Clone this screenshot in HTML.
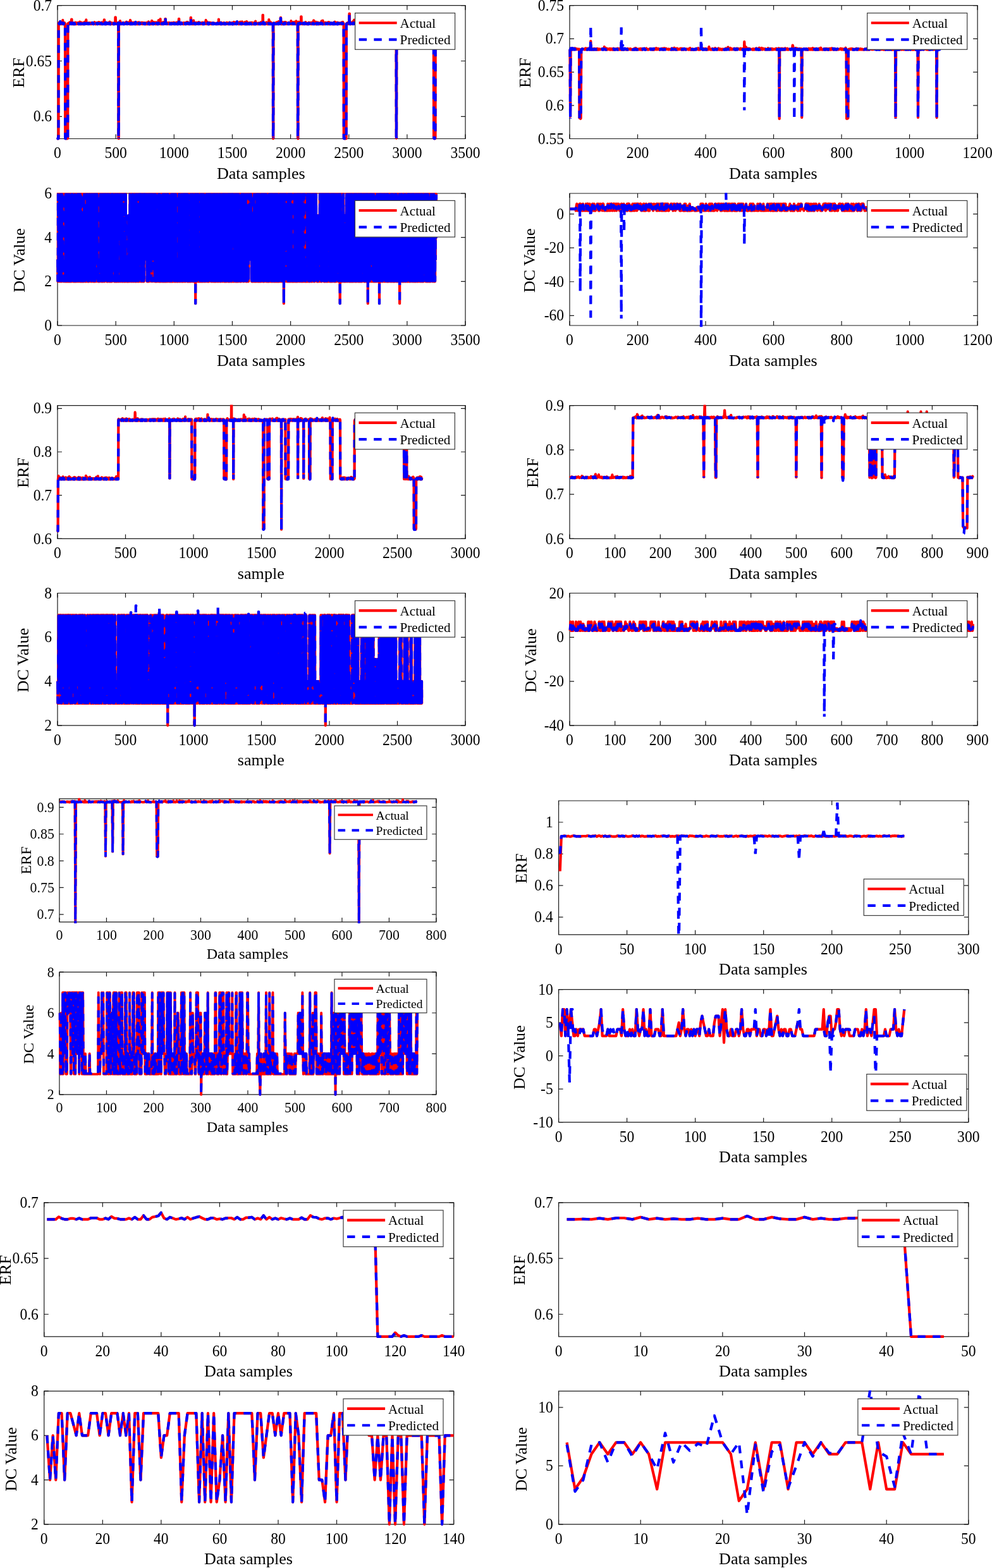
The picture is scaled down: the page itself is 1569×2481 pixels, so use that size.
<!DOCTYPE html>
<html lang="en"><head><meta charset="utf-8"><title>Actual vs Predicted</title>
<style>html,body{margin:0;padding:0;background:#fff}svg{display:block;font-family:"Liberation Serif","Times New Roman",serif}</style></head>
<body>
<svg xmlns="http://www.w3.org/2000/svg" width="1569" height="2481" viewBox="0 0 1569 2481">
<rect width="1569" height="2481" fill="#fff"/>
<g transform="translate(91.00,8.67)">
<clipPath id="c1"><rect x="-2.3" y="-1.1" width="649.6" height="214.2"/></clipPath>
<path d="M0 0H645.05V210.83H0Z" fill="none" stroke="#1a1a1a" stroke-width="1.20"/>
<path d="M0.00 210.83v-7.00M0.00 0v7.00M92.15 210.83v-7.00M92.15 0v7.00M184.30 210.83v-7.00M184.30 0v7.00M276.45 210.83v-7.00M276.45 0v7.00M368.60 210.83v-7.00M368.60 0v7.00M460.75 210.83v-7.00M460.75 0v7.00M552.90 210.83v-7.00M552.90 0v7.00M645.05 210.83v-7.00M645.05 0v7.00M0 175.69h7.00M645.05 175.69h-7.00M0 87.85h7.00M645.05 87.85h-7.00M0 0.00h7.00M645.05 0.00h-7.00" fill="none" stroke="#1a1a1a" stroke-width="1.20"/>
<g clip-path="url(#c1)" fill="none" stroke-width="4.20" stroke-linejoin="round">
<path d="M.2 209.2l.2 .3l.2 1.1l.1 .2l.2-.4l.2-1.1l.2 1.3l.2-1.1l.2-180.2l.1-.6l.2-1.6l.2 2.1l.2-.6l.2-.8l.2 .8l.1 .2l.2-.2l.2-.3l.2-.6l.2 1.2l.2 .4l.2-2.8l.1 2.8l.2-.9l.2-.5l.2 .5h.2l.2-.1l.1 1.1l.2-.5l.2-.4l.2-1l.2 1.2l.2 .1l.2-.3h.1l.2-.2l.2 1.1h.2l.2-.7l.2-.1h.1l.2-.1l.2 .3l.2-5.5l.2 4.9l.2-.9l.1 1.4l.2 .1l.2 .3l.2 .2l.2-1.9l.2 1l.2-.3l.1 1.2l.2-.5l.2 .1l.2-.5l.2 .1l.2-1.2l.1 1.3l.2 .1l.2-.4l.2 .8l.2 .2l.2 180.6l.1 .4l.2-1.6l.2 1.3l.2-.6l.2 .4l.2 .9l.2-.5l.1-.9l.2 1.4l.2-.7l.2-.2l.2 .6l.2-.4l.1-.6l.2 1.4l.2-1.5l.2-.9l.2 2.3l.2-.5l.1-.5l.2 .6l.2-.5l.2-181.4l.2 .5l.2 .6l.2-1.4l.1 .5l.2 .1l.2 .4l.2-.2l.2 .6l.2-.8l.1 .7l.2-1.2l.2 1l.2-2.2l.2 1.7l.2-.5l.2-.3l.1 1.2l.2 .4l.2-.8l.2-2.5l.2 3l.2-.1l.1-2.2l.2 2.2l.2-1.5l.2 .9l.2-.2l.2-.5l.1 1.4l.2-.5l.2-6.7h.2h.2l.2 7.5l.2-.6l.1 .1l.2-.8l.2-.4l.2 1l.2-1.4l.2 .8l.1 1.2l.2-1h.2l.2 .8l.2 .3l.2-1.4l.1 .9l.2-.4l.2-.2l.2-.3l.2 1.4l.2-1.4l.2-.1l.1 .8h.2l.2 .7l.2-.4l.2-.3l.2 .3l.1 .2l.2-.3l.2-.1l.2-1.9l.2 2.4l.2-.1l.2-.2l.1-.7l.2-.4l.2-.4l.2 1.1l.2 .6l.2-.3l.1-1.1l.2 .8l.2-1.3l.2 .9l.2-.3l.2 .8l.1 .2l.2 .2l.2-.6l.2-.8l.2 .7l.2-.7l.2 .2l.1 .1l.2 .7l.2-.3l.2 1l.2-2.1l.2 .2l.1 1.6l.2-.5l.2-.7l.2 1.2l.2 .1l.2-.4l.1-.4l.2-.6l.2-1.9l.2 3.1l.2 .2l.2-.7l.2 .2l.1 .1l.2-.1l.2 .5l.2-2.2l.2-.1l.2 .9l.1 1l.2-.2l.2 .1l.2-1.8l.2 2.5h.2l.2-.5h.1l.2-1.1l.2 .3l.2-.3l.2 1l.2 .6l.1-1.4l.2 .9l.2-.3l.2 .2l.2 .6l.2-1.4l.1 .2l.2 .7l.2-.2l.2 .6l.2-2.3l.2 .3l.2 1.8l.1-.4l.2 .5l.2-.8l.2 .9l.2-1.8l.2-1.4l.1 1.1l.2 2.2l.2-.4l.2-1.1l.2-1.5l.2 1.4l.1 1.4l.2-.2l.2-.1l.2-1.3l.2 1.1l.2-2.2l.2 1.7l.1-5.6l.2 3.9l.2 1l.2 1.6l.2-.2l.2-1.1l.1 1.3l.2-.6l.2-.1h.2h.2l.2 .7l.1-1l.2 1l.2-.8l.2 .7l.2-.7h.2l.2 .9l.1 .1l.2-.2l.2-1.3l.2 1.4l.2-1.1l.2-.6l.1 .8l.2-.9l.2 .6h.2h.2l.2 .2l.2 .1l.1 .5l.2-1l.2 1l.2-.1l.2-.1l.2 .7l.1-.6l.2-1.4l.2 1l.2 .8l.2-.2l.2 .1l.1-.3l.2 .6l.2-.3l.2-.6l.2-.2l.2 .7l.2 .1l.1-.4h.2l.2-.9l.2 .8l.2 .6h.2l.1-1.2l.2 .8h.2l.2 .4l.2-1.1l.2 .1l.1 1.2l.2-1.4l.2 1.1l.2-.9l.2-.5l.2 .9l.2-.4l.1 .4l.2-2.1l.2 1.6l.2 .8h.2l.2-.1l.1-1.5l.2 2.1l.2-.5h.2l.2-.2l.2-.6l.2 1.1l.1 .3l.2-1l.2 .3l.2-.7l.2 .5l.2 .6l.1-1.1l.2-.7l.2 .4l.2 1.1l.2-1.3l.2-.2l.1 2.1l.2-.1l.2-.1l.2-2.2l.2 1.6l.2-.3l.2 .6l.1 .1l.2-.8l.2 .7l.2-1.1l.2-.8l.2 2.1l.1-1.1l.2-1.7l.2 2.4l.2-.7l.2-.1l.2-.5l.1 1.5l.2 .1l.2-2.2l.2 1h.2l.2 1.6l.2-.6h.1l.2-.4l.2-.5h.2l.2 .1l.2 1l.1 .2l.2-2.1l.2 1.2h.2l.2 .3l.2-.7l.1 .7l.2 .3l.2-2.4l.2 2.8l.2-.2l.2-1.8l.2 .6l.1 .3l.2 1l.2-1l.2 .6l.2-.6l.2 .1l.1-1.1l.2 .8l.2 .6l.2 .1h.2l.2-.6l.2-.5l.1 1l.2-5.9h.2h.2l.2 4l.2 1.6l.1-.7l.2 .2l.2 .3l.2 .6l.2-.6l.2 1.1l.1 .2l.2-1.8l.2-.5l.2 1l.2 1.3l.2-1.4l.2 1.4l.1-.1l.2-1.8l.2 1.5l.2 .3h.2l.2-.3l.1-.2l.2-.4l.2 .3l.2-.5l.2 .7l.2-.5l.1-1l.2 1.4l.2 .3l.2-.5l.2 .4l.2-.5l.2 .1l.1-.6l.2 .7l.2-1.2l.2 1.2l.2 .2l.2 .3l.1-.1l.2-.1l.2-1l.2 .4l.2-2.5l.2 1.6l.2 .6l.1 1l.2 .1l.2 .2l.2-.2l.2-.3h.2l.1-2.1l.2 1.4l.2-.2l.2 .7l.2 .5l.2-.9l.1-.4l.2-.6l.2 1.1l.2-.1l.2 .1l.2-.7l.2 .5l.1-.1l.2 .8h.2l.2 .3h.2l.2-1.3l.1 .8l.2-.2h.2l.2 .9l.2-.8l.2 .6l.1 .2l.2-.3l.2-.2l.2 .1l.2-1.1l.2 1.4l.2-1.6l.1 1.1l.2 .2l.2-.1l.2-.2l.2-1.1l.2-1.7l.1 2.4l.2 .6l.2-10.2h.2h.2l.2 8.9l.1 .9l.2-1.7l.2 .2l.2-.4l.2 2l.2 .7l.2-1.5l.1 1.3h.2l.2-.1l.2-1.5l.2 1.1l.2-.5l.1 .4l.2-.4l.2-.1l.2 1.2l.2 .2l.2-1.4l.2-.1l.1 .9h.2l.2-1.9l.2 183.4l.2-1l.2 1.2l.1-183l.2 1.1l.2-.2l.2-.8l.2 .6l.2 .1l.1 .4l.2-.7l.2-.1l.2-.2l.2 .2l.2-3.5l.2 4.7l.1 .2l.2-.7l.2 .5l.2 .3l.2-.1l.2-.5l.1-1.5l.2 .2l.2 1.3l.2 .3l.2-1.3l.2 1.6l.1-.6l.2 .2l.2-.8l.2-.6l.2 .6l.2-.8l.2-.1h.1l.2 .9l.2 .6l.2 .3l.2-.6l.2-.5l.1 1.3l.2-.6l.2 .6l.2-1l.2 .5l.2 .2l.2-.6l.1-1.4l.2 1.1l.2-.7l.2 1.8l.2-.4l.2-.8l.1-.2l.2 1.3l.2-1.2l.2 1.1l.2-.7h.2l.1 .8h.2l.2-.5l.2 .2l.2-1l.2 1.2h.2l.1-1.1l.2-2.1l.2 2.4l.2 .8l.2-2l.2 .9l.1 1h.2l.2-.5l.2 1l.2-.7l.2 .4h.1l.2-.2l.2-1.3l.2-.1l.2-.8l.2 1.3l.2 .9l.1 .1l.2-1l.2 1.1l.2-1.3l.2 .8l.2-2.1l.1 1.5l.2 1.4l.2-.1l.2 .1l.2-2.1l.2 1.4l.2 .2l.1-.4l.2 .5l.2-5.8l.2 5.4l.2-1.3l.2-2.8l.1 4.4l.2 .5l.2-1.4l.2-1.9l.2 1l.2 2.2l.1-1.2l.2 1.1l.2-1.3l.2 .3l.2 .8l.2-1.6l.2 .8l.1 .4h.2l.2 .6l.2-1.3l.2 1.1l.2-1.8l.1 1l.2-.8l.2 .7l.2-.1l.2-.7l.2-.3l.1 2l.2 .3l.2-1.8l.2 1.7l.2-1.2l.2 1.2l.2-.5l.1-1.6l.2 1.8l.2 .1l.2-1l.2-.4l.2-.8l.1 1.6l.2 .9l.2-1l.2-.3l.2 1.3l.2-.4l.1-1.2l.2 .8l.2-.1l.2-1l.2-.1l.2 1.4l.2 .5l.1-.7l.2-.5l.2 .9l.2-1.7l.2 2h.2l.1 .1l.2 .1l.2-2h.2l.2 .3l.2 1.6l.2-.3l.1-2.5l.2 2.6l.2 .1l.2 .1l.2-1l.2 .1l.1-.5l.2-.8l.2 1.9l.2 .3l.2-.1l.2-2.5l.1 1.7l.2 .3l.2 .1l.2-1l.2 1.5l.2-.6l.2-1.1l.1 1.6l.2-1.6l.2 1.1l.2 .2l.2-.3l.2-.1l.1-1.3l.2 1.6l.2-.8l.2-1l.2 2.1l.2-.3h.1l.2-1.7l.2 1.8l.2-1.2l.2 1.5l.2-1.5l.2-.5l.1 1.6l.2 .1l.2 .4l.2-.3l.2 .2l.2-.1h.1l.2-1.9l.2 1.1l.2-.3l.2 .9l.2-.1l.2-.9l.1 1.1l.2-.1l.2-1.6l.2 .3l.2 1.2l.2-.5l.1 .5l.2 .1l.2 .3l.2-.4l.2-1.1l.2 1.4l.1-.3l.2-1l.2 1.4l.2-.3l.2 .5l.2-1l.2 .3l.1-.2l.2-.4l.2-1l.2 1.7l.2 .4l.2-.5l.1-.3l.2 .9l.2-.6h.2l.2-.9l.2 .6l.1-.4l.2 1.4l.2-.3l.2-.8l.2 .5l.2 .4l.2-.5l.1-3.1l.2 3l.2 .5h.2l.2-1.3l.2 1.4l.1-1.3l.2 1.4h.2h.2l.2-.9l.2 .3l.1 .5l.2-2.2l.2 1.3h.2l.2 .7l.2 .4l.2-1l.1 .2h.2l.2-.1l.2 .8l.2-1.2l.2 .6l.1 .5l.2-.7l.2 .8l.2-5.2l.2 4.8l.2-.6h.2l.1 .8l.2 .1l.2-.3l.2-.9l.2 .6l.2-1.3l.1 .3l.2-1.5l.2 2.3l.2 .7l.2-.4l.2 .5l.1-1.1l.2 1.3l.2-3l.2 2l.2 .3l.2-.7l.2-.5l.1 .4l.2 1.1l.2-.5l.2 .4l.2 .3h.2l.1-.3h.2l.2 .5h.2l.2-2.7l.2 1.2l.1 .4l.2-.6l.2 1l.2-.8l.2 1.5l.2-2.7l.2 1.5l.1 .8l.2-.5l.2-.8l.2 1.6h.2l.2-.5l.1-1.5l.2-.5l.2 2.2l.2 .3l.2-.8l.2 .9l.2-.8l.1 .4l.2-2.7l.2 .6l.2-3.6l.2 5.8l.2-.1l.1-1.4l.2 1.1l.2-.2h.2l.2 .5l.2 .2h.1l.2-.5l.2-1.2l.2 1.1l.2 .4l.2 .1l.2-7.8l.1 7.6l.2 .1l.2 .3l.2-.2l.2-.3l.2 .3l.1 .1l.2-1.3l.2-.2l.2 1l.2-1.6l.2 2l.1-.3l.2 .1l.2-1.2l.2-.1l.2 1.8l.2-1.4l.2 .8l.1 .2l.2-.4l.2 .3l.2-.2l.2-2.4l.2 2.9l.1-.8l.2-.4l.2 1.3l.2-.8l.2 .1l.2-.3l.2 .5l.1-.2l.2-.7l.2 1l.2 .2l.2-3.1l.2 1.5l.1 1.7l.2-.8l.2 .7l.2-2.3l.2-5.8h.2h.1l.2 7.5l.2-.8l.2 1.2l.2-2l.2 1.8l.2-.5l.1-1l.2 1.4l.2 .2l.2 .5l.2-1.5l.2 1.5l.1-.2l.2-.7l.2-1.2l.2 1.6l.2-.5l.2 .2l.1-.3h.2l.2 1.1l.2-.9l.2 .9l.2-.4l.2-.6l.1 .5l.2-.8l.2 .3l.2-1.3l.2 1.4h.2l.1 .4l.2 .4l.2-.2l.2-.7l.2 .4l.2-.3l.1 .6l.2-1.3l.2 .1l.2 1.1l.2-.1l.2 .3l.2-1l.1 .4l.2-.2l.2 1l.2-.3l.2-1.7l.2 .8l.1-.1l.2 .6l.2 .7l.2-.1l.2-.1l.2-.7l.2 .7l.1-1.4l.2 1l.2-.6l.2-.1l.2 .7h.2l.1 .6l.2-.4l.2-1.2h.2l.2-.9l.2 1.6l.1 .1l.2-1.2l.2 1.5l.2-1.6l.2 1l.2 .2l.2 .3l.1 .6l.2-.5l.2-.6l.2-1l.2 1.5l.2-1.1l.1 1.1l.2-1l.2 1l.2-.9l.2 1.4l.2-.3l.1-.2l.2 .7l.2-2.4l.2 .2l.2-.1l.2 .6l.2 1.1h.1l.2-.1l.2-.2l.2 .1l.2-1.8l.2 .9l.1 1l.2 .7l.2-1.5l.2 .5l.2-.3l.2-1.2l.2 1.6l.1 .3l.2-1.1l.2-.4l.2 1.8l.2-.3l.2-7.8h.1h.2l.2 6.9l.2 1.2l.2-2l.2 2l.1-.3l.2-1.2l.2 1.7l.2 .1l.2-.4l.2-1l.2 .6l.1 .5l.2-.2l.2-.3l.2-.9l.2 .9l.2 .7h.1l.2-.2l.2-.6l.2-.9l.2 1l.2 .4l.1-1.2l.2 .3l.2 .3l.2-.4l.2 1l.2-.9l.2 1l.1-.7h.2l.2 .9l.2-.4l.2-1l.2-.4l.1 1.9l.2-1l.2 .2l.2-1.2l.2 .9l.2 .9l.1-.6l.2-.2l.2 .9l.2-.3l.2 .3l.2-2l.2 .8l.1 .2l.2 .8l.2-.1l.2-1.2l.2-.4l.2 1.5l.1-1.1l.2 1.2l.2 .4l.2-.9l.2-.6l.2 .7l.2-1.8l.1 1.2l.2-1.3l.2 2.4l.2-2.4l.2 1.6l.2 .6l.1-2.9l.2 2.7l.2-2.1l.2 2.5l.2-.3l.2-.1l.1-.7l.2-1.5l.2 2.9l.2-1.7l.2 1.1l.2 .2l.2 .4l.1-1.2h.2l.2 .7l.2-.1l.2 .2l.2-.2l.1-.9l.2 .4l.2 .7l.2-.1l.2-.7l.2-.5l.1 1.4l.2-.2l.2 .3l.2-.9l.2 .2l.2 .3l.2-9.6h.1h.2l.2 9.1l.2-1.5l.2 2.2l.2-1.9l.1 1.4l.2 .8l.2-1.5l.2-.9l.2 1.1l.2 .4l.2 .9l.1-3.3l.2 2.7l.2 .5l.2-1.7l.2 .9l.2-.1l.1-.1l.2 1.1l.2-2.4l.2 1.7l.2-4.9l.2 5.6l.1-2.8l.2 1.1l.2 .6l.2-.1l.2 1.2l.2-.1l.2-.8l.1-1.9l.2 2.5l.2-1.6l.2 .9l.2 .6l.2-.8l.1 .9l.2-1.5l.2 1.7l.2 .1l.2-1.1l.2 .1l.1 .7l.2 .4l.2-.7l.2-1.7l.2 2.2l.2-.8l.2-.2l.1 1l.2-.4l.2-1l.2-.8l.2 1.7h.2l.1-.2l.2-.4l.2-.3l.2 .3l.2-.3l.2 1.4l.2-.1l.1-1l.2 .2l.2 .5l.2-1.3l.2-1.1l.2 2.4l.1 .1l.2 .4l.2-.1l.2-1.7l.2 .5l.2 1l.1 .2h.2l.2-.5l.2 .4l.2-.7l.2-.4l.2 1.1l.1-1.6l.2 1.6l.2-.6l.2-.2l.2 1l.2-1l.1-.1l.2 .9l.2-1.8l.2 1.8l.2-1l.2-.8l.1 1.2l.2-1.2l.2 1.7l.2 .1l.2-1.1l.2-1.1l.2 2.5l.1-.7l.2-1.3l.2 1.9h.2h.2l.2-.4l.1 .3l.2-.3l.2-.1l.2-.2l.2-.6l.2 .5l.1 .7l.2-1.5l.2 1.1l.2-.5l.2 .5l.2-.1l.2-2.2l.1 .5l.2 2.1l.2-1l.2 .5l.2-.8l.2 1.3l.1-.1l.2-.4l.2-5.4l.2 5.4l.2-.4l.2 .9l.2 .1l.1-2.4l.2-1.6l.2 2.9l.2-.3l.2 .6l.2-1.5l.1 1.9l.2-2.7l.2 1.3l.2 1.5l.2-.1l.2-2l.1 1.6l.2 .6l.2-1.3l.2 1.4l.2 .3l.2-.6l.2 .5l.1-.8h.2l.2-.7l.2 .8l.2-.3l.2-1.4l.1 .8l.2 .8l.2 .9l.2-1.2l.2 .6l.2 .2l.1-.7l.2 .9l.2-.6l.2-.6l.2 1.2l.2-2.1l.2 1.7l.1-.3l.2-.6l.2-.4l.2 .2l.2 .3l.2 1.3l.1-.2l.2-.6l.2 .2l.2-.2l.2 .2l.2 .4l.2-1l.1 .2l.2 .4l.2-.7l.2-.3l.2 .7l.2 .2l.1-.6l.2-.5l.2 .3l.2 .4l.2-.1l.2 .5l.1-.7l.2 1.1l.2-.5l.2 .4l.2 .1l.2-.7l.2-.4l.1 1.3l.2-.8l.2 .4h.2l.2 .3l.2-.7l.1-.2l.2-.1l.2 .2l.2 1l.2-.2l.2 .2l.1-.9l.2 .1l.2 .5l.2-.3h.2l.2 .7l.2-.1l.1-.6l.2-.9l.2 .4l.2 .8l.2 .3l.2-.5h.1l.2-.3l.2 .5l.2 .1l.2-1.9l.2 1.5l.1 .6l.2-.5l.2-.6l.2-.3l.2-6.1l.2 6.6l.2-.2l.1 .5l.2-.4l.2-.7l.2-.4l.2 1.5l.2 .5l.1-.6l.2-1.2l.2 1.3l.2 .5l.2-.1l.2 .2l.2-1l.1 .1l.2-.3l.2 1.2l.2-.9l.2-.1l.2 .4l.1-1.8l.2 2l.2 .4l.2-1l.2 .5h.2l.1 .5l.2-.3l.2-.2l.2-.3l.2 .4h.2l.2-.5l.1 .1l.2 .6l.2-.7l.2-.3l.2 1.1l.2 .1l.1-1.2l.2-.4l.2 .7l.2-1.2l.2 1.7l.2 .3l.1-.1l.2 .1l.2-.6l.2-.1l.2 .7l.2-.8l.2 .5l.1 .4l.2-.4l.2 .5l.2-1.1l.2 .5l.2-.1l.1 .5l.2-.8l.2 .9l.2-1.4l.2 1.1l.2 .1l.2-.8l.1-1.2l.2 1.8l.2-.4l.2 .3l.2-.5l.2-1.2l.1 2l.2-.8l.2 .5l.2-.8l.2 .8l.2 .5l.1-1.6l.2 .6l.2 .8l.2-1.3l.2 .3l.2 .4l.2 .1l.1-.4l.2 .5l.2 .5l.2-.1l.2-.5l.2-.8l.1-.9l.2 .8l.2 1.2l.2-.5h.2h.2l.1 .3l.2-.9l.2-.4l.2 .6l.2 1.3l.2-1.1h.2l.1-.3l.2-.5l.2-.1l.2 1.5l.2-.5l.2-.7h.1l.2 1.6l.2-.3l.2 .5l.2-.4l.2-1.6l.1 1.7l.2 .3l.2-1l.2 .7l.2-.5l.2 .5l.2-.1l.1-.3l.2-1.4l.2 1.9l.2-.2l.2-.7l.2-2.2l.1 2.9l.2-.7h.2l.2-.2l.2 1.1l.2-1.1l.2 1.2l.1-.1l.2 .1l.2 .1l.2-2.3l.2 .8l.2 .7l.1 .3l.2-1.2l.2-.6l.2 .2l.2 1.9l.2-.3l.1 .1l.2-.2l.2-.7l.2 .2l.2-2.1l.2 2.1l.2 .7l.1-1.9l.2 .6l.2 1.3h.2l.2-.3h.2l.1-2.4l.2 2.5l.2 .3l.2-1.3l.2 .8l.2-.5l.1 .2l.2-.5l.2 1l.2 .6l.2-.7l.2 .1l.2 .5l.1-.2l.2-.7l.2-1.8l.2 2.7l.2-.7l.2-.7l.1-.9l.2 1l.2 1.2l.2-.3l.2-3.1l.2 1.4l.2 .2l.1 2l.2-.2l.2-1.7l.2-.4l.2-.1l.2 1l.1 .6h.2l.2-.2l.2-.2l.2 .9l.2-1.5l.1 1.7l.2-3.6l.2 2.7l.2 1l.2-.6h.2l.2-.5l.1 .2l.2-.4l.2 .5l.2-1l.2 1.1l.2-.3l.1-.2l.2 .5l.2 .3l.2-.3l.2 .3l.2-.2l.1 .5l.2-.5l.2 .3l.2-1.7l.2 .3l.2 1.1l.2-2.6l.1 1.4l.2 1.4l.2-.8l.2 .6h.2l.2-1.1l.1 1.2l.2 .2l.2 .3l.2-.5l.2-.6l.2 .8l.2-1.2l.1 1.2l.2-3.8l.2 3.9l.2-1.7l.2 1.6l.2 .1l.1-.3l.2 .1l.2 .4h.2l.2-1.4l.2-.1l.1 1l.2-1.5l.2 1.9l.2-.3l.2 .1l.2-1.4l.2 .4l.1-.7l.2 1.4l.2 .3h.2l.2-.5l.2 .7l.1-1.5l.2 .9l.2-1.5l.2 1.8l.2 .1l.2-.1l.1-.5l.2 .5l.2-.1l.2-1.6l.2 1.3l.2-.1l.2 .1l.1-.2l.2-1.6l.2 2.4l.2-.8l.2-.4l.2 1.1l.1 .3l.2-.3l.2-.3l.2 .1l.2-.2l.2-.9l.1 .5l.2-1.3l.2 .6l.2 1.1l.2 .7l.2-.3l.2 .3l.1-.9l.2-.1l.2-.7l.2 .9l.2 .6l.2-.4l.1-.1l.2 .1l.2-.8l.2-.6l.2 .2l.2 1.3l.2 .4l.1-.1l.2 .1l.2-1.2h.2l.2 .9l.2-.3l.1-1.2l.2-2.6l.2 2.3l.2 2.1l.2-1.2l.2 .2l.1-.6l.2 .9l.2 .6l.2-.7l.2 .6l.2-.4h.2l.1 .2l.2-.1l.2-.2l.2 .7l.2 .1l.2-1l.1 .5l.2-.9l.2 .3l.2-.4l.2 .6l.2-.5l.1 1.3l.2 .1l.2-.3l.2-1l.2 .3l.2 .4l.2-.2l.1-1.1l.2 .2l.2 .6l.2 .3l.2-.3h.2l.1-.7l.2 .4l.2 1l.2-.4l.2-.4l.2 .4l.2 .5l.1-.5l.2 .2l.2 .3l.2-2.8l.2 2.2l.2 .3l.1-.7l.2 .6l.2 .3l.2 .2l.2 .1l.2-1.1l.1 .8l.2-.2l.2 .6l.2-1.5l.2-.3l.2 1.5l.2-14.1h.1h.2l.2 14.3l.2-.6l.2 .1l.2-.5l.1 1l.2-.5l.2-.6l.2 .5l.2-.1l.2-1.5l.1 1.5l.2-.7l.2 .2l.2 1l.2 .2l.2-.2l.2-.8l.1-.6l.2 .5l.2 1.2l.2-1.8l.2 .9l.2 .5l.1-.1l.2-.1l.2-.8l.2-.7l.2 1.5l.2-1.9l.1-.4l.2 2.3l.2 .1l.2-.4l.2 .4l.2-.2l.2-.3l.1 .5l.2 .4l.2-1.9l.2 1.9l.2-.3l.2-.6l.1 .7l.2-.7l.2 .7l.2-1.4l.2 .5l.2 .9l.2 .3l.1-.4l.2-6.7l.2 7h.2l.2-.1l.2-.8l.1 .6l.2 .2h.2l.2-.3l.2-3.2l.2 3.6l.1-.8l.2 .8l.2-3.2l.2 3.1l.2-1.8l.2 1.4l.2-.6l.1 .3l.2-.1l.2 .3l.2-.9l.2 .3l.2 .3l.1 1l.2-1.6l.2 1.3l.2-.6l.2 .4l.2 .1l.1-.4l.2 .8l.2-1l.2-.2h.2l.2 .4l.2 182l.1-1.1l.2 .4l.2-180.8l.2-.1l.2-1h.2l.1 .6h.2h.2l.2 .7l.2-1h.2l.2 .5l.1-.3l.2-.3l.2 .1l.2 .6l.2-.2l.2 .2l.1-.1l.2-.9l.2 1.5h.2l.2-2l.2 1.9l.1-2.2l.2 .3l.2 1.3l.2-.1l.2-.6l.2 .3l.2 1.1l.1-3l.2 2.8l.2-.3l.2 .4l.2-2.1l.2 1.9l.1 .3l.2-.4h.2l.2-.4l.2-1.3l.2 .2l.1 .8l.2 .8l.2-3.7l.2 2.9l.2 .6l.2 .2l.2-.3l.1-.1l.2 .1l.2-.6l.2-1.2l.2-.5l.2 1l.1 .7l.2-1.3l.2 2.3l.2-.1l.2-.5l.2-.4l.2-9h.1h.2l.2 10h.2l.2-.2l.2-.1l.1-1.1l.2 1.5l.2-1.3l.2 .8l.2-2.8l.2 2.9l.1 .2l.2-.6l.2 .9l.2-.5l.2-.4l.2-.6l.2 .5l.1-.3l.2-.5l.2 1.1l.2 .5l.2-1.9l.2-.6l.1 1.9h.2h.2l.2 .2l.2 .5l.2-1.3l.1-.1l.2 1l.2-1.5l.2-1l.2 2.8l.2-.5l.2-2.2l.1 2l.2 .6l.2-.9l.2 .6l.2 .5l.2-2.9l.1 1.5l.2 .2l.2 .7l.2-.4l.2-.2l.2 .5l.1 .2l.2 .2l.2-1.1h.2l.2 1.3l.2-.1l.2-.7l.1-.2l.2-.7l.2 1.2l.2-.1l.2-.9l.2 1.1l.1-.3l.2-.2l.2 .6l.2-1l.2 .9l.2-1.8l.2 1.7l.1-1.5l.2 1l.2 .4h.2l.2 .4l.2-1.7l.1 .8l.2 .7l.2-.9l.2 .3l.2 .9l.2-1.3l.1-.2l.2 .7l.2-.5l.2-.7l.2 1.8l.2 .2l.2-1.6l.1-3.2l.2 4.8l.2-.9l.2-1.1l.2 .2l.2 .7l.1 1.2l.2-1.6l.2 .8l.2 .5l.2 .4l.2-3.1l.1 2.2l.2 .5h.2h.2l.2-.5l.2 .9l.2-.9l.1 .3l.2-1.4l.2 1.6l.2-.2l.2 .1l.2 .3h.1l.2-.8l.2-2.3l.2 2.9l.2-.2l.2 .6l.2-1.2l.1 1.2l.2-.3l.2 .2l.2-1.2l.2 .9l.2 .1l.1-.8l.2 .9l.2-1l.2 .5l.2 .7l.2-.2l.1-4.5l.2 4.5l.2-1.1l.2 1.1l.2-.2l.2 .3l.2-.2l.1-.1h.2l.2 .2l.2-.9h.2h.2l.1 1l.2 180.7l.2-.1l.2 .8l.2-182.1l.2 .5l.1-1.4l.2-1.8l.2 3l.2-.1l.2 .4l.2-2l.2-.5l.1 1.2l.2 1.1l.2 .1l.2-.5l.2-.4l.2-.3l.1 .5l.2 .5l.2-.3l.2 .2l.2 .3l.2 .1l.1-.5l.2-1.4l.2 1.4l.2-.6l.2-10.6h.2h.2l.1 10l.2 1.1l.2-.1l.2 .7l.2-1.8l.2 1l.1-1.1l.2 1.6l.2 .1l.2-.3l.2 .5l.2-.8l.2-.3l.1 .6l.2-.9l.2 .8l.2 .7l.2-1l.2 .5l.1-.3l.2 .6h.2l.2-.2l.2-.7l.2 .7l.1 .4l.2-1.1l.2 .2l.2 1l.2-.2l.2-.2l.2 .2l.1-.5l.2 .3l.2-.4l.2-.3l.2-2l.2 2.4l.1-.3l.2 .2l.2 .1l.2-.4l.2-.6l.2 .6l.1 1l.2-1.3l.2 .2l.2 .7l.2 .1h.2l.2-.8l.1 .4l.2 .6l.2-.2l.2-.8l.2 1.2l.2-1.2l.1 1l.2-.2l.2-1.5l.2 1.6l.2 .3l.2-1.6l.2-1l.1 2l.2 .3l.2-.6l.2-.4l.2 .6l.2 .4l.1-.6l.2-.1l.2-.5l.2-.2l.2 1.1l.2-.5l.1-1.1l.2 1.8l.2 .1l.2-2.1l.2 .4l.2 1.8l.2-.5l.1 .6l.2-1.6l.2 .7l.2-1.2l.2 1.3l.2-.9l.1 1.8l.2-1.5l.2 1.1l.2-1.4l.2 1l.2-1.9l.1 2.3l.2 .2l.2-.1l.2-.2l.2-.3l.2 .4l.2-.7l.1-.7l.2-.8l.2 1.2l.2-4.4l.2 3.8l.2 1.3l.1-2l.2 2.5l.2-2.3l.2 1.8l.2-.3l.2 .9l.2-.6l.1 .2l.2 .4l.2-.4l.2-.5l.2 .6l.2-.7l.1-.3l.2-2.2l.2 3.6l.2-.4l.2 .2h.2l.1-.7l.2-.2l.2-.2l.2 1l.2-1.4l.2 1.7l.2-.8l.1-.9l.2 .6l.2 .3l.2-1.6l.2 .6l.2 1.6l.1-2.6l.2 2.8l.2-.8l.2-.6l.2 1.3l.2-1.2l.1-.3l.2 1.6l.2-.8l.2-.2l.2 .4l.2 .2l.2-1.3l.1 1.1l.2 .6l.2-.3l.2-1.6l.2 .4l.2 1.2l.1-1.5l.2 .3l.2 .4l.2 .1l.2 .9l.2-2.2l.1 1.8l.2-.1l.2 .3l.2-.1l.2-1.1l.2 1.1l.2-.4l.1-.5l.2-3.4l.2 3.9l.2 .1l.2 .3l.2-.2l.1-3.9l.2 2.7l.2 1.6l.2-.9l.2 .2l.2-4.6l.2 4.5l.1-.6l.2 .9l.2 .6l.2-3.2l.2 2.7l.2-1.9l.1 1.5l.2-1.1l.2 2l.2 .1l.2-.3l.2-1.7l.1 1.4l.2-1l.2 .3h.2l.2-.7l.2 1.9l.2-1.4l.1 1.2l.2 .2l.2-.1h.2l.2-2.4l.2 1l.1 1.1l.2-1.6l.2 1.3l.2 .1l.2-.5l.2 .8l.1-.4l.2 .5l.2-.4l.2-.1l.2-.5l.2 1l.2-.3l.1-.7l.2 .5l.2-.5l.2-1.2l.2 2.2l.2-2.5l.1 2.7l.2-1l.2 .3l.2-.2l.2-.2l.2 1.1l.2-2.9l.1 2.2l.2 .6l.2-1.1l.2 .8l.2-.1l.2 .2l.1-1.3l.2 .1l.2-.6l.2 2.1l.2-2.1l.2 1.1l.1 1l.2-.8l.2-.7l.2-.4l.2 1.5l.2-1.2l.2 .9h.1l.2-.2l.2 .6h.2l.2-.3l.2 .5l.1-.2l.2-.8l.2 .7l.2-1.1l.2 1.4l.2-1.1l.1 1.2l.2-.6l.2 .4l.2 .2l.2 .1l.2-1.1l.2-1l.1 1.9l.2-1.6l.2 .9h.2l.2-.4l.2 .9l.1-.2l.2-.1l.2-.2l.2 .3l.2-.9l.2 .8l.1 .7l.2-3.5l.2 2.3l.2 .7l.2-1.9l.2 .8l.2 .3l.1 1.2l.2-.1l.2-1.2l.2 .7l.2-1.3l.2 1.8l.1-.2l.2-.7l.2 .4l.2-1.6l.2 2l.2-.7l.2 .1l.1 .2l.2-.3l.2 .7l.2-2.3l.2 2l.2 .6l.1-.7l.2 .4l.2-.2l.2-.5h.2l.2 .4l.1 .2l.2-.6l.2 .6l.2-1.4l.2 1.1l.2-.4l.2-.2l.1 .8l.2-1.2l.2 .5l.2 .1l.2 .8l.2-1.3l.1 .8l.2 .6l.2-.3l.2-.5l.2 .6l.2 .1l.1-1.5l.2 .2l.2 1.1l.2-1.6l.2 1.7h.2l.2-2.1l.1 .9l.2 1.6l.2-.1l.2-1l.2 .9l.2-1l.1-1.6l.2 1.6l.2 .5h.2l.2-.5l.2-2.1l.2 1.9l.1 .6l.2-.1l.2 .8l.2-1.1l.2 1.1l.2-1.1l.1 1l.2 180.8l.2-1.2l.2 1l.2 .6h.2l.1-2.6l.2 2.1l.2 .3l.2 .4l.2-.7l.2 .7l.2 .1l.1-1.4l.2 1l.2-.8l.2 .7l.2 .1l.2-.9l.1 1.3h.2l.2-.4l.2 .1l.2-181.4l.2-.1l.1 .4l.2-1l.2 .1l.2-.3l.2 .9l.2 .2l.2-1.4l.1-.4l.2 1.2l.2 .1l.2 .3l.2 .1l.2-1.2l.1-.1l.2 .9l.2-2.2l.2 2.8l.2-1.6l.2 1.5l.2-.9l.1 .6l.2-.2l.2 .3l.2-16.1h.2h.2l.1 15.6l.2 .3l.2 .1l.2 .1l.2-.9l.2-1.1l.1 1.5l.2 .8l.2-1.2l.2 1.2l.2-.4l.2 .5l.2-.1l.1-.2l.2-1.7l.2 1.7l.2-1.9l.2 1.8l.2-2.3l.1 2.1l.2-.2l.2-.6l.2-.5l.2 1.2l.2-1l.1 1.5h.2l.2-2.3l.2 .1l.2 .4l.2 1.8l.2-4.3l.1 3.9l.2-.5l.2-.2l.2-.2l.2 .9h.2l.1-6l.2 6.1h.2l.2-.4l.2-.7l.2 1.1l.1-3.8l.2 3.3l.2-.2l.2 .5l.2-.7l.2 1.2l.2-.8l.1-.8l.2-.3l.2 .8l.2-2.5l.2 2.7l.2 .8l.1-.2l.2-1.5l.2 .9l.2 .3l.2 .6l.2-.7h.2l.1-.7l.2 .4l.2 .2l.2 .7l.2-.6l.2-.3l.1 1.2l.2-.1l.2-1.8l.2 .8l.2-.3l.2 1.4l.1-1.2l.2 .9l.2-1.4l.2 1.6l.2-.2l.2-.7l.2-.6h.1h.2l.2-.4l.2 .9h.2l.2-1.1l.1-.5l.2 .4l.2 1.5l.2 .5l.2-.3l.2-1.3l.1 .7l.2-.5l.2 1l.2-.2l.2-.3l.2 .9l.2-1.9l.1 1.6l.2-.6h.2l.2 .5l.2-2l.2 2.2l.1-1l.2 1.3l.2-.4l.2 .5l.2-.5l.2-3.2l.2 1.9l.1 1.3l.2 .2l.2-1.3l.2 1l.2-.1l.2 .3l.1 .4l.2-1.8l.2 .6h.2l.2 1.3l.2-.6l.1-2l.2-.3l.2 2.7l.2-.7l.2-.2l.2 .5l.2-.8l.1 .1l.2-1.9l.2 .5l.2 2.6l.2-1.9l.2 .1l.1 1.2l.2-.1l.2-1.6l.2 .2l.2 1.1l.2 .2l.1 .8l.2-.2l.2-.7l.2-1.2l.2 2.1l.2 .1l.2-1.9l.1 1.6l.2 .1l.2-.2h.2l.2-8.5l.2 7.5l.1 .7l.2-.7l.2-.2l.2 .3l.2 1.2l.2-.1l.1-.3l.2 .2l.2-.4l.2-.4l.2 .8l.2-1l.2 1.1l.1-.7l.2-.9l.2 .6l.2 .9l.2-.4l.2 .3l.1-2.3l.2 2.2l.2 .3l.2-1l.2-.6l.2 1.3l.2-.5l.1 .8l.2 .1h.2l.2-.2l.2-.4l.2-.6l.1 .5l.2 .8l.2-2.3l.2 1.2l.2 .1l.2 1l.1-.1l.2-2.2l.2 2.1l.2-1.4l.2 1.2l.2-4.6l.2 4.6l.1-.9l.2 .1l.2 .9l.2 .3l.2-.9l.2 .5l.1-.2l.2-.6l.2-.7l.2-1.8l.2 3.5l.2-1.8l.1 1.9l.2-1.2l.2-.1l.2-.1l.2-.8l.2-.2l.2 2l.1-.4l.2-.5l.2 .4l.2 .5l.2-1.8l.2 1.6l.1 .3l.2-1.3l.2 .3l.2 1l.2-1.4l.2 .7l.2 .9l.1-1.9l.2 1.7l.2-1.1l.2 1.1l.2-.2l.2-.3l.1 .8l.2-1.1l.2 .3l.2-.5l.2-.9l.2 1.6l.1-.3l.2-.1l.2-.4l.2 1.3l.2-.4l.2 .5l.2-.7l.1-.3l.2 .6l.2-1l.2-.5l.2 1.1l.2-.3l.1 .7l.2-1.8l.2 .4l.2 1l.2-.1l.2 .2l.1 .5l.2-.5l.2-.3l.2 .7l.2-.2l.2 .6l.2-.6l.1-.1l.2 .3l.2 .1l.2-.3l.2-1.2l.2 1.1l.1-.5l.2 1.1h.2h.2l.2-.6l.2-.9l.1 .5l.2-.1l.2 .6l.2-.5l.2-1.2l.2 1.4l.2-.3l.1 .4l.2 .8l.2-.2l.2-.6l.2-.8l.2 .6l.1-.4l.2 .4l.2 .1l.2-1.7l.2 2.5l.2-1.6l.2-.5l.1 1.5l.2-.6l.2 .3l.2 .7l.2-.3l.2-1.5l.1 1.5l.2 .5l.2-1.4l.2 .3l.2 .1l.2 .5l.1-.8h.2l.2 .7l.2 .4l.2-.1l.2-1.3l.2 1.2l.1 .2l.2 .2l.2-1.4l.2-.1l.2 .7l.2 .6l.1-.1l.2-.6l.2 .4l.2 .6l.2-.9l.2 .7l.1-.8l.2-.3l.2 1l.2-.6l.2 .4l.2-1.4l.2 .8l.1 1.1l.2-1.2l.2 .2l.2-.6l.2 .6l.2-.4l.1-.2l.2 1l.2-.3l.2 .3l.2-.1l.2-1.6l.2 1.4l.1 .6l.2-1.1l.2 .5l.2-.7l.2 .6l.2 .8l.1-1l.2-.2h.2l.2-.4l.2 1.7l.2-1.1l.1 .4l.2 .5l.2-.7l.2-1.2l.2 .9l.2-.4l.2 1.4l.1-.4l.2-1l.2 .8l.2-1.1l.2 .8l.2 1.1h.1l.2-1.6h.2l.2 .3l.2 .7l.2 .7l.1-1.1l.2-.8l.2 1.3l.2 .1l.2 .5l.2-.2l.2-.1l.1-1.4l.2 1.3l.2-1.5l.2 1.3l.2-.5l.2 180.9l.1 .6l.2-.4l.2-182.1l.2 .5h.2l.2 1.6l.2-.6h.1l.2-1.8l.2 1.4l.2 .1l.2 .5l.2-.2h.1l.2-.9l.2 .3l.2-1.7l.2 2.2h.2l.1-.4h.2l.2 .2l.2-1.3l.2 1.1l.2 .3l.2 .4l.1-1.1l.2 1.2l.2-.2h.2l.2-1.8l.2 2l.1-.3l.2-1l.2-.3l.2 1.7l.2-.4h.2l.1-.2l.2-1.6l.2 1.9l.2-2l.2 2.3l.2-1l.2 .4h.1l.2-1.3l.2 .1l.2 1.9l.2-.2l.2-.4l.1 .7l.2-.2l.2 .1l.2-2.1l.2 1.8l.2-.2l.1-.6l.2 .5h.2l.2-2.3l.2 .5l.2 1.1l.2 1l.1-.6l.2 .9l.2-.6h.2l.2 .2l.2-1.2l.1 1.5l.2-.8l.2 .8l.2-.3l.2 .3l.2-.4l.2-.3l.1 .6l.2-5.6l.2 5.4l.2 .2l.2-.8l.2 .9l.1 .2l.2-2l.2 1.3l.2 .4l.2-1.1l.2 .4l.1-.1l.2 .3l.2 .6l.2-.2l.2-.4l.2 .6l.2-.8l.1-.2l.2 1.1l.2-.7l.2 .1l.2-.6l.2-.3l.1 1.2l.2-.1l.2-.9l.2-.5l.2 .7l.2 .5h.1l.2-.3l.2 .9l.2-1.5l.2 .2l.2 .7l.2-.2l.1 .1l.2-1.6l.2 1.9l.2-.7l.2 1.2l.2-.7l.1-.8l.2 1.4l.2-.9l.2-.4h.2l.2 .6l.2-1.6l.1 2l.2 .4l.2-1.4l.2-.5l.2 .5l.2 .8l.1-.1l.2-.5l.2 1l.2-.5l.2-.2l.2-.1l.1 .3l.2-.5l.2 1.2h.2l.2-.9l.2-1.5l.2 1.6l.1 .3h.2l.2-2.4l.2 1l.2 .3l.2 .3l.1 .8l.2-1.3l.2 1l.2 .4l.2-.3l.2 .3l.1 .1l.2-.6l.2 .2l.2 .3h.2l.2-.2l.2 .6l.1-1.5l.2 1l.2-.4h.2l.2 .2l.2 .5l.1-.5l.2-.8l.2 1.4l.2-1l.2 1.1l.2-.7l.1-1.2l.2 1.2l.2 .4l.2-1.8l.2 1.6l.2-.6l.2-.1l.1 .8l.2 .1l.2-.7l.2 .6l.2 .1l.2-1.4l.1-1.8l.2 3.4h.2l.2-1.1l.2 1.1l.2-2.5l.2 2.2h.1l.2-.7l.2-.3l.2 .4l.2-1.5l.2 1.8l.1 .1l.2-.1l.2 .6l.2-1.6l.2 .2l.2 .6l.1 .2l.2 .1l.2-2.1l.2 1.9l.2-2l.2 1.9l.2 .2l.1 .6l.2-.6l.2 .4l.2-1l.2 .7l.2-.9l.1 .7l.2-.5l.2 1.3l.2-.1l.2-1.8l.2 1.6l.1-.3l.2-1.5l.2 1.4l.2 .5l.2-1.9l.2 .4l.2 1.3h.1l.2-.4l.2 .7l.2-.2h.2l.2-.6l.1-.6l.2-.4l.2 1.6l.2-.1l.2 .2l.2-1.8l.2 1.4l.1 .2l.2-.7l.2-.6l.2-.1l.2 1.7l.2-1.9l.1 .6l.2 .3l.2 .3l.2 .5l.2-2.4l.2 2.1l.1-.1l.2-.5h.2l.2 1.1l.2-.6l.2-.7l.2 .6l.1-.6l.2 1.2l.2 .2l.2-.1l.2-1.5l.2 .7l.1-.4l.2 .1h.2l.2 1l.2-.4l.2 .6l.1-.6l.2-.8l.2 .9l.2-.2l.2 .5l.2 .2l.2-.1l.1-.3l.2-.7l.2 .9l.2-.3l.2 .2l.2-.8l.1 .6l.2 .4l.2-.8l.2 .9l.2-1l.2 .1l.2 .2l.1-.1l.2-.3l.2 .7l.2-.5l.2 .6l.2-.6l.1-1.7l.2 1.5l.2 1.1l.2-1.3l.2 .7l.2-1.2l.1 1.5l.2-.2l.2 .5l.2-.8l.2 .4l.2-.6l.2-2l.1 2.2l.2-.2l.2 181.6l.2-.9l.2-3.5l.2 1.4l.1 3.4l.2-1.3l.2 1.4l.2-.3l.2-1.5l.2 1.9l.1-.1l.2-1.1l.2-.8l.2 1.3l.2-180.8l.2-2.4l.2 2.1l.1-1.3l.2 1.1l.2-.4l.2 1.2l.2-.1" stroke="#ff0000"/>
<path d="M.2 209.6l.2 1.2l.2-.1l.1 .1l.2-2l.2 1.9l.2-.8l.2 .5l.2-181.8h.1l.2 .8l.2-1.2l.2 .2h.2l.2 1l.1-.8l.2 .3l.2 .5l.2-.2h.2l.2-.7l.2 .8l.1-4.2l.2 2.8l.2 1.5l.2-.7l.2 .7l.2-.7l.1 .3l.2-1l.2 .4l.2 1l.2-.4l.2 .4l.2-.1l.1-.4h.2l.2 .5l.2-.4l.2 .3l.2 .2l.1-.3l.2-1.8l.2 1.5l.2 .3l.2-1.7l.2 .3l.1 1.2l.2 .3l.2-.8l.2 .9h.2l.2-1.3l.2 .5l.1-.5l.2 1.1l.2-.4l.2-.2l.2 .1h.2l.1-.2l.2 .8l.2-.5l.2-.8l.2 1.2l.2 181.5l.1-.2l.2-.8l.2 .7l.2-.3l.2 .7l.2-.3l.2 .3l.1-.1l.2-.9l.2 .7l.2-.7l.2 .3l.2 .3l.1-.1l.2 .2l.2-.2l.2 .5l.2-.3l.2-2.1l.1 1.8l.2 .3l.2-1.4l.2-180.8l.2 1l.2-.1h.2l.1-.2l.2-.2l.2 .3l.2-.3l.2 .6l.2-.6l.1-.3l.2 .4l.2-.6l.2 1.1l.2-.4l.2-.5l.2-.4l.1 .8l.2 .3l.2-.5l.2 .2l.2-1.3l.2 .3l.1 1l.2-.3l.2-.4l.2 .8l.2-.9l.2 1.3l.1-.6l.2 .4l.2-1.8l.2 1l.2 .7l.2-.7l.2 1l.1-.8l.2 .9l.2-.9l.2-.9l.2 .8l.2 .9l.1-2.4l.2 .1l.2 2l.2-1.4l.2 .6l.2 .5l.1-.9l.2 1.1l.2-.3l.2 .7l.2-.8l.2 .8l.2-.6l.1-1l.2 .8l.2 .4l.2-.1l.2 .4l.2-.3l.1 .3l.2-.6l.2-.3l.2 .5l.2-.4l.2 .2l.2-.5l.1 .7l.2 .2l.2 .1l.2-.2l.2 .2h.2l.1 .1l.2-.8l.2 .6l.2-.3l.2-.3l.2 1l.1-.3l.2 .2l.2-.1h.2l.2-.8l.2 .8l.2-.2h.1l.2 .1l.2-.8l.2 .5l.2-.2h.2l.1 .8l.2-.6l.2 .5h.2l.2-.3l.2-.2l.1 .3h.2l.2-.5l.2-.2l.2 .5l.2 .1l.2-.7l.1 .5l.2 .5l.2-.2l.2-.7l.2 .1l.2 .7l.1-1.1l.2 .6l.2 .6l.2-.6l.2 .4l.2-.1l.2 .4l.1-.4l.2-.8l.2 .5l.2 .1l.2-.7l.2 .7l.1 .5l.2-1l.2 1l.2 .1l.2-2.3l.2 2l.1 .1l.2-.8l.2 .9l.2-1l.2 .4h.2l.2-.1h.1l.2 .7l.2-.8l.2-.1l.2 .4l.2 .5l.1-1.5l.2 .6l.2-.6l.2 1.6l.2-.7l.2 .1l.1-.4l.2-.2l.2 .6l.2-.5l.2 .8l.2-1.4l.2 1.1l.1-.2l.2-.2l.2 .5l.2-.8l.2 .3l.2 .8l.1-1.1l.2 .6l.2-.9l.2 1.3l.2-1.4l.2 1.3l.1-.1h.2l.2-.1l.2 .4l.2 .1h.2l.2-1.2l.1 .9l.2 .3l.2-.4l.2-.5l.2-.2l.2 .1l.1 .4l.2-.4l.2 .8l.2-.1l.2 .2l.2-.7l.2-.2l.1-.1l.2-.2l.2 .8l.2-.1l.2 .3l.2 .3l.1-.5l.2 .2l.2 .1l.2 .1l.2-.1l.2-2.1l.1 .9l.2 .4l.2-.8l.2 .9l.2 .7l.2-.5l.2 .8l.1-1.1l.2-1.2l.2 1.2l.2 .7l.2-.5l.2-.4l.1 1l.2-.4l.2 .5l.2-.5l.2-1.1l.2 .8l.1 1l.2-.7l.2-1.3l.2 1.5h.2l.2-.4l.2 .1l.1 .1l.2 .6l.2-.5l.2-.4l.2 .8l.2-1.3l.1 .8l.2-.1l.2 .3h.2l.2 .4l.2-.4l.2 .3l.1-.6h.2l.2 .3l.2-.8l.2 .4h.2l.1 .3h.2l.2 .3l.2-.2l.2-.8h.2l.1 1.2l.2-.7l.2-.4l.2 1.2l.2-.3l.2-.5l.2-.7l.1 1.3l.2-.2l.2-.5l.2-.4l.2 .6l.2 .3l.1 .1l.2-1.3l.2 .9l.2 .3l.2-.1l.2-.4l.1-.5l.2 .3l.2 .9l.2-.2l.2-.8l.2 1.2l.2-1.8l.1 .9h.2l.2-.3l.2 .9l.2-1.5l.2 .5l.1 .3l.2-.7l.2-.1l.2 1.5l.2-1l.2 .6l.1 .6l.2-.1l.2-.5l.2 .1l.2 .6l.2-.1l.2-.1l.1 .2l.2-.5l.2 .1l.2 .4l.2-.3l.2-.1l.1-.1l.2 .5l.2-.7l.2-.2l.2 .5l.2 .1l.2-.1l.1-.2l.2-5.2h.2h.2l.2 4l.2-.2l.1 1.7l.2 .3l.2-.5l.2 .3l.2-.6l.2 .3l.1 .5h.2l.2-.6l.2-.1l.2 .6l.2 .1l.2-2.6l.1 2.2l.2-1l.2 1.4h.2h.2l.2-1l.1-.7l.2 1.5l.2-.9l.2-.6l.2 1.4l.2 .1l.1-.3l.2-.8l.2 .8l.2 .2l.2-.4l.2-.3l.2 .7l.1-.3l.2-1.1l.2 1.1l.2-.1l.2 .3l.2-.1l.1 .3l.2-.2l.2-.1l.2-.6l.2 .6l.2-1.2l.2 .5l.1 .9l.2-.9l.2-.5l.2 1.5l.2 .2l.2-.3l.1 .2l.2-.1l.2 .1l.2-.1l.2-.3l.2-.4l.1 .3l.2-.1l.2 .6l.2-.1l.2-.1l.2 .3l.2-.1l.1-1.3l.2 .8l.2-.3l.2 .7l.2-.6l.2 .3l.1-.2l.2 .1l.2 .5l.2-.1l.2-1.6l.2 1.8l.1-.5l.2-1.1l.2 1l.2 .2l.2 .1l.2 .3l.2-.4l.1 .4l.2-.5l.2-.5l.2 .8l.2-.6l.2 .7l.1-1l.2 .3l.2 .4l.2-.4l.2-1.4l.2 1.4l.1-.5l.2 .5l.2 .2l.2 .2l.2-.5l.2-.1l.2 .8l.1-.7l.2 .7l.2-.4l.2 .1l.2-.8l.2 1l.1-1.2l.2 .5l.2 .8l.2-.4l.2-.9l.2-.3l.2 1.1l.1 .2l.2-.7h.2M96.2 28.3l.2 182l.2-.4l.2 .6M96.9 29.2h5h-5l-.1 181.3M96.9 29.2l.2-.4l.2-1.5l.2 .3l.2 1.1l.2-.5l.1 .7l.2 .6l.2-.2l.2-1.2l.2 1.3l.2-1.7l.2 1.3l.1 .1l.2-2.3l.2 2.3l.2-.5l.2 .6l.2-.5l.1 .3l.2-.1l.2-.6l.2 1.1h.2l.2-1.1l.1 1.2h.2l.2-.4l.2 .1l.2 .1h.2l.2-.7l.1-.2l.2 .6l.2-.6l.2 1l.2-.5l.2-1.4l.1 1.5l.2 .2l.2-1l.2 .8l.2 .3l.2-.4l.2 .4l.1 .2l.2-.6l.2 .3l.2 .3l.2-1l.2 .3l.1 .3l.2-.1l.2 .2l.2-.1l.2-.6l.2 .2l.1-1.2l.2 1.1l.2-.4l.2 .5l.2-.7l.2-.5l.2 1.5l.1 .4l.2-.8l.2-1.8l.2 1.9l.2 .4l.2-1l.1 1.4l.2-.7l.2 .1l.2-.6l.2 .7l.2-.1l.1 .3l.2-1.1l.2 1.2l.2-.2l.2-.9l.2 .2l.2 .6l.1 .3l.2-.4l.2 .5l.2-.2l.2-.7l.2-.5l.1-1l.2 2.4l.2-.4l.2-.1l.2-.3l.2 .6l.2-1l.1 .5l.2 .7l.2-1l.2 1l.2-1.1l.2 1l.1 .1l.2-1.6l.2 1l.2 .3l.2 .2l.2 .1l.1-.4l.2-.1l.2 .4l.2 .1l.2 .1l.2-1.1l.2-.4l.1 .9l.2 .5h.2h.2l.2 .1l.2-.1l.1-.4l.2-.1l.2-.9l.2 1.4l.2-.7l.2-1.3l.1 1.8h.2l.2-.2l.2-1.5l.2 1.2l.2-.8l.2 .4l.1-.2l.2 1.4l.2-1.4l.2 .3l.2 .9l.2-.5l.1 .5l.2 .1h.2h.2l.2-3.1l.2 2.9l.1-.2l.2-.5l.2 1l.2-.8l.2 .1l.2 .7l.2-.8l.1 .6l.2-.7l.2 .4l.2 .5l.2-.4l.2 .1h.1l.2-.3l.2-.4l.2 .2l.2 .2l.2 .1l.2 .5l.1-1l.2 .7l.2-.9l.2 .5l.2 .1l.2 .2h.1l.2-.4l.2-1.1l.2 1.8l.2-.7l.2 .5l.1-.2l.2-.7l.2 .7l.2-.2h.2l.2-.6l.2 .9l.1-1.3l.2 1h.2l.2-.3h.2l.2 .9l.1-1.2l.2 .6h.2l.2-.6l.2-.2l.2 1l.1 .5l.2-1.3l.2 1.2l.2-.2l.2-.1l.2 .2l.2-.6l.1 .1l.2 .1l.2 .4h.2l.2-.5l.2-.2l.1-.3l.2-.1l.2 .8l.2-.5l.2 .5l.2-.2l.2 .2l.1-.5l.2 .5l.2 .5l.2-.8l.2 .6l.2-1.1l.1 .7l.2 .1l.2 .4l.2-1.2l.2 .7l.2 .1l.1-.1l.2-.1l.2-.1l.2 .3l.2 .3l.2-1.1l.2 .6l.1-.2l.2 .5l.2-.5l.2-.1l.2 .4h.2l.1-1.2l.2 1.1h.2l.2-.2l.2 .6l.2 .2l.1-.8l.2 .1l.2 .8l.2-1.3l.2 .9l.2 .2l.2-.9l.1-.6l.2 1.7l.2-.8l.2-1.3l.2 1.6l.2-.2l.1-.3l.2 .7l.2 .1l.2 .2l.2-1.1h.2l.1-1.5l.2 1.1l.2 1.1l.2-.1h.2l.2-.2l.2-.3l.1 1l.2-.1l.2-.9l.2-.2l.2 .2l.2 .3h.1l.2-.2l.2-.6l.2 1.3l.2-1.3l.2 .6l.2 .6l.1-1l.2 .9l.2 .2l.2-.7l.2 .1l.2-.6l.1 1.4l.2-.2h.2l.2-.9l.2 .9l.2-.6l.1 .4l.2-.1l.2-.2l.2 .3l.2-.6l.2 .5l.2-.7l.1 .8l.2 .4l.2-.7l.2 .4l.2-.3l.2 .3l.1-1.3l.2 .3l.2 1.2l.2-.3l.2-.2l.2 .5l.1-.4l.2 .5l.2-1.5l.2 .3l.2 .2l.2 .1l.2 .7l.1-.3l.2-1.4l.2 .9l.2 .6l.2-.8l.2 .2l.1 .6l.2-.4h.2l.2 .7l.2-.9l.2 .3l.2 .5l.1 .2l.2-.5l.2 .2l.2-1.6l.2 .1l.2 1l.1 .6l.2-1.7l.2 1.4l.2-.4l.2 .6l.2-.1l.1 .3l.2 .1l.2-.4l.2-.3l.2-.2l.2-.7l.2 .4l.1-.3l.2-.1l.2 1.2l.2 .1l.2-1.2l.2 .6l.1 .6l.2-.2h.2h.2l.2-.3l.2 .5l.1-.9l.2 .1l.2 .7l.2-.1l.2-.5l.2 .8h.2l.1 .1h.2l.2-.4l.2 .3l.2 .1h.2l.1-1.1l.2 .6l.2 .4l.2-1.8l.2 1.5l.2-.6l.2 .6l.1 .4l.2-.1l.2 .1l.2-1.1l.2-.1l.2 .3l.1 .9l.2-.2l.2-.1l.2-.6l.2-6.5h.2h.1l.2 7.2l.2-.2l.2 .1h.2l.2-.1l.2 .2l.1 .1l.2-.1l.2-.5l.2 .5l.2-.7l.2 .3l.1-.5l.2 .1l.2 .9l.2-.4l.2 .4h.2l.1-1.1l.2 1.2l.2-.1l.2-.6l.2 .6l.2-.1l.2-.4l.1-.1l.2 .8l.2-.5l.2-.1l.2-1.1l.2 .8l.1 .5l.2 .1l.2 .2l.2-.2l.2 .2l.2 .1l.1-.3l.2-1.1l.2 .5l.2 .1l.2 .1l.2-.2h.2h.1l.2 .9l.2-.3h.2l.2-.6l.2 .9l.1-1.3l.2 .6l.2 .6l.2-1l.2 .7l.2-1l.2 .5l.1 .9l.2-.4h.2l.2-.3l.2-.3l.2 .8l.1-.2l.2-.6l.2-1.2l.2 1.4l.2-.5l.2 1.3l.1-2.3l.2 2.1l.2-1.1l.2 .8l.2 .3l.2-1.4l.2 1l.1-1l.2-.1l.2 .2l.2 1.4l.2-1l.2 1l.1-1.3l.2-.2l.2 .8l.2 .6l.2-.2l.2 .4l.1-1.5l.2 .7l.2 .7l.2-.5l.2 .5l.2-1l.2 .8l.1-.5l.2 .5l.2-1.1l.2 .7l.2 .7l.2-1l.1 .3l.2 .4l.2 .1l.2-1l.2 .7l.2-.4l.2 .5l.1 .2l.2 .1h.2h.2l.2-1.1l.2-6.3h.1h.2l.2 7l.2 .1l.2 .1l.2-1l.1 .5l.2-.3l.2-.3l.2 .4l.2 .7l.2 .1l.2-.6l.1 .1l.2 .6l.2-.3l.2-.9l.2 .7l.2 .2l.1-1.8l.2 1.5l.2 .1l.2-.4l.2 .2l.2-.6l.1 1l.2 .2l.2-.1l.2-.6l.2 .7h.2l.2-1.4h.1l.2 1.1h.2l.2 .4l.2-.5l.2-.2l.1-.1l.2 .3l.2-.4l.2 .6l.2 .4l.2-.1l.1-.5l.2-.1l.2 .3h.2l.2 .2l.2-.1l.2 .3l.1-.9l.2 .6l.2-1.3l.2 1.5l.2-.9l.2 1l.1-.6l.2 .6l.2-.2l.2 .1l.2-.4l.2 .5l.2-.5l.1 .4l.2-.8l.2-.6l.2 1l.2-3.3l.2 3.5l.1-.9l.2 1.2l.2-.1l.2-.9l.2 .8l.2 .1l.1-.2l.2-.1l.2-.5l.2 .4l.2-1.6l.2 1.4l.2-.7l.1 .9l.2-.6l.2 .2l.2 .4l.2-.2l.2 .2l.1-.6l.2 .6l.2 .4l.2-1l.2 1l.2-.2l.1-.1l.2-.7l.2 .7l.2 .3l.2-.6l.2 .2l.2-8.8h.1h.2l.2 8.6l.2-.5l.2 .3l.2 .3l.1-1.2l.2 1l.2 .1l.2-.3l.2 .4l.2-.6l.2 .3l.1-.8l.2 1.1l.2-.3l.2 .6l.2-.1l.2-.1l.1-.1l.2-.3l.2 .3l.2 .3l.2-.6l.2 .5l.1-.5l.2 .6l.2-1.1l.2 1.4l.2-1.9l.2 1.4l.2-1l.1 1l.2-.4l.2 .8l.2-1.4l.2 1.4l.2-.2l.1-.8l.2 .1l.2 .9h.2l.2-.8l.2 .4l.1 .4l.2-1.4l.2 1l.2-1.1l.2 1.4h.2l.2 .1l.1 .1l.2-.6l.2 .6l.2-1.2l.2 .9l.2-.4l.1 .6l.2-.3h.2l.2-1.1l.2 1.5h.2l.2-1.2l.1 .5l.2-.7l.2 1.2l.2-.3h.2l.2 .2l.1-.2l.2-.1l.2-.9l.2 1l.2-.6l.2 .1h.1l.2-1l.2 1.7l.2-.7l.2 .1l.2 .2l.2-.1l.1 .1l.2 .4l.2 .3l.2-.5h.2l.2-.3l.1 .4l.2-.2l.2 .3l.2-.1l.2 .4l.2-.8l.1 .2l.2-1.1l.2 1.4l.2-1.2l.2 1.3l.2-1l.2 .4l.1 .6l.2 .2l.2-.1l.2-.1l.2-.3l.2-.7l.1 .7l.2-.2l.2 .4l.2-.9l.2 1h.2l.1-1.9l.2 .1l.2 2l.2-.3l.2-.9l.2 .4l.2 .4l.1 .1l.2 .3l.2-.2l.2-.2l.2-.1l.2-.2h.1l.2 .6l.2-.4l.2 .2l.2 .3l.2-.2l.2-.8l.1-.5l.2 1l.2-.6l.2 1l.2-.1l.2-.6l.1 .1l.2 .7l.2-.3l.2-1.1l.2-.2l.2 1.3l.1 .2l.2-.3l.2 .1l.2-.9l.2 .9l.2-1.8l.2 .2l.1 .9l.2 .6l.2 .4l.2-.5l.2 .3l.2-.6l.1-.7l.2 1l.2 .1l.2-.7l.2 .7l.2-.1h.1l.2 .4l.2 .1l.2-.1l.2-1.2l.2 .4l.2-.5l.1 .1l.2 .1l.2 1.1l.2-.1l.2-1.7l.2 1.3l.1 .4l.2-.9l.2 .2l.2 .1l.2-.4l.2 1.1l.2-.1l.1 .1l.2-.9l.2-.8l.2 .3l.2 .7l.2 .4h.1l.2-.1l.2 .3l.2-1.2l.2 .4l.2-.2l.1 .9l.2 .2l.2-1.2l.2 1l.2 .1l.2-.1l.2-.7l.1 1l.2-.3l.2-.9l.2 .8l.2-.9h.2l.1 .6l.2 .7l.2-.1l.2-.3l.2-2.2l.2 2.5l.1-.5l.2 .5h.2l.2-.3l.2-.3l.2-.5l.2-.1l.1 .4h.2l.2 .7l.2-1.2l.2 .9l.2-1.4l.1 1.7l.2-.7h.2l.2-.5l.2 1.3l.2-1.6l.1-.3l.2 1.4l.2 .5l.2-.1l.2-1.2l.2 1.1l.2-.6l.1-.1l.2 .4l.2-.5l.2 .4l.2 .3l.2 .2l.1-.3l.2 .4l.2-1.1l.2 .7l.2-1.1l.2-.8l.2 1.3h.1l.2 .6l.2 .5l.2-.7l.2 .1l.2-.5l.1 .2l.2-.7l.2 1.6l.2-.5l.2-.1l.2-.5l.1 .6l.2 .3l.2-.3l.2-.3l.2 .7l.2-.8l.2-.4l.1 1.2l.2-.9l.2 .8l.2-.3l.2-.5l.2 .6h.1h.2l.2-.6l.2 .9l.2-.8l.2-.2l.1 .9l.2-.7l.2 .8l.2-1.8l.2 1.4l.2-1.1l.2 .8l.1 .3l.2 .4l.2-.4l.2 .2l.2-.7l.2 .6l.1-.2l.2 .6l.2-.1l.2-.4h.2l.2-.6l.2-.9l.1-1.7l.2 2l.2 1.3l.2 .1l.2-.2l.2-.1l.1-.2l.2-.4l.2 .4l.2 .2l.2-.6l.2-.8l.1 1.6l.2 .2l.2-.3l.2 .2l.2-.6l.2 .8l.2-.4l.1 .4l.2-.7l.2 .6l.2 .1l.2-.9l.2 .6l.1-.5l.2 .3l.2-.7l.2 .8l.2-1.7l.2 1.3l.1 .9l.2-.5l.2-.1l.2 .2l.2-.9l.2-1l.2 .4l.1 1.6l.2-.8l.2 .5l.2 .5l.2-.3l.2-1.2l.1 1.6l.2-1.9l.2 .5l.2 1.3l.2-.4l.2-.3l.1 .4l.2-1.1l.2 1.2l.2-1.1l.2 1.2l.2 .2l.2-.9l.1 .3h.2l.2-.4l.2 1l.2-.7l.2-.1l.1-1.5l.2 2l.2-.2h.2l.2 .4l.2-1.1l.2 .8l.1 .4l.2-.8l.2 .1l.2 .7l.2-1l.2-.1l.1 .7l.2-.3l.2 .4l.2-.2l.2 .2l.2-.5l.1-.9l.2 1.6l.2-.5l.2 .1l.2-.1l.2 .5l.2-.3l.1-.5l.2-.3l.2-2.9l.2 3.1l.2 .4l.2-.6l.1 1.1h.2l.2-.1l.2 .1h.2l.2-.5l.1-.9l.2 .9l.2-.9l.2 1.3l.2-.2l.2-.6l.2-.7l.1 1.3l.2 .1l.2 .2h.2l.2-.3l.2 .3l.1 .1h.2l.2-.3l.2-1l.2 .3l.2 .9l.2-.3l.1-.3l.2 .3l.2 .1l.2-.9l.2 1l.2-.3l.1 .4l.2-.3l.2-.2l.2 .4l.2-.3l.2-1l.1 1.5l.2-.4l.2-1l.2 1h.2l.2-1l.2-.5l.1 1.5l.2-.1l.2-.5l.2 1l.2-.5l.2-.3l.1 .3l.2-.6l.2 1h.2l.2-.7h.2h.1l.2-.4l.2-.7l.2 1.6l.2-.1h.2l.2-.4l.1 .8l.2-.5l.2 .4l.2-.5l.2-.2l.2 .1l.1 .3l.2 .1l.2-.3l.2-.2l.2 .4l.2-1.3l.2 1.4l.1 .2l.2-.7l.2-.2l.2 .1h.2l.2 .3h.1l.2 .5l.2-.7l.2 .5l.2-.1h.2l.1 .2l.2 .2l.2-1.4l.2 .4l.2 .8l.2 .1l.2-3l.1 3.1l.2-.5l.2 .1l.2-1l.2 .9l.2-.4l.1 .9l.2-.4h.2l.2-.3l.2 .3l.2 .3l.1-1.2l.2 .7l.2 .2l.2-.9l.2 .2l.2 .8l.2-.1l.1 .1l.2-.6l.2 .6l.2 .3l.2-.7l.2-.5l.1 1.1h.2l.2-1.3l.2 .4l.2 .4h.2l.1 .6l.2-1l.2 .9l.2 .1h.2l.2-.7l.2 .7l.1-.6l.2 .3l.2 .2h.2l.2-.9l.2-.1l.1 .4l.2 .4l.2-.1l.2 .2l.2-1.1l.2 .9l.2-1l.1 1.1l.2-.5l.2 .5l.2-.4l.2 .4l.2 .3l.1-.2l.2-.6l.2 .3l.2 .2l.2-.1l.2-.4l.1-.1l.2 .7l.2-1l.2 .4l.2 .5l.2-.3l.2 .3h.1l.2-.6l.2-.2h.2l.2 .2l.2-.4l.1 .6l.2-.9l.2 1.2l.2-.2l.2-.2l.2 .8l.1-1.6l.2 1.1l.2 .4l.2-.2l.2 .3l.2-.6l.2 .4l.1-.1l.2-.6l.2-.3l.2 1.2l.2-.2l.2-.7l.1 .7l.2 .1l.2-.5l.2-.7l.2 1.1l.2 .2l.2-1.3l.1 .8l.2-.4l.2 .3l.2 .3l.2-.2l.2-.7l.1 .9l.2 .2l.2-.7l.2 .7l.2-1l.2 .4l.1-.2h.2l.2 .4l.2-.7h.2l.2 .9l.2-.9l.1 1.2l.2-.2l.2 .1l.2-.2l.2-3l.2 2l.1 1h.2l.2 .2l.2-.2l.2-.9l.2 1.1h.1l.2-.7l.2 .6l.2-.4l.2-.1l.2-.6l.2 .7l.1 .5l.2-.2l.2-.2l.2 .2l.2-.4l.2 .5l.1 .1l.2-.9l.2-1.2l.2 2.2l.2-.2l.2-.3l.1 .1l.2 .2l.2-.7l.2 .4h.2l.2 .5h.2l.1-.5l.2-.5l.2 .7l.2-.4h.2l.2 .3l.1 .2l.2-.6l.2-.3l.2-.2l.2 .3l.2 .5l.2-.4l.1 .7l.2-.2l.2-.8l.2 1l.2-.2l.2-.9l.1 .4l.2 .2h.2l.2 .4l.2-.4l.2 .2l.1 .3l.2-.1l.2-.2l.2 .3l.2-.9l.2 .6h.2l.1-.3h.2l.2 .7l.2-.2l.2-.5l.2-.6l.1 .8l.2-.2l.2 .8l.2-1.6l.2 1.1l.2-1.2l.1 1.6h.2l.2-1.5l.2 .5l.2 .8l.2-.1M340.8 29.1l.2 181.6l.1-.5l.2-.4M341.5 29.1h5h-5l-.2 180.7M341.5 29.1l.2-.8l.2 1.1l.2-1.6l.1 .7l.2-.5l.2-.1l.2 1.2l.2 .4l.2-.4l.2-.7l.1 .7l.2-.6l.2 .9h.2l.2-.2l.2-.3l.1 .5l.2-.6l.2-.6l.2 .6l.2-1.4l.2 1.9l.1-.5h.2l.2 .5l.2-1.1l.2 .4l.2-.1l.2 .4l.1-.4l.2-.7l.2 1.6l.2-.7l.2 .4l.2-1l.1 .7l.2-.2l.2-.7l.2 .9l.2-.2l.2-.1l.1 .4l.2 .2l.2 .2l.2 .2l.2-1.3l.2 .7l.2-1.5l.1 1.9l.2-.8l.2 .8l.2 .1l.2-.3l.2 .1l.1 .1l.2-.8l.2 .8l.2-.7l.2 .9l.2-.5l.2-8.8h.1h.2l.2 9.2l.2-.1l.2-.1l.2 .1l.1 .1l.2-.3l.2-1.2l.2 1.3l.2-.8l.2 .5l.1-.2l.2 .3l.2-.6l.2 .1l.2 .3l.2-.3l.2 1l.1-1.5l.2 .8l.2-.7l.2 1.4l.2-.7l.2 .5l.1-.2l.2 .3l.2-.4l.2-.6l.2 .2l.2 .9l.1-1.4l.2 .3l.2 .3l.2 .1l.2 .5l.2-1l.2-.9l.1 1.8l.2-.4l.2 .7l.2-.6l.2-.5l.2 .3l.1 .5l.2-.1l.2-.5l.2 .5l.2-1.2l.2 1.3l.1-.6l.2 .4l.2 .4h.2h.2l.2-.7l.2 .1l.1-.1l.2 .5l.2 .1l.2-.9l.2 .3l.2 .6l.1 .2l.2-.3l.2-.2l.2 .3l.2-.2l.2-.1h.2l.1-1.7l.2 2.1l.2-.3l.2 .3l.2-.4l.2 .5l.1-1.3l.2 .8l.2-.1l.2 .3l.2-1.6l.2 .3l.1 1.3h.2l.2-1l.2 .1l.2 .7l.2 .3l.2-.5l.1-.4l.2 .5l.2-.6l.2 1.1l.2-.1l.2-.7l.1 .8l.2-.2l.2-.4l.2 .5l.2-1l.2 .4l.1 .2l.2 .2l.2-.4l.2-.8l.2 1.3l.2-.3l.2-.8l.1 .5l.2-.3l.2 .7l.2-.8h.2l.2 1.1l.1-.4l.2 .4l.2-.2h.2l.2-.1l.2-.1l.2 .3l.1-.3h.2l.2 .2l.2-.2l.2 .3l.2 .3l.1-.9l.2 .7l.2-.2l.2 .3l.2-.3l.2 .2l.1 .1l.2 .1l.2-.3l.2-.7l.2-.1l.2 .2h.2l.1 .5l.2-.9l.2 1.2l.2-1.2l.2 .2l.2 .6l.1-.2M379.8 28.8l.2 181.4l.2 .3l.2-.3M380.6 28.4h4.5h-4.5l-.2 181.8M380.6 28.4l.2 .6l.1-.3l.2-.1l.2 .9l.2-.3l.2-.5l.2 .2l.2 .2l.1 .1l.2 .1l.2-1.3h.2l.2 .9l.2 .1l.1 .4l.2-.6l.2-1.2l.2 1.1l.2 .4l.2-.7h.1l.2 .7l.2 .4l.2-.2l.2-.3l.2 .2l.2 .3l.1-.1l.2-.6l.2 .3l.2 .1h.2l.2-1.2l.1 1.3l.2 .2l.2-.3l.2 .3l.2-1.9l.2 1.7l.2-.1l.1-1.2l.2 .3l.2 .1l.2 .1l.2 .9l.2-.6l.1 .5l.2-.9l.2 .3l.2-.9l.2 .5l.2 .2l.1 .4l.2-.3l.2-1.3l.2 1.6l.2 .5l.2-.5l.2-1.1l.1 .9l.2 .6l.2-1.1l.2 .9h.2l.2-1l.1 .4h.2l.2 .4l.2-.1l.2-.4l.2 .3l.1-1.3l.2 1.6l.2 .4l.2-.4l.2-.5l.2 .9l.2-1l.1 .6l.2 .1l.2 .3l.2-.1l.2-.8l.2 .7l.1-.3h.2l.2 .5l.2-.3l.2 .3l.2-.4l.2 .3l.1-.3h.2l.2 .3l.2-.1l.2-1.4l.2 1l.1 .4l.2-.7l.2 .6l.2-1l.2-.2l.2 .4l.1 .8l.2-.4l.2 .1l.2 .3l.2-.5l.2-.5l.2 1.1l.1 .2l.2-.5l.2 .1h.2l.2 .1l.2 .1l.1-.6l.2-1.6l.2 1.7l.2-.3l.2 .1l.2 .7l.1-.2l.2-.6l.2 1l.2-1.2l.2 .3l.2 .7l.2-1.2l.1 1.4l.2-1.2l.2 1l.2-.6l.2 .3l.2-.1l.1 .7l.2-.5l.2-.4l.2 .5l.2-.2l.2 .2l.2-.1l.1-1.3l.2 1.6l.2 .2l.2-.2l.2-1.8l.2 .6l.1-.5l.2 1.3l.2-.1l.2 .7l.2-.2l.2-.4l.1-.1l.2-.7l.2 .8l.2 .3l.2 .3l.2-.6l.2-.2l.1 .5l.2-.5l.2 .2l.2 .1h.2l.2-1.1l.1 .5l.2 .5l.2 .1l.2 .3l.2-.6l.2 .8l.1-1l.2 .7l.2-.8l.2 .3l.2-.7l.2 1.1l.2-1.1l.1 .7l.2-.1l.2-1l.2 1.3l.2-.4l.2 .8l.1-.2h.2l.2-.7l.2-.7l.2 1.7l.2-.5l.1-1.1l.2 1.3l.2 .1l.2-1l.2-.5l.2 .7l.2 .5l.1 .4h.2l.2-1.3l.2 .3l.2 1.1l.2-.4l.1 .2l.2-.2l.2 .3l.2 .2l.2-.7l.2 .5l.2 .1l.1-.2l.2 .3l.2-.3h.2l.2-1.3l.2 1.1l.1-.7l.2 1l.2-.5l.2 .6l.2-.7l.2 .3l.1 .4l.2-.4l.2-.1l.2-.1l.2-.1l.2 .5l.2-.6l.1 .8l.2-.2h.2l.2-.9l.2 .9l.2 .2l.1-.4l.2-.4l.2 .7l.2-.7l.2 .6l.2-.2l.1-.5l.2 .3l.2 .4l.2-.8l.2 .9h.2l.2-.6l.1 .8l.2-.4l.2-1.1l.2 .5l.2 .7l.2-.1l.1 .1h.2l.2-.8l.2 .5l.2-.1l.2-1.5l.2 1.7l.1 .5l.2-.3l.2-.8l.2 .2l.2 .2l.2 .4l.1-1.4l.2 1l.2 .3l.2 .2l.2-.6l.2-.5l.1 .9l.2-.4l.2-.1l.2-.5l.2 1.4l.2-.4l.2 .1l.1-1.7l.2 1.4l.2-.3l.2 .6l.2-.3l.2 .3l.1-1.9l.2 .2l.2 1.7l.2-1.5l.2 1.6l.2-2l.1 1.4l.2-1.5l.2 1.2l.2 .5l.2 .5l.2-1.5l.2 1.5l.1 .1l.2-.5l.2-.2l.2-.1l.2-1.7l.2 2.5h.1l.2-.2l.2-.8l.2 .3h.2l.2 .5l.1-.3l.2 .4h.2l.2-.6l.2 .2h.2l.2 .3l.1 .1l.2-.2l.2-1.5l.2 1.6l.2-1.9l.2 1l.1 .8l.2-1.5l.2 1.7h.2l.2-.5l.2 .3l.2 .3l.1-.5l.2 .2h.2l.2 .3l.2-1.6l.2 1l.1 .3l.2-.8l.2 .4l.2 .2l.2 .3l.2 .1l.1-.5l.2-.3l.2 .3l.2-.9l.2 1l.2-.7l.2-.5l.1 1.5l.2 .2l.2-1.1l.2 .9l.2 .1l.2-.4l.1 .4l.2-.4l.2-.7l.2 .4l.2 .4l.2-.4l.1-.1l.2 .2l.2-.2l.2-.4l.2 1l.2-1.4l.2 .1l.1 .8l.2-.2l.2 .8h.2l.2-.7l.2-.8l.1 .2l.2 1.3l.2-1.1l.2 1.1h.2l.2-.6l.2-.3l.1 .8l.2-.5l.2 .4l.2-.9l.2-.5l.2 1.7l.1-.6l.2 181.5l.2 .4h.2l.2-.7l.2-.8l.1 .8l.2-.1l.2 .8l.2-.2l.2-.4l.2 .2l.2 .3l.1-1l.2 .9l.2 .3h.2l.2-1.2l.2 .1l.1 1.1l.2-.5l.2 .1l.2-.7l.2-180.3l.2-.7l.1 .2l.2-.1l.2 .1l.2-.4h.2l.2 1l.2-.2l.1 .2h.2l.2-1.3l.2 1l.2-.6l.2 .6l.1 .1l.2-.3l.2 .1l.2-.7l.2 .7l.2 .3l.2-.3h.1l.2-.6l.2 .8l.2-15.4h.2h.2l.1 15.5l.2-1.1l.2 1l.2-.4h.2l.2 .6l.1-.5l.2-.1l.2-1.2l.2 1.6l.2-.9l.2 1.1h.2l.1-.1h.2l.2 .1l.2-.5l.2 .2l.2 .1l.1-.4l.2-.1l.2-.7l.2 .7l.2-.9l.2 .2l.1 1.2l.2-2.3l.2 2.4l.2-.2l.2-.5l.2-1.2l.2 1l.1 .9l.2-2.2l.2 1.9l.2-.1l.2 .2l.2-1.3l.1 1l.2-.7l.2 .8l.2 .5l.2-.1l.2-.4l.1-.7h.2l.2 1.2h.2h.2l.2-.7l.2 .4l.1-1l.2-.6l.2 1.5l.2-.9l.2 1.2l.2-.4l.1 .2l.2-1.4l.2 .4l.2 1.1l.2-1.7l.2 1l.2-3.1l.1 4l.2-.4l.2-1.3l.2 1h.2l.2 .4l.1-.5h.2l.2 .5l.2-.3l.2-.3l.2 .7l.1-.1l.2-.8l.2 .9l.2-.4l.2 .5l.2 .1l.2-1.4l.1 1.3l.2-1.1l.2 .2l.2-.5l.2 .3l.2 .8l.1-1.3l.2 .4l.2 .8l.2-.6l.2 .8l.2 .1l.1-.1h.2l.2-.2l.2 .4l.2-.5l.2 .4l.2-.1l.1-.4l.2 .3l.2-1l.2-.2l.2 1.2l.2 .1l.1-.4l.2 .1l.2-.3h.2l.2 .5l.2-.4l.2-.6l.1 .3l.2 .7l.2-1.2l.2 .6l.2 .1l.2 .8l.1-2l.2 1.4l.2 .2l.2 .5l.2-.1l.2-.8l.1-.2l.2 .8l.2-.1l.2 .3l.2-.4h.2l.2 .4l.1-.6l.2-.8l.2-.1l.2 1.4l.2 .2l.2-1.6l.1 .8l.2 .6l.2 .1l.2-.4l.2-.3l.2 .1l.1 .7l.2-.4l.2-2l.2 2.3l.2-.4l.2 .1l.2-1l.1 1.2l.2-.7l.2-1.1l.2 .8l.2 1l.2 .1l.1-.5l.2-.4l.2 .8l.2-.1l.2 .2l.2-.3l.1-1.6l.2 1.3l.2-1.8l.2 1.6l.2 .9h.2l.2-1.4l.1 .8h.2l.2-.3l.2 .4l.2-1.3l.2 1.5l.1 .1l.2-.3l.2-.4l.2 .2l.2 .2l.2-.1l.2 .3l.1-.1l.2 .1l.2 .2l.2 .1l.2-1.7l.2 1.7l.1-.2l.2-2.1l.2 1.7h.2l.2-.4l.2 .8l.1 .2l.2-.5l.2-.3l.2-.4l.2 1.2l.2-.4l.2-.6l.1 .5l.2 .1l.2-.1l.2 .2l.2-.1l.2-.1l.1-.3l.2-.5l.2 .8l.2-1l.2 1l.2-.3l.1 .2l.2 .4l.2-1l.2-.3l.2 1.3l.2-.4l.2-.1l.1-.8l.2 .4l.2 .3l.2 .1l.2 .1h.2h.1l.2-.2l.2 .8l.2-.6l.2 .6l.2-1.2l.2 .3l.1 .8l.2 .1l.2-1.4l.2 .9l.2-.4h.2l.1-.1l.2 .3l.2-1.4l.2 1.5l.2 .5l.2-.7l.1 .8l.2-.2l.2-.1l.2-1.2l.2 .5l.2 .6l.2 .2l.1 .1h.2l.2-.8l.2 .4l.2-.5l.2 .6l.1-.5l.2 .6l.2-.4l.2 .4l.2 .2l.2-1.2l.1 1.3l.2-1.6l.2 .7l.2 .1l.2 .7l.2-.8l.2-.1l.1 .9l.2-1.5l.2 .8l.2 .7l.2-.4l.2-.6l.1 .7l.2-.3l.2-.3l.2-.2l.2 1.2l.2-1.1l.1-.2l.2 .8h.2l.2-1.2l.2 .8l.2-2.2l.2 2.5l.1 .4l.2-.4l.2 .1l.2-.2l.2 .4l.2-.4l.1 .4l.2-1l.2-1.1l.2 1.8l.2-.2l.2 .5l.2 .1l.1-.3h.2h.2l.2-.4l.2 .9l.2-.1l.1-.4l.2-.1l.2-.4h.2l.2 .9l.2-.3l.1 .2l.2-1l.2 .9l.2 .1l.2-.4l.2-1.1l.2 1.6l.1-.5l.2 .2l.2 .3l.2-.2h.2l.2 .2l.1-1l.2 .3l.2 .5l.2 .2l.2-.5l.2 .2l.1-.2l.2 .1l.2-.8l.2 1.2h.2l.2-.6l.2 .5l.1-.8h.2l.2 .9l.2-.4l.2-4.1l.2 3.7l.1-.8l.2 1.4h.2l.2-.2l.2 .1l.2-1.8l.2 1.5l.1 .5l.2-.6l.2 .3l.2 .2l.2-1.3l.2 1.3l.1-.6l.2-.1l.2 .2l.2 .7l.2-.3l.2 .2l.1 .2l.2-.9h.2l.2-1.3l.2 1.6l.2-.7l.2 .6l.1-.1l.2 .5l.2-.3l.2 .5l.2-.3l.2-.8l.1 .8l.2 .1l.2-.3l.2-.2l.2 .8l.2-.5l.1-.3h.2l.2 .6h.2l.2 .1l.2-1l.2 .1l.1-.4l.2 1.4l.2-.4h.2l.2 .4M535.6 29.5l.2 178.7l.1 .8l.2 1.2M536.3 29.3h5.5h-5.5l-.2 180.9M536.3 29.3l.2-1l.2 .9l.2-1.1l.2 1.1l.1 .2l.2-1.6l.2 .9l.2-.4l.2 1.2l.2-.5l.1-.1l.2-1.1l.2 .6h.2l.2-.2l.2 1.3l.1-1.4l.2 .2l.2 .9l.2-.3l.2 .5l.2-.6l.2 .3l.1-2.9l.2 3.1l.2-1.1l.2 1l.2-.1l.2-.1l.1 .3l.2-1.1l.2 .3l.2-.6l.2 1.4l.2 .1l.1-1.7l.2 1.2l.2-.5l.2 .6l.2-.6l.2 .5l.2 .1l.1-.8l.2 .3l.2 1l.2-.2l.2-1.2l.2 .3l.1 .9l.2-1.1h.2l.2 1.2l.2-.4l.2-.4l.1 .5l.2-.6l.2 .7l.2 .1l.2-1.1l.2 1.1l.2-.3l.1-.6l.2 1l.2-1.2l.2-.4l.2 1l.2 .6l.1-1.4l.2 .4l.2 1l.2-.5l.2 .6l.2-.2l.2-1l.1 .9h.2l.2-1.5l.2 1.8l.2-.6l.2-.2l.1 .8l.2-1l.2 .1l.2 .1l.2-.8l.2 1.1l.1-.6l.2 .3l.2-.2l.2-1.5l.2 .6l.2 1.2l.2 .5l.1 .2l.2-1.1l.2 .6l.2-.2h.2l.2 .3l.1-1.3l.2 1.4l.2-.9l.2 1.2l.2-1.7l.2 1.6l.1-1.8l.2 1.9l.2-.7l.2-1.3l.2 .8l.2 .1l.2 .2l.1 .4h.2l.2 .4l.2-.9h.2l.2-.7l.1 1.1l.2-1l.2 .9l.2-.2l.2 .2l.2 .3l.2-2.2l.1 2.5l.2-1.3l.2 1.1l.2-.1l.2-.4l.2-.4l.1 .9l.2-.6l.2 .8h.2l.2-1.3l.2 .6l.1 .1l.2-.8l.2 .8l.2-1.1l.2 1.1l.2-.2l.2 .9l.1-.5l.2-1.6l.2 1.7l.2 .4l.2-.7l.2 .5l.1 .1l.2-.3l.2 .3l.2-.9l.2 .6l.2 .1l.1-.2l.2-.7l.2-.7l.2 .7l.2 .5l.2 .4l.2 .3l.1-4.7l.2 4.5l.2 .1l.2-1.4l.2 1.5l.2-.2l.1-.3h.2l.2-.2h.2l.2 .6l.2-.6l.1 .3l.2 .2l.2-1.4l.2 .6l.2 .7l.2-1l.2 .5l.1 .5l.2 .1l.2-1.1l.2 1l.2-.3h.2l.1-.2l.2-.7l.2 1.4l.2-.1l.2-1.1l.2 .5l.2 .3l.1 .4h.2l.2-.4l.2 .2l.2-.3l.2 .4l.1-.6l.2-.3l.2-.2l.2 .7l.2 .5l.2-1.1l.1 1l.2-1.4l.2 1.1l.2 .1h.2l.2 .2l.2-.1l.1-.1l.2-.9l.2 .4l.2 .7l.2-.6l.2 .2l.1-.9l.2 .3l.2 1l.2-.3l.2-.4h.2l.1-.5l.2 1.3l.2-.3l.2-.8l.2 .6l.2 .5l.2-.1l.1-1.1l.2 .5l.2-.8l.2 1.3l.2-.2l.2 .2l.1-.7l.2-.3l.2 .5l.2 .3l.2 .3l.2-1.3l.2 1.3l.1-.7l.2 .6l.2-1.2l.2 1.2l.2 .1h.2h.1h.2l.2-.4l.2-.4l.2 .4l.2 .5l.1-.5l.2 .3h.2l.2 .2l.2-.9l.2-.8l.2 1l.1 .6l.2-.3l.2 .4l.2-.2h.2l.2-.3l.1-.4l.2 .6l.2 .1l.2-1.8l.2 .4l.2 1.4l.1-1.3l.2 .4l.2 .5l.2-.1l.2-.3l.2 .6l.2-.5l.1 .7l.2 .3l.2-.2l.2 .1l.2-.5l.2 .4l.1-.9l.2 1l.2 .1l.2-.3l.2-.9l.2 1l.2-.1l.1-1l.2 .8l.2-.4l.2-.4h.2l.2 .7l.1-.8l.2 1l.2 .2l.2-.4l.2-.3l.2 .3l.1 .2l.2 .3l.2 .1l.2-.3h.2l.2-.1l.2-.1l.1 .1l.2 .1l.2 180.6l.2-.4l.2 .9l.2 .3l.1-1.6l.2 1.2l.2-1.2l.2 1.6l.2-.3l.2 .2l.1-1.1l.2 .4l.2 .4l.2-3.3l.2-177.5l.2 .1l.2-.1l.1-.9l.2 .7l.2-.6l.2 .2l.2-.3" stroke="#0000ff" stroke-dasharray="12.4 11.3"/>
</g>
<g font-size="23.60" fill="#000">
<g text-anchor="middle">
<text transform="translate(0.00,241.63) scale(1,1.070)">0</text>
<text transform="translate(92.15,241.63) scale(1,1.070)">500</text>
<text transform="translate(184.30,241.63) scale(1,1.070)">1000</text>
<text transform="translate(276.45,241.63) scale(1,1.070)">1500</text>
<text transform="translate(368.60,241.63) scale(1,1.070)">2000</text>
<text transform="translate(460.75,241.63) scale(1,1.070)">2500</text>
<text transform="translate(552.90,241.63) scale(1,1.070)">3000</text>
<text transform="translate(645.05,241.63) scale(1,1.070)">3500</text>
</g><g text-anchor="end">
<text transform="translate(-8.85,183.79) scale(1,1.070)">0.6</text>
<text transform="translate(-8.85,95.95) scale(1,1.070)">0.65</text>
<text transform="translate(-8.85,8.10) scale(1,1.070)">0.7</text>
</g></g>
<g font-size="26.10" fill="#000" text-anchor="middle">
<text x="321.82" y="274.33">Data samples</text>
<text transform="translate(-52.90,106.42) rotate(-90)">ERF</text>
</g>
<rect x="470.60" y="11.97" width="158.00" height="57.66" fill="#fff" stroke="#3c3c3c" stroke-width="1.20"/>
<path d="M476.70 27.57H536.70" stroke="#ff0000" stroke-width="4.20" fill="none"/>
<path d="M476.70 53.93H536.70" stroke="#0000ff" stroke-width="4.20" stroke-dasharray="12.4 11.3" fill="none"/>
<g font-size="21.20" fill="#000">
<text x="541.60" y="35.37">Actual</text>
<text x="541.60" y="61.73">Predicted</text>
</g>
</g>
<g transform="translate(91.00,306.00)">
<clipPath id="c2"><rect x="-2.3" y="-1.1" width="649.6" height="212.4"/></clipPath>
<path d="M0 0H645.05V209.00H0Z" fill="none" stroke="#1a1a1a" stroke-width="1.20"/>
<path d="M0.00 209.00v-7.00M0.00 0v7.00M92.15 209.00v-7.00M92.15 0v7.00M184.30 209.00v-7.00M184.30 0v7.00M276.45 209.00v-7.00M276.45 0v7.00M368.60 209.00v-7.00M368.60 0v7.00M460.75 209.00v-7.00M460.75 0v7.00M552.90 209.00v-7.00M552.90 0v7.00M645.05 209.00v-7.00M645.05 0v7.00M0 209.00h7.00M645.05 209.00h-7.00M0 139.33h7.00M645.05 139.33h-7.00M0 69.67h7.00M645.05 69.67h-7.00M0 0.00h7.00M645.05 0.00h-7.00" fill="none" stroke="#1a1a1a" stroke-width="1.20"/>
<g clip-path="url(#c2)" fill="none" stroke-width="4.20" stroke-linejoin="round">
<path d="M.2 104.5l.2 34.8l.2-34.8l.1 34.8l.2-139.3l.2 34.8h.2l.2 69.7l.2-34.8h.1h.2l.2 69.6l.2-34.8h.2l.2-69.7l.1-34.8h.2l.2 69.7l.2 34.8l.2 34.8h.2h.2l.1-34.8h.2h.2l.2-104.5l.2 69.7h.2l.1 69.6h.2l.2-34.8l.2 34.8l.2-69.6l.2-69.7l.2 34.8l.1 104.5l.2-139.3h.2l.2 34.8l.2-34.8h.2h.1l.2 104.5l.2-104.5h.2h.2l.2 104.5l.1 34.8l.2-34.8h.2h.2h.2h.2h.2h.1l.2 34.8l.2-34.8l.2 34.8l.2-34.8h.2h.1h.2h.2l.2 34.8h.2l.2-139.3l.1 104.5l.2 34.8l.2-139.3h.2l.2 139.3l.2-69.6l.2 69.6l.1-69.6l.2-34.9l.2-34.8h.2l.2 139.3h.2l.1-139.3h.2l.2 139.3l.2-139.3h.2l.2 139.3l.1-34.8l.2 34.8h.2h.2h.2h.2l.2-139.3l.1 104.5l.2 34.8l.2-139.3l.2 34.8l.2 34.9l.2 69.6l.1-69.6l.2-69.7l.2 139.3l.2-139.3l.2 139.3l.2-139.3l.2 69.7l.1-34.9l.2 104.5l.2-34.8h.2l.2-34.8h.2l.1 69.6h.2l.2-34.8l.2-34.8l.2 69.6l.2-139.3l.1 139.3l.2-104.5l.2-34.8l.2 139.3l.2-139.3h.2l.2 69.7l.1-69.7l.2 104.5h.2l.2-104.5l.2 104.5l.2 34.8l.1-139.3l.2 34.8h.2l.2-34.8l.2 34.8l.2 104.5h.1h.2l.2-34.8l.2 34.8l.2-139.3l.2 34.8l.2 104.5h.1l.2-104.5l.2 104.5h.2h.2l.2-139.3l.1 69.7l.2 34.8l.2-69.7l.2 104.5l.2-139.3l.2 139.3l.2-34.8l.1 34.8l.2-69.6l.2 69.6h.2h.2l.2-139.3l.1 139.3h.2l.2-104.5l.2 69.7l.2-34.8l.2 34.8l.1-69.7l.2-34.8l.2 139.3l.2-139.3l.2 104.5l.2 34.8l.2-69.6l.1-69.7h.2l.2 69.7l.2-69.7l.2 34.8l.2 69.7l.1 34.8l.2-139.3l.2 139.3l.2-34.8l.2-69.7l.2-34.8l.1 104.5l.2-104.5l.2 104.5l.2 34.8h.2l.2-139.3h.2h.1l.2 139.3l.2-69.6l.2 34.8l.2-104.5l.2 69.7l.1 69.6h.2l.2-34.8l.2-69.7l.2 104.5l.2-34.8l.2 34.8l.1-34.8l.2-69.7l.2 104.5l.2-34.8l.2-104.5l.2 139.3h.1l.2-69.6l.2 34.8h.2l.2 34.8h.2l.1-69.6l.2 34.8l.2 34.8l.2-104.5l.2 104.5l.2-139.3l.2 139.3l.1-34.8h.2l.2-104.5l.2 34.8h.2l.2 69.7h.1l.2-69.7l.2 69.7l.2 34.8l.2-69.6h.2l.1-34.9h.2l.2 104.5l.2-104.5l.2 34.9l.2 69.6h.2l.1-69.6l.2-69.7h.2h.2h.2l.2 34.8l.1-34.8l.2 139.3l.2-139.3l.2 104.5l.2-69.7l.2-34.8l.1 104.5l.2 34.8h.2h.2l.2-139.3h.2l.2 104.5h.1l.2 34.8l.2-69.6l.2 69.6h.2l.2-139.3l.1 139.3l.2-139.3l.2 104.5l.2-104.5l.2 34.8l.2 69.7l.2-69.7l.1-34.8l.2 104.5l.2-69.7l.2 69.7l.2 34.8h.2h.1l.2-104.5l.2 69.7l.2-34.8l.2 34.8l.2-34.8l.1-34.9l.2-34.8l.2 139.3l.2-139.3l.2 34.8l.2 34.9l.2 69.6l.1-139.3l.2 104.5l.2-104.5h.2l.2 104.5l.2-34.8l.1-69.7l.2 104.5l.2 34.8h.2l.2-34.8l.2 34.8l.1-69.6l.2 34.8l.2 34.8l.2-139.3l.2 104.5l.2-34.8l.2-69.7l.1 139.3l.2-139.3l.2 69.7l.2 34.8l.2-34.8l.2 69.6l.1-104.5l.2 69.7l.2-34.8l.2 69.6l.2-104.5l.2-34.8h.2l.1 104.5l.2-104.5l.2 69.7l.2-34.9l.2 104.5l.2-69.6l.1-69.7h.2l.2 104.5l.2-104.5l.2 104.5l.2-104.5l.1 69.7l.2 34.8l.2-104.5h.2h.2l.2 139.3h.2h.1l.2-34.8h.2l.2 34.8h.2l.2-34.8l.1 34.8h.2l.2-34.8l.2 34.8l.2-34.8h.2h.1l.2 34.8l.2-34.8h.2h.2l.2-104.5l.2 104.5l.1-104.5l.2 139.3l.2-69.6l.2 34.8l.2-34.8l.2-69.7h.1l.2 69.7l.2 34.8l.2 34.8l.2-34.8l.2 34.8h.1l.2-139.3l.2 139.3l.2-139.3l.2 104.5h.2h.2l.1 34.8l.2-34.8l.2 34.8l.2-34.8l.2 34.8l.2-139.3h.1l.2 104.5l.2-34.8l.2-69.7l.2 104.5l.2 34.8h.2h.1l.2-104.5l.2 69.7h.2l.2-104.5l.2 139.3l.1-139.3l.2 69.7l.2 34.8l.2-104.5l.2 104.5l.2-104.5h.1l.2 69.7l.2-34.9l.2-34.8l.2 34.8l.2-34.8h.2h.1h.2h.2l.2 139.3l.2-69.6l.2-34.9l.1 69.7h.2l.2 34.8l.2-139.3l.2 104.5h.2l.1-104.5l.2 139.3l.2-139.3l.2 139.3h.2l.2-34.8h.2l.1-104.5h.2h.2l.2 104.5l.2-34.8l.2 69.6l.1-139.3l.2 104.5l.2 34.8l.2-69.6l.2 69.6l.2-34.8l.2-104.5l.1 139.3h.2h.2h.2l.2-34.8l.2 34.8l.1-34.8l.2 34.8h.2l.2-69.6l.2 34.8h.2l.1-104.5l.2 139.3h.2l.2-139.3l.2 104.5l.2-104.5l.2 139.3l.1-69.6l.2-69.7l.2 104.5l.2-104.5l.2 69.7l.2 34.8l.1-104.5l.2 104.5h.2l.2-34.8l.2 34.8l.2-104.5l.1 69.7h.2h.2l.2-69.7h.2l.2 139.3l.2-34.8h.1l.2-34.8l.2 69.6h.2l.2-139.3l.2 139.3l.1-139.3l.2 34.8l.2-34.8l.2 139.3l.2-34.8l.2-104.5l.1 139.3h.2l.2-34.8l.2 34.8h.2l.2-104.5l.2 104.5l.1-139.3l.2 69.7l.2 69.6l.2-139.3l.2 139.3l.2-34.8l.1-34.8l.2 69.6l.2-69.6l.2 69.6h.2l.2-139.3h.2l.1 69.7l.2-34.9l.2-34.8l.2 139.3l.2-34.8l.2 34.8h.1h.2h.2h.2h.2l.2-34.8l.1-34.8l.2-69.7h.2l.2 34.8l.2 34.9l.2-69.7l.2 139.3h.1l.2-139.3l.2 69.7l.2 69.6l.2-34.8l.2 34.8l.1-34.8h.2h.2l.2-104.5h.2l.2 69.7l.1 34.8l.2 34.8l.2-139.3h.2l.2 139.3l.2-104.5h.2h.1l.2 104.5l.2-69.6l.2 69.6h.2l.2-69.6h.1h.2l.2-34.9h.2l.2 69.7l.2 34.8l.2-139.3h.1h.2l.2 69.7l.2 69.6h.2h.2l.1-69.6h.2l.2 69.6l.2-139.3h.2h.2l.1 104.5l.2 34.8l.2-139.3l.2 69.7l.2-34.9l.2 69.7h.2h.1l.2 34.8l.2-34.8l.2 34.8h.2l.2-34.8h.1l.2 34.8l.2-34.8l.2 34.8h.2l.2-34.8h.1h.2l.2 34.8h.2l.2-34.8l.2 34.8l.2-34.8l.1-69.7l.2 69.7l.2 34.8l.2-69.6l.2 34.8h.2l.1-69.7l.2 69.7l.2 34.8l.2-69.6l.2 69.6h.2l.2-139.3l.1 104.5h.2l.2-104.5l.2 34.8l.2 69.7h.2h.1l.2-104.5l.2 139.3l.2-69.6l.2 69.6h.2l.1-69.6l.2 34.8l.2 34.8l.2-69.6l.2-69.7l.2 69.7l.2 34.8l.1-104.5h.2l.2 139.3h.2l.2-139.3h.2l.1 139.3l.2-104.5l.2-34.8l.2 69.7l.2-34.9l.2 34.9l.1 69.6h.2h.2l.2-104.5l.2 104.5l.2-69.6l.2 34.8h.1l.2-104.5l.2 104.5h.2h.2l.2 34.8h.1l.2-69.6l.2-69.7l.2 139.3l.2-139.3l.2 34.8l.1 104.5l.2-104.5l.2 69.7l.2-34.8l.2 69.6l.2-69.6h.2l.1-69.7l.2 69.7l.2-34.9h.2l.2 104.5h.2l.1-34.8l.2 34.8h.2l.2-34.8l.2-34.8h.2h.2l.1-69.7l.2 139.3l.2-69.6l.2 69.6l.2-104.5l.2 69.7l.1 34.8l.2-34.8l.2-69.7l.2 69.7l.2-104.5l.2 104.5h.1l.2-104.5l.2 69.7l.2 69.6l.2-139.3l.2 104.5l.2-104.5l.1 69.7l.2-69.7h.2l.2 69.7l.2-69.7l.2 139.3l.1-34.8l.2-104.5l.2 139.3l.2-104.5l.2-34.8l.2 34.8l.1-34.8l.2 139.3l.2-69.6h.2l.2 34.8h.2l.2-104.5l.1 139.3h.2l.2-69.6l.2-69.7h.2l.2 34.8l.1 104.5l.2-139.3l.2 139.3h.2l.2-139.3h.2l.2 139.3l.1-139.3l.2 104.5l.2-34.8l.2-69.7l.2 34.8l.2 34.9l.1-69.7l.2 104.5l.2-104.5l.2 69.7l.2 34.8h.2l.1-104.5l.2 69.7h.2l.2 34.8h.2l.2-104.5h.2l.1 69.7h.2l.2-69.7l.2 34.8h.2l.2-34.8l.1 139.3l.2-69.6l.2 69.6l.2-34.8h.2h.2l.1 34.8h.2l.2-139.3h.2h.2l.2 69.7l.2 69.6l.1-34.8l.2-104.5h.2l.2 69.7h.2l.2-34.9l.1 104.5l.2-104.5l.2 69.7l.2-104.5l.2 104.5l.2-69.7l.1 34.9h.2l.2 34.8l.2-104.5h.2l.2 104.5l.2-34.8l.1-69.7l.2 34.8h.2l.2-34.8l.2 139.3l.2-69.6h.1l.2 34.8l.2-104.5h.2l.2 104.5l.2-34.8l.2-69.7l.1 34.8l.2 69.7l.2-104.5l.2 104.5l.2 34.8l.2-104.5l.1 34.9l.2 34.8h.2l.2-104.5h.2l.2 104.5l.1-104.5l.2 69.7l.2 34.8l.2-34.8l.2-69.7h.2l.2 34.8h.1l.2 69.7l.2 34.8l.2-34.8l.2 34.8l.2-139.3l.1 104.5l.2-34.8l.2-34.9l.2 104.5l.2-139.3l.2 104.5l.1 34.8l.2-69.6l.2 34.8l.2-104.5l.2 104.5l.2 34.8h.2h.1l.2-34.8l.2-69.7l.2 104.5l.2-34.8h.2l.1-104.5h.2h.2l.2 69.7h.2l.2 69.6l.2-69.6l.1 69.6l.2-34.8l.2-104.5l.2 69.7l.2-34.9l.2 69.7l.1 34.8l.2-69.6h.2l.2 69.6l.2-139.3h.2l.1 139.3h.2l.2-139.3l.2 34.8l.2 104.5l.2-69.6l.2 69.6l.1-139.3l.2 69.7h.2l.2 69.6l.2-34.8h.2h.1l.2 34.8h.2l.2-104.5l.2-34.8h.2l.1 69.7l.2-69.7l.2 139.3h.2l.2-104.5l.2 104.5h.2l.1-139.3l.2 139.3h.2l.2-34.8l.2-104.5l.2 139.3l.1-139.3l.2 104.5l.2-34.8l.2 34.8l.2 34.8l.2-139.3l.2 139.3l.1-139.3h.2l.2 104.5l.2-104.5l.2 139.3h.2l.1-34.8l.2 34.8l.2-139.3l.2 69.7l.2-69.7l.2 139.3h.1l.2-139.3l.2 139.3l.2-34.8l.2 34.8l.2-69.6l.2 34.8l.1 34.8h.2l.2-34.8l.2-104.5l.2 139.3h.2l.1-69.6h.2l.2-69.7l.2 69.7l.2-69.7l.2 139.3l.1-139.3l.2 139.3h.2h.2l.2-139.3l.2 69.7l.2-69.7h.1h.2l.2 69.7l.2 34.8l.2-104.5l.2 34.8l.1 104.5l.2-69.6l.2 69.6h.2l.2-69.6l.2-34.9l.1-34.8h.2l.2 139.3l.2-104.5l.2-34.8l.2 34.8l.2 69.7l.1 34.8h.2l.2-69.6l.2-69.7l.2 139.3l.2-139.3h.1l.2 104.5l.2-104.5l.2 139.3l.2-34.8l.2-34.8l.2-69.7l.1 69.7l.2 69.6l.2-139.3l.2 69.7l.2-69.7l.2 139.3l.1-34.8l.2 34.8h.2l.2-34.8h.2l.2-69.7l.1-34.8l.2 104.5l.2-104.5l.2 34.8l.2 69.7l.2 34.8l.2-139.3l.1 34.8l.2 104.5l.2-104.5l.2 69.7h.2l.2-104.5l.1 139.3h.2l.2-69.6l.2-69.7l.2 139.3l.2-139.3l.1 34.8l.2 104.5l.2-104.5l.2 34.9l.2-34.9l.2-34.8l.2 104.5l.1 34.8l.2-34.8h.2h.2l.2 34.8h.2h.1h.2l.2-34.8h.2h.2l.2 34.8h.2h.1h.2l.2-34.8h.2h.2l.2-104.5l.1 104.5l.2-69.7l.2-34.8l.2 139.3h.2l.2-139.3l.1 104.5h.2l.2 34.8h.2h.2h.2h.2l.1-69.6l.2-69.7l.2 104.5h.2h.2l.2-104.5h.1h.2l.2 139.3l.2-139.3l.2 139.3l.2-69.6h.1h.2l.2 34.8l.2 34.8h.2l.2-139.3h.2l.1 104.5l.2 34.8l.2-139.3l.2 69.7l.2 34.8l.2-34.8l.1 69.6h.2l.2-139.3l.2 34.8l.2-34.8l.2 104.5l.1-104.5h.2l.2 69.7l.2-69.7l.2 139.3h.2l.2-139.3l.1 139.3l.2-69.6l.2-34.9h.2l.2 104.5l.2-139.3l.1 139.3l.2-69.6l.2-69.7l.2 69.7l.2 34.8l.2-104.5l.2 34.8l.1-34.8h.2h.2l.2 69.7l.2-69.7l.2 69.7l.1 69.6h.2h.2h.2l.2-69.6l.2 34.8l.1-104.5l.2 139.3l.2-139.3h.2l.2 104.5l.2 34.8h.2l.1-34.8l.2 34.8h.2l.2-34.8h.2l.2 34.8l.1-34.8l.2 34.8l.2-34.8h.2l.2 34.8l.2-34.8l.1 34.8l.2-34.8l.2 34.8h.2l.2-139.3l.2 139.3l.2-139.3l.1 139.3l.2-69.6l.2 69.6h.2h.2l.2-104.5l.1 34.9h.2l.2 34.8l.2-69.7l.2-34.8l.2 34.8l.2 69.7l.1-104.5l.2 139.3h.2l.2-69.6l.2-69.7h.2l.1 69.7l.2 69.6h.2h.2l.2-69.6l.2 69.6l.1-34.8l.2 34.8l.2-34.8l.2-104.5l.2 69.7l.2 69.6h.2h.1h.2l.2-69.6l.2 34.8l.2-104.5l.2 69.7l.1 69.6l.2-69.6l.2 104.5l.2-174.2l.2 139.3l.2-139.3l.1 69.7l.2-69.7l.2 139.3h.2h.2h.2l.2-34.8l.1 34.8l.2-69.6h.2h.2l.2-69.7h.2l.1 104.5l.2-69.7l.2 104.5l.2-34.8l.2 34.8h.2l.2-139.3l.1 104.5l.2-104.5l.2 104.5l.2 34.8h.2h.2l.1-34.8l.2 34.8l.2-34.8h.2l.2 34.8h.2h.1h.2h.2h.2h.2h.2l.2-34.8h.1l.2 34.8l.2-139.3l.2 139.3l.2-34.8l.2-104.5l.1 139.3l.2-69.6l.2 34.8h.2l.2 34.8l.2-139.3l.1 139.3h.2h.2l.2-139.3h.2h.2l.2 139.3l.1-139.3l.2 139.3h.2h.2l.2-69.6h.2h.1l.2-69.7h.2l.2 34.8l.2 104.5l.2-139.3h.1h.2l.2 139.3l.2-104.5l.2 34.9h.2l.2 69.6l.1-139.3h.2h.2l.2 104.5l.2-69.7l.2 104.5l.1-104.5l.2 104.5h.2h.2l.2-104.5l.2-34.8l.2 104.5l.1-34.8h.2l.2-69.7h.2h.2l.2 104.5l.1 34.8l.2-139.3l.2 139.3l.2-139.3h.2l.2 139.3h.1l.2-34.8l.2-104.5h.2h.2l.2 139.3l.2-69.6l.1-69.7l.2 104.5l.2-34.8l.2 69.6l.2-139.3l.2 104.5h.1l.2-69.7l.2 69.7l.2-104.5l.2 104.5h.2l.1-69.7h.2h.2l.2-34.8h.2l.2 104.5l.2-34.8l.1-69.7l.2 139.3l.2-104.5l.2 34.9l.2 34.8l.2 34.8h.1l.2-104.5l.2-34.8h.2h.2h.2h.2l.1 139.3l.2-104.5l.2-34.8h.2l.2 139.3l.2-104.5l.1 69.7h.2l.2-69.7h.2l.2 104.5l.2-69.6l.1 69.6h.2l.2-139.3h.2l.2 139.3l.2-139.3l.2 139.3l.1-34.8h.2l.2 34.8l.2-34.8l.2-34.8l.2-69.7l.1 139.3h.2h.2h.2h.2l.2-139.3h.1l.2 139.3l.2-34.8l.2-34.8l.2 34.8l.2-104.5h.2l.1 139.3l.2-34.8l.2-34.8h.2h.2l.2-69.7l.1 139.3l.2-34.8l.2-104.5l.2 139.3h.2l.2-69.6l.1 69.6l.2-69.6l.2 69.6h.2l.2-34.8l.2-104.5l.2 69.7h.1h.2l.2 34.8l.2-104.5l.2 69.7h.2l.1 69.6h.2l.2-69.6l.2-69.7l.2 34.8l.2 104.5l.2-139.3l.1 139.3l.2-69.6l.2 69.6h.2l.2-139.3l.2 104.5l.1-34.8l.2-34.9l.2 34.9l.2 34.8h.2l.2-34.8l.1 69.6h.2l.2-139.3l.2 104.5l.2-69.7h.2l.2 69.7l.1-104.5l.2 104.5l.2 34.8l.2-139.3l.2 34.8h.2l.1-34.8l.2 104.5h.2l.2-34.8l.2-69.7l.2 139.3l.1-139.3h.2l.2 139.3h.2h.2l.2-69.6l.2 69.6l.1-139.3l.2 139.3l.2-139.3l.2 104.5l.2-104.5l.2 104.5l.1 34.8l.2-104.5l.2 104.5l.2-139.3h.2l.2 139.3l.2-34.8l.1-34.8l.2-69.7l.2 139.3l.2-69.6h.2h.2h.1l.2 34.8h.2h.2l.2-104.5l.2 69.7l.1 69.6l.2-34.8l.2-104.5l.2 34.8l.2 104.5l.2-34.8h.2l.1-104.5l.2 139.3l.2-139.3h.2l.2 139.3l.2-34.8l.1-34.8h.2l.2-69.7l.2 139.3l.2-139.3l.2 139.3l.1-139.3l.2 139.3h.2l.2-139.3h.2l.2 34.8l.2-34.8l.1 104.5l.2 34.8l.2-104.5l.2-34.8l.2 139.3l.2-34.8l.1 34.8h.2l.2-139.3l.2 139.3h.2h.2l.1-139.3l.2 69.7l.2-69.7l.2 34.8l.2-34.8l.2 69.7l.2 69.6h.1l.2-34.8l.2 34.8l.2-34.8l.2 34.8l.2-139.3h.1l.2 34.8l.2 69.7h.2l.2 34.8l.2-34.8l.2 34.8l.1-69.6l.2-69.7l.2 104.5l.2-69.7l.2-34.8h.2l.1 104.5l.2 34.8l.2-139.3l.2 104.5l.2 34.8l.2-104.5l.1-34.8h.2l.2 104.5l.2 34.8h.2h.2h.2l.1-139.3l.2 69.7l.2 69.6h.2h.2l.2-139.3l.1 104.5l.2-104.5l.2 139.3h.2l.2-139.3l.2 139.3l.1-69.6h.2l.2 34.8l.2-104.5h.2l.2 139.3l.2-34.8h.1h.2l.2-34.8l.2-69.7l.2 104.5l.2-104.5l.1 104.5l.2 34.8l.2-34.8l.2-34.8l.2 69.6l.2-139.3l.2 69.7h.1l.2 69.6h.2h.2l.2-69.6l.2-34.9h.1l.2 104.5l.2-139.3l.2 34.8h.2l.2 34.9l.1-69.7h.2l.2 69.7l.2 34.8l.2-34.8l.2-69.7l.2 34.8l.1-34.8l.2 104.5l.2-34.8l.2 69.6l.2-69.6l.2 69.6l.1-69.6l.2-34.9l.2-34.8l.2 104.5l.2-104.5l.2 139.3h.1l.2-69.6l.2 34.8h.2l.2-34.8l.2-69.7h.2l.1 104.5l.2-34.8h.2l.2-34.9l.2 34.9l.2 34.8l.1-104.5l.2 139.3l.2-139.3l.2 139.3h.2l.2-104.5l.2 69.7h.1l.2 34.8h.2h.2h.2l.2-104.5l.1 104.5l.2-34.8h.2l.2-69.7l.2-34.8l.2 69.7l.1 69.6h.2l.2-69.6l.2 34.8l.2-69.7l.2 104.5l.2-104.5l.1 69.7l.2-34.8l.2 34.8l.2-34.8l.2 34.8l.2-34.8l.1 34.8l.2-34.8l.2-69.7l.2 34.8h.2h.2l.1 69.7l.2-69.7l.2 69.7l.2-69.7l.2 69.7l.2-104.5l.2 69.7l.1-69.7l.2 34.8l.2 69.7h.2l.2-69.7l.2 104.5l.1-139.3h.2l.2 139.3h.2l.2-34.8h.2l.1 34.8l.2-104.5l.2 104.5h.2l.2-34.8h.2l.2-69.7l.1 69.7l.2 34.8l.2-104.5h.2l.2 34.9h.2l.1-69.7l.2 34.8l.2 104.5l.2-139.3l.2 69.7l.2 69.6l.2-104.5l.1 34.9l.2 69.6h.2h.2l.2-69.6l.2 34.8h.1l.2 34.8h.2l.2-34.8l.2-34.8l.2 69.6l.1-69.6l.2-69.7l.2 139.3h.2h.2h.2l.2-34.8l.1-104.5l.2 104.5l.2-34.8l.2-69.7l.2 34.8l.2 104.5l.1-139.3l.2 69.7l.2 69.6h.2h.2l.2-104.5l.1-34.8h.2l.2 139.3l.2-69.6l.2 34.8h.2l.2-104.5l.1 139.3l.2-69.6l.2 69.6h.2l.2-139.3l.2 139.3l.1-34.8l.2 34.8l.2-34.8l.2-69.7l.2 104.5l.2-34.8l.2 34.8l.1-69.6h.2l.2 69.6h.2l.2-34.8l.2-104.5l.1 69.7l.2 34.8l.2-104.5l.2 139.3l.2-69.6h.2l.1-69.7l.2 104.5l.2-104.5l.2 139.3l.2-139.3h.2l.2 34.8l.1 69.7h.2l.2 34.8l.2-69.6l.2 69.6l.2-69.6l.1-69.7h.2h.2l.2 139.3l.2-69.6l.2-69.7l.1 139.3l.2-139.3l.2 139.3l.2-139.3h.2l.2 69.7l.2-34.9l.1 69.7l.2-104.5l.2 104.5l.2-69.7l.2-34.8h.2h.1l.2 139.3l.2-139.3l.2 104.5l.2 34.8l.2-139.3l.1 104.5l.2-34.8h.2l.2 34.8l.2 34.8l.2-139.3h.2h.1l.2 139.3l.2-34.8h.2l.2 34.8h.2l.1-34.8l.2 34.8l.2-34.8l.2 34.8l.2-104.5l.2-34.8l.2 34.8l.1 34.9l.2 69.6l.2-139.3l.2 139.3l.2-139.3h.2l.1 139.3l.2-34.8l.2-69.7l.2-34.8l.2 69.7l.2 34.8h.1l.2-104.5l.2 104.5l.2 34.8l.2-34.8l.2 34.8l.2-139.3h.1h.2l.2 34.8l.2 104.5l.2-139.3l.2 139.3l.1-34.8l.2-104.5h.2h.2l.2 104.5l.2 34.8l.1-34.8l.2-104.5h.2l.2 139.3h.2l.2-104.5l.2-34.8l.1 139.3l.2-104.5h.2h.2l.2-34.8l.2 69.7l.1 69.6l.2-139.3l.2 69.7l.2 69.6l.2-104.5l.2 34.9l.2-69.7l.1 139.3l.2-139.3l.2 104.5l.2-104.5l.2 139.3l.2-139.3l.1 139.3l.2-34.8l.2 34.8h.2h.2h.2l.1-34.8l.2 34.8l.2-34.8l.2-104.5l.2 69.7l.2 69.6l.2-69.6l.1-69.7l.2 139.3h.2l.2-34.8l.2 34.8l.2-139.3l.1 139.3h.2l.2-69.6l.2 69.6l.2-139.3h.2l.1 104.5l.2 34.8l.2-34.8l.2-34.8l.2-34.9l.2 34.9l.2 69.6l.1-104.5l.2-34.8l.2 104.5l.2 34.8l.2-69.6l.2 34.8l.1-104.5l.2 69.7l.2-69.7h.2l.2 34.8l.2 104.5l.2-139.3l.1 139.3l.2-69.6l.2 34.8h.2l.2-104.5h.2l.1 139.3l.2-139.3l.2 139.3l.2-104.5l.2-34.8h.2h.1h.2l.2 139.3l.2-139.3l.2 69.7l.2-69.7l.2 34.8l.1 104.5l.2-139.3l.2 104.5l.2-104.5l.2 69.7l.2 69.6h.1l.2-69.6l.2 104.5l.2-69.7l.2-104.5h.2l.1 139.3l.2-139.3l.2 104.5h.2h.2l.2-34.8h.2l.1 34.8h.2l.2-104.5l.2 34.8l.2 34.9l.2-34.9l.1-34.8l.2 69.7h.2l.2 69.6l.2-34.8l.2-34.8l.1 34.8h.2l.2-34.8l.2-34.9l.2 69.7h.2l.2 34.8l.1-34.8h.2h.2l.2 34.8l.2-139.3l.2 139.3l.1-139.3l.2 34.8l.2-34.8l.2 139.3l.2-139.3l.2 139.3l.2-104.5l.1-34.8l.2 104.5l.2-104.5l.2 104.5l.2 34.8l.2-139.3l.1 139.3l.2-69.6h.2l.2-69.7h.2l.2 139.3l.1-34.8h.2l.2-34.8l.2-69.7l.2 139.3h.2l.2-34.8h.1l.2-34.8h.2l.2-34.9l.2 104.5h.2l.1-139.3h.2l.2 139.3l.2-34.8l.2 34.8h.2l.1-34.8h.2h.2h.2l.2 34.8h.2l.2-34.8l.1 34.8h.2l.2-34.8h.2l.2 34.8l.2-34.8h.1l.2 34.8l.2-139.3l.2 139.3l.2-34.8h.2l.2-104.5l.1 104.5l.2-34.8l.2 69.6l.2-34.8l.2-104.5l.2 139.3l.1-69.6l.2 69.6l.2-139.3h.2l.2 139.3l.2-69.6l.1 34.8h.2l.2 34.8h.2l.2-139.3l.2 139.3l.2-69.6l.1-34.9l.2 34.9l.2 69.6h.2l.2-34.8l.2-104.5l.1 139.3l.2-34.8l.2-104.5h.2l.2 34.8l.2 34.9l.1-69.7l.2 69.7l.2-69.7l.2 139.3l.2-34.8h.2l.2-34.8l.1 34.8l.2-104.5l.2 104.5l.2-69.7l.2 104.5l.2-139.3l.1 69.7l.2 34.8l.2 34.8l.2-69.6l.2 69.6l.2-139.3l.1 104.5l.2-69.7h.2l.2-34.8l.2 104.5l.2 34.8l.2-104.5l.1 34.9l.2-69.7l.2 139.3h.2h.2h.2h.1h.2l.2-139.3l.2 104.5h.2l.2 34.8l.2-104.5h.1l.2-34.8h.2h.2l.2 139.3l.2-34.8l.1 34.8l.2-34.8h.2h.2h.2l.2 34.8l.1-139.3h.2h.2h.2h.2h.2l.2 139.3h.1h.2l.2-34.8l.2 34.8h.2l.2-34.8l.1 34.8h.2h.2l.2-34.8h.2l.2 34.8h.1l.2-34.8h.2h.2h.2l.2 34.8l.2-139.3l.1 104.5l.2-104.5l.2 139.3l.2-139.3h.2h.2l.1 69.7l.2 34.8l.2-104.5l.2 139.3l.2-69.6l.2-69.7l.2 69.7l.1-69.7l.2 139.3l.2-139.3l.2 139.3l.2-34.8l.2-34.8l.1-69.7l.2 139.3h.2l.2-139.3l.2 139.3l.2-34.8l.1 34.8l.2-139.3h.2l.2 104.5l.2-104.5h.2l.2 104.5l.1 34.8l.2-104.5l.2 34.9l.2 69.6h.2h.2l.1-139.3l.2 34.8h.2h.2l.2 104.5l.2-139.3l.1 104.5l.2-104.5l.2 69.7l.2-34.9l.2-34.8h.2l.2 34.8l.1-34.8l.2 104.5h.2l.2 34.8l.2-34.8l.2-104.5l.1 104.5l.2 34.8h.2l.2-104.5l.2-34.8l.2 104.5l.2 34.8l.1-139.3h.2l.2 104.5h.2h.2l.2-34.8l.1-34.9l.2-34.8l.2 104.5l.2-104.5l.2 69.7l.2-69.7l.1 104.5l.2-69.7l.2 69.7h.2l.2-69.7l.2 104.5l.2-34.8l.1-34.8l.2-34.9l.2 104.5l.2-34.8l.2 34.8l.2-104.5l.1 104.5h.2h.2h.2l.2-34.8l.2-69.7l.1 69.7l.2 34.8l.2-69.6l.2 34.8l.2-34.8h.2l.2 34.8l.1-69.7h.2l.2 34.9l.2 69.6l.2-69.6l.2-69.7l.1 34.8l.2 34.9l.2-69.7l.2 69.7l.2 34.8h.2l.1-34.8l.2-69.7l.2 139.3l.2-139.3h.2l.2 139.3l.2-139.3l.1 139.3l.2-139.3l.2 139.3l.2-139.3h.2l.2 69.7l.1-34.9l.2-34.8l.2 69.7l.2 34.8l.2-104.5h.2l.2 69.7l.1-69.7l.2 104.5h.2l.2-69.7l.2 69.7l.2-104.5h.1l.2 139.3l.2-34.8l.2-104.5l.2 69.7l.2 69.6l.1-139.3l.2 139.3l.2-34.8l.2-104.5h.2l.2 34.8l.2 104.5h.1h.2l.2-139.3l.2 139.3h.2l.2-104.5l.1-34.8l.2 34.8l.2 34.9l.2-69.7l.2 69.7l.2 69.6l.1-139.3l.2 139.3l.2-139.3l.2 69.7h.2l.2 69.6l.2-139.3l.1 104.5l.2-34.8l.2 69.6l.2-104.5l.2-34.8l.2 69.7l.1-69.7l.2 69.7h.2l.2-69.7l.2 139.3l.2-34.8l.2-104.5l.1 34.8l.2-34.8l.2 34.8h.2l.2 34.9l.2 69.6l.1-139.3h.2l.2 139.3l.2-34.8h.2l.2-69.7l.1 104.5h.2l.2-139.3h.2l.2 104.5l.2 34.8h.2h.1l.2-139.3l.2 139.3l.2-139.3l.2 139.3l.2-139.3l.1 139.3l.2-104.5l.2-34.8l.2 69.7l.2 69.6l.2-34.8l.1 34.8l.2-139.3l.2 104.5l.2-34.8l.2 34.8h.2l.2-104.5h.1h.2h.2h.2l.2 139.3h.2h.1l.2-139.3l.2 139.3l.2-139.3l.2 139.3h.2l.1-34.8l.2-104.5l.2 139.3h.2l.2-139.3l.2 139.3l.2-69.6l.1 34.8l.2-69.7l.2 69.7l.2 34.8h.2l.2-139.3l.1 139.3h.2l.2-69.6l.2-69.7l.2 104.5h.2h.2h.1l.2-104.5l.2 69.7h.2l.2 34.8h.2h.1l.2-104.5h.2h.2l.2 139.3l.2-139.3l.1 104.5h.2h.2l.2 34.8l.2-69.6l.2-69.7l.2 139.3l.1-139.3l.2 104.5l.2 34.8l.2-69.6l.2 69.6l.2-34.8l.1 69.7l.2-34.9l.2-104.5l.2 104.5l.2-139.3l.2 34.8l.1 34.9l.2 34.8l.2 34.8h.2l.2-69.6l.2 34.8l.2-104.5l.1 139.3h.2l.2-34.8l.2-34.8l.2-34.9l.2 34.9l.1 69.6h.2l.2-104.5l.2 104.5l.2-139.3l.2 69.7l.2-69.7l.1 104.5h.2l.2-34.8l.2-69.7l.2 69.7l.2 69.6h.1h.2l.2-34.8h.2l.2-69.7l.2 104.5h.1l.2-34.8l.2 34.8l.2-104.5l.2 69.7l.2 34.8h.2h.1h.2l.2-69.6l.2 69.6l.2-34.8l.2 34.8l.1-69.6l.2 69.6l.2-104.5l.2 34.9l.2-69.7l.2 104.5l.1-104.5l.2 104.5h.2l.2 34.8l.2-139.3l.2 139.3h.2l.1-69.6l.2 69.6l.2-34.8h.2h.2l.2-104.5h.1l.2 104.5l.2-69.7l.2 104.5l.2-34.8l.2-104.5l.2 69.7h.1h.2l.2 69.6h.2h.2l.2-69.6l.1-69.7l.2 139.3h.2h.2l.2-104.5l.2-34.8l.1 139.3l.2-69.6l.2-34.9l.2 104.5h.2h.2l.2-139.3h.1l.2 139.3l.2-139.3h.2h.2l.2 139.3l.1-34.8l.2 34.8l.2-139.3l.2 139.3l.2-34.8l.2 34.8l.1-34.8l.2 34.8l.2-104.5l.2 104.5l.2-104.5h.2l.2 104.5h.1l.2-104.5l.2 69.7l.2-104.5l.2 104.5l.2-104.5l.1 139.3h.2l.2-69.6l.2 34.8l.2-104.5l.2 34.8l.1-34.8l.2 69.7l.2 69.6h.2h.2l.2-104.5l.2 104.5l.1-69.6l.2-69.7l.2 69.7l.2-69.7l.2 139.3h.2l.1-69.6h.2l.2-34.9l.2 104.5l.2-139.3l.2 69.7l.2-34.9l.1 34.9h.2l.2 69.6l.2-139.3h.2l.2 69.7h.1l.2-34.9h.2l.2 104.5h.2l.2-139.3h.1l.2 139.3l.2-104.5l.2 34.9l.2 69.6l.2-139.3l.2 139.3l.1-104.5l.2 104.5h.2h.2l.2-34.8l.2-104.5l.1 139.3l.2-104.5l.2 104.5l.2-69.6l.2-69.7l.2 139.3l.1-104.5l.2 34.9l.2 69.6l.2-34.8h.2h.2l.2 34.8l.1-139.3h.2l.2 34.8h.2l.2 104.5h.2l.1-34.8l.2-104.5h.2l.2 104.5h.2l.2-104.5h.2h.1l.2 104.5l.2-104.5l.2 104.5l.2-34.8l.2 34.8l.1-104.5l.2 69.7l.2 69.6l.2-69.6l.2-69.7l.2 104.5l.1 34.8h.2h.2h.2l.2-104.5l.2-34.8l.2 69.7l.1 69.6l.2-34.8l.2-34.8h.2l.2-69.7h.2h.1l.2 139.3l.2-34.8l.2 34.8l.2-104.5l.2 104.5l.1-139.3l.2 104.5l.2-69.7l.2 104.5l.2-139.3h.2l.2 139.3l.1-34.8l.2-104.5l.2 34.8l.2 139.4l.2-69.7l.2-104.5l.1 104.5h.2l.2 34.8l.2-34.8l.2-34.8l.2 69.6l.1-69.6l.2-69.7l.2 139.3l.2-34.8l.2 34.8h.2h.2h.1l.2-139.3h.2l.2 139.3h.2l.2-69.6h.1l.2 34.8l.2-104.5l.2 69.7l.2 34.8l.2-34.8l.2 34.8l.1-34.8l.2-69.7l.2 139.3l.2-69.6l.2 69.6l.2-34.8l.1 34.8h.2l.2-69.6l.2-69.7l.2 69.7l.2-34.9h.1l.2 69.7l.2-34.8l.2 69.6h.2l.2-139.3l.2 139.3h.1l.2-69.6l.2-69.7l.2 139.3l.2-69.6l.2 69.6h.1h.2h.2h.2l.2-34.8l.2 34.8l.1-139.3l.2 69.7l.2 69.6l.2-104.5l.2 104.5h.2l.2-104.5l.1 69.7l.2-69.7l.2 104.5h.2h.2l.2-34.8h.1l.2 34.8h.2l.2-104.5l.2 69.7l.2-104.5h.2l.1 104.5l.2 34.8l.2-104.5l.2-34.8h.2h.2l.1 104.5l.2 34.8h.2l.2-34.8l.2-34.8l.2 34.8l.1-104.5l.2 139.3h.2l.2-104.5l.2-34.8l.2 104.5h.2l.1 69.7l.2-174.2l.2 104.5l.2-104.5l.2 69.7h.2l.1 69.6l.2-139.3l.2 34.8l.2-34.8l.2 34.8l.2 104.5l.1-104.5l.2-34.8h.2h.2l.2 139.3h.2l.2-139.3h.1l.2 104.5h.2l.2-104.5l.2 139.3l.2-139.3l.1 139.3l.2-139.3l.2 139.3l.2-34.8l.2 34.8l.2-69.6l.1 34.8l.2-34.8l.2-34.9h.2l.2-34.8h.2h.2l.1 139.3l.2-139.3l.2 34.8l.2-34.8h.2l.2 104.5l.1-69.7l.2 104.5l.2-34.8h.2l.2 34.8l.2-139.3l.2 69.7h.1l.2 69.6l.2-69.6l.2-34.9l.2-34.8h.2h.1h.2l.2 104.5l.2-34.8l.2 69.6l.2-139.3h.1h.2h.2l.2 139.3h.2h.2l.2-139.3l.1 139.3h.2h.2l.2-139.3l.2 139.3l.2-139.3l.1 139.3l.2-139.3l.2 139.3l.2-34.8l.2 34.8l.2-69.6h.1l.2-34.9l.2 34.9l.2 34.8l.2-104.5l.2 69.7l.2 69.6h.1l.2-34.8h.2l.2-34.8l.2-69.7l.2 104.5h.1l.2 34.8l.2-34.8l.2-104.5l.2 139.3h.2l.2-69.6h.1h.2l.2 69.6l.2-139.3l.2 139.3l.2-104.5l.1-34.8h.2h.2l.2 104.5l.2-104.5l.2 139.3l.1-69.6l.2 34.8l.2 34.8l.2-139.3l.2 104.5h.2l.2-69.7l.1 104.5h.2l.2-69.6l.2-34.9l.2 104.5l.2-34.8l.1-69.7l.2 69.7l.2 34.8l.2-69.6l.2 34.8l.2 34.8h.1l.2-139.3l.2 139.3l.2-139.3l.2 34.8l.2-34.8l.2 34.8l.1 69.7h.2h.2l.2-104.5l.2 139.3l.2-34.8l.1-34.8l.2-69.7l.2 139.3l.2-69.6l.2 69.6l.2-104.5l.2 69.7l.1 34.8h.2l.2-104.5l.2 104.5h.2h.2l.1-69.6l.2 34.8l.2 34.8l.2-34.8l.2 34.8l.2-104.5l.1-34.8l.2 104.5l.2 34.8h.2h.2l.2-104.5l.2-34.8l.1 34.8l.2 34.9l.2 104.5l.2-104.5l.2 69.6l.2-139.3l.1 34.8l.2 34.9l.2 34.8l.2 34.8l.2-69.6l.2 69.6h.1l.2-69.6l.2-69.7l.2 104.5h.2l.2-34.8h.2l.1-69.7l.2 139.3l.2-34.8l.2 34.8l.2-139.3l.2 139.3h.1h.2h.2l.2-139.3l.2 104.5l.2 34.8l.1-69.6l.2 34.8l.2 34.8l.2-34.8l.2 34.8l.2-34.8l.2-69.7l.1 104.5h.2l.2-139.3l.2 69.7l.2-69.7l.2 69.7l.1-69.7l.2 139.3h.2l.2-34.8l.2 34.8l.2-139.3l.2 139.3l.1-139.3l.2 34.8l.2 69.7l.2 34.8h.2h.2l.1-139.3l.2 104.5l.2-34.8l.2-34.9l.2-34.8l.2 104.5l.1-69.7l.2 104.5l.2-139.3l.2 104.5l.2-34.8h.2l.2 69.6h.1l.2-139.3l.2 69.7l.2-69.7l.2 139.3l.2-139.3l.1 34.8l.2 69.7l.2-104.5l.2 69.7l.2-69.7l.2 139.3l.1-34.8l.2 34.8l.2-69.6l.2 34.8l.2-104.5l.2 139.3l.2-69.6l.1 69.6l.2-69.6l.2-34.9l.2 104.5l.2-139.3l.2 69.7l.1 34.8h.2l.2-104.5l.2 139.3l.2-34.8l.2-34.8l.2 69.6l.1-34.8l.2-104.5l.2 69.7l.2-69.7l.2 69.7l.2 34.8h.1l.2-69.7l.2-34.8l.2 139.3l.2-34.8l.2-104.5l.1 104.5l.2 34.8l.2-139.3l.2 139.3h.2l.2-104.5l.2 69.7h.1l.2-104.5h.2l.2 139.3l.2-139.3l.2 69.7h.1l.2 69.6h.2l.2-34.8l.2 34.8l.2-104.5l.1 69.7l.2-69.7l.2 104.5h.2h.2h.2l.2-139.3l.1 139.3l.2-139.3l.2 139.3l.2-34.8h.2l.2 34.8l.1-34.8l.2-104.5l.2 69.7l.2-69.7l.2 34.8l.2-34.8h.1l.2 139.3h.2l.2-34.8l.2 34.8l.2-34.8l.2-34.8l.1-69.7l.2 139.3l.2-34.8l.2 34.8h.2l.2-34.8l.1-34.8l.2 34.8l.2-104.5l.2 34.8h.2l.2 69.7h.2l.1-69.7l.2 34.9l.2 69.6l.2-34.8h.2l.2 34.8l.1-69.6l.2 69.6l.2-104.5l.2 69.7l.2 34.8l.2-104.5l.1-34.8h.2l.2 69.7l.2 34.8l.2 34.8h.2l.2-69.6l.1-69.7l.2 69.7l.2-69.7l.2 139.3h.2l.2-139.3l.1 104.5l.2 34.8l.2-104.5l.2-34.8l.2 139.3h.2h.1l.2-104.5l.2 104.5l.2-34.8l.2 34.8l.2-139.3l.2 104.5l.1-34.8l.2 34.8l.2-69.7l.2-34.8l.2 69.7l.2 34.8l.1-104.5h.2l.2 34.8h.2l.2 34.9h.2h.2l.1-69.7l.2 104.5l.2 34.8h.2l.2-139.3l.2 139.3l.1-139.3l.2 69.7l.2 69.6l.2-34.8l.2-104.5l.2 104.5l.1-104.5l.2 104.5l.2 34.8l.2-139.3h.2l.2 139.3l.2-34.8l.1 34.8l.2-34.8h.2l.2-104.5l.2 139.3h.2h.1l.2-139.3l.2 34.8l.2-34.8h.2h.2l.1 139.3l.2-104.5l.2 69.7l.2-69.7l.2 104.5l.2-34.8l.2 34.8h.1h.2l.2-34.8l.2-104.5l.2 69.7l.2-34.9l.1 104.5l.2-69.6l.2 69.6l.2-139.3l.2 104.5l.2-104.5l.2 104.5l.1-34.8l.2 34.8l.2-104.5l.2 69.7l.2 34.8l.2-69.7h.1l.2 69.7l.2 34.8l.2-34.8l.2-104.5l.2 139.3h.1l.2-104.5l.2 69.7l.2-34.8l.2 34.8l.2-104.5l.2 104.5l.1 34.8l.2-139.3l.2 104.5l.2-104.5l.2 34.8l.2 104.5l.1-139.3l.2 139.3l.2-104.5l.2 69.7l.2 34.8h.2l.1-69.6l.2 69.6l.2-139.3l.2 34.8l.2 69.7l.2-104.5l.2 34.8l.1 34.9l.2-34.9l.2 34.9h.2l.2-69.7" stroke="#ff0000"/>
<path d="M.2 104.5l.2 34l.2-34l.1 34l.2-136.8l.2 33.1h.2l.2 69.7l.2-34.8h.1h.2l.2 68.8l.2-34h.2l.2-69.7l.1-33.1h.2l.2 68l.2 34.8l.2 34h.2h.2l.1-34h.2h.2l.2-102.8l.2 68h.2l.1 68.8h.2l.2-34l.2 34l.2-68.8l.2-68l.2 33.1l.1 103.7l.2-136.8h.2l.2 33.1l.2-33.1h.2h.1l.2 102.8l.2-102.8h.2h.2l.2 102.8l.1 34l.2-34h.2h.2h.2h.2h.2h.1l.2 34l.2-34l.2 34l.2-34h.2h.1h.2h.2l.2 34h.2l.2-136.8l.1 102.8l.2 34l.2-136.8h.2l.2 136.8l.2-68.8l.2 68.8l.1-68.8l.2-34.9l.2-33.1h.2l.2 136.8h.2l.1-136.8h.2l.2 136.8l.2-136.8h.2l.2 136.8l.1-34l.2 34h.2h.2h.2h.2l.2-136.8l.1 102.8l.2 34l.2-136.8l.2 33.1l.2 34.9l.2 68.8l.1-68.8l.2-68l.2 136.8l.2-136.8l.2 136.8l.2-136.8l.2 68l.1-34.9l.2 103.7l.2-34h.2l.2-34.8h.2l.1 68.8h.2l.2-34l.2-34.8l.2 68.8l.2-136.8l.1 136.8l.2-103.7l.2-33.1l.2 136.8l.2-136.8h.2l.2 68l.1-68l.2 102.8h.2l.2-102.8l.2 102.8l.2 34l.1-136.8l.2 33.1h.2l.2-33.1l.2 33.1l.2 103.7h.1h.2l.2-34l.2 34l.2-136.8l.2 33.1l.2 103.7h.1l.2-103.7l.2 103.7h.2h.2l.2-136.8l.1 68l.2 34.8l.2-69.7l.2 103.7l.2-136.8l.2 136.8l.2-34l.1 34l.2-68.8l.2 68.8h.2h.2l.2-136.8l.1 136.8h.2l.2-103.7l.2 69.7l.2-34.8l.2 34.8l.1-69.7l.2-33.1l.2 136.8l.2-136.8l.2 102.8l.2 34l.2-68.8l.1-68h.2l.2 68l.2-68l.2 33.1l.2 69.7l.1 34l.2-136.8l.2 136.8l.2-34l.2-69.7l.2-33.1l.1 102.8l.2-102.8l.2 102.8l.2 34h.2l.2-136.8h.2h.1l.2 136.8l.2-68.8l.2 34.8l.2-102.8l.2 68l.1 68.8h.2l.2-34l.2-69.7l.2 103.7l.2-34l.2 34l.1-34l.2-69.7l.2 103.7l.2-34l.2-102.8l.2 136.8h.1l.2-68.8l.2 34.8h.2l.2 34h.2l.1-68.8l.2 34.8l.2 34l.2-103.7l.2 103.7l.2-136.8l.2 136.8l.1-34h.2l.2-102.8l.2 33.1h.2l.2 69.7h.1l.2-69.7l.2 69.7l.2 34l.2-68.8h.2l.1-34.9h.2l.2 103.7l.2-103.7l.2 34.9l.2 68.8h.2l.1-68.8l.2-68h.2h.2h.2l.2 33.1l.1-33.1l.2 136.8l.2-136.8l.2 102.8l.2-69.7l.2-33.1l.1 102.8l.2 34h.2h.2l.2-136.8h.2l.2 102.8h.1l.2 34l.2-68.8l.2 68.8h.2l.2-136.8l.1 136.8l.2-136.8l.2 102.8l.2-102.8l.2 33.1l.2 69.7l.2-69.7l.1-33.1l.2 102.8l.2-69.7l.2 69.7l.2 34h.2h.1l.2-103.7l.2 69.7l.2-34.8l.2 34.8l.2-34.8l.1-34.9l.2-33.1l.2 136.8l.2-136.8l.2 33.1l.2 34.9l.2 68.8l.1-136.8l.2 102.8l.2-102.8h.2l.2 102.8l.2-34.8l.1-68l.2 102.8l.2 34h.2l.2-34l.2 34l.1-68.8l.2 34.8l.2 34l.2-136.8l.2 102.8l.2-34.8l.2-68l.1 136.8l.2-136.8l.2 68l.2 34.8l.2-34.8l.2 68.8l.1-103.7l.2 69.7l.2-34.8l.2 68.8l.2-103.7l.2-33.1h.2l.1 102.8l.2-102.8l.2 68l.2-34.9l.2 103.7l.2-68.8l.1-68h.2l.2 102.8l.2-102.8l.2 102.8l.2-102.8l.1 68l.2 34.8l.2-102.8h.2h.2l.2 136.8h.2h.1l.2-34h.2l.2 34h.2l.2-34l.1 34h.2l.2-34l.2 34l.2-34h.2h.1l.2 34l.2-34h.2h.2l.2-102.8l.2 102.8l.1-102.8l.2 136.8l.2-68.8l.2 34.8l.2-34.8l.2-68h.1l.2 68l.2 34.8l.2 34l.2-34l.2 34h.1l.2-136.8l.2 136.8l.2-136.8l.2 102.8h.2h.2l.1 34l.2-34l.2 34l.2-34l.2 34l.2-136.8h.1l.2 102.8l.2-34.8l.2-68l.2 102.8l.2 34h.2h.1l.2-103.7l.2 69.7h.2l.2-102.8l.2 136.8l.1-136.8l.2 68l.2 34.8l.2-102.8l.2 102.8l.2-102.8h.1l.2 68l.2-34.9l.2-33.1l.2 33.1l.2-33.1h.2h.1h.2h.2l.2 136.8l.2-68.8l.2-34.9l.1 69.7h.2l.2 34l.2-136.8l.2 102.8h.2l.1-102.8l.2 136.8l.2-136.8l.2 136.8h.2l.2-34h.2l.1-102.8h.2h.2l.2 102.8l.2-34.8l.2 68.8l.1-136.8l.2 102.8l.2 34l.2-68.8l.2 68.8l.2-34l.2-102.8l.1 136.8h.2h.2h.2l.2-34l.2 34l.1-34l.2 34h.2l.2-68.8l.2 34.8h.2l.1-102.8l.2 136.8h.2l.2-136.8l.2 102.8l.2-102.8l.2 136.8l.1-68.8l.2-68l.2 102.8l.2-102.8l.2 68l.2 34.8l.1-102.8l.2 102.8h.2l.2-34.8l.2 34.8l.2-102.8l.1 68h.2h.2l.2-68h.2l.2 136.8l.2-34h.1l.2-34.8l.2 68.8h.2l.2-136.8l.2 136.8l.1-136.8l.2 33.1l.2-33.1l.2 136.8l.2-34l.2-102.8l.1 136.8h.2l.2-34l.2 34h.2l.2-103.7l.2 103.7l.1-136.8l.2 68l.2 68.8l.2-136.8l.2 136.8l.2-34l.1-34.8l.2 68.8l.2-68.8l.2 68.8h.2l.2-136.8h.2l.1 68l.2-34.9l.2-33.1l.2 136.8l.2-34l.2 34h.1h.2h.2h.2h.2l.2-34l.1-34.8l.2-68h.2l.2 33.1l.2 34.9l.2-68l.2 136.8h.1l.2-136.8l.2 68l.2 68.8l.2-34l.2 34l.1-34h.2h.2l.2-102.8h.2l.2 68l.1 34.8l.2 34l.2-136.8h.2l.2 136.8l.2-103.7h.2h.1l.2 103.7l.2-68.8l.2 68.8h.2l.2-68.8h.1h.2l.2-34.9h.2l.2 69.7l.2 34l.2-136.8h.1h.2l.2 68l.2 68.8h.2h.2l.1-68.8h.2l.2 68.8l.2-136.8h.2h.2l.1 102.8l.2 34l.2-136.8l.2 68l.2-34.9l.2 69.7h.2h.1l.2 34l.2-34l.2 34h.2l.2-34h.1l.2 34l.2-34l.2 34h.2l.2-34h.1h.2l.2 34h.2l.2-34l.2 34l.2-34l.1-69.7l.2 69.7l.2 34l.2-68.8l.2 34.8h.2l.1-69.7l.2 69.7l.2 34l.2-68.8l.2 68.8h.2l.2-136.8l.1 102.8h.2l.2-102.8l.2 33.1l.2 69.7h.2h.1l.2-102.8l.2 136.8l.2-68.8l.2 68.8h.2l.1-68.8l.2 34.8l.2 34l.2-68.8l.2-68l.2 68l.2 34.8l.1-102.8h.2l.2 136.8h.2l.2-136.8h.2l.1 136.8l.2-103.7l.2-33.1l.2 68l.2-34.9l.2 34.9l.1 68.8h.2h.2l.2-103.7l.2 103.7l.2-68.8l.2 34.8h.1l.2-102.8l.2 102.8h.2h.2l.2 34h.1l.2-68.8l.2-68l.2 136.8l.2-136.8l.2 33.1l.1 103.7l.2-103.7l.2 69.7l.2-34.8l.2 68.8l.2-68.8h.2l.1-68l.2 68l.2-34.9h.2l.2 103.7h.2l.1-34l.2 34h.2l.2-34l.2-34.8h.2h.2l.1-68l.2 136.8l.2-68.8l.2 68.8l.2-103.7l.2 69.7l.1 34l.2-34l.2-69.7l.2 69.7l.2-102.8l.2 102.8h.1l.2-102.8l.2 68l.2 68.8l.2-136.8l.2 102.8l.2-102.8l.1 68l.2-68h.2l.2 68l.2-68l.2 136.8l.1-34l.2-102.8l.2 136.8l.2-103.7l.2-33.1l.2 33.1l.1-33.1l.2 136.8l.2-68.8h.2l.2 34.8h.2l.2-102.8l.1 136.8h.2l.2-68.8l.2-68h.2l.2 33.1l.1 103.7l.2-136.8l.2 136.8h.2l.2-136.8h.2l.2 136.8l.1-136.8l.2 102.8l.2-34.8l.2-68l.2 33.1l.2 34.9l.1-68l.2 102.8l.2-102.8l.2 68l.2 34.8h.2l.1-102.8l.2 68h.2l.2 34.8h.2l.2-102.8h.2l.1 68h.2l.2-68l.2 33.1h.2l.2-33.1l.1 136.8l.2-68.8l.2 68.8l.2-34h.2h.2l.1 34h.2l.2-136.8h.2h.2l.2 68l.2 68.8l.1-34l.2-102.8h.2l.2 68h.2l.2-34.9l.1 103.7l.2-103.7l.2 69.7l.2-102.8l.2 102.8l.2-69.7l.1 34.9h.2l.2 34.8l.2-102.8h.2l.2 102.8l.2-34.8l.1-68l.2 33.1h.2l.2-33.1l.2 136.8l.2-68.8h.1l.2 34.8l.2-102.8h.2l.2 102.8l.2-34.8l.2-68l.1 33.1l.2 69.7l.2-102.8l.2 102.8l.2 34l.2-103.7l.1 34.9l.2 34.8h.2l.2-102.8h.2l.2 102.8l.1-102.8l.2 68l.2 34.8l.2-34.8l.2-68h.2l.2 33.1h.1l.2 69.7l.2 34l.2-34l.2 34l.2-136.8l.1 102.8l.2-34.8l.2-34.9l.2 103.7l.2-136.8l.2 102.8l.1 34l.2-68.8l.2 34.8l.2-102.8l.2 102.8l.2 34h.2h.1l.2-34l.2-69.7l.2 103.7l.2-34h.2l.1-102.8h.2h.2l.2 68h.2l.2 68.8l.2-68.8l.1 68.8l.2-34l.2-102.8l.2 68l.2-34.9l.2 69.7l.1 34l.2-68.8h.2l.2 68.8l.2-136.8h.2l.1 136.8h.2l.2-136.8l.2 33.1l.2 103.7l.2-68.8l.2 68.8l.1-136.8l.2 68h.2l.2 68.8l.2-34h.2h.1l.2 34h.2l.2-103.7l.2-33.1h.2l.1 68l.2-68l.2 136.8h.2l.2-103.7l.2 103.7h.2l.1-136.8l.2 136.8h.2l.2-34l.2-102.8l.2 136.8l.1-136.8l.2 102.8l.2-34.8l.2 34.8l.2 34l.2-136.8l.2 136.8l.1-136.8h.2l.2 102.8l.2-102.8l.2 136.8h.2l.1-34l.2 34l.2-136.8l.2 68l.2-68l.2 136.8h.1l.2-136.8l.2 136.8l.2-34l.2 34l.2-68.8l.2 34.8l.1 34h.2l.2-34l.2-102.8l.2 136.8h.2l.1-68.8h.2l.2-68l.2 68l.2-68l.2 136.8l.1-136.8l.2 136.8h.2h.2l.2-136.8l.2 68l.2-68h.1h.2l.2 68l.2 34.8l.2-102.8l.2 33.1l.1 103.7l.2-68.8l.2 68.8h.2l.2-68.8l.2-34.9l.1-33.1h.2l.2 136.8l.2-103.7l.2-33.1l.2 33.1l.2 69.7l.1 34h.2l.2-68.8l.2-68l.2 136.8l.2-136.8h.1l.2 102.8l.2-102.8l.2 136.8l.2-34l.2-34.8l.2-68l.1 68l.2 68.8l.2-136.8l.2 68l.2-68l.2 136.8l.1-34l.2 34h.2l.2-34h.2l.2-69.7l.1-33.1l.2 102.8l.2-102.8l.2 33.1l.2 69.7l.2 34l.2-136.8l.1 33.1l.2 103.7l.2-103.7l.2 69.7h.2l.2-102.8l.1 136.8h.2l.2-68.8l.2-68l.2 136.8l.2-136.8l.1 33.1l.2 103.7l.2-103.7l.2 34.9l.2-34.9l.2-33.1l.2 102.8l.1 34l.2-34h.2h.2l.2 34h.2h.1h.2l.2-34h.2h.2l.2 34h.2h.1h.2l.2-34h.2h.2l.2-102.8l.1 102.8l.2-69.7l.2-33.1l.2 136.8h.2l.2-136.8l.1 102.8h.2l.2 34h.2h.2h.2h.2l.1-68.8l.2-68l.2 102.8h.2h.2l.2-102.8h.1h.2l.2 136.8l.2-136.8l.2 136.8l.2-68.8h.1h.2l.2 34.8l.2 34h.2l.2-136.8h.2l.1 102.8l.2 34l.2-136.8l.2 68l.2 34.8l.2-34.8l.1 68.8h.2l.2-136.8l.2 33.1l.2-33.1l.2 102.8l.1-102.8h.2l.2 68l.2-68l.2 136.8h.2l.2-136.8l.1 136.8l.2-68.8l.2-34.9h.2l.2 103.7l.2-136.8l.1 136.8l.2-68.8l.2-68l.2 68l.2 34.8l.2-102.8l.2 33.1l.1-33.1h.2h.2l.2 68l.2-68l.2 68l.1 68.8h.2h.2h.2l.2-68.8l.2 34.8l.1-102.8l.2 136.8l.2-136.8h.2l.2 102.8l.2 34h.2l.1-34l.2 34h.2l.2-34h.2l.2 34l.1-34l.2 34l.2-34h.2l.2 34l.2-34l.1 34l.2-34l.2 34h.2l.2-136.8l.2 136.8l.2-136.8l.1 136.8l.2-68.8l.2 68.8h.2h.2l.2-103.7l.1 34.9h.2l.2 34.8l.2-69.7l.2-33.1l.2 33.1l.2 69.7l.1-102.8l.2 136.8h.2l.2-68.8l.2-68h.2l.1 68l.2 68.8h.2h.2l.2-68.8l.2 68.8l.1-34l.2 34l.2-34l.2-102.8l.2 68l.2 68.8h.2h.1h.2l.2-68.8l.2 34.8l.2-102.8l.2 68l.1 68.8l.2-68.8l.2 104.5l.2-172.5l.2 136.8l.2-136.8l.1 68l.2-68l.2 136.8h.2h.2h.2l.2-34l.1 34l.2-68.8h.2h.2l.2-68h.2l.1 102.8l.2-69.7l.2 103.7l.2-34l.2 34h.2l.2-136.8l.1 102.8l.2-102.8l.2 102.8l.2 34h.2h.2l.1-34l.2 34l.2-34h.2l.2 34h.2h.1h.2h.2h.2h.2h.2l.2-34h.1l.2 34l.2-136.8l.2 136.8l.2-34l.2-102.8l.1 136.8l.2-68.8l.2 34.8h.2l.2 34l.2-136.8l.1 136.8h.2h.2l.2-136.8h.2h.2l.2 136.8l.1-136.8l.2 136.8h.2h.2l.2-68.8h.2h.1l.2-68h.2l.2 33.1l.2 103.7l.2-136.8h.1h.2l.2 136.8l.2-103.7l.2 34.9h.2l.2 68.8l.1-136.8h.2h.2l.2 102.8l.2-69.7l.2 103.7l.1-103.7l.2 103.7h.2h.2l.2-103.7l.2-33.1l.2 102.8l.1-34.8h.2l.2-68h.2h.2l.2 102.8l.1 34l.2-136.8l.2 136.8l.2-136.8h.2l.2 136.8h.1l.2-34l.2-102.8h.2h.2l.2 136.8l.2-68.8l.1-68l.2 102.8l.2-34.8l.2 68.8l.2-136.8l.2 102.8h.1l.2-69.7l.2 69.7l.2-102.8l.2 102.8h.2l.1-69.7h.2h.2l.2-33.1h.2l.2 102.8l.2-34.8l.1-68l.2 136.8l.2-103.7l.2 34.9l.2 34.8l.2 34h.1l.2-103.7l.2-33.1h.2h.2h.2h.2l.1 136.8l.2-103.7l.2-33.1h.2l.2 136.8l.2-103.7l.1 69.7h.2l.2-69.7h.2l.2 103.7l.2-68.8l.1 68.8h.2l.2-136.8h.2l.2 136.8l.2-136.8l.2 136.8l.1-34h.2l.2 34l.2-34l.2-34.8l.2-68l.1 136.8h.2h.2h.2h.2l.2-136.8h.1l.2 136.8l.2-34l.2-34.8l.2 34.8l.2-102.8h.2l.1 136.8l.2-34l.2-34.8h.2h.2l.2-68l.1 136.8l.2-34l.2-102.8l.2 136.8h.2l.2-68.8l.1 68.8l.2-68.8l.2 68.8h.2l.2-34l.2-102.8l.2 68h.1h.2l.2 34.8l.2-102.8l.2 68h.2l.1 68.8h.2l.2-68.8l.2-68l.2 33.1l.2 103.7l.2-136.8l.1 136.8l.2-68.8l.2 68.8h.2l.2-136.8l.2 102.8l.1-34.8l.2-34.9l.2 34.9l.2 34.8h.2l.2-34.8l.1 68.8h.2l.2-136.8l.2 102.8l.2-69.7h.2l.2 69.7l.1-102.8l.2 102.8l.2 34l.2-136.8l.2 33.1h.2l.1-33.1l.2 102.8h.2l.2-34.8l.2-68l.2 136.8l.1-136.8h.2l.2 136.8h.2h.2l.2-68.8l.2 68.8l.1-136.8l.2 136.8l.2-136.8l.2 102.8l.2-102.8l.2 102.8l.1 34l.2-103.7l.2 103.7l.2-136.8h.2l.2 136.8l.2-34l.1-34.8l.2-68l.2 136.8l.2-68.8h.2h.2h.1l.2 34.8h.2h.2l.2-102.8l.2 68l.1 68.8l.2-34l.2-102.8l.2 33.1l.2 103.7l.2-34h.2l.1-102.8l.2 136.8l.2-136.8h.2l.2 136.8l.2-34l.1-34.8h.2l.2-68l.2 136.8l.2-136.8l.2 136.8l.1-136.8l.2 136.8h.2l.2-136.8h.2l.2 33.1l.2-33.1l.1 102.8l.2 34l.2-103.7l.2-33.1l.2 136.8l.2-34l.1 34h.2l.2-136.8l.2 136.8h.2h.2l.1-136.8l.2 68l.2-68l.2 33.1l.2-33.1l.2 68l.2 68.8h.1l.2-34l.2 34l.2-34l.2 34l.2-136.8h.1l.2 33.1l.2 69.7h.2l.2 34l.2-34l.2 34l.1-68.8l.2-68l.2 102.8l.2-69.7l.2-33.1h.2l.1 102.8l.2 34l.2-136.8l.2 102.8l.2 34l.2-103.7l.1-33.1h.2l.2 102.8l.2 34h.2h.2h.2l.1-136.8l.2 68l.2 68.8h.2h.2l.2-136.8l.1 102.8l.2-102.8l.2 136.8h.2l.2-136.8l.2 136.8l.1-68.8h.2l.2 34.8l.2-102.8h.2l.2 136.8l.2-34h.1h.2l.2-34.8l.2-68l.2 102.8l.2-102.8l.1 102.8l.2 34l.2-34l.2-34.8l.2 68.8l.2-136.8l.2 68h.1l.2 68.8h.2h.2l.2-68.8l.2-34.9h.1l.2 103.7l.2-136.8l.2 33.1h.2l.2 34.9l.1-68h.2l.2 68l.2 34.8l.2-34.8l.2-68l.2 33.1l.1-33.1l.2 102.8l.2-34.8l.2 68.8l.2-68.8l.2 68.8l.1-68.8l.2-34.9l.2-33.1l.2 102.8l.2-102.8l.2 136.8h.1l.2-68.8l.2 34.8h.2l.2-34.8l.2-68h.2l.1 102.8l.2-34.8h.2l.2-34.9l.2 34.9l.2 34.8l.1-102.8l.2 136.8l.2-136.8l.2 136.8h.2l.2-103.7l.2 69.7h.1l.2 34h.2h.2h.2l.2-103.7l.1 103.7l.2-34h.2l.2-69.7l.2-33.1l.2 68l.1 68.8h.2l.2-68.8l.2 34.8l.2-69.7l.2 103.7l.2-103.7l.1 69.7l.2-34.8l.2 34.8l.2-34.8l.2 34.8l.2-34.8l.1 34.8l.2-34.8l.2-68l.2 33.1h.2h.2l.1 69.7l.2-69.7l.2 69.7l.2-69.7l.2 69.7l.2-102.8l.2 68l.1-68l.2 33.1l.2 69.7h.2l.2-69.7l.2 103.7l.1-136.8h.2l.2 136.8h.2l.2-34h.2l.1 34l.2-103.7l.2 103.7h.2l.2-34h.2l.2-69.7l.1 69.7l.2 34l.2-103.7h.2l.2 34.9h.2l.1-68l.2 33.1l.2 103.7l.2-136.8l.2 68l.2 68.8l.2-103.7l.1 34.9l.2 68.8h.2h.2l.2-68.8l.2 34.8h.1l.2 34h.2l.2-34l.2-34.8l.2 68.8l.1-68.8l.2-68l.2 136.8h.2h.2h.2l.2-34l.1-102.8l.2 102.8l.2-34.8l.2-68l.2 33.1l.2 103.7l.1-136.8l.2 68l.2 68.8h.2h.2l.2-103.7l.1-33.1h.2l.2 136.8l.2-68.8l.2 34.8h.2l.2-102.8l.1 136.8l.2-68.8l.2 68.8h.2l.2-136.8l.2 136.8l.1-34l.2 34l.2-34l.2-69.7l.2 103.7l.2-34l.2 34l.1-68.8h.2l.2 68.8h.2l.2-34l.2-102.8l.1 68l.2 34.8l.2-102.8l.2 136.8l.2-68.8h.2l.1-68l.2 102.8l.2-102.8l.2 136.8l.2-136.8h.2l.2 33.1l.1 69.7h.2l.2 34l.2-68.8l.2 68.8l.2-68.8l.1-68h.2h.2l.2 136.8l.2-68.8l.2-68l.1 136.8l.2-136.8l.2 136.8l.2-136.8h.2l.2 68l.2-34.9l.1 69.7l.2-102.8l.2 102.8l.2-69.7l.2-33.1h.2h.1l.2 136.8l.2-136.8l.2 102.8l.2 34l.2-136.8l.1 102.8l.2-34.8h.2l.2 34.8l.2 34l.2-136.8h.2h.1l.2 136.8l.2-34h.2l.2 34h.2l.1-34l.2 34l.2-34l.2 34l.2-103.7l.2-33.1l.2 33.1l.1 34.9l.2 68.8l.2-136.8l.2 136.8l.2-136.8h.2l.1 136.8l.2-34l.2-69.7l.2-33.1l.2 68l.2 34.8h.1l.2-102.8l.2 102.8l.2 34l.2-34l.2 34l.2-136.8h.1h.2l.2 33.1l.2 103.7l.2-136.8l.2 136.8l.1-34l.2-102.8h.2h.2l.2 102.8l.2 34l.1-34l.2-102.8h.2l.2 136.8h.2l.2-103.7l.2-33.1l.1 136.8l.2-103.7h.2h.2l.2-33.1l.2 68l.1 68.8l.2-136.8l.2 68l.2 68.8l.2-103.7l.2 34.9l.2-68l.1 136.8l.2-136.8l.2 102.8l.2-102.8l.2 136.8l.2-136.8l.1 136.8l.2-34l.2 34h.2h.2h.2l.1-34l.2 34l.2-34l.2-102.8l.2 68l.2 68.8l.2-68.8l.1-68l.2 136.8h.2l.2-34l.2 34l.2-136.8l.1 136.8h.2l.2-68.8l.2 68.8l.2-136.8h.2l.1 102.8l.2 34l.2-34l.2-34.8l.2-34.9l.2 34.9l.2 68.8l.1-103.7l.2-33.1l.2 102.8l.2 34l.2-68.8l.2 34.8l.1-102.8l.2 68l.2-68h.2l.2 33.1l.2 103.7l.2-136.8l.1 136.8l.2-68.8l.2 34.8h.2l.2-102.8h.2l.1 136.8l.2-136.8l.2 136.8l.2-103.7l.2-33.1h.2h.1h.2l.2 136.8l.2-136.8l.2 68l.2-68l.2 33.1l.1 103.7l.2-136.8l.2 102.8l.2-102.8l.2 68l.2 68.8h.1l.2-68.8l.2 104.5l.2-69.7l.2-102.8h.2l.1 136.8l.2-136.8l.2 102.8h.2h.2l.2-34.8h.2l.1 34.8h.2l.2-102.8l.2 33.1l.2 34.9l.2-34.9l.1-33.1l.2 68h.2l.2 68.8l.2-34l.2-34.8l.1 34.8h.2l.2-34.8l.2-34.9l.2 69.7h.2l.2 34l.1-34h.2h.2l.2 34l.2-136.8l.2 136.8l.1-136.8l.2 33.1l.2-33.1l.2 136.8l.2-136.8l.2 136.8l.2-103.7l.1-33.1l.2 102.8l.2-102.8l.2 102.8l.2 34l.2-136.8l.1 136.8l.2-68.8h.2l.2-68h.2l.2 136.8l.1-34h.2l.2-34.8l.2-68l.2 136.8h.2l.2-34h.1l.2-34.8h.2l.2-34.9l.2 103.7h.2l.1-136.8h.2l.2 136.8l.2-34l.2 34h.2l.1-34h.2h.2h.2l.2 34h.2l.2-34l.1 34h.2l.2-34h.2l.2 34l.2-34h.1l.2 34l.2-136.8l.2 136.8l.2-34h.2l.2-102.8l.1 102.8l.2-34.8l.2 68.8l.2-34l.2-102.8l.2 136.8l.1-68.8l.2 68.8l.2-136.8h.2l.2 136.8l.2-68.8l.1 34.8h.2l.2 34h.2l.2-136.8l.2 136.8l.2-68.8l.1-34.9l.2 34.9l.2 68.8h.2l.2-34l.2-102.8l.1 136.8l.2-34l.2-102.8h.2l.2 33.1l.2 34.9l.1-68l.2 68l.2-68l.2 136.8l.2-34h.2l.2-34.8l.1 34.8l.2-102.8l.2 102.8l.2-69.7l.2 103.7l.2-136.8l.1 68l.2 34.8l.2 34l.2-68.8l.2 68.8l.2-136.8l.1 102.8l.2-69.7h.2l.2-33.1l.2 102.8l.2 34l.2-103.7l.1 34.9l.2-68l.2 136.8h.2h.2h.2h.1h.2l.2-136.8l.2 102.8h.2l.2 34l.2-103.7h.1l.2-33.1h.2h.2l.2 136.8l.2-34l.1 34l.2-34h.2h.2h.2l.2 34l.1-136.8h.2h.2h.2h.2h.2l.2 136.8h.1h.2l.2-34l.2 34h.2l.2-34l.1 34h.2h.2l.2-34h.2l.2 34h.1l.2-34h.2h.2h.2l.2 34l.2-136.8l.1 102.8l.2-102.8l.2 136.8l.2-136.8h.2h.2l.1 68l.2 34.8l.2-102.8l.2 136.8l.2-68.8l.2-68l.2 68l.1-68l.2 136.8l.2-136.8l.2 136.8l.2-34l.2-34.8l.1-68l.2 136.8h.2l.2-136.8l.2 136.8l.2-34l.1 34l.2-136.8h.2l.2 102.8l.2-102.8h.2l.2 102.8l.1 34l.2-103.7l.2 34.9l.2 68.8h.2h.2l.1-136.8l.2 33.1h.2h.2l.2 103.7l.2-136.8l.1 102.8l.2-102.8l.2 68l.2-34.9l.2-33.1h.2l.2 33.1l.1-33.1l.2 102.8h.2l.2 34l.2-34l.2-102.8l.1 102.8l.2 34h.2l.2-103.7l.2-33.1l.2 102.8l.2 34l.1-136.8h.2l.2 102.8h.2h.2l.2-34.8l.1-34.9l.2-33.1l.2 102.8l.2-102.8l.2 68l.2-68l.1 102.8l.2-69.7l.2 69.7h.2l.2-69.7l.2 103.7l.2-34l.1-34.8l.2-34.9l.2 103.7l.2-34l.2 34l.2-103.7l.1 103.7h.2h.2h.2l.2-34l.2-69.7l.1 69.7l.2 34l.2-68.8l.2 34.8l.2-34.8h.2l.2 34.8l.1-69.7h.2l.2 34.9l.2 68.8l.2-68.8l.2-68l.1 33.1l.2 34.9l.2-68l.2 68l.2 34.8h.2l.1-34.8l.2-68l.2 136.8l.2-136.8h.2l.2 136.8l.2-136.8l.1 136.8l.2-136.8l.2 136.8l.2-136.8h.2l.2 68l.1-34.9l.2-33.1l.2 68l.2 34.8l.2-102.8h.2l.2 68l.1-68l.2 102.8h.2l.2-69.7l.2 69.7l.2-102.8h.1l.2 136.8l.2-34l.2-102.8l.2 68l.2 68.8l.1-136.8l.2 136.8l.2-34l.2-102.8h.2l.2 33.1l.2 103.7h.1h.2l.2-136.8l.2 136.8h.2l.2-103.7l.1-33.1l.2 33.1l.2 34.9l.2-68l.2 68l.2 68.8l.1-136.8l.2 136.8l.2-136.8l.2 68h.2l.2 68.8l.2-136.8l.1 102.8l.2-34.8l.2 68.8l.2-103.7l.2-33.1l.2 68l.1-68l.2 68h.2l.2-68l.2 136.8l.2-34l.2-102.8l.1 33.1l.2-33.1l.2 33.1h.2l.2 34.9l.2 68.8l.1-136.8h.2l.2 136.8l.2-34h.2l.2-69.7l.1 103.7h.2l.2-136.8h.2l.2 102.8l.2 34h.2h.1l.2-136.8l.2 136.8l.2-136.8l.2 136.8l.2-136.8l.1 136.8l.2-103.7l.2-33.1l.2 68l.2 68.8l.2-34l.1 34l.2-136.8l.2 102.8l.2-34.8l.2 34.8h.2l.2-102.8h.1h.2h.2h.2l.2 136.8h.2h.1l.2-136.8l.2 136.8l.2-136.8l.2 136.8h.2l.1-34l.2-102.8l.2 136.8h.2l.2-136.8l.2 136.8l.2-68.8l.1 34.8l.2-69.7l.2 69.7l.2 34h.2l.2-136.8l.1 136.8h.2l.2-68.8l.2-68l.2 102.8h.2h.2h.1l.2-102.8l.2 68h.2l.2 34.8h.2h.1l.2-102.8h.2h.2l.2 136.8l.2-136.8l.1 102.8h.2h.2l.2 34l.2-68.8l.2-68l.2 136.8l.1-136.8l.2 102.8l.2 34l.2-68.8l.2 68.8l.2-34l.1 69.7l.2-35.7l.2-103.7l.2 103.7l.2-136.8l.2 33.1l.1 34.9l.2 34.8l.2 34h.2l.2-68.8l.2 34.8l.2-102.8l.1 136.8h.2l.2-34l.2-34.8l.2-34.9l.2 34.9l.1 68.8h.2l.2-103.7l.2 103.7l.2-136.8l.2 68l.2-68l.1 102.8h.2l.2-34.8l.2-68l.2 68l.2 68.8h.1h.2l.2-34h.2l.2-69.7l.2 103.7h.1l.2-34l.2 34l.2-103.7l.2 69.7l.2 34h.2h.1h.2l.2-68.8l.2 68.8l.2-34l.2 34l.1-68.8l.2 68.8l.2-103.7l.2 34.9l.2-68l.2 102.8l.1-102.8l.2 102.8h.2l.2 34l.2-136.8l.2 136.8h.2l.1-68.8l.2 68.8l.2-34h.2h.2l.2-102.8h.1l.2 102.8l.2-69.7l.2 103.7l.2-34l.2-102.8l.2 68h.1h.2l.2 68.8h.2h.2l.2-68.8l.1-68l.2 136.8h.2h.2l.2-103.7l.2-33.1l.1 136.8l.2-68.8l.2-34.9l.2 103.7h.2h.2l.2-136.8h.1l.2 136.8l.2-136.8h.2h.2l.2 136.8l.1-34l.2 34l.2-136.8l.2 136.8l.2-34l.2 34l.1-34l.2 34l.2-103.7l.2 103.7l.2-103.7h.2l.2 103.7h.1l.2-103.7l.2 69.7l.2-102.8l.2 102.8l.2-102.8l.1 136.8h.2l.2-68.8l.2 34.8l.2-102.8l.2 33.1l.1-33.1l.2 68l.2 68.8h.2h.2l.2-103.7l.2 103.7l.1-68.8l.2-68l.2 68l.2-68l.2 136.8h.2l.1-68.8h.2l.2-34.9l.2 103.7l.2-136.8l.2 68l.2-34.9l.1 34.9h.2l.2 68.8l.2-136.8h.2l.2 68h.1l.2-34.9h.2l.2 103.7h.2l.2-136.8h.1l.2 136.8l.2-103.7l.2 34.9l.2 68.8l.2-136.8l.2 136.8l.1-103.7l.2 103.7h.2h.2l.2-34l.2-102.8l.1 136.8l.2-103.7l.2 103.7l.2-68.8l.2-68l.2 136.8l.1-103.7l.2 34.9l.2 68.8l.2-34h.2h.2l.2 34l.1-136.8h.2l.2 33.1h.2l.2 103.7h.2l.1-34l.2-102.8h.2l.2 102.8h.2l.2-102.8h.2h.1l.2 102.8l.2-102.8l.2 102.8l.2-34.8l.2 34.8l.1-102.8l.2 68l.2 68.8l.2-68.8l.2-68l.2 102.8l.1 34h.2h.2h.2l.2-103.7l.2-33.1l.2 68l.1 68.8l.2-34l.2-34.8h.2l.2-68h.2h.1l.2 136.8l.2-34l.2 34l.2-103.7l.2 103.7l.1-136.8l.2 102.8l.2-69.7l.2 103.7l.2-136.8h.2l.2 136.8l.1-34l.2-102.8l.2 33.1l.2 139.4l.2-69.7l.2-102.8l.1 102.8h.2l.2 34l.2-34l.2-34.8l.2 68.8l.1-68.8l.2-68l.2 136.8l.2-34l.2 34h.2h.2h.1l.2-136.8h.2l.2 136.8h.2l.2-68.8h.1l.2 34.8l.2-102.8l.2 68l.2 34.8l.2-34.8l.2 34.8l.1-34.8l.2-68l.2 136.8l.2-68.8l.2 68.8l.2-34l.1 34h.2l.2-68.8l.2-68l.2 68l.2-34.9h.1l.2 69.7l.2-34.8l.2 68.8h.2l.2-136.8l.2 136.8h.1l.2-68.8l.2-68l.2 136.8l.2-68.8l.2 68.8h.1h.2h.2h.2l.2-34l.2 34l.1-136.8l.2 68l.2 68.8l.2-103.7l.2 103.7h.2l.2-103.7l.1 69.7l.2-69.7l.2 103.7h.2h.2l.2-34h.1l.2 34h.2l.2-103.7l.2 69.7l.2-102.8h.2l.1 102.8l.2 34l.2-103.7l.2-33.1h.2h.2l.1 102.8l.2 34h.2l.2-34l.2-34.8l.2 34.8l.1-102.8l.2 136.8h.2l.2-103.7l.2-33.1l.2 102.8h.2l.1 69.7l.2-172.5l.2 102.8l.2-102.8l.2 68h.2l.1 68.8l.2-136.8l.2 33.1l.2-33.1l.2 33.1l.2 103.7l.1-103.7l.2-33.1h.2h.2l.2 136.8h.2l.2-136.8h.1l.2 102.8h.2l.2-102.8l.2 136.8l.2-136.8l.1 136.8l.2-136.8l.2 136.8l.2-34l.2 34l.2-68.8l.1 34.8l.2-34.8l.2-34.9h.2l.2-33.1h.2h.2l.1 136.8l.2-136.8l.2 33.1l.2-33.1h.2l.2 102.8l.1-69.7l.2 103.7l.2-34h.2l.2 34l.2-136.8l.2 68h.1l.2 68.8l.2-68.8l.2-34.9l.2-33.1h.2h.1h.2l.2 102.8l.2-34.8l.2 68.8l.2-136.8h.1h.2h.2l.2 136.8h.2h.2l.2-136.8l.1 136.8h.2h.2l.2-136.8l.2 136.8l.2-136.8l.1 136.8l.2-136.8l.2 136.8l.2-34l.2 34l.2-68.8h.1l.2-34.9l.2 34.9l.2 34.8l.2-102.8l.2 68l.2 68.8h.1l.2-34h.2l.2-34.8l.2-68l.2 102.8h.1l.2 34l.2-34l.2-102.8l.2 136.8h.2l.2-68.8h.1h.2l.2 68.8l.2-136.8l.2 136.8l.2-103.7l.1-33.1h.2h.2l.2 102.8l.2-102.8l.2 136.8l.1-68.8l.2 34.8l.2 34l.2-136.8l.2 102.8h.2l.2-69.7l.1 103.7h.2l.2-68.8l.2-34.9l.2 103.7l.2-34l.1-69.7l.2 69.7l.2 34l.2-68.8l.2 34.8l.2 34h.1l.2-136.8l.2 136.8l.2-136.8l.2 33.1l.2-33.1l.2 33.1l.1 69.7h.2h.2l.2-102.8l.2 136.8l.2-34l.1-34.8l.2-68l.2 136.8l.2-68.8l.2 68.8l.2-103.7l.2 69.7l.1 34h.2l.2-103.7l.2 103.7h.2h.2l.1-68.8l.2 34.8l.2 34l.2-34l.2 34l.2-103.7l.1-33.1l.2 102.8l.2 34h.2h.2l.2-103.7l.2-33.1l.1 33.1l.2 34.9l.2 104.5l.2-104.5l.2 68.8l.2-136.8l.1 33.1l.2 34.9l.2 34.8l.2 34l.2-68.8l.2 68.8h.1l.2-68.8l.2-68l.2 102.8h.2l.2-34.8h.2l.1-68l.2 136.8l.2-34l.2 34l.2-136.8l.2 136.8h.1h.2h.2l.2-136.8l.2 102.8l.2 34l.1-68.8l.2 34.8l.2 34l.2-34l.2 34l.2-34l.2-69.7l.1 103.7h.2l.2-136.8l.2 68l.2-68l.2 68l.1-68l.2 136.8h.2l.2-34l.2 34l.2-136.8l.2 136.8l.1-136.8l.2 33.1l.2 69.7l.2 34h.2h.2l.1-136.8l.2 102.8l.2-34.8l.2-34.9l.2-33.1l.2 102.8l.1-69.7l.2 103.7l.2-136.8l.2 102.8l.2-34.8h.2l.2 68.8h.1l.2-136.8l.2 68l.2-68l.2 136.8l.2-136.8l.1 33.1l.2 69.7l.2-102.8l.2 68l.2-68l.2 136.8l.1-34l.2 34l.2-68.8l.2 34.8l.2-102.8l.2 136.8l.2-68.8l.1 68.8l.2-68.8l.2-34.9l.2 103.7l.2-136.8l.2 68l.1 34.8h.2l.2-102.8l.2 136.8l.2-34l.2-34.8l.2 68.8l.1-34l.2-102.8l.2 68l.2-68l.2 68l.2 34.8h.1l.2-69.7l.2-33.1l.2 136.8l.2-34l.2-102.8l.1 102.8l.2 34l.2-136.8l.2 136.8h.2l.2-103.7l.2 69.7h.1l.2-102.8h.2l.2 136.8l.2-136.8l.2 68h.1l.2 68.8h.2l.2-34l.2 34l.2-103.7l.1 69.7l.2-69.7l.2 103.7h.2h.2h.2l.2-136.8l.1 136.8l.2-136.8l.2 136.8l.2-34h.2l.2 34l.1-34l.2-102.8l.2 68l.2-68l.2 33.1l.2-33.1h.1l.2 136.8h.2l.2-34l.2 34l.2-34l.2-34.8l.1-68l.2 136.8l.2-34l.2 34h.2l.2-34l.1-34.8l.2 34.8l.2-102.8l.2 33.1h.2l.2 69.7h.2l.1-69.7l.2 34.9l.2 68.8l.2-34h.2l.2 34l.1-68.8l.2 68.8l.2-103.7l.2 69.7l.2 34l.2-103.7l.1-33.1h.2l.2 68l.2 34.8l.2 34h.2l.2-68.8l.1-68l.2 68l.2-68l.2 136.8h.2l.2-136.8l.1 102.8l.2 34l.2-103.7l.2-33.1l.2 136.8h.2h.1l.2-103.7l.2 103.7l.2-34l.2 34l.2-136.8l.2 102.8l.1-34.8l.2 34.8l.2-69.7l.2-33.1l.2 68l.2 34.8l.1-102.8h.2l.2 33.1h.2l.2 34.9h.2h.2l.1-68l.2 102.8l.2 34h.2l.2-136.8l.2 136.8l.1-136.8l.2 68l.2 68.8l.2-34l.2-102.8l.2 102.8l.1-102.8l.2 102.8l.2 34l.2-136.8h.2l.2 136.8l.2-34l.1 34l.2-34h.2l.2-102.8l.2 136.8h.2h.1l.2-136.8l.2 33.1l.2-33.1h.2h.2l.1 136.8l.2-103.7l.2 69.7l.2-69.7l.2 103.7l.2-34l.2 34h.1h.2l.2-34l.2-102.8l.2 68l.2-34.9l.1 103.7l.2-68.8l.2 68.8l.2-136.8l.2 102.8l.2-102.8l.2 102.8l.1-34.8l.2 34.8l.2-102.8l.2 68l.2 34.8l.2-69.7h.1l.2 69.7l.2 34l.2-34l.2-102.8l.2 136.8h.1l.2-103.7l.2 69.7l.2-34.8l.2 34.8l.2-102.8l.2 102.8l.1 34l.2-136.8l.2 102.8l.2-102.8l.2 33.1l.2 103.7l.1-136.8l.2 136.8l.2-103.7l.2 69.7l.2 34h.2l.1-68.8l.2 68.8l.2-136.8l.2 33.1l.2 69.7l.2-102.8l.2 33.1l.1 34.9l.2-34.9l.2 34.9h.2l.2-68" stroke="#0000ff" stroke-dasharray="12.4 11.3"/>
</g>
<g font-size="23.60" fill="#000">
<g text-anchor="middle">
<text transform="translate(0.00,239.80) scale(1,1.070)">0</text>
<text transform="translate(92.15,239.80) scale(1,1.070)">500</text>
<text transform="translate(184.30,239.80) scale(1,1.070)">1000</text>
<text transform="translate(276.45,239.80) scale(1,1.070)">1500</text>
<text transform="translate(368.60,239.80) scale(1,1.070)">2000</text>
<text transform="translate(460.75,239.80) scale(1,1.070)">2500</text>
<text transform="translate(552.90,239.80) scale(1,1.070)">3000</text>
<text transform="translate(645.05,239.80) scale(1,1.070)">3500</text>
</g><g text-anchor="end">
<text transform="translate(-8.85,217.10) scale(1,1.070)">0</text>
<text transform="translate(-8.85,147.43) scale(1,1.070)">2</text>
<text transform="translate(-8.85,77.77) scale(1,1.070)">4</text>
<text transform="translate(-8.85,8.10) scale(1,1.070)">6</text>
</g></g>
<g font-size="26.10" fill="#000" text-anchor="middle">
<text x="321.82" y="272.50">Data samples</text>
<text transform="translate(-51.90,106.00) rotate(-90)">DC Value</text>
</g>
<rect x="470.50" y="11.40" width="158.00" height="57.66" fill="#fff" stroke="#3c3c3c" stroke-width="1.20"/>
<path d="M476.60 27.00H536.60" stroke="#ff0000" stroke-width="4.20" fill="none"/>
<path d="M476.60 53.36H536.60" stroke="#0000ff" stroke-width="4.20" stroke-dasharray="12.4 11.3" fill="none"/>
<g font-size="21.20" fill="#000">
<text x="541.50" y="34.80">Actual</text>
<text x="541.50" y="61.16">Predicted</text>
</g>
</g>
<g transform="translate(901.00,8.67)">
<clipPath id="c3"><rect x="-2.3" y="-1.1" width="649.7" height="214.2"/></clipPath>
<path d="M0 0H645.10V210.83H0Z" fill="none" stroke="#1a1a1a" stroke-width="1.20"/>
<path d="M0.00 210.83v-7.00M0.00 0v7.00M107.52 210.83v-7.00M107.52 0v7.00M215.03 210.83v-7.00M215.03 0v7.00M322.55 210.83v-7.00M322.55 0v7.00M430.07 210.83v-7.00M430.07 0v7.00M537.58 210.83v-7.00M537.58 0v7.00M645.10 210.83v-7.00M645.10 0v7.00M0 210.83h7.00M645.10 210.83h-7.00M0 158.12h7.00M645.10 158.12h-7.00M0 105.42h7.00M645.10 105.42h-7.00M0 52.71h7.00M645.10 52.71h-7.00M0 0.00h7.00M645.10 0.00h-7.00" fill="none" stroke="#1a1a1a" stroke-width="1.20"/>
<g clip-path="url(#c3)" fill="none" stroke-width="4.20" stroke-linejoin="round">
<path d="M.5 69.9l.6 105.5l.5-105.7l.6-1.2l.5 .6l.5-.7l.6-.5l.5 .9l.5 .8l.6-.1l.5-.9l.6 .7l.5-.6l.5-.3l.6-.6l.5 1.7l.5-1.4l.6 1.6h.5l.6-1.3l.5 .4l.5-.1l.6 .1l.5 .6l.5-.2l.6-.3h.5l.6 .2l.5 109h.5l.6-.4l.5 1.5l.5-.8l.6-108.8l.5-.3l.6-.7l.5 1.1l.5-1.2l.6 .5l.5 .5l.5-.2h.6l.5 .4h.6l.5 .2l.5-1.9l.6-.3l.5 1.6h.5l.6 .6h.5l.6-1.9l.5 .3l.5 1h.6l.5-1.1l.5-.1l.6 .2l.5 1.5l.6-.9l.5 .7l.5-13.2l.6 12.7l.5 .1l.5 .5h.6l.5-1.2l.6 .7l.5 .5l.5 .3l.6-1l.5-.6l.5 1.1l.6-.9l.5 .9l.6 .4l.5-.4l.5-1l.6 .2l.5 1.2l.5 .1l.6-1.8l.5 1.8l.6-.7l.5-.4l.5 1.1l.6-.6l.5 .1l.5-.6l.6 .8h.5l.6-.2l.5-.2l.5-.3l.6 .2l.5-.6l.5 .8l.6-.1h.5l.6-.5l.5 .9l.5-4.3l.6 4.2l.5-1.3l.5-1.1l.6 2.1l.5-.3l.6 .7l.5-1.8l.5 2.1l.6-.3l.5-.3l.5-.4l.6 .4l.5-.6l.6 .6l.5-.8l.5 1.2l.6-1.5l.5 .1l.5 1.6l.6-1.1l.5 .8l.6-1.1l.5 1l.5 .4l.6-.5l.5 .5l.5-2l.6 .7l.5 .7l.6 .6l.5-1.3l.5 1l.6-1l.5 .1l.5 .7l.6-.3l.5-.6l.6 1l.5-1.5l.5 1.4l.6 .3l.5-.9l.5-.6l.6 .3h.5l.6 1.3l.5-.1l.5-.3l.6 .3l.5 .1l.6-2.6l.5 2.1l.5 .4l.6-.1l.5 .3l.5-.3l.6 .2h.5l.6-.5l.5-.2l.5 .3l.6-.1l.5-.2l.5 .7l.6-.8l.5 .7l.6-.1l.5-.3l.5-1.1l.6 1.5l.5-.6l.5 .3h.6l.5-.8l.6 .4l.5 .5l.5-1.2l.6 .9l.5 .5l.5-.5l.6 .4l.5 .1l.6-.3l.5 .2l.5 .2l.6-1.1l.5 .3l.5-.1l.6 .9l.5-2.1l.6 1.1l.5-.1l.5-1.2l.6 2.2l.5-1.3l.5 1.3l.6 .2l.5-.4l.6-.5l.5 .5l.5-.9l.6 1l.5 .1l.5-.7l.6 .2l.5-1.1l.6 1.7l.5-1.2l.5 1.3l.6-1.1l.5-.5l.5 1.5l.6-.7l.5-.6l.6 .2l.5 .1l.5-.2l.6 .6l.5 .1l.5-1.2l.6 1.6l.5-.7l.6-.4l.5-.8l.5 1.5l.6 .3l.5-.1l.5 .4l.6-.1l.5-.7l.6 .4l.5 .2l.5-.4l.6-1l.5-.1l.5 .7h.6l.5 .1l.6 .2l.5-.2l.5 .9l.6-.3l.5 .3l.5-1.1l.6 .7l.5-.8l.6 1.1l.5-1.7l.5 .5l.6-.5l.5 1.2l.5-.4l.6-1.4l.5 2l.6-.5l.5 .4l.5-.8l.6 .2l.5-.7l.5 1.2l.6 .3l.5-.8h.6l.5 .1h.5l.6 .6l.5-.8h.5l.6-.4l.5 .9l.6 .3l.5-1.6l.5 1l.6 .4l.5 .4l.5-2.2l.6 .8l.5-.3l.6 .6l.5-.1l.5-.6l.6 .5l.5 .8h.5l.6-.4l.5 .3l.6 .4l.5-.5l.5-.3l.6 1l.5-.2l.5 .1l.6-.4h.5l.6-.3l.5 .7l.5-1.1l.6 1.1l.5-1.7l.6 1.8l.5-.8l.5-1l.6 .3l.5 1.6l.5-.9l.6-1.9l.5 2.2l.6 .3l.5-.5l.5 .3l.6 .3l.5-.3l.5-1.3l.6 1.1l.5-1.1l.6 1.7l.5-.5l.5 .3l.6-.1l.5-.4l.5 .5l.6-.8l.5-.5l.6 .8l.5 .4l.5-1.5l.6 .7l.5 1.1l.5-1.5l.6 1l.5-.9l.6 1.4l.5-.4l.5 .4l.6-1.1l.5-.2l.5 1.1h.6l.5-.2l.6 .5l.5-.4l.5-.8l.6 .5l.5 .3l.5-.3l.6 .3l.5-.7l.6 1.1l.5-1.5l.5 1.2l.6-.6l.5-1.6l.5 2.6l.6-.3l.5 .2l.6-.9l.5 .1l.5 .3l.6 .6l.5-1.2l.5 .5l.6 .7l.5-.8l.6 .2l.5 .6l.5-.1l.6-1l.5 .1l.5 .7l.6-.3l.5-.1l.6 .3l.5-.2l.5 .1h.6l.5-2.1l.5 1.7l.6 .9l.5-.8l.6-.5l.5 .7l.5 .4l.6-1.4l.5 1.1l.5-.2h.6l.5-1.1l.6 1l.5 .6l.5-.3l.6-.5l.5-.8l.5 1.3l.6-.5l.5 .3l.6-.5l.5-.5l.5 .1l.6 1.6l.5-1.2l.5 .8l.6 .3l.5-.8l.6 .5l.5 .3l.5-1.1l.6 .7l.5-4.1l.5 3.9h.6l.5-.4l.6 .9l.5-.8l.5 .6l.6 .3l.5-.8l.5 .8l.6-1.6l.5 .9l.6-.4l.5 1l.5-.9l.6 1.1l.5-.7l.5-.6l.6-1.2l.5 .7l.6 .8h.5l.5 .1l.6 .6l.5 .2l.5 .1l.6-.2l.5-.3l.6-1.7l.5 1.7l.5 .3l.6-1.2l.5 1.3h.5l.6-1.2l.5 .5l.6 .1l.5 .7l.5-.5l.6-.6l.5 .1l.6 .9l.5-.3l.5-.2l.6-.4l.5 .1l.5 .8l.6-.6l.5-.3h.6l.5-1.3l.5 2.1l.6-.6h.5l.5-.9l.6 .6l.5-3l.6 3.1l.5 .2l.5 .5l.6 .3l.5-.9l.5 .3l.6-2.1l.5 2.4l.6 .2l.5-1.5l.5 1l.6-.2l.5 .4l.5-.2l.6 .2l.5-1l.6 .7l.5 .3l.5-1.6l.6 1.8l.5-.3l.5 .4l.6-.7l.5-.7l.6 .9l.5-1.5l.5 1.9l.6-1.4l.5-.1l.5 .8l.6 .1l.5-.6l.6 .8l.5 .1l.5-.9l.6 1.1l.5-1.8l.5 .4l.6 .3l.5-.2l.6 1.2l.5-.6l.5 .1l.6-.9l.5 .4h.5l.6 .8l.5-11.9l.6 10.8l.5 .9l.5 .2l.6-.8l.5-2.8l.5 3.7l.6-.6l.5-.7l.6 1.2l.5-1.2l.5 1.5l.6-1.4l.5 1.6l.5-1.9l.6 1l.5-.6l.6 .3l.5 .6l.5-.2l.6 .4l.5-.3l.5 .5l.6-.6l.5 .2l.6 .7l.5-1.4l.5 .8l.6 .1l.5 .4l.5-1l.6 .5l.5-.7l.6 .8l.5 .3l.5-2.1l.6 2l.5-.1l.5-.1l.6-.5l.5 .7l.6-1.5l.5 1.3l.5-1.4l.6-1l.5 2.3l.5-.2l.6 .1l.5 .5l.6-.2l.5-.1l.5-2.2l.6 2.1l.5 .4l.5-.9l.6-.9l.5 .3l.6 .6l.5 .4l.5 .2l.6 .4l.5-1.3l.5 1.1l.6-.8h.5l.6 .9l.5-.1h.5l.6-.3l.5 .2l.5-2.1l.6 2.2h.5l.6-.4l.5 .5l.5-1.1l.6-.3h.5l.5 1.1l.6-1.3l.5 1.7l.6-.2h.5l.5-1.1l.6 1.4l.5-.6l.5-.1l.6 .2l.5-.4l.6 .5l.5-.1l.5-.6l.6 .7l.5 .3l.6-1.8l.5 1.2l.5 .4l.6 .1l.5-.6l.5 .4l.6-1l.5-.9l.6 .9l.5 110.6l.5-110h.6l.5-.9l.5 .2l.6 .2l.5 .6l.6 .1l.5-1.3l.5 1.5l.6 .4l.5-.4l.5 .3l.6-1.1l.5 .7l.6 .5l.5-.1l.5-2.3l.6 2.3l.5-1.8l.5 1.5l.6-.8l.5 .5l.6 .5l.5-1.8l.5 1.5l.6 .4h.5l.5-.5l.6-.3h.5l.6 .2l.5 .1l.5 .2l.6 .2l.5-.7h.5l.6-1.3l.5-.3l.6-4.6l.5 1.4l.5 5.6l.6-1.4l.5 .9h.5l.6 .2l.5-.1l.6-1.3l.5-.7l.5 .7l.6 .6l.5 1l.5-2l.6 1.5l.5 .3l.6 .3l.5-.6l.5 .3l.6-1l.5 1.3l.5-1.5l.6 .6l.5 .5l.6-.1l.5-1l.5 1.3l.6 107.5l.5-107.5l.5-.7l.6 .1l.5 .7l.6-.3h.5l.5-.2l.6 .4l.5-.5l.5-.4l.6 .9l.5 .2l.6-.5l.5-.8l.5 1.4l.6-1.2l.5 .8l.5 .2l.6-1.1l.5 1.1l.6-1.7l.5 1.3h.5l.6-.5l.5 1l.5-1.7h.6l.5 1.1l.6-.6l.5 1.3l.5-1l.6-1.4l.5 1.2l.5 1.1l.6-.2l.5-1.5l.6 .6l.5 .9l.5-1.3l.6 1.6h.5l.5-.6l.6 .1l.5 .4h.6l.5-.4h.5l.6 .5l.5-1.5l.5 .1l.6 .8l.5-1.5l.6 2l.5-.6h.5l.6-2.3l.5 2.6l.5-.1l.6 .4l.5-.3l.6 .3h.5h.5l.6-.2l.5-.4l.5-.6l.6-.1l.5 1.3l.6-1.6l.5 .6l.5 .8l.6-1.3l.5 .8l.6-1l.5 1.8l.5-.9l.6 .4l.5-.6l.5-.3l.6 1.3l.5-1.7l.6 1.4l.5 .3h.5l.6-1.7l.5 1.8l.5-1l.6-1.2l.5 1.8h.6l.5 .2l.5-.3l.6 .3l.5-1h.5l.6 1l.5-.4l.6-.2l.5-.2h.5l.6 .9l.5-1l.5 1.1l.6-1l.5-.2l.6 .8l.5-.6l.5 .7l.6 .1l.5-.6l.5-.3l.6 .3l.5-.8l.6-.3l.5 .9l.5 .5l.6-.8l.5 1.2l.5-1.4l.6 .9l.5 .3l.6-.8l.5 1l.5-.1l.6-.1l.5-1.1h.5l.6 .3l.5-1.9l.6 2.9l.5-.4l.5 109.5l.6 .2l.5-.6l.5-1.4l.6 1.2l.5-108.8h.6l.5-.6l.5 .1l.6-.3l.5 .7l.5 .1l.6-.8l.5-.4l.6 .9l.5-.4l.5 .8l.6-1.3l.5 .3l.5 1.3l.6-.5l.5 .3l.6-.2l.5-.5l.5 .3l.6-.3l.5 .5h.5l.6-.7l.5-.8l.6 .5l.5 1l.5-.9l.6 .3l.5-.5l.5 1.4l.6-.8l.5-.4l.6 1.1h.5l.5-.1l.6-1.3l.5 1l.5 .5l.6-.6l.5 .3l.6-.6l.5 .2l.5 .7h.6l.5-.2l.5-.3l.6 .5l.5-.2l.6-1l.5 .6l.5-.2l.6-.4h.5l.5 .4l.6 .9l.5-2.6l.6 1.8l.5-1.2l.5 .6l.6 1.3l.5-1l.5 .9l.6-.7l.5-1.7l.6 1.6l.5 .3l.5-.7l.6 .6l.5-.2l.5 .6l.6-.5l.5 .3l.6-.5l.5-.8l.5 1.4l.6-.6l.5-.8l.5 1.1l.6-.7l.5 .1l.6 1l.5-.4l.5-1.6l.6 2.1l.5-1.2l.6 1l.5-.2l.5-.2l.6-.4l.5-.2l.5 .2l.6 .4l.5 .8l.6-.8l.5 .7l.5-.1l.6-2.1l.5 1.4l.5-.8l.6 1.3l.5-.7l.6 .8l.5-.5l.5 .7l.6-.5l.5 .1l.5 .4l.6 .1h.5l.6-.3l.5-.6l.5 .1l.6 .1l.5-.7l.5-.3l.6 .9l.5 .8l.6-.4l.5 .1l.5-4l.6 4.2h.5l.5-1l.6-1.2l.5 .6l.6-.2l.5 1.3l.5 .5l.6-1.2l.5 1.2l.5-.5l.6-.7l.5 1.3l.6-1l.5-.2l.5 .1h.6l.5 1.2l.5 107.2l.6-107.9l.5-.1l.6 .3l.5 .2l.5-1.4l.6 1.4l.5-.1l.5-.7l.6-.9l.5 1.1l.6 .9l.5-.3l.5-.4l.6-.4l.5-1.4l.5 1.1l.6 1.2l.5-.7l.6 .6l.5-.2l.5-.3l.6-.2l.5 .8l.5-2.8l.6 2.7l.5-1.5l.6 1.4l.5-.4l.5-.3l.6 .3l.5 .4l.5-1.2l.6 .4l.5 .4l.6 .6l.5-1l.5-.2l.6 1.2l.5-1.2l.5-2.8l.6 2.9l.5 .3l.6-.1l.5-.3l.5 1.3l.6-2.5l.5 1.8l.5 .4l.6-1.8l.5 2.1l.6-1l.5 1.1l.5-.7l.6-1.1l.5-.2l.5 .4l.6 1.5l.5-.3l.6 .1l.5-.6l.5 .3l.6-1.3l.5 1.5l.5 .1l.6-.1l.5 107.7l.6-108.4l.5 .7l.5 .1l.6-1.3l.5 .7l.5 .8l.6-1.8l.5 1.5l.6-3.2l.5 3.4l.5-1.1l.6 .2l.5 .5l.5-.5l.6-.1l.5-.1l.6 1l.5-1.6l.5 .4l.6-.4l.5 .8l.5-.4l.6-.5l.5 1.5l.6 .3l.5-.4l.5 .2l.6 .3l.5-.3l.6-.5l.5 .8l.5-.1l.6 .1l.5-.2l.5-1.1l.6 1l.5-1.9l.6 1.7h.5h.5h.6l.5-.5l.5 .3l.6-.1l.5 .8l.6-.7l.5-.2l.5 .7l.6-.2l.5 .2l.5-1.2l.6 1.1l.5-1l.6 .3l.5 108.5l.5-108.3l.6 .1" stroke="#ff0000"/>
<path d="M.5 69.1M.5 69.1l.6 109.9M1.6 67.6h4h-4l-.5 111.4M1.6 67.6l.6 2.2l.5-.5l.5 .2l.6 .2l.5-.5h.5l.6 .6l.5-.2l.6-.1l.5-.1l.5 .5l.6-.3l.5-1l.5 .8l.6-.1l.5-.8l.6 1.2l.5 .2l.5-.4l.6-.1l.5 .1l.5-.1l.6 .1l.5 .5l.6-1.9l.5 111.1l.5-.7l.6 .5h.5l.5 .1l.6-109.7l.5 .2l.6 .2l.5-1.1l.5 .8l.6-.7l.5 .6l.5 .4l.6-1.1h.5l.6 1l.5-.4l.5-3l.6 2.2l.5 1.3l.5-.6l.6 .5l.5 .1l.6-.5l.5 .6l.5-.7l.6 .4l.5 .2l.5-.1l.6-2.2l.5 2.3l.6 .1l.5 .1M32.8 70l.5-34.7M33.9 70h2h-2l-.6-34.7M33.9 70l.5-.8l.5 .5l.6 .1l.5-.6l.6 .2l.5-.1l.5-.2l.6 .5l.5-.7l.5 1l.6-.8l.5 .3l.6 .4l.5-.1l.5-.7l.6 .7l.5-.6l.5-.8l.6 1.2l.5-.5l.6 .4l.5 .2h.5l.6-.4l.5 .5l.5-.1l.6-.1h.5l.6-.6l.5 .8l.5 .2l.6-1l.5 1l.5-.8l.6 .3l.5 .5l.6-1.6l.5 1.2l.5-.7l.6 .5l.5-.1l.5 .3l.6 .5l.5-.6l.6 .3l.5-.7l.5 .4l.6 .1l.5-.3l.5-.1l.6-.1l.5 .3l.6 .2l.5 .1l.5 .1h.6l.5-.7l.5-.3l.6 .8l.5 .2l.6-.5l.5 .1l.5-.3l.6 .1l.5-.4l.5 .2l.6 .6l.5-.9l.6 1.3h.5l.5 .1l.6-.3l.5-.7l.5 .6l.6 .1l.5-.8l.6-.1l.5 .6l.5 .6l.6-.4l.5 .2l.5-.1l.6-.4l.5-.1l.6 .4h.5l.5 .3h.6M81.2 69.9l.5-35.3M82.3 63.2h2h-2l-.6-28.6M82.3 63.2l.5 6.7l.5-.1l.6-.6l.5 .2l.5 .3l.6 .3l.5-8.9l.6 8.6l.5-1.3l.5 .6l.6-.4l.5 .4l.5-.2l.6 .9l.5-.5l.6-.2l.5 1l.5-.3l.6-1.1l.5 .8h.5l.6 .5l.5-.4l.6-.4l.5-1l.5 1.3l.6 .5l.5-.2l.5-1.2l.6 .1l.5-.1l.6 1.4l.5-.4l.5 .2l.6-.1l.5-.4l.5 .8l.6-.4l.5-1.1l.6 1.3l.5-.1l.5 .3l.6-.3l.5 .2l.5-.7l.6 .2l.5 .4l.6-1.7l.5 1.6l.5 .1l.6-.6l.5 .3l.5-.2l.6 .5h.5l.6 .1l.5-.2l.5-1l.6 1.1l.5-.5l.5-.6l.6 1.1l.5-1l.6-.3l.5 1l.5-1.6l.6 1.4l.5 .6l.5-.7l.6 .7h.5l.6-.6l.5-.4l.5 .9l.6-.3l.5-.2l.5-1.4l.6 1.8l.5-1.4l.6 1.6l.5-.8l.5 .8h.6l.5-.3l.5-1l.6 1.2l.5 .1l.6-.4l.5-1.1l.5 .9l.6 .1l.5-.7l.5 1.1l.6-.7l.5-.8l.6 1.2l.5-.3l.5-.2l.6 .8h.5l.5 .2l.6-1.2l.5 .7l.6-.1l.5 .1l.5 .4h.6l.5-.6l.5 .1l.6-.3h.5l.6 .9l.5-.7h.5l.6 .2l.5 .1l.5-1l.6 .4l.5 .6l.6 .2l.5 .1l.5-.5l.6-.1l.5 .4l.5 .3l.6-.9l.5 .1l.6 .2l.5 .5l.5-.2l.6 .2l.5-1.4l.5 1l.6-.4l.5 .6l.6-1l.5 .9l.5 .2h.6l.5-.3l.5 .2l.6 .1l.5-.7l.6 .3l.5 .5h.5l.6-.4l.5-1.5l.6 1.3l.5 .1l.5 .2l.6-.3l.5-.2l.5 .3h.6l.5-.1l.6-.2l.5 .7l.5-.1l.6 .1l.5 .2l.5-.7l.6 .5l.5-1l.6-.7l.5 1.9l.5-1.2h.6l.5 1.1l.5-.4l.6-.4l.5 .3l.6 .2h.5h.5l.6 .1l.5-.1l.5 .3l.6-.8l.5-.4l.6 .6l.5-.5l.5 .8l.6-1.3l.5 .8l.5 .4l.6 .1l.5-.5l.6 .7l.5-.7l.5 .2l.6 .4l.5 .3l.5-.6h.6l.5 .6l.6-2.2l.5 1l.5 .4h.6l.5 .3l.5-.4l.6 .7l.5 .2l.6-.4l.5-.1l.5-.6l.6 .4l.5 .5h.5l.6-.3l.5 .5l.6-.7h.5l.5 .2l.6-.4l.5 .8l.5-.6l.6 .4l.5-1.7l.6 1.8l.5-1.2l.5 1l.6-.3l.5 .5l.5 .1l.6-.4l.5 .1l.6 .1l.5-1l.5 1l.6-1.3l.5 1.5M207.5 69.9l.5-34.6M208.6 68.4h2h-2l-.6-33.1M208.6 68.4l.5 .6l.6 .2l.5 .7l.5-.5l.6 .4l.5 .1l.5 .1l.6-.1l.5-.4l.6 .3h.5l.5-.8l.6 .7l.5-1l.5 1.1l.6-1.1l.5 .6l.6 .5h.5h.5l.6-1l.5 1.1h.5l.6-.6l.5-.2l.6 .4l.5 .2l.5-.3l.6 .3l.5-.1l.5 .1l.6-1l.5 .4l.6 .8l.5-.5l.5 .5l.6-.3l.5 .4l.5-.3l.6-.7l.5 .6l.6-.3l.5 .6l.5-.7l.6 .5l.5-.9l.5 .7h.6l.5 .3l.6-.4l.5-.4l.5 .6l.6-.3l.5-.4l.5 .4l.6-.1l.5 .1l.6 .2l.5 .5l.5-.9l.6 .2l.5-.5l.6 .5l.5-.5l.5 .7l.6-.2l.5 .6l.5-.5l.6-.4l.5 .9l.6-.9l.5 .2l.5 .6l.6-.1l.5 .2l.5-.1l.6-1l.5 .5l.6 .4l.5-.9l.5 1l.6-1.1l.5 .5l.5-.1l.6-.9l.5 .5l.6 .8l.5-.3l.5 .5l.6 .1l.5 .1l.5 .1l.6-1.5l.5 .5l.6 .1l.5-.6l.5 1l.6 .4h.5l.5-1.5l.6 1.4l.5-.6l.6 .4l.5-.5l.5-.5l.6 1.2l.5-.8l.5 .8l.6 .1l.5-1l.6 .7l.5-.8l.5 .9l.6-.2l.5-.7l.5 1l.6 .1l.5-.6l.6-.8l.5 1.4l.5-.4l.6 .2l.5-.4l.5 .5l.6-.1M275.8 69.7l.5 96.1M276.9 70h2h-2l-.6 95.8M276.9 70l.5-.3h.5l.6 .2l.5-.3l.5 .1l.6-.5l.5 .4l.6-.6l.5 .9l.5 .1l.6-.7l.5 .6l.5-.6l.6-.3h.5l.6 .7l.5-.4l.5-.6l.6 .7h.5l.5-.9l.6 .9l.5-.7l.6-.3l.5 .6l.5 .9l.6-1.1l.5 1.1l.5-.1l.6-1h.5l.6 .3l.5 .4l.5-.8l.6 .9l.5-1.2l.5 .9l.6 .6l.5-.5l.6-.1l.5 .7l.5-.5l.6 .2l.5 .2l.5-.1h.6l.5-.9l.6 .7l.5-1.1l.5 1l.6-.3l.5 .3l.5 .2l.6 .1l.5-.1h.6h.5l.5-1l.6 1.1l.5-.2l.5-.3l.6 .6l.5-.5l.6 .4l.5-.3l.5-.1l.6 .1l.5 .3h.5l.6-.1l.5-.7h.6l.5 .5l.5-.7l.6 .9l.5-.8l.5 .2h.6l.5-.1l.6 1l.5-.2h.5l.6 .2l.5-.4h.5l.6-.8l.5-.4l.6-.1l.5 .5l.5 .4l.6 .7l.5-1.5l.6 .4l.5 .1l.5 1l.6-.9l.5 .6l.5 .3l.6-.3l.5 .4l.6-.7M331.2 69.3l.5 108.7M332.2 69.2h4.5h-4.5l-.5 108.8M332.2 69.2l.6-.1l.5-.4l.5 .7l.6 .5l.5 .1l.6-.6l.5-.1h.5l.6 .7l.5-.1l.5-.4l.6-.7l.5 .5l.6-.2l.5 .6l.5-.9l.6 .6l.5 .4l.5-1.1l.6-.9l.5 1.6l.6 .2l.5-.4l.5 .8l.6-.7l.5 .5l.5-1.2l.6 .7l.5 .4l.6-.9l.5 1l.5 .1h.6l.5-.2l.5-1l.6-.5l.5 1.3l.6 .1h.5l.5-.5l.6 .7l.5-.6M354.8 69.2l.5 110M355.9 69.2h1h-1l-.6 110M355.9 69.2l.5-1.3l.6 .8l.5 .6l.5-.2l.6 .4l.5 .1h.5l.6-.3l.5-.1l.6 .7l.5-.8l.5 .7l.6-.6l.5-.4l.5 .7l.6-.4h.5l.6-.1l.5 .7l.5-1.3M366.6 68.4l.6 110.4M367.7 69.5h4.5h-4.5l-.5 109.3M367.7 69.5l.5 .4l.6-.2l.5-.4l.6 .1l.5-.9l.5 .3l.6 .7l.5-.3l.5-.4l.6 .8l.5-.7l.6 .3l.5-.4l.5 .1l.6 .3l.5 .7l.5-1.4l.6-.2l.5 1.3l.6 .1l.5-.2l.5-.4l.6 .8l.5-.3l.5-.3l.6 .2l.5 .4l.6-.7l.5 .3l.5-.1l.6-.1l.5 .3l.5-.2l.6 .1h.5h.6l.5-.3l.5 .8h.6l.5-.6l.5 .6l.6-1.8l.5 .1l.6 1.3l.5-.3l.5-.4l.6 1l.5-1l.5 .2l.6 .8l.5-.2l.6-.3l.5-.4l.5-.3l.6 .6l.5 .7l.5-.2l.6-.4l.5 .6l.6-.1l.5-.4l.5 .4l.6-1l.5 .8l.5-.3l.6 .5l.5-1.1l.6 1.1l.5-.1l.5-.2l.6-.7l.5 .5l.6-.2l.5 .3l.5-.3l.6 .2l.5 .6l.5-.8l.6 .5l.5 .1l.6-.3l.5 .4l.5-1.2l.6 1.1l.5-1.4l.5 1l.6 .3l.5-.1l.6-.5l.5 .7l.5-1.8l.6 1.4l.5 .5l.5-.1l.6-.6l.5-1l.6 1.2l.5 .4l.5 .2l.6-.2l.5-.2l.5-.2l.6 .1l.5-.9l.6 .3l.5 .8l.5 .1h.6l.5-.2l.5-1l.6 1.2l.5-.3l.6 .1l.5 .1l.5 .1l.6-.2l.5-.1l.5-.6l.6 .9l.5 .2l.6-.6h.5l.5 .2l.6-.3l.5 .5l.5-.5l.6-.5l.5 .6l.6-.4l.5 .4l.5 108.3l.6 .3l.5 .6l.5 .5l.6-.4l.5-109.1h.6l.5-.9l.5 1.2l.6-.2l.5 .1l.5-.2l.6-.9l.5 .8l.6-.3l.5-.3l.5-.6l.6 1.5l.5-.6l.5 .8l.6-.6l.5 .5l.6-.2h.5l.5 .3l.6-.3l.5-.1l.5-.7l.6 .5l.5 .4l.6-.5l.5 .6l.5-1.2l.6-.3l.5 .3l.5 1.3l.6-.1l.5-.4l.6-.6h.5l.5 .7l.6-.3l.5 .6l.5-.5l.6 .2l.5-.2l.6 .4l.5-.8l.5 .3l.6-.5l.5 .6l.5 .2l.6-.2l.5 .1l.6-.8l.5 .9l.5 .2l.6-.5l.5-.5l.5 .7l.6-.4l.5-.2l.6 .3l.5-.3l.5-.5l.6 1.1l.5 .3l.5-.3l.6-1.1l.5 1.5l.6-.3l.5 .1l.5-.6l.6 .7l.5-.2l.5 .1l.6-.2l.5 .2l.6-.5l.5 .1h.5l.6 .3l.5-.5l.5 .3h.6h.5l.6 .4l.5 .1h.5l.6-1l.5 .9l.6-.8l.5 .6l.5 .3h.6l.5-.3l.5 .3h.6l.5-1l.6 .8l.5 .1l.5-.8l.6 .7l.5-.7l.5-.7l.6 1.1h.5l.6 .1l.5-.4l.5 .9l.6-.2l.5 .2l.5-1l.6 .4l.5 .5l.6-.9l.5 .6l.5 .1h.6l.5 .2l.5-.6h.6h.5l.6 .4l.5-.3l.5 .2l.6-.3l.5-.1l.5 .6l.6-.1l.5-.7l.6 .9l.5-.2l.5 .1l.6-.9l.5 .9l.5-.2l.6-.5l.5 .6l.6 .2l.5-.9l.5 .6l.6-.3l.5-.3M515 69l.5 110.1M516.1 69.9h5h-5l-.6 109.2M516.1 69.9l.5-.6l.6 .3l.5-.7l.5 .9l.6 .1l.5-.1l.5-1.4l.6 .6l.5 .7l.6 .1l.5-.3l.5-.8l.6-1.1l.5 1.9l.5-.4l.6 .8l.5-.4l.6-1.3l.5 1l.5-.7l.6 .7l.5 .6l.5-.5l.6-.1l.5-.5l.6 .5l.5 .5h.5l.6-1l.5 1.1l.5-.8l.6 .7l.5-.1l.6-.1h.5l.5-.2l.6 .2l.5 .2l.5-.9l.6 .7h.5l.6 .4l.5-.4l.5-.8l.6 1.2l.5 .1l.5-.4l.6-.6l.5 .5l.6 .1l.5-.3l.5 .4l.6-.5l.5 .7l.5-.1l.6-.8l.5 .5l.6-.2l.5 .7l.5-.9l.6 .4l.5-.5l.5 1l.6-1.2M550.5 68.8l.5 109.9M551.6 69.6h3h-3l-.6 109.1M551.6 69.6l.5 .4l.5-.9l.6 .4l.5 .3l.5-.4l.6 .2l.5 .3l.6-.4l.5-.1h.5l.6-.3l.5 .3l.5 .2l.6-1.1l.5 1.1l.6-.9l.5 1.2l.5-.7l.6 .5l.5-1.3l.5 .9l.6-.1l.5 .7l.6-.7l.5 .3l.5 .4l.6-.3l.5 .2l.6 .1h.5l.5-.9l.6 .6l.5-.3l.5 .6l.6-.3l.5 .2l.6-.1l.5-.3l.5-2l.6 1.8l.5 .5l.5-1.1l.6-.5l.5 1.4l.6 .3l.5-1.3l.5 .9h.6h.5l.5-.2l.6 .2l.5-.3l.6 .9M580.1 70l.5 106.9M581.1 69.9h4h-4l-.5 107M581.1 69.9l.6-.1" stroke="#0000ff" stroke-dasharray="12.4 11.3"/>
</g>
<g font-size="23.60" fill="#000">
<g text-anchor="middle">
<text transform="translate(0.00,241.63) scale(1,1.070)">0</text>
<text transform="translate(107.52,241.63) scale(1,1.070)">200</text>
<text transform="translate(215.03,241.63) scale(1,1.070)">400</text>
<text transform="translate(322.55,241.63) scale(1,1.070)">600</text>
<text transform="translate(430.07,241.63) scale(1,1.070)">800</text>
<text transform="translate(537.58,241.63) scale(1,1.070)">1000</text>
<text transform="translate(645.10,241.63) scale(1,1.070)">1200</text>
</g><g text-anchor="end">
<text transform="translate(-8.85,218.93) scale(1,1.070)">0.55</text>
<text transform="translate(-8.85,166.22) scale(1,1.070)">0.6</text>
<text transform="translate(-8.85,113.52) scale(1,1.070)">0.65</text>
<text transform="translate(-8.85,60.81) scale(1,1.070)">0.7</text>
<text transform="translate(-8.85,8.10) scale(1,1.070)">0.75</text>
</g></g>
<g font-size="26.10" fill="#000" text-anchor="middle">
<text x="321.85" y="274.33">Data samples</text>
<text transform="translate(-62.30,106.42) rotate(-90)">ERF</text>
</g>
<rect x="470.70" y="11.97" width="158.00" height="57.66" fill="#fff" stroke="#3c3c3c" stroke-width="1.20"/>
<path d="M476.80 27.57H536.80" stroke="#ff0000" stroke-width="4.20" fill="none"/>
<path d="M476.80 53.93H536.80" stroke="#0000ff" stroke-width="4.20" stroke-dasharray="12.4 11.3" fill="none"/>
<g font-size="21.20" fill="#000">
<text x="541.70" y="35.37">Actual</text>
<text x="541.70" y="61.73">Predicted</text>
</g>
</g>
<g transform="translate(901.00,306.00)">
<clipPath id="c4"><rect x="-2.3" y="-1.1" width="649.7" height="212.4"/></clipPath>
<path d="M0 0H645.10V209.00H0Z" fill="none" stroke="#1a1a1a" stroke-width="1.20"/>
<path d="M0.00 209.00v-7.00M0.00 0v7.00M107.52 209.00v-7.00M107.52 0v7.00M215.03 209.00v-7.00M215.03 0v7.00M322.55 209.00v-7.00M322.55 0v7.00M430.07 209.00v-7.00M430.07 0v7.00M537.58 209.00v-7.00M537.58 0v7.00M645.10 209.00v-7.00M645.10 0v7.00M0 193.31h7.00M645.10 193.31h-7.00M0 139.76h7.00M645.10 139.76h-7.00M0 86.21h7.00M645.10 86.21h-7.00M0 32.66h7.00M645.10 32.66h-7.00" fill="none" stroke="#1a1a1a" stroke-width="1.20"/>
<g clip-path="url(#c4)" fill="none" stroke-width="4.20" stroke-linejoin="round">
<path d="M.5 24.6h.6h.5h.6h.5h.5h.6h.5h.5h.6h.5h.6h.5h.5h.6h.5h.5l.6 2.7l.5-2.7l.6-5.3l.5-2.7l.5 2.7l.6 8l.5-2.7h.5h.6l.5 2.7h.6l.5-10.7l.5 10.7l.6-2.7l.5-8l.5 5.4h.6l.5-2.7l.6 8l.5-5.3l.5 5.3l.6-10.7l.5 5.4l.5 2.6l.6 2.7l.5-2.7l.6-2.6h.5l.5 5.3l.6-2.7l.5-8l.5 2.7l.6 8l.5-5.3l.6-5.4l.5 10.7l.5-10.7l.6 8l.5 2.7l.5-2.7l.6 2.7l.5-10.7l.6 8l.5-2.6l.5 2.6h.6h.5l.5 2.7l.6-5.3l.5-5.4h.6l.5 2.7l.5 8l.6-5.3l.5-5.4l.5 8l.6 2.7l.5-5.3l.6 5.3l.5-5.3l.5 2.6h.6h.5l.5-8h.6l.5 5.4l.6 2.6l.5 2.7l.5-10.7l.6 10.7h.5l.5-8l.6 2.7l.5-5.4l.6 5.4h.5h.5l.6 2.6l.5 2.7l.5-10.7l.6 8l.5-8l.6 5.4l.5 5.3h.5l.6-2.7h.5l.5 2.7l.6-2.7l.5-2.6l.6 2.6l.5 2.7h.5h.6l.5-10.7l.5 5.4l.6-2.7l.5 5.3l.6 2.7l.5-2.7l.5-8l.6 8l.5 2.7l.5-5.3l.6-5.4l.5 5.4l.6-5.4l.5 2.7l.5 8l.6-2.7h.5l.5-8l.6 5.4l.5-5.4l.6 10.7l.5-2.7h.5l.6-8l.5 8h.5l.6 2.7l.5-10.7h.6l.5 8h.5h.6l.5-8l.5 8l.6-2.6l.5 5.3l.6-2.7l.5-2.6l.5-2.7l.6 8l.5-10.7h.6l.5 2.7l.5 5.3h.6h.5h.5l.6-8l.5 10.7h.6l.5-5.3l.5 5.3l.6-2.7l.5-5.3l.5 5.3l.6 2.7h.5l.6-10.7l.5 10.7l.5-5.3l.6-5.4l.5 5.4l.5-5.4h.6l.5 8l.6 2.7l.5-8l.5 8l.6-5.3l.5 5.3l.5-8l.6 8h.5l.6-10.7h.5l.5 8h.6l.5 2.7l.5-10.7l.6 8l.5 2.7l.6-10.7l.5 8l.5-5.3l.6-2.7l.5 8l.5 2.7l.6-10.7h.5l.6 8l.5-8l.5 8l.6-5.3l.5 5.3l.5-2.6l.6-5.4l.5 5.4l.6-5.4l.5 8l.5 2.7l.6-5.3l.5 2.6l.5 2.7l.6-8l.5 5.3l.6-8l.5 10.7l.5-10.7l.6 10.7h.5l.5-5.3l.6 5.3h.5l.6-10.7l.5 5.4h.5h.6l.5 2.6h.5l.6 2.7h.5l.6-10.7l.5 10.7h.5l.6-10.7l.5 5.4l.5-5.4h.6l.5 5.4l.6-5.4l.5 5.4l.5 2.6l.6-2.6l.5 2.6l.5 2.7l.6-5.3l.5-5.4l.6 8h.5l.5-2.6h.6h.5l.5 2.6l.6-8l.5 10.7l.6-10.7l.5 5.4l.5-5.4l.6 10.7l.5-5.3l.5-5.4l.6 8h.5l.6 2.7l.5-10.7l.5 5.4h.6l.5-2.7l.5 8l.6-2.7l.5-8l.6 10.7h.5l.5-10.7l.6 5.4l.5-5.4l.5 10.7l.6-10.7h.5l.6 10.7l.5-2.7l.5-8l.6 10.7l.5-10.7l.5 5.4l.6-5.4l.5 2.7l.6-2.7l.5 10.7l.5-2.7l.6 2.7l.5-2.7l.5-5.3l.6 2.7h.5l.6 2.6l.5-8l.5 5.4l.6-5.4l.5 8h.6l.5-2.6l.5 5.3l.6-10.7l.5 8l.5-2.6l.6-5.4l.5 8h.6l.5 2.7l.5-5.3l.6 2.6l.5-8l.5 5.4l.6 2.6l.5-8h.6l.5 2.7l.5 5.3l.6-2.6l.5 2.6l.5-2.6l.6 5.3l.5-10.7l.6 10.7h.5h.5l.6-2.7l.5-2.6h.5l.6-2.7l.5 2.7l.6 5.3h.5l.5-8l.6 8l.5-10.7l.5 10.7h.6l.5-10.7l.6 5.4h.5h.5l.6 5.3h.5l.5-2.7l.6 2.7l.5-8l.6 8l.5-2.7l.5 2.7l.6-10.7l.5 10.7l.5-2.7l.6 2.7l.5-2.7l.6-2.6l.5 2.6l.5 2.7l.6-5.3l.5 2.6h.5h.6h.5h.6l.5 2.7h.5l.6-2.7l.5 2.7h.5h.6h.5l.6-5.3l.5 2.6l.5 2.7l.6-2.7l.5-2.6h.5l.6 2.6h.5l.6 2.7l.5-5.3l.5 5.3l.6-2.7l.5-8l.5 8l.6-8h.5l.6 8l.5-5.3l.5-2.7l.6 10.7l.5-2.7h.5h.6l.5 2.7l.6-2.7l.5 2.7l.5-2.7l.6-8l.5 8l.5 2.7l.6-8l.5 5.3l.6-2.6h.5l.5 5.3h.6h.5l.5-10.7h.6l.5 2.7l.6 8l.5-10.7h.5l.6 5.4l.5 5.3l.5-10.7l.6 5.4h.5l.6 5.3l.5-8l.5 8l.6-2.7l.5 2.7l.5-2.7l.6-8l.5 2.7l.6-2.7l.5 8h.5l.6-2.6l.5 5.3l.5-2.7l.6-8l.5 2.7l.6-2.7l.5 8l.5-5.3l.6-2.7l.5 2.7l.5 5.3l.6 2.7h.5l.6-10.7h.5l.5 10.7l.6-8l.5 5.3l.6-2.6l.5-5.4l.5 8l.6-2.6l.5 5.3l.5-5.3l.6 5.3h.5l.6-2.7l.5-8l.5 10.7l.6-8l.5 8l.5-10.7l.6 10.7h.5h.6l.5-10.7l.5 5.4l.6-5.4l.5 8l.5 2.7l.6-2.7h.5l.6-8l.5 10.7h.5l.6-10.7l.5 10.7l.5-10.7l.6 8l.5-2.6h.6l.5-5.4l.5 10.7l.6-10.7l.5 10.7l.5-8l.6 8l.5-8l.6 8h.5h.5l.6-2.7h.5l.5-8l.6 5.4l.5 2.6l.6-8l.5 10.7h.5l.6-10.7h.5l.5 2.7l.6-2.7l.5 10.7l.6-10.7l.5 2.7l.5 2.7l.6-5.4l.5 10.7h.5h.6l.5-2.7l.6-2.6h.5l.5 2.6l.6-5.3l.5-2.7l.5 2.7l.6 8h.5h.6h.5l.5-5.3l.6 5.3l.5-5.3l.5 2.6h.6l.5-5.3l.6-2.7l.5 10.7l.5-2.7l.6-8l.5 10.7h.5h.6l.5-10.7l.6 2.7l.5-2.7l.5 8l.6 2.7l.5-2.7l.5-5.3l.6 5.3l.5 2.7l.6-2.7h.5h.5h.6l.5 2.7h.5l.6-10.7l.5 2.7l.6 5.3l.5 2.7l.5-2.7l.6-2.6l.5-5.4l.5 8l.6-8l.5 5.4l.6 5.3l.5-5.3h.5h.6l.5-2.7l.5 8l.6-2.7l.5-8l.6 10.7h.5h.5l.6-2.7h.5h.5l.6-2.6l.5 5.3l.6-2.7l.5-2.6h.5l.6-5.4h.5l.5 10.7l.6-2.7l.5-2.6h.6l.5 2.6l.5-8l.6 10.7l.5-2.7l.5 2.7l.6-10.7l.5 5.4l.6-5.4l.5 10.7l.5-8l.6 2.7l.5 5.3l.5-10.7h.6l.5 10.7l.6-10.7h.5l.5 5.4h.6l.5 5.3h.6l.5-2.7l.5-8l.6 10.7l.5-2.7h.5l.6-5.3l.5-2.7h.6l.5 8h.5l.6 2.7l.5-5.3l.5-5.4h.6l.5 10.7l.6-2.7l.5 2.7l.5-2.7l.6-8l.5 8l.5-8h.6h.5l.6 10.7l.5-10.7h.5h.6l.5 10.7h.5l.6-2.7l.5-2.6l.6 2.6l.5 2.7l.5-5.3h.6h.5h.5h.6l.5-2.7l.6-2.7l.5 8l.5 2.7h.6l.5-8l.5 5.3h.6l.5 2.7l.6-5.3l.5 5.3l.5-5.3l.6 5.3l.5-10.7l.5 10.7l.6-8l.5 2.7l.6 2.6h.5h.5l.6-5.3l.5 2.7h.5l.6 5.3l.5-5.3l.6 5.3l.5-10.7l.5 5.4h.6h.5h.5l.6 5.3l.5-10.7l.6 2.7h.5l.5-2.7l.6 8h.5h.5h.6h.5h.6l.5 2.7l.5-2.7h.6h.5l.5-2.6l.6 2.6l.5-8h.6l.5 8l.5-8l.6 10.7h.5l.5-10.7l.6 10.7h.5l.6-10.7l.5 10.7l.5-5.3h.6l.5 5.3h.5l.6-10.7l.5 8l.6 2.7l.5-2.7l.5-5.3l.6 5.3l.5 2.7l.5-10.7l.6 10.7h.5h.6l.5-10.7l.5 8l.6-5.3l.5 2.7l.5-5.4l.6 8h.5l.6-5.3l.5 8l.5-2.7l.6-5.3l.5 2.7l.5 2.6l.6-8l.5 8l.6-5.3l.5 5.3l.5 2.7l.6-2.7l.5 2.7h.5l.6-2.7l.5 2.7l.6-2.7l.5-5.3h.5l.6-2.7l.5 8l.5-2.6l.6-5.4l.5 8l.6-8l.5 10.7l.5-10.7h.6h.5h.6l.5 2.7l.5 5.3l.6-5.3l.5-2.7l.5 5.4h.6l.5-5.4l.6 8l.5 2.7h.5l.6-10.7l.5 5.4h.5l.6 5.3h.5l.6-2.7l.5-8l.5 8h.6h.5l.5-8l.6 10.7l.5-10.7l.6 10.7l.5-8h.5l.6 5.3l.5-5.3l.5 5.3l.6 2.7l.5-2.7l.6 2.7l.5-8l.5 2.7h.6l.5-5.4l.5 2.7l.6-2.7h.5h.6l.5 2.7l.5 5.3l.6-2.6l.5-2.7l.5 8l.6-10.7l.5 2.7l.6 2.7l.5 5.3l.5-5.3l.6 5.3l.5-5.3l.5 5.3h.6l.5-10.7h.6l.5 8l.5 2.7l.6-10.7l.5 2.7l.5 8l.6-10.7h.5l.6 5.4l.5 5.3h.5h.6l.5-2.7l.5-5.3l.6 2.7l.5 5.3l.6-10.7l.5 10.7l.5-5.3l.6 5.3h.5h.5l.6-10.7l.5 10.7h.6l.5-2.7h.5l.6-2.6h.5l.5-2.7l.6-2.7l.5 8l.6-2.6l.5 5.3h.5h.6l.5-10.7l.5 8l.6-5.3l.5-2.7l.6 8l.5 2.7h.5l.6-2.7h.5l.5 2.7l.6-10.7l.5 5.4l.6-5.4h.5l.5 2.7l.6-2.7l.5 2.7l.5 5.3l.6-2.6l.5 5.3h.6h.5l.5-2.7l.6-2.6l.5 2.6h.5h.6l.5 2.7l.6-5.3l.5 5.3h.5l.6-2.7" stroke="#ff0000"/>
<path d="M.5 24.6h.6h.5h.6h.5h.5h.6h.5h.5h.6h.5h.6h.5h.5h.6h.5h.5l.6-.2l.5-1.1l.6-2l.5-1.5l.5 1.6l.6 2.6l.5 .7l.5-1.4l.6-.9l.5 4.1l.6-.9l.5-6.9l.5 5.5M16.1 24.2l.6 130M17.2 19.3h1.8h-1.8l-.5 134.9M17.2 19.3l.5 3.3l.6 .6l.5-3.4l.6 4.6l.5-2.3l.5 4.4l.6-8.4l.5 3.2l.5 1.9l.6 2.5l.5-3l.6-1.1l.5 .1l.5 3.5l.6-.9l.5-5.5l.5 .7l.6 5.3l.5-2.4l.6-4.6l.5 6.6l.5-4.5l.6 4.6l.5 1.5l.5-1.1l.6-.3l.5-6.4l.6 5.3l.5-2.9M32.8 20.6l.5 176.2M33.9 24.4h2.5h-2.5l-.6 172.4M33.9 24.4l.5 .3l.5 1l.6-4.7l.5-2.7l.6 1.5l.5 .7l.5 6l.6-4.9l.5-2l.5 4.9l.6 .4l.5-3.8l.6 3.9l.5-2.5l.5 .7l.6 1l.5 .7l.5-5.7l.6-1.1l.5 3.5l.6 2.8h.5l.5-6.7l.6 8.2l.5-1.9l.5-3.1l.6 2.2l.5-4.5l.6 2.4l.5 .7l.5 .1l.6 1.8l.5 2.3l.5-6.7l.6 4.7l.5-5.4l.6 2.3l.5 5.6l.5-.5l.6-3.5l.5 .8l.5 3.2l.6-2.6l.5-2.2l.6 .9l.5 3.9l.5-2.2l.6 .4l.5-5.4l.5 2.7l.6-2.5l.5 4.9l.6 .4l.5-1.2l.5-3.7l.6 4.4l.5 1.3l.5-2.6l.6-5.5l.5 5.2l.6-3.2l.5 .6l.5 5.2l.6-1.1h.5l.5-5.5l.6 2.3l.5-1.1l.6 4.4l.5-1.8l.5 .7l.6-5.3l.5 6.1l.5-1.5l.6 2.2l.5-6.5l.6 .7l.5 5.6l.5-1.3l.6-.1l.5-3l.5 4.1l.6-2.2l.5 4.1l.6-1.4l.5-1.8l.5-1.2l.6 4.7M81.2 26.3l.5 171.6M82.3 18.6h4.8h-4.8l-.6 179.3M82.3 18.6l.5 1.3l.5 4.2l.6 .5l.5-2.1l.5 .8l.6-5.1M85.5 18.2l.5 46.1M86.6 25.8h2h-2l-.6 38.5M86.6 25.8l.5-4.1l.5 4.1l.6-2.6l.5-3.8l.5 5.5l.6-.4l.5 1.8l.6-6.4l.5 6.5l.5-4.6l.6-4.1l.5 3.1l.5-1.2l.6-.8l.5 3.6l.6 1.8l.5-4.8l.5 6.5l.6-3.3l.5 3.6l.5-5.3l.6 4.6l.5-1l.6-6.3l.5 1.3l.5 5l.6-.8l.5 .5l.5-5.5l.6 4.1l.5 2l.6-7.2l.5 6l.5-3l.6-1.9l.5 4.1l.5 3.1l.6-6.4l.5-1.8l.6 6l.5-5.4l.5 6.2l.6-3l.5 2.9l.5-2.3l.6-2.2l.5 2.7l.6-5.2l.5 6.4l.5 2.8l.6-5.5l.5 3l.5 2.1l.6-6.3l.5 3.3l.6-4.1l.5 5.6l.5-7.1l.6 8.1l.5-.4l.5-2l.6 1.7l.5 .8l.6-7.6l.5 3.1l.5 1.1l.6-.9l.5 .9l.5 2.1h.6l.5 .8l.6-7.9l.5 9l.5-.8l.6-6.1l.5 3.1l.5-5l.6 1l.5 3.7l.6-4.9l.5 5.8l.5 1.7l.6-3.7l.5 2.3l.5 .9l.6-2.4l.5-4.6l.6 6.7l.5 .2l.5-3.4l.6 1l.5 1.3l.5 1.7l.6-5l.5 4.8l.6-6.4l.5 4.7l.5-5.2l.6 6.7l.5-2.9l.5-3.2l.6 5.4l.5-.7l.6 2.5l.5-8.1l.5 4.2l.6-.2l.5-2.3l.5 4.8l.6-14.9l.5 10.6l.6 5.5l.5-1l.5-4.8l.6 3.2l.5-3.4l.5 6.8l.6-8.2l.5 .7l.6 7.9l.5-2.8l.5-5.5l.6 8.4l.5-7.1l.5 3.9l.6-5.2l.5 2.5l.6-.7l.5 6.1l.5-1.6l.6 .7l.5-1.3l.5-3.3l.6 1.9l.5 .8l.6 .9l.5-5.8l.5 3.6l.6-3.5l.5 6.1l.6 .3l.5-3.5l.5 3.4l.6-6.5l.5 4.2l.5 .1l.6-4.5l.5 6.2l.6-.9l.5 .9l.5-2.1l.6 1.2l.5-6l.5 4.7l.6 2.3l.5-6.9l.6 .8l.5 2.6l.5 3.4l.6-1l.5 1.5l.5-4l.6 4.4l.5-7.2l.6 8.1l.5-1.6l.5 .3l.6-2.1l.5-.6l.5-1.2l.6-.7l.5 2.8l.6 1.3l.5 1.6l.5-6.6l.6 5.9l.5-6.2l.5 6.3l.6 .4l.5-5.8l.6 3.4l.5-.1l.5-2.2l.6 4.8l.5 .9l.5-2.7l.6 1l.5-5l.6 4.3l.5-.2l.5 .1l.6-4.2l.5 6.3l.5-2.6l.6 1.3l.5-1.1l.6-2.6l.5 2.3l.5 3.1l.6-4.4l.5 1l.5 1.1l.6 .2l.5-1.3l.6 .5l.5 .3l.5 .1h.6l.5 2.4l.5-.4l.6-.6h.5l.6-3.4l.5 2.6l.5 1.1l.6-1.9l.5-2.6l.5 1.7l.6 .3l.5 .6l.6 .6l.5-3l.5 4.6l.6-3l.5-4.1M207.5 19l.5 214.5M208.6 19.9h4.5h-4.5l-.6 213.6M208.6 19.9l.5-.8l.6 4.5l.5-2.8l.5-1.9l.6 6.2l.5-.8l.5-1.6l.6 1.5l.5 .6l.6-2.4l.5 3.9l.5-3.7l.6-3.1l.5 4.2l.5 2.6l.6-7.2l.5 5l.6-2.2l.5-1.2l.5 5.5l.6 .2l.5-1.6l.5-4.9l.6-.3l.5 1.4l.6 5.6l.5-7.5l.5 .7l.6 1l.5 4.4l.5-5.3l.6 1.4l.5 1.4l.6 1.6l.5-2.8l.5 4.8l.6-2.3l.5 .4l.5-1.9l.6-5.1l.5 3.7l.6-2.1l.5 3.7l.5 .1l.6-2l.5 5.6l.5-1.5l.6-6l.5 .5l.6-1.3l.5 5.7l.5-4l.6-1l.5 .6l.5 4.8l.6 .4l.5 1.6l.6-7.8l.5 .7l.5 6.6l.6-4.8l.5 4l.6-1.9l.5-4.8l.5 5l.6-1.7l.5 4l.5-3.8l.6 2.8l.5-.5l.6-.1l.5-23.4l.5 23.9l.6-5l.5 5.4l.5-5.4l.6 5l.5 .7l.6-.5l.5-6.6l.5 4.7l.6-2.9l.5 3.1l.5 1.9l.6 .1l.5-.1l.6-6l.5 6.1l.5 1.4l.6-8.2l.5 7.6l.5-7.5l.6 6l.5-1.5l.6 .2l.5-4.8l.5 6.8l.6-5.1l.5 6.5l.5-6.9l.6 6.5l.5-6.8l.6 4.9l.5 .4l.5 1.8l.6-1.5l.5-2l.5-3.8l.6 4.3l.5 1.5l.6-5.5l.5 6.7l.5 .6l.6-8.4l.5 1.7l.5 1.1l.6-2.8l.5 6.5l.6-6.7l.5 3.1l.5 1.8l.6-4.5l.5 6.2l.5 .1h.6M275.8 24.6l.5 54.9M276.9 21.4h2.5h-2.5l-.6 58.1M276.9 21.4l.5-.5l.5 2.4l.6-2.1l.5-3.4l.5 3.7l.6 5.1l.5-.8l.6-.2l.5-1.6l.5-2.7l.6 4.1l.5-3.6l.5 2l.6-1.3l.5-2.5l.6-1l.5 5.1l.5-1.3l.6-3.9l.5 5.1l.5 2.5l.6-2.2l.5-5.5l.6 1.5l.5-2.7l.5 6.2l.6 1.6l.5-1.1l.5-4.5l.6 3.2l.5 1.8l.6-.3l.5-1.9l.5 1l.6 1l.5 1.5l.5 .2l.6-6.7l.5 .7l.6 2.6l.5 1.8l.5-2.3l.6-1.8l.5-2.3l.5 4.4l.6-5.2l.5 4.4l.6 2.5l.5-2.6l.5-.5l.6-.2l.5-1.9l.5 6.1l.6-.6l.5-4.9l.6 4.9l.5 .3l.5-.7l.6 .2l.5-1.7l.5-.5l.6-.3l.5 4.4l.6-3.3h.5l.5-1.9l.6-3.4l.5 1.2l.5 5.2l.6-.3l.5-2.8l.6 1.4l.5 .5l.5-3.3l.6 6l.5-1.8l.5 .3l.6-6.4l.5 5.2l.6-4.3l.5 5.7l.5-5.4l.6 3.1l.5 4.1l.5-8.3l.6 1.6l.5 5.5l.6-5.9l.5 .7l.5 3.4l.6-1l.5 4.3l.6-1.6l.5-1.9l.5-5l.6 7.3l.5-2l.5-.7l.6-1.8l.5-2.4l.6 1.1l.5 3.6l.5-.8l.6 3.4l.5-4.2l.5-1.9l.6-2.3l.5 9.1l.6-2.1l.5 1.2l.5-2.6l.6-4.4l.5 6.2l.5-6.4l.6 1.5l.5-.7l.6 4.9l.5-5.4l.5 1.4l.6-.7l.5 6.6l.5 .2l.6-3.2l.5-.3l.6 .6l.5 1.9l.5-4.1l.6 1.4l.5 .9l.5-1.7l.6 .2l.5-.3l.6-2.8l.5 5.9l.5-.7l.6 1.2l.5-5.6l.5 3.8h.6l.5 1l.6-1.1l.5 2.5l.5-4.2l.6 4.2l.5-8.1l.5 8.2l.6-6.1l.5 2.2l.6 1.7l.5-1l.5-.2l.6-3.4l.5 3.4l.5-.5l.6 4.3l.5-5l.6 3.8l.5-6.3l.5 3.2l.6 .4l.5 .5l.5-.7l.6 2.7l.5-5l.6 1.2l.5-.1l.5-3l.6 5.7l.5-1l.5 1.3l.6 .6l.5-.3l.6 .7l.5 .4l.5-1.6l.6 .2l.5-.7l.5-1.5l.6 2.4l.5-6l.6 1.4l.5 3.7l.5-4.3l.6 5.7l.5-.2l.5-5.7l.6 7.6l.5-1.4l.6-4.9l.5 6.4l.5-3.7l.6-1.5l.5 4.4l.5-.9l.6-6.1l.5 4.8l.6 3.2l.5-4.2l.5-1.9l.6 4.2l.5 .4l.5-7.5l.6 7.8l.5-.5l.6 1.5l.5-6.9l.5 4.6l.6-2.6l.5 .1l.5-1.6l.6 3.7l.5-.6l.6-1.9l.5 2.7l.5-.5l.6-3.8l.5 1.8l.5 2l.6-4.5l.5 4.4l.6-3.6l.5 4.3l.5 2.6l.6-4.1l.5 3.4l.5-1.8l.6-1.8l.5 4.2l.6-4l.5-1.8l.5-1.4l.6-1.4l.5 6.3l.5-3l.6-1.5l.5 2.8l.6-4.1l.5 5.6l.5-5.3l.6-.6l.5 1.1h.6l.5 2.3l.5 1.5l.6-4l.5-.1l.5 4.2h.6l.5-3.7l.6 3.6l.5 2.8l.5-.4l.6-7.7l.5 3.8l.5 1.7l.6 .9l.5 .7l.6-.3l.5-4.6l.5 2.7l.6 1.6l.5-.6l.5-4.4l.6 5.4l.5-5.8l.6 6l.5-5.6l.5 2.1l.6 2.7l.5-4.3l.5 3l.6 1.6l.5-.4l.6 .9l.5-4.7l.5 .9l.6 1.8l.5-3l.5 1.4l.6-2.1l.5-1.1l.6 .3l.5 2.6l.5 3.9l.6-2.6l.5-3.2l.5 7.4l.6-8.9l.5 3.1l.6 1.1l.5 4l.5-4.9l.6 3.7l.5-3l.5 3.8l.6-.2l.5-5.8l.6-1l.5 4.2l.5 3.9l.6-7.7l.5 1.6l.5 4.9l.6-7.9l.5 1.1l.6 3.7l.5 4.3l.5-.6l.6-1.5l.5-1l.5-3.7l.6 1.2l.5 3.4l.6-6.6l.5 6.4l.5-3.2l.6 4l.5 .4l.5 1.3l.6-9l.5 7.8l.6 .5l.5-1.8l.5-1.1l.6-1.7l.5 1.3l.5-1.3l.6-2.3l.5 5.7l.6-2.9l.5 2.6l.5 1.2l.6 .7l.5-8.7l.5 7l.6-3.4l.5-2.5l.6 4.5l.5 2.6l.5 .6l.6-2.2l.5-1.5l.5 1.4l.6-4.7l.5 2.1l.6-3.5l.5-.1l.5 3.8l.6-1.7l.5 1.5l.5 2l.6-.6l.5 1.4l.6 1.8l.5-.6l.5-.8l.6-3.7l.5 3.5l.5-.2l.6-.1l.5 2l.6-3l.5 1.4l.5 1.9l.6-2.3" stroke="#0000ff" stroke-dasharray="12.4 11.3"/>
</g>
<g font-size="23.60" fill="#000">
<g text-anchor="middle">
<text transform="translate(0.00,239.80) scale(1,1.070)">0</text>
<text transform="translate(107.52,239.80) scale(1,1.070)">200</text>
<text transform="translate(215.03,239.80) scale(1,1.070)">400</text>
<text transform="translate(322.55,239.80) scale(1,1.070)">600</text>
<text transform="translate(430.07,239.80) scale(1,1.070)">800</text>
<text transform="translate(537.58,239.80) scale(1,1.070)">1000</text>
<text transform="translate(645.10,239.80) scale(1,1.070)">1200</text>
</g><g text-anchor="end">
<text transform="translate(-8.85,201.41) scale(1,1.070)">-60</text>
<text transform="translate(-8.85,147.86) scale(1,1.070)">-40</text>
<text transform="translate(-8.85,94.31) scale(1,1.070)">-20</text>
<text transform="translate(-8.85,40.76) scale(1,1.070)">0</text>
</g></g>
<g font-size="26.10" fill="#000" text-anchor="middle">
<text x="321.85" y="272.50">Data samples</text>
<text transform="translate(-55.10,106.20) rotate(-90)">DC Value</text>
</g>
<rect x="470.70" y="11.40" width="158.00" height="57.66" fill="#fff" stroke="#3c3c3c" stroke-width="1.20"/>
<path d="M476.80 27.00H536.80" stroke="#ff0000" stroke-width="4.20" fill="none"/>
<path d="M476.80 53.36H536.80" stroke="#0000ff" stroke-width="4.20" stroke-dasharray="12.4 11.3" fill="none"/>
<g font-size="21.20" fill="#000">
<text x="541.70" y="34.80">Actual</text>
<text x="541.70" y="61.16">Predicted</text>
</g>
</g>
<g transform="translate(91.00,641.55)">
<clipPath id="c5"><rect x="-2.3" y="-1.1" width="649.6" height="214.3"/></clipPath>
<path d="M0 0H645.05V210.85H0Z" fill="none" stroke="#1a1a1a" stroke-width="1.20"/>
<path d="M0.00 210.85v-7.00M0.00 0v7.00M107.51 210.85v-7.00M107.51 0v7.00M215.02 210.85v-7.00M215.02 0v7.00M322.52 210.85v-7.00M322.52 0v7.00M430.03 210.85v-7.00M430.03 0v7.00M537.54 210.85v-7.00M537.54 0v7.00M645.05 210.85v-7.00M645.05 0v7.00M0 210.85h7.00M645.05 210.85h-7.00M0 142.15h7.00M645.05 142.15h-7.00M0 73.44h7.00M645.05 73.44h-7.00M0 4.74h7.00M645.05 4.74h-7.00" fill="none" stroke="#1a1a1a" stroke-width="1.20"/>
<g clip-path="url(#c5)" fill="none" stroke-width="4.20" stroke-linejoin="round">
<path d="M.2 197.7l.2 1.3l.2-1.5l.3-81.5h.2l.2 .8l.2-5.2l.2 4.5l.2-.7l.3-.3l.2 1.4l.2-.6l.2 .4h.2l.2 .3l.2-1.9l.3 1.8l.2-.3h.2l.2-.9l.2-1.3l.2 .7l.2 1.1l.3 .4l.2 .5l.2-.6l.2-.5l.2-.1l.2 1l.3-.7l.2 .7l.2-1l.2 .3l.2-1.6l.2 1.5l.2 .7l.3 .2l.2-1l.2 1l.2-3.7l.2 3.3l.2 .3l.2-.2l.3-.7l.2 .5l.2-1.1l.2 .8l.2-.5l.2 1.5l.3-.4l.2-.9l.2 .6l.2-.6l.2 .6l.2 .5h.2l.3-.8l.2 .5l.2 .1l.2-2.7l.2 3.1l.2-.4l.2-.5l.3-.2l.2 .4l.2-.2l.2 .6l.2-.6l.2-.6l.3 1.4l.2-.9h.2l.2 1l.2-.4l.2 .4l.2-2.6l.3 .5l.2 1.7l.2-.5l.2 .3l.2 .2l.2-.1l.2-.5l.3 .9l.2-.3l.2-3.9l.2 3.9l.2 .3l.2-.8l.3 .7l.2-.1l.2-.1l.2-.7l.2-.6l.2-1l.2 2.6l.3-.5l.2 .6l.2-1.5l.2 .8l.2-.2l.2 .3l.2 .6l.3-.2l.2 .2l.2-.4h.2l.2-.9l.2 1.1l.3-.8l.2-.3l.2 .8l.2-1.4l.2 1.8l.2-.1l.2-1.5l.3 1.2l.2-.3h.2l.2-.3l.2 .7l.2 .4l.2-3.3l.3 3l.2-.8h.2l.2 1.1h.2l.2-3.1l.3 1.9l.2 .1l.2 .6l.2-1l.2 1.1l.2 .1l.2-1.4l.3 1.4l.2-1.1l.2 1.3l.2-.2l.2 .3h.2l.2-1.7l.3 1.5l.2-.4l.2 .6l.2-.3l.2-1.6l.2 .9l.3-.9l.2 1.2l.2-1.3l.2 .9l.2 .8l.2-.1l.2-2.8l.3 .7l.2 2.4l.2 .2l.2-2.4l.2 1.8l.2-.2l.2 .1l.3-.3l.2 .8l.2-.3h.2l.2-2.4l.2 2.2l.3-.4l.2 1l.2-1.8l.2 1l.2 .8l.2-.8l.2 .5l.3-1.2l.2 .8l.2-.2l.2-.9l.2 1.6l.2-.3l.2 .5l.3-1.4l.2-1.2l.2 .1l.2 1.4l.2 .6l.2 .5l.3-1l.2 .3l.2 .2h.2l.2 .5l.2-.6l.2 .1l.3 .2l.2 .3l.2-.4l.2-.1l.2-1.3l.2 .8h.2l.3 .3l.2-.5l.2 .5l.2 .7l.2-1.1l.2-4.4l.3 4.6l.2 .6l.2-.9l.2-.5l.2 .1l.2 .2l.2-.6l.3 .8l.2 1.2l.2-2.9l.2 2.1l.2 .5l.2-.7l.2 1l.3-.5l.2 .3h.2l.2-.6l.2 .4l.2-.5l.3 .9h.2l.2-2.1l.2 .5l.2 .5l.2 .8l.2-.7l.3-2.4l.2 3l.2-.7l.2-1l.2 .6l.2 1.1l.2-.5l.3 .9l.2-1.3l.2 .4l.2 .7l.2-.1l.2 .1h.3l.2-.3l.2 .2l.2-1.2l.2 1.2l.2 .3l.2-1.1l.3 .9h.2l.2-.2l.2-.1h.2l.2-.7l.2 .8l.3 .4l.2-1.2l.2 1.1l.2-.7l.2-.4l.2 .3l.3 .7h.2l.2-.9l.2 1.1l.2-1.1l.2 .6l.2 .1l.3-.4l.2 .1l.2-.5l.2 .7l.2-.7h.2l.2 1.2l.3-.5l.2-2.9l.2 2.3l.2 .2l.2 1l.2-1.5l.3 .5l.2 .7l.2-.9h.2l.2 .2h.2l.2-1l.3-3.2l.2 5l.2-.4l.2 .4l.2-.4l.2-.3l.3-.1l.2-.7l.2 .8l.2 .7l.2-1.1l.2 1l.2-1.4l.3 .6l.2 .2l.2-.1l.2-.3l.2 .7l.2 .2l.2 .1l.3-.6l.2-1l.2 .9l.2 .2l.2-.1l.2 .2l.3 .2l.2-.3l.2-2.2l.2 2.5l.2-1.1l.2 1.1l.2-.3l.3 .4l.2-1l.2 .9l.2-.6l.2 .8l.2-1.5l.2 .4l.3 1.1l.2 .2l.2-.9l.2 .5l.2-.1l.2-.3h.3l.2 .2l.2-.2l.2-.1l.2-1.4l.2 1l.2 1.3l.3-.3h.2l.2-.2l.2-.9l.2 .8l.2-1.3l.2-.8l.3 2.1l.2-.3l.2-.2l.2-.4l.2-.7l.2 .6l.3 1.5l.2-1.3l.2 1.2l.2-1.9l.2 1.5l.2 .3l.2-1.7l.3 1.9l.2-.5l.2-.4l.2 .8l.2-.9l.2 1.1h.2l.3-1l.2 .2l.2 .6l.2-2.2l.2 2l.2 .4l.3-1.6l.2 .5l.2 .6l.2 .5l.2-.5h.2l.2-.9l.3 .7l.2-.7l.2 1.4l.2-.9l.2 .1h.2l.2-.2l.3-1l.2 .7l.2 .9l.2-.9l.2 1.1l.2-1.7h.3l.2 .7l.2 .4l.2 .6l.2-.2l.2-.5l.2-.2l.3 1.1l.2-.8l.2-.6l.2 1.1h.2l.2 .2l.2-.6l.3 .3l.2-.2l.2 .1h.2l.2-.8l.2 1.2l.3-.2l.2-.6l.2-.9l.2-.4l.2 1.3l.2-.4l.2 .3l.3 .6l.2-.6l.2-.1l.2-3.5l.2 4.6l.2-.8l.2-.4l.3-1.2l.2 1.2l.2 1l.2-.3l.2-1.6l.2 1.2l.3-.1l.2-.8l.2 .4l.2 .8l.2-.5l.2-93.2l.2-.9l.3 2.4l.2-.1h.2l.2-.5h.2l.2-.6l.2 .7l.3-.8l.2 .2h.2l.2 .8h.2l.2-1.4l.3 .6l.2 .4l.2 .2l.2-.9l.2 1.4l.2-1.7l.2 1.3l.3-.9l.2-.8l.2 1l.2-1l.2 .6l.2 .3l.2 .5l.3-.6l.2-2.2l.2 .6l.2 1.5l.2-.1l.2-.2l.3 1.6l.2-.3l.2-1.8l.2 2.3l.2-1.5l.2 .7h.2l.3 .2l.2-1.6l.2 .8l.2 1.4l.2-2.1l.2 1.8l.2-2.1l.3 1.9l.2 .4l.2-.4l.2 .1l.2 .2l.2 .1l.3-1.1l.2 1l.2-1.7l.2-1.5l.2 3.3l.2-.1l.2-1l.3 .4l.2-.6l.2-.5l.2 1.4l.2-.1l.2 .2l.2-.5l.3-.9l.2 .6l.2 .3l.2-.5l.2 1.3l.2-1.3l.3 .7l.2 .4l.2-1.3l.2-1.3l.2 2.6l.2-.4l.2 .7l.3-.2l.2-.7l.2 .8l.2-2l.2 1.8l.2 .1l.2-1l.3 1l.2-.1l.2-1l.2 .6l.2 .3h.2h.3l.2-.4l.2 .4l.2-.7l.2 .2l.2 .2h.2l.3 .4l.2-1.1l.2 1.2l.2-1.4l.2-.5l.2 .2h.2l.3 1.6l.2-.6l.2 .7l.2-.9l.2 .9l.2-1.2l.3 .6l.2-.3l.2 .8l.2-.5l.2-.8l.2 .6l.2 .7l.3-12.9l.2 1.4l.2 11.5l.2-.5l.2 .8l.2-.3l.2-.5l.3 .3l.2-.4l.2 .3l.2-1.5l.2 1.6l.2 .3l.3-1.5l.2 1.4l.2-.4l.2 .7l.2-.2l.2-.2l.2-3.2l.3 .4l.2 2.5l.2-.1l.2 .2l.2-.2l.2 .8l.2-1.3l.3-.4l.2 .6l.2-.5l.2 1.1l.2-.3l.2 .6l.3-.1l.2-.9l.2 1.1l.2-.3l.2-1.3l.2 .6l.2-.2l.3 1h.2l.2 .2l.2-1l.2-.1l.2 .9l.3-2.1l.2 1.1l.2 .3l.2 .5l.2-.2l.2-.8l.2 .4l.3-.8l.2 1.1l.2 .5l.2-1.7l.2 .2l.2 .9l.2 .6l.3-1.1l.2-.6l.2 .9l.2-.3l.2-.3l.2 .1l.3 .1l.2 .4l.2 .8l.2 .3l.2-1l.2 .1l.2 .2l.3-.9l.2 .8l.2 .3l.2 .4l.2-.3l.2-.3l.2-1l.3 .4l.2 .7l.2 .5l.2-1.4l.2 .5l.2 .7l.3-1.6l.2 1.6l.2 .3l.2-.6l.2 .3l.2-1.2l.2 1.1l.3-.7l.2 .4l.2-.9l.2 .3l.2 .2l.2 .7l.2-.8l.3 .9l.2-.2h.2l.2-.8l.2 .7l.2-.5l.3-.8l.2 1.5l.2-.9l.2-.6l.2 1.4l.2 .1l.2-.4l.3 .5l.2 .3l.2-.4l.2-1.6l.2 1.6l.2-.4l.2 .3l.3-.3l.2 .3h.2l.2-.2l.2 .1l.2-.5l.3 .4l.2-1.9l.2 1.1l.2 .7l.2-.6l.2 1l.2-.3l.3 .5l.2 .2l.2-.6l.2 .6l.2-.5l.2-.2l.2-1.8l.3 .9l.2 .4l.2 .7l.2-.3l.2-1.2l.2 1.6l.3 .2l.2-.7l.2 .3l.2 .2l.2 .1l.2-1.9l.2 1.2l.3 .3l.2-.7l.2 .4l.2-.4l.2 .7l.2-1.1l.2 1.5l.3 .2l.2-.4l.2-1.2l.2 .9l.2-.1l.2-.5l.3 .9l.2-.1l.2 .1l.2-2.6l.2 2.3l.2-.5l.2 1.3l.3-1.6l.2 .4l.2 .6l.2-.9l.2 .3l.2-.8l.2-.1l.3 .7l.2 .2l.2 .7h.2l.2-.5l.2-1.4l.3 1.6h.2l.2 .7l.2-1l.2 .7l.2-1.9l.2 1.4l.3-.7l.2-.8l.2 1.2l.2-.8l.2-.3l.2 .9l.2 .9l.3-1l.2 1.4l.2-.6l.2 .5l.2-.7l.2 .4l.3-1.1l.2 1l.2-.3l.2-2l.2 1.4l.2-.2l.2 1.7l.3-.1l.2-2.1l.2 2.1l.2-.1l.2 .2l.2-.8l.2 .4l.3-1l.2-1.6l.2 2.8l.2-.5l.2-.3l.2 .4h.3l.2 .1l.2-1l.2 .2l.2 .5l.2-.1l.2-.2l.3-.6l.2 1l.2-.8l.2 1.2l.2 .1l.2-1.4l.2 .2l.3 1.3l.2-1.2l.2 1.2l.2-.6l.2-1.4l.2 2.1l.3-1.4l.2 .3l.2 .5l.2 .4l.2-.7l.2 .4l.2-2.7l.3 2.6l.2 .3l.2 91.5l.2-91.3l.2 .1l.2-.7l.2 .7l.3-.1l.2-1.2l.2 .6l.2 .3l.2-.9l.2 1.1l.3 .2l.2-.6l.2 .1l.2-.1l.2-.7l.2 1.1l.2-1.5l.3-.1l.2 .9l.2 .9l.2-2.2l.2 .7l.2 .6l.2 .5h.3l.2-.6l.2-1.9l.2 2.3l.2-1l.2 .7l.3-2l.2 1.6l.2 .7h.2l.2-1.7l.2 1.8l.2-.2l.3-.6l.2-.2l.2 1l.2-1l.2-.2l.2 1.4l.2 .1l.3-1.1l.2 .9l.2-.5l.2 .1l.2 .1l.2-.6l.3 .3l.2 .7l.2-1.2l.2 1.3l.2-.7l.2-.3h.2l.3 .7l.2-2.7l.2 2.8l.2 .1l.2-1.3l.2 .5l.2 .3l.3-.5l.2 .3l.2-.7l.2 1.7l.2-1.1l.2 .9l.3-1.1l.2-1l.2 1.8l.2 .5l.2-.7l.2 .3l.2 .4l.3-.1l.2-1.9l.2 1.6l.2 .4h.2l.2-.8l.3-.7l.2 .7l.2-.3l.2 .3l.2-.2l.2-.6l.2 .3l.3 1.1l.2 .2l.2-.8l.2 .5l.2-.5l.2 .2l.2-.7l.3-1.5l.2 1.9l.2 .6l.2-.7l.2 .9l.2-1.6l.3 1.4h.2l.2-1.4l.2 1.3l.2-.5l.2 .6l.2-1.4l.3-.7l.2 2.4l.2-.7l.2 .1l.2-5.6l.2 5.8l.2 .1l.3-.4l.2-.9l.2 1.2l.2-1.2l.2 .6l.2 .4l.3-.2l.2-.6l.2 .9l.2 .2l.2-.8l.2 .7l.2 .3l.3-1.3l.2 1l.2-1.1l.2 1.5l.2-.2l.2-2.3l.2 1.4l.3 .2l.2 .9l.2-.1l.2-2l.2-.1l.2 1.4l.3-.5l.2-.2l.2 .7l.2-.3l.2-.5l.2 .4l.2 1.1h.3h.2l.2-2.1l.2 1.4h.2l.2-.2l.2 .6h.3l.2-.1l.2-1.9h.2l.2 1.4l.2 93.1l.3-1.9l.2 2.5l.2-1.2l.2-.9l.2 2l.2-1l.2-3.4l.3 4.1l.2-1.5l.2 1.3l.2 .4l.2-.4l.2-2.1l.2 1.4l.3 .5l.2 .9l.2-1.8l.2 1l.2-1.1l.2 .9l.3 .1l.2-1.5l.2-90.6l.2-.8l.2 .6l.2-.5l.2-1.9l.3 .9l.2 1.3l.2 .2l.2-2.4l.2 1.4l.2 .7l.2-.8l.3-.9l.2 1.4l.2 .9l.2-1.6l.2-1.4l.2 1.6l.3 .7l.2-.9l.2 1.4l.2-.4h.2l.2-.2l.2 .1h.3l.2-.8l.2 1.3l.2-1.9l.2-1.3l.2 1.6l.2 1.1l.3 .7l.2-.8l.2-1.9l.2 1.3l.2 .9l.2-1.4l.3 .7l.2-.6l.2 .8l.2-.2l.2 1.3l.2-.8l.2 .7h.3l.2-.3l.2-2.8l.2 1l.2 .5l.2 1.1l.2 .6l.3-.4l.2-.3l.2-1.3l.2 1.8l.2-.4l.2 .6l.3-1.4l.2 .6l.2-.8l.2 .9l.2 .3l.2-.3l.2 .4l.3 .2l.2-1.4l.2 1.4l.2-2.1l.2 .6l.2-.7l.2 2.3l.3-.1h.2l.2-.6l.2 .4l.2-.9l.2-.9l.3 1.3l.2 .5l.2 .2h.2l.2-1.9l.2 2l.2-.2l.3-.1l.2-1l.2 1l.2-1.2l.2 .9l.2 .2l.2-1l.3 .8l.2-9.1l.2 9.4l.2-.5l.2 .3l.2-.8l.3 1.1l.2-.7l.2-.5l.2-.2l.2 1.1l.2 .3l.2-.7l.3 .1l.2 .7l.2-.1l.2 .1l.2-.4l.2 .4l.2-.1l.3 .2l.2-1.9l.2 1.1l.2-.3l.2-1.5l.2 2l.3 .2l.2-.3l.2-1.8l.2 1.9l.2 .5l.2 .1l.2-1l.3 .7l.2-1.1l.2-.2h.2l.2 1.1l.2 .3l.2-.3l.3-1.9l.2 1.7l.2 .1l.2 .1l.2 .4l.2-1l.3 .9l.2-1.1l.2 .1l.2-.7l.2 1.6l.2-1l.2 1l.3 .1l.2-.9l.2 .4l.2-.5l.2 .3l.2-.2l.2-.5l.3-.6l.2 .8l.2 .9l.2-.8h.2l.2-1.5l.3 2.5l.2-.8l.2 .2l.2-1.4l.2 1.3l.2 .4l.2 .2l.3-.1l.2 .4l.2-.7l.2-.2l.2-.4l.2-.3l.2-.5l.3 1.3l.2-.4l.2 .8h.2l.2-.4l.2 .3l.3-1.1l.2 1.2l.2 .1l.2 .1l.2 .1l.2-.8l.2-1.3l.3 1.8l.2-.9l.2-1l.2 2.3h.2l.2-.2l.3-.1l.2-.7l.2 .5l.2-1.3l.2 .8l.2-.9l.2 1.7l.3-2l.2 1.4l.2-1.1l.2 2l.2-.3l.2-.2l.2 .4l.3-.8l.2 .3l.2 .4l.2-.6l.2 .3l.2-1.8l.3 1.8l.2-1.6l.2 .6l.2 93.6l.2-1.6l.2 1.5l.2-1l.3 1.3l.2-.2l.2-.9l.2 .6l.2-.8l.2 1.5l.2-.7l.3-.9l.2 1.8l.2 .1l.2-.6l.2 .4l.2-1.6l.3 1.5l.2-93.3l.2 .4l.2-2l.2 2.3l.2-.3l.2-.1l.3-3l.2 3l.2-.6h.2l.2 .8l.2-.4l.2-.7l.3 .6l.2-1.1l.2 1.5l.2-.4l.2 .1l.2-.3l.3-.5l.2 .7l.2-.8l.2 1l.2-.7l.2 .3l.2-.7l.3 .5l.2 .6l.2-.7l.2 .9l.2-.1l.2 .1l.2-.8l.3 .4l.2-.7l.2 1.3l.2-26h.2l.2 25.5l.3-.2l.2 .9l.2-1.6l.2 .8l.2 .3l.2 .3l.2-1.2l.3 .8l.2 .4l.2-.2l.2-.3l.2-.8l.2 94l.2-93.7l.3-2.2l.2 2.7l.2-.6l.2-.5l.2 .1l.2 .2l.3-.2l.2 1.3l.2 .3l.2-1l.2 1.1l.2-.3l.2-1.5l.3 .6l.2 .1l.2 .8l.2-.8l.2 .6l.2-1.6l.2 2l.3-1.3l.2 1.3l.2-.9l.2-.4l.2-.1l.2 1.5l.3-.2l.2-.3l.2-.2l.2 .3l.2-1.4l.2 .8l.2-.7l.3 1.4l.2 .1l.2-.2l.2-.1h.2l.2-1.5l.2 .7l.3 .4l.2 .6l.2-.7l.2-.3h.2l.2 1l.3-.5l.2 .4l.2-1.5l.2 1.5l.2-1.1l.2-.8l.2 1.7l.3 .1l.2-.6l.2 .2l.2-.9l.2 .1l.2 1.2l.2-1.6l.3 1.5l.2 .1l.2-.4l.2-.3l.2 1.2h.2l.3-2.3l.2 .6l.2 1.2l.2 .4l.2-2.1l.2 .7l.2 .4l.3-.7l.2 .2l.2-7.8l.2 8.8l.2-1.7l.2 1.2l.2 .6l.3-1.2l.2 .4l.2-.9l.2 1.9l.2-5.7l.2 4.4l.3 .8l.2 .1l.2 .3l.2 .3l.2-1l.2-.7l.2 1.1h.3h.2l.2 .5l.2-.7l.2 .4l.2-.5l.2-.3l.3 .3l.2-.5l.2 .3l.2 .6l.2-.2l.2-2l.3 2.7l.2-.7l.2-.8l.2-.6l.2 1l.2 .5l.2 .5l.3-.3l.2-2.6l.2 2.1l.2 .4l.2 .6l.2-1.1l.2 .8l.3 .1l.2-.3l.2 .1l.2 .4l.2-.8l.2-.8l.3 1.5l.2-2l.2 1l.2 .9l.2-.3l.2-1.5l.2 2l.3-.4l.2-.5l.2 .2l.2-1.2l.2 1.4l.2 .5l.2-2.7l.3 2.4l.2 .2l.2-1.8l.2 1.4l.2 .3l.2-.7l.3 .6l.2-.1l.2-.5l.2-1.4l.2 2.1l.2-.8l.2 .5l.3-2.5l.2 2.5l.2-.4l.2-2l.2 2.2l.2-1l.2 1.3h.3h.2l.2-1.2l.2 1.6h.2l.2-1l.3 .8l.2-.3l.2-.3l.2-1.6l.2 2.2l.2-.2l.2-1l.3-.1l.2 1.5h.2l.2-.9l.2 .8h.2l.2-.3l.3-.5l.2 .1l.2 .7l.2-2.5l.2 2.2l.2-.5l.3-.7l.2 1.5l.2-.9l.2 .7l.2-.7l.2 .2l.2-.2l.3 .6l.2-.2l.2-.8l.2 1.1l.2-1l.2 .9l.2 .1l.3-.2l.2-.7l.2 .7l.2-.4h.2l.2 .2l.3 .5l.2-.1l.2-.4l.2 .6l.2-.6l.2 .2l.2 .5h.3l.2-.8l.2-.2l.2 .9l.2 170.5l.2 1.1l.3-.9l.2-.9l.2-.7l.2 2.4l.2-.2l.2-171.2l.2-1.3l.3-.5l.2 .2l.2 .5l.2 .3l.2 .7l.2-.9l.2 .6l.3-.1l.2-1.6l.2 1.6l.2-.2l.2-.2l.2 .1l.3-1.3l.2 1.6l.2-1.1l.2 .2l.2 1.1l.2-1.2l.2-.3l.3 .9l.2-.2l.2-.7l.2 93.6l.2 .3l.2 .5l.2-.4l.3 .2l.2-2.1l.2-.5l.2 2.2l.2 .2l.2 .4l.3-.9l.2 .4l.2-.5l.2-92.4l.2-1.9l.2 2.5l.2-2.5l.3 2.1l.2-2.5l.2 1.3l.2 1.1l.2 .5l.2-.2l.2 .3l.3-2.4l.2 .6l.2 .7l.2-.4l.2 .9l.2 .5l.3-.8l.2 .2l.2-1.4l.2 1.4l.2 .4l.2-.1l.2-2.8l.3 2.4l.2 .9l.2-1l.2-1.1l.2 1.6l.2 .5l.2-1.3l.3 .5l.2-.4h.2l.2 .7l.2 .5l.2-.5l.3 .1l.2 .1l.2-1.5l.2 .4l.2 1l.2 .3l.2-.6l.3 .2l.2-.8l.2 .8l.2 .3l.2-2.3l.2 1.9l.2-.2l.3 .3l.2-3.2l.2 2.9l.2 .8l.2-2.1l.2 1l.3-3l.2 4.1l.2-.2l.2-.1l.2-.6l.2-.2l.2 .4h.3l.2-.5l.2 1l.2-.1l.2-.7l.2 .1l.2 .5l.3 .3l.2-2.7l.2 1.2l.2 1.4l.2-1.8l.2 1.9l.3-.9l.2 .4l.2-.9l.2 1.4l.2-.1h.2h.2l.3-1.3l.2 .5l.2 .6l.2 .4l.2-.6l.2 172.6l.2-172.4l.3-.2l.2-.7l.2-.6l.2 1.8l.2-.5l.2 .5l.3-.2l.2 .2l.2-1l.2 .4l.2-1.1l.2 .5l.2 1.1h.3l.2-.4l.2-.4l.2-.8l.2 1l.2-1.2l.2 .6l.3-.2l.2 1.4l.2-.7l.2 .3l.2 .5l.2-.9l.3 .2l.2-1.3l.2 94.4l.2-.1l.2-.5l.2 .2l.2 .6l.3-.4l.2-.6l.2 .2l.2 .8l.2-.3l.2 .3l.2-.6l.3-.2l.2 .5l.2 .5l.2-1.1l.2 1h.2l.3-.2l.2-2.4l.2 1.3l.2 .5l.2-92.3l.2-1.9l.2 2.4l.3-1.9l.2 .7l.2 .7l.2-.2l.2-.1l.2-.4l.2 .9l.3-1.1l.2 1.3l.2-2.6l.2 2.6h.2l.2-.6l.3 .5l.2-1.1l.2 .7l.2-1l.2-.4l.2 .6l.2-1l.3 2.2l.2-2.3l.2 2.5l.2-2.3l.2 2.2h.2l.2-1.1l.3 1.1l.2-.2l.2-.7l.2-.1l.2 .4l.2-.8l.3 .5l.2 .6l.2-1.4l.2-.6l.2 1.2l.2 .7l.2-.1l.3-.6l.2 .5l.2-.1l.2-.5l.2 .1l.2 .4l.2 .4l.3-1.8l.2 .1l.2 1.8l.2-.6l.2-.5l.2 .6l.3-.7l.2 .1l.2 .7l.2-.8l.2-.4l.2 1.1l.2-2.2l.3 2.2l.2 .6l.2-.6l.2 .4l.2-.3l.2-5.1l.2 96.3l.3-93.4l.2 1.7l.2 .2l.2 .8l.2-1.8l.2 1.1l.3-.3l.2 .2l.2-.1l.2 .8l.2-.4h.2l.2 .3l.3 .2l.2 .2l.2-1.2l.2-1.1l.2 1l.2 .9l.2-3.4l.3 2.7l.2 .4l.2 .6l.2-.1l.2-2.6l.2 .1l.3-.8l.2 1.9l.2 .9l.2-.5h.2l.2 1.1l.2-1.3l.3 1.2l.2-.8l.2 1l.2-1.6l.2 1.2l.2 .3l.3-.8l.2-.2l.2 92.6l.2-92.7l.2 .8l.2-.3l.2 .5l.3-.8h.2h.2l.2 .3l.2-.1l.2 .5l.2-.8l.3 .1l.2-1.9l.2 1.4l.2-1.5l.2 2.5l.2-.1l.3-1.1l.2-.4l.2 .4l.2 .7l.2 1l.2-1.4l.2 .6l.3-.6l.2 1l.2-.7l.2 .1h.2l.2 .5l.2-1l.3 .5l.2 .2l.2 .1l.2-.3l.2 .6l.2-1.7l.3 1.4l.2-1l.2 .2l.2 1.4l.2 92.1l.2-.2l.2 .5h.3l.2 .3l.2-.2l.2-2.7l.2-93l.2 2.7l.2-.8l.3 .8l.2-2.8l.2 1.9l.2 1.3l.2-1.4l.2 1l.3-.8l.2-1.2l.2 2.6l.2-1l.2 .6l.2 .2l.2-1.8l.3 .3l.2 1.3h.2l.2-.5l.2-1l.2 1.1l.2 .3l.3 .4l.2-.6l.2 .6l.2-.8l.2 .6l.2-.6h.3h.2l.2-.4l.2 1.1l.2-1.2h.2l.2-.8l.3 2l.2-2.1l.2 1.7l.2 .3l.2-1.4l.2 .8l.2-1.4l.3 2.2l.2 .1h.2l.2-1.4l.2-.6l.2 1l.3 .2l.2-.1l.2 .7l.2-1.6l.2 1.8l.2-1.2l.2 .2l.3 .2l.2-1.8l.2 .5l.2 2l.2-.1l.2-.1l.2-.2l.3-1.2l.2 1.3l.2 .2l.2-1.3l.2 1l.2-1.4l.3 .6l.2 .4l.2 .8l.2-1.4l.2 .2l.2 .6l.2-.1l.3-.3l.2-.9l.2 .1l.2 1.3l.2-1.8l.2 2.4h.2l.3-.5l.2 .3l.2-1l.2 .9l.2-.1l.2-.7l.3-3.5l.2 3.4l.2-1.9l.2 2.9l.2-1.2l.2-.2l.2 1.1l.3-.5l.2 .9l.2-.4l.2-.2l.2 .5l.2-.2l.2-1.7l.3 1.5l.2-.4l.2 .4l.2-1l.2 .4l.2 .3l.3-.1l.2-1.1l.2 2l.2 .1l.2-3.6l.2 2.6l.2-.6l.3 .8l.2-.2l.2 .7l.2 .2l.2 .1l.2-.6h.2l.3-.8l.2 1l.2 .1l.2-2.7l.2 2.7l.2-.6l.3 .2l.2-1.4l.2 1l.2-.4l.2 1.2l.2-.5h.2l.3 .3l.2 .4l.2-.9l.2 .3l.2 .1h.2l.2 .2l.3-4.6l.2 3.7l.2 .9h.2l.2-.2l.2-.6l.3 93.6l.2-.5l.2-.4l.2-1.2l.2 2.3l.2-1.6l.2 1.3l.3-1.4l.2 1.3l.2-.1l.2-1.1l.2 .5l.2 1.2l.2-.4l.3-92.3l.2-.8l.2-.9l.2-.1l.2 1.6l.2-2l.3 2.1l.2-.6l.2-.4l.2 .8l.2-1.2l.2 1.1l.2-.6l.3-.3l.2 .5l.2-.4l.2 .6h.2l.2-1l.2-1.4l.3 2l.2-.8l.2 .6l.2 .9l.2-.3l.2 .2l.3 .2l.2-.7l.2 .7l.2-.6l.2 .2h.2l.2-.3l.3 .1l.2-.3l.2-1.6l.2 .9l.2 1.5l.2 .2l.2-.8l.3 .2l.2 .1l.2 .5l.2-1.4l.2 1.5l.2-.8l.3 .7h.2l.2-1.4l.2 1.2l.2-1.4l.2 1.6l.2-.8l.3 .6l.2 .3l.2-2l.2 1.5l.2-.7l.2 92.5l.2 .9l.3-.2l.2 .3l.2-.2l.2-2l.2 2.4l.2-.7l.3-1l.2 1l.2 .2l.2-.7l.2 .7l.2-1.6l.2 1.5l.3 .7l.2-.3l.2-.2l.2-.1l.2-.8l.2 .6l.3-1.9l.2 1.7l.2-.8l.2 1.7l.2-.1h.2l.2-.3l.3-.3l.2 .1l.2-1.7l.2 2l.2-2.2l.2 2.7l.2-.7l.3-.2l.2-.1l.2 .1l.2 .5l.2-.3l.2 .1l.3 .4l.2-1.3l.2 1.3l.2-.7l.2 .2l.2 .3l.2-1.5l.3 1.7l.2 .2h.2l.2-1.6l.2 .7l.2 .6l.2 .2l.3-.2h.2h.2l.2 .1l.2-.7l.2 .3l.3-1.5l.2 1.5l.2-1.7l.2 1.7l.2-1.1l.2 1l.2 .3l.3-.6l.2-.8l.2 1.4l.2 .2l.2-1.3l.2-.9l.2 .8l.3 1.4l.2-.8l.2 .6l.2-.5l.2 .2l.2-2.9l.3 2.6l.2 .7h.2l.2-.2l.2-.1l.2-.3h.2l.3-.1h.2l.2 .6l.2-.4l.2 .3l.2-.8l.2 1l.3-1.3l.2-1l.2 1.2l.2 1.2l.2 .2l.2-.1l.3-1.3l.2 .8l.2-.2l.2-.4l.2-91.5l.2-.2l.2-1.1l.3 .5l.2-1.1l.2 .8l.2 1l.2-.2l.2-.9l.2-.8l.3 .4l.2-.4l.2 .9l.2 1l.2-.1l.2 .2l.3-1.9l.2-2.5l.2 3.9l.2-.7l.2 1.1l.2-1.3l.2-.1l.3 1l.2 .5l.2-.7l.2 .6l.2-.5l.2-1.1l.2 1.6l.3-1.4l.2 1.4l.2-1.5l.2-.1l.2 1.6l.2-3.8l.3 3.7l.2-1.9l.2 1.7l.2-.6l.2 .9l.2-.3l.2 .2l.3-.2l.2-.5l.2 .6l.2-.2l.2-.3l.2 .5l.2 .2l.3-1.3l.2 1.1l.2-1.3l.2 1.2l.2-2.6l.2 .6l.3 1.2l.2 .2l.2-.6l.2 .8h.2l.2-.8l.2-.1l.3 1.2l.2-.5l.2-.4l.2 .7l.2-.3l.2 .9l.2-2.8l.3 .7l.2 1.5l.2-1.9l.2 1.3l.2 1.2l.2-.8l.3-.7l.2-.3l.2-2.4l.2 3.5l.2 .8l.2-1.2l.2-.6l.3 .1l.2 1.5l.2-1.9l.2 .8l.2 .1l.2-.2l.2 1.1l.3-1.5l.2 1.5l.2 .2l.2-3.2l.2 2.6l.2-1.1l.3 .5l.2 .4l.2 .5l.2-.4l.2 .8l.2-1.8l.2 1.8l.3-1.1l.2-.6l.2 1.3l.2-1.1l.2 .6l.2 .3l.2 .1l.3-.7l.2 .8l.2-4.6l.2 4.2l.2 .2l.2-.5l.3-.1l.2 .7l.2 .5l.2-1.6l.2 1.1l.2-.6l.2 1.1l.3-.8l.2-.5l.2-.6l.2 .8l.2-.4l.2 .7l.2-.5l.3-1.4l.2 .8l.2 1.9l.2-.4l.2-.3l.2-.5l.3 .8l.2-1.7l.2-.7l.2 .4l.2 1.2l.2 .9l.2-1.4l.3 1l.2-1.5l.2 2.1l.2-1.1l.2 .2l.2 .1l.2 .8l.3-.9l.2 .9l.2-.6l.2 .2l.2-.6l.2-.3l.3 1.2l.2-2.5l.2 1.6l.2 .2l.2-.3l.2-1l.2 .4l.3 1.7l.2-.2l.2-1.5l.2 .8l.2-2.8l.2 3l.2 .7h.3l.2-.3l.2 .2l.2 .2l.2-.1l.2-.1l.3 .2l.2-1.1l.2-.2l.2 1h.2l.2 .2l.2-1.4l.3 1.2l.2-1.2l.2 .5h.2l.2 .8l.2-1.1l.2 .7l.3-.2l.2 .2l.2-1l.2 1.1l.2 .5l.2-.2l.3 .1l.2-1.2l.2 1.1l.2-2l.2 .1l.2 1.9l.2-.5l.3 .1l.2-.3l.2-1.8l.2 2.6l.2-2.4l.2 1.8l.2 .2l.3-.1l.2-1l.2 .3l.2-.5l.2-.2l.2 1.3l.3-2.2l.2 1.3l.2 1.3l.2-.5l.2 .8l.2-1.7l.2 .5l.3 .4l.2 .8l.2-.4l.2-.4l.2-1.2l.2 .3l.3-1.3l.2 1.9l.2-.5l.2-.2l.2 1.7l.2-.4l.2-.4l.3 .8l.2-.2l.2 .2l.2-.5l.2-.6l.2 .6h.2l.3 .3l.2-1.2l.2 .9l.2 .2l.2-1.3l.2 1.1l.3-.2l.2-.4l.2 .8l.2-1.8l.2-1.1l.2 1.9l.2 1.2l.3-.8l.2-.1l.2 .8l.2-.5l.2 .7l.2-1.4l.2 .5l.3 1l.2-.9l.2 .7l.2-.2l.2-.4l.2 .4l.3-1.6l.2 .9l.2-2.2l.2 2.5l.2-1.5l.2 1.7l.2-.6l.3-.7l.2 .1l.2 .9l.2-.5l.2 1.4l.2-2.8l.2 2.2l.3 .6l.2-.7l.2-1l.2 1.1l.2-.3l.2-1.7l.3-.7l.2 3.1l.2-.9l.2-.6l.2 1.4l.2-.2l.2-.7l.3 .9l.2 .2l.2-.1l.2-1.7l.2 .8l.2 .4l.2-.4l.3 .4l.2-.1l.2 .4l.2-.4l.2 .1l.2 .6h.3l.2-3.1l.2 1.3l.2 .4l.2 .9l.2-.5l.2-1.4l.3 2.3l.2-.3l.2-.2l.2-.5l.2 .8l.2-.2l.2-.4l.3-.5l.2 1.5l.2-.2h.2l.2-.7l.2-.4l.3 .3l.2 .9l.2-.9l.2 .9l.2-.2l.2-.4l.2-1l.3-.2l.2 .7l.2-.4l.2 1.4l.2-.4l.2-.5l.2 .5l.3-.5l.2-.4l.2 1.5l.2-2.7l.2 1l.2 .6l.3-.9l.2 .7l.2 1.2l.2-1.5l.2 .2l.2 .6l.2-1.3l.3 2l.2-2.3l.2 1.9l.2-.1h.2l.2-1.8l.2 .8l.3 .7l.2 93.3l.2-.9l.2 .2l.2-92.7l.2 .1l.3 92.8l.2-.5l.2-.2l.2-92l.2 .5l.2 92.2l.2 .5l.3-1.8l.2-91.8l.2 .8l.2 91.9l.2 .4l.2-.3l.2-92.8l.3 .5l.2 93.2l.2-1.2h.2h.2l.2 .2l.3-2l.2 1.8l.2-.3l.2 .6l.2 .4l.2 .1l.2 .6l.3-2.1l.2-2.6l.2 4.6l.2-.1l.2-.7l.2-.9l.2-.6l.3 2.1l.2-.4l.2-.8l.2 .7h.2l.2 .4l.3 .3l.2-.5l.2-.8l.2 .7l.2-1l.2 1.1l.2 .4l.3-2l.2 1.1l.2 1l.2-1.3l.2 .1l.2 .9l.2-1.3l.3 1.5h.2h.2l.2-1.5l.2 1.1l.2 .1l.3-2.9l.2 2.5l.2-2.8l.2 1.8l.2 .4l.2 .6l.2-1.4l.3 2.3l.2 78.9l.2-.1l.2-.5l.2 .2l.2 .1l.2 .5l.3-.2l.2-1.1l.2 1.6l.2-.7l.2 .6l.2-.6l.3-.9l.2 1.4l.2-1.1l.2-.3l.2-78.5l.2-.1l.2 .6l.3-.2l.2-.3l.2-1.8l.2 1.6l.2 .5l.2-1.5l.2 1.9l.3-.5l.2-.4l.2-1.1l.2 .8l.2-1.7l.2 2.6l.3-1.3l.2 1.5l.2-1.4l.2 .2l.2 .5l.2-2.2l.2 2.8l.3-1.1l.2 1.1l.2-2.8l.2 1.7l.2 1.1l.2-4.1l.2 4.3l.3-1l.2 1l.2-1.1l.2 .8l.2-.7l.2 .2l.3-2.1l.2-.7l.2 3.5l.2-1.9l.2 1.9l.2-.2l.2-2" stroke="#ff0000"/>
<path d="M.2 198.2l.2-1l.2 1.5l.3-82l.2 .1l.2-.4l.2 .2l.2-2.1l.2 2.1l.3-.2l.2-.3l.2-2.1l.2 2.2l.2-.2l.2 .8l.2-.1l.3 .1l.2-1.3l.2 .7l.2-.2l.2 .4l.2-.8l.2 1.1l.3-.1h.2l.2-.1l.2 .1l.2 .1l.2-1.9l.3 1.5l.2-.3l.2 .7l.2-6l.2 .5l.2 5.7l.2-1.7l.3 .3l.2 .3l.2-.3l.2 .4l.2 .1l.2 .1l.2 .1l.3-1.5l.2 2.1l.2-.1l.2-1.2l.2 .8l.2 .4l.3-.3l.2 .2l.2-.3l.2 .3l.2-1.6l.2 1l.2 .7l.3-.1l.2-.6l.2 .5l.2-.2l.2 .5l.2-.3l.2-.3l.3 .5l.2-.2h.2l.2-.6l.2 .7l.2 .2l.3-.6l.2 .6l.2-.9l.2 .2l.2-.3l.2-.1l.2 .6l.3 .4l.2-1l.2 .6l.2-1l.2 .7l.2 .6l.2 .3l.3-.3l.2-1l.2 .9l.2-.1h.2l.2-.5l.3 .8h.2l.2-.2l.2-.2l.2 .1l.2 .4l.2-1l.3 1l.2-.5l.2-.1l.2 .3l.2-1l.2 1.2l.2-.3h.3l.2-.3l.2 .5l.2-.6l.2 .2l.2 .5l.3-2.3l.2 1.7l.2 .5l.2-.9l.2 .7l.2 .4l.2-.4l.3 .3l.2-1.1l.2 1.2l.2-.1l.2-1.2l.2 .1l.2 .3l.3 .8l.2 .1l.2-.5l.2 .3l.2-.6l.2 .3h.3l.2-.1l.2 .2l.2 .4l.2-1.8l.2 1.3l.2-.2l.3 .5l.2-.2l.2 .2h.2l.2-.8l.2-.1l.2-.6l.3 .2l.2 1.4l.2-.1l.2 .2l.2-1.6l.2 1.3l.3-.5l.2 .8l.2-.5l.2 .1l.2-1.6l.2 1.8l.2-.5l.3 .6l.2-.4l.2-.1l.2 .5l.2-.1l.2 .1l.2-.2l.3-1.2l.2 1.5l.2-.7h.2l.2-.7l.2 .3l.3 .3l.2 .5l.2-.3l.2 .4l.2-1l.2-.3l.2 .6l.3-.7l.2 .5l.2 .6l.2 .1l.2-.3l.2 .4l.2 .1l.3-.7l.2 .6l.2-1l.2 .6l.2-.3l.2 .8l.3 .1l.2-.1l.2 .2l.2-.2l.2-1.1l.2-.5l.2 1.8l.3-.7l.2 .4l.2 .1l.2-.7l.2 .3h.2l.2 .2l.3-1h.2l.2 1.2l.2-.1l.2 .1l.2-1l.3 1.2h.2l.2-.3h.2l.2-.6l.2 .2l.2 .5l.3-1.4l.2-.2l.2 .8l.2 .7h.2h.2l.2 .2l.3-.1l.2 .2l.2-1.4l.2 .6l.2 .6l.2-.5l.3-.4l.2 .7l.2 .4l.2-.9l.2 .8l.2-.7l.2 .1h.3l.2 .6h.2l.2-.4l.2 .5l.2-.1h.2l.3-.5l.2-.1l.2 .1l.2 .4l.2 .2l.2-.1l.3-1l.2 1h.2l.2-.7l.2 .5l.2 .3l.2-.5l.3-1.5l.2 1.8l.2-.2l.2-.4l.2 .3l.2-.1l.2-.9l.3 .8l.2-.1l.2 .1l.2-.2l.2 .1l.2 .4l.3-.4l.2 .3l.2-.1l.2 .5l.2-.5l.2 .6h.2l.3-.2h.2l.2-.6l.2-.1l.2 .6l.2-.1l.2-.5l.3 .5l.2-1.3l.2 1.3l.2-.7l.2 .4l.2-.3l.3 .3h.2l.2 .3l.2-4.4l.2 3.3l.2 .5l.2 1l.3-.8l.2 .6l.2-.1l.2-1.3l.2 1.2l.2-.5l.3 .7l.2-.6l.2 .6l.2 .2l.2-.2l.2 .2l.2-1.1l.3 .2l.2 .9l.2-.4l.2 .4l.2-.3l.2-.2l.2 .5l.3-1.5l.2 .2l.2 .3l.2 .9l.2-1.2l.2 .7l.3 .3l.2-.4l.2 .1l.2 .5l.2-.3l.2-.4l.2 .7l.3-.4l.2 .1l.2 .2l.2-1.3l.2 1.2l.2-1.1l.2 1.4l.3-.9l.2 .2l.2 .5l.2 .1l.2-.7l.2-.3l.3 .9l.2-.7h.2l.2 .4l.2-.1h.2l.2 .4l.3 .1l.2-1.1l.2 .6l.2-.7l.2 .5l.2-.3l.2 .4l.3 .8l.2-.2l.2-.2l.2-.1l.2 .1l.2 .4l.3-.8l.2-1l.2 .7l.2 1h.2l.2-.5l.2 .5l.3-.6l.2 .4l.2 .2l.2-1.3l.2 .6l.2-.2l.2 .1l.3-.4l.2 .8l.2-.2l.2 .3l.2-.9l.2 .7l.3-.2l.2-.1h.2l.2 .1l.2 .1h.2l.2-.1l.3 .6h.2l.2-.3l.2 .1l.2 .3l.2-.2l.2-.8l.3 .7l.2 .1l.2-.5l.2-1l.2 1.2h.2l.3 .4l.2-.2l.2-.9h.2l.2 .9l.2-1.7l.2 1.7l.3-.4l.2-.3l.2 .9l.2 .1l.2 .1l.2-.8l.2-.2l.3-.1l.2 .5h.2l.2 .5l.2-1.1l.2 .1l.3 1l.2 .1l.2-1.6l.2 .5l.2 .8l.2 .1h.2h.3l.2-.6l.2 .7l.2-.5l.2-.2h.2h.2l.3 .2l.2 .3l.2-.3l.2-.3l.2 .8l.2-.7l.3 .7l.2-.5l.2-1l.2 .9l.2 .6l.2-93.1l.2 .1l.3-1.1l.2 .5l.2 .8l.2-.6l.2 .7l.2-.3l.2-.2l.3 .5l.2-.3l.2-.5h.2l.2 .1l.2 .5l.3-1.5l.2 1.7l.2-1.8l.2 .6l.2 .5l.2 .5l.2-.3l.3-.1l.2-1.4l.2 1.9l.2-1.4l.2 1.2l.2-.7l.2-.3l.3 .2l.2 .5l.2-.7l.2 .9l.2 .1l.2 .3l.3-1.3l.2 .6l.2 .6l.2-1.2l.2 1.1l.2-1.3l.2 .4l.3 .4h.2l.2 .4l.2-.5l.2-.2l.2-.8l.2 .4l.3-1.2l.2 1.6l.2 .3l.2-.4l.2 .8l.2 .2l.3-.9l.2-.3l.2-.2l.2 1.3l.2-.6l.2-.3l.2 .9l.3-.1l.2-1.9l.2 2l.2-.4l.2-.3l.2 .6l.2 .2l.3-1.5l.2 1.2l.2 .2l.2-.7h.2l.2 .9l.3-1.2l.2 .3l.2 .5l.2 .3h.2l.2-.9l.2 .6l.3-.1l.2-.6l.2 .4l.2-.5l.2 1l.2-.4l.2 .4l.3-.6l.2 .6l.2-.5l.2 .5l.2-.7l.2 .4l.3-.4l.2 .3l.2 .1l.2-.5l.2 .8l.2 .1l.2-1.3l.3 .6h.2l.2 .3l.2-.1l.2 .5l.2-1.3l.2-.3l.3 1.4l.2 .2l.2-.8l.2 .7l.2-.2l.2-1.1l.3 .9l.2-.3l.2 .1l.2 .5l.2-1.9l.2 2l.2-.4l.3-.3l.2-.1l.2 .6l.2 .1l.2-.4l.2-.1l.2 .4l.3-.2h.2l.2-.8l.2-.2l.2 .7l.2 .8l.3-.2l.2 .2l.2-.2l.2-1.1l.2 1l.2-.4l.2-.1l.3-1l.2 1.7l.2-.6l.2 .4l.2-2.3l.2 1.6l.2 .6l.3 .5l.2-.9l.2-.1l.2 .1l.2 .7l.2 .1l.3-.7l.2-.4l.2 1.2l.2-.1l.2-.4l.2 .1l.2-.9l.3 .7l.2 .5l.2-.6l.2 .5l.2-.2h.2l.3-.2l.2 .2l.2 .4l.2-.8l.2 .4l.2-1.3l.2 1.6l.3-.1l.2 .2l.2-.8l.2-.9l.2 1.4h.2l.2-.5l.3 .7l.2-.2l.2-1.8l.2 .9l.2-.2l.2 .7l.3 .5l.2-1.3l.2 1.5l.2-1.6l.2 .4l.2 .5l.2-.1l.3 .7l.2-1.7l.2 1.7l.2-1.4l.2 .7l.2 .6h.2l.3-.2l.2 .1l.2-.3l.2 .2l.2-.5l.2 .6l.3-.5l.2 .2l.2-.2l.2 .8l.2-1l.2 .6l.2-.7l.3 .8l.2 .2l.2-.9l.2-.1l.2 .4l.2-.4l.2 .9h.3l.2-.1l.2-.3l.2 .4l.2 .2l.2-.7l.3 .1l.2-.8l.2 1.4l.2-.3l.2-.7l.2 .3l.2 .6l.3-.4l.2-1.4l.2 1.9l.2-.8l.2-.3l.2 1.1l.2-1.6l.3 1.1l.2-.8l.2 1l.2-1.3l.2 .9l.2-.1l.3-.9l.2 1.3h.2l.2-.9l.2 1l.2-1.2l.2 1.4h.3l.2-1.3l.2 1.4l.2-.3l.2-.5l.2 .6l.2-.7h.3l.2 .6l.2-.2l.2-.8l.2 1l.2-.3l.3-.8l.2 1.1l.2-.5l.2 .3l.2-.5l.2 .9l.2-.6l.3 .1l.2-.6l.2 1l.2 .1l.2-1l.2-.1l.2 .3l.3-.3l.2 1.2l.2-.5l.2-.5l.2 .9l.2-.6l.3-.2l.2 .5l.2-.1l.2 .3l.2-.8l.2 .2l.2 .3l.3-.4l.2 .8l.2-.3h.2l.2 .2l.2-.6l.2 .4l.3 .3l.2-.3l.2 .3l.2-.6l.2 .2h.2l.3-.9l.2 .9l.2 .2l.2 .1h.2l.2-.1l.2-.5h.3l.2-.4l.2 .9l.2-.5l.2 .2l.2 .3l.2-.5l.3-.1l.2-.3l.2 .9l.2-.5l.2 .7l.2-.2l.3-.1l.2 .1h.2l.2-.8l.2 .6l.2-.4l.2 .8l.3-.2h.2l.2 .1h.2l.2-.7l.2 .7l.2-.1l.3-.2l.2 .3l.2-.3h.2l.2 .5l.2-.5l.3 .3l.2-.2l.2-.1l.2-1.2l.2 1.2l.2 .2l.2-.9l.3-.1l.2 .5l.2 .4l.2-.4l.2-.9l.2 1.2l.2-.5l.3 .9l.2-.6l.2-.1l.2 .6l.2-1.8l.2 1.6l.3-.4l.2 .8l.2-.9l.2 .8l.2-.4l.2 .3h.2l.3 .1l.2-.3M177.2 23.7l.2 93.1M177.6 23.1h5h-5l-.2 93.7M177.6 23.1l.2 .8l.2-.3l.2-.6l.3 .6l.2-.2l.2-.1l.2 .2l.2 .1l.2-1l.3 1.4l.2-.4l.2-.1l.2 .5l.2-.2l.2-.2l.2 .4l.3-1.3l.2 .2l.2 1l.2-.4l.2 .5l.2-.2l.2 .2l.3-.2l.2-1.8l.2 2.1h.2l.2-.2l.2-1.4l.3 1.1l.2-1l.2 .9l.2 .3l.2-1.7l.2 1.8l.2-.3l.3-.6l.2-.2l.2 .4l.2 .7l.2-.4l.2-.9l.2 .3h.3l.2 .3l.2 .4l.2 .4l.2-1.3l.2 .8l.3-.1l.2-.2l.2-.6l.2 1.4l.2-.9l.2 .6l.2 .2l.3-.9l.2 1.1l.2-.3l.2-.6l.2 .8l.2-1.1l.2 .9l.3-.3l.2 .3l.2-.9l.2 .9l.2-1l.2 1l.3-.8l.2 .3l.2-.1l.2 .4l.2 .3l.2-1.1l.2 .7l.3 .5l.2-1.4l.2 1.4l.2-.4l.2 .2l.2-.7l.3 .7l.2 .2l.2-.1l.2-3.2l.2 2.7l.2 .2l.2 .1l.3-.8l.2-.6l.2 1.2l.2-.2l.2 .4l.2 .4l.2-.3l.3 .1l.2 .2l.2-.5l.2 .2l.2-.4l.2-.5l.3 1l.2-.1l.2-.3l.2-.7l.2 .8l.2 .1l.2 .3l.3-.4h.2l.2-.9l.2-1.3l.2 2.1l.2-.1l.2-.8l.3 .1l.2 .7l.2 .5l.2-1.2l.2 .3l.2 .5l.3-.1l.2-.1l.2 .6l.2-.6l.2 .6l.2-.9l.2 .6l.3-1.9l.2 2.4l.2-.2l.2-.1l.2-.4l.2-.3l.2 .1l.3 .6l.2-.1l.2-.7l.2 .4l.2 .6l.2-.3l.3-1.6l.2 1.1l.2-.7l.2 1l.2-.1l.2-.2l.2 .4l.3-.6l.2 .9l.2-.9l.2-.2l.2 1.1l.2-.9h.2l.3 .5l.2-.2l.2-.1l.2 .1l.2 .3l.2 93l.3 .2l.2-.1l.2 .1l.2-.1l.2-1.6l.2 1.1l.2 .1l.3-.1l.2 .4l.2 .2l.2-2.6l.2 1.1l.2 1.3h.2l.3-.4l.2-.4l.2 1h.2l.2-.4l.2 .2l.3 .2l.2-.5l.2-93.2l.2-.3l.2-.2l.2 .4l.2 .8l.3-.2l.2-.8l.2 1.3l.2-1l.2 .8l.2-.8l.2 .9l.3-2.3l.2 1.1l.2 1.2l.2-.1l.2-.5l.2 .2l.3-.5l.2 .8l.2-.1h.2h.2l.2-.1l.2-.2l.3 .1l.2-.4l.2-.4l.2 .9l.2 .3l.2-.9l.2 .7l.3-.1l.2-.7l.2 .9l.2-1l.2 .4l.2 .6h.3l.2-2l.2 2.2l.2-.1l.2-1.8l.2 .9l.2 .4l.3-.8l.2-.5l.2-.2l.2 1.1l.2 .4l.2 .2l.2 .3l.3-.2h.2l.2 .1l.2-.9l.2 .6l.2-.3l.3 .2l.2 .4l.2-1.3l.2 .5l.2 .3l.2 .6h.2l.3-1.1l.2 .9l.2-1.2l.2 .6l.2 .6l.2 .1l.2 .2l.3-1l.2 .2l.2-1.1l.2 .8l.2 1h.2l.3-1.1l.2 .1l.2 .4l.2 .4l.2-.9l.2 1.2l.2-.5l.3-.8l.2 .3l.2-.5l.2 .8l.2 .1l.2-.1l.2 .6l.3-.1l.2 .2l.2-.6l.2-.1l.2-1.1l.2 1.7l.3-.5l.2-1.4l.2-2.9h.2l.2 4.2l.2-.7l.2-.8l.3 .8l.2 .8l.2 .5h.2l.2-.3l.2-.8l.2 .1l.3-.1h.2l.2 .6l.2 .3l.2-.4h.2l.3-.5l.2-.9l.2 1.2l.2 .3l.2 .4l.2-.2l.2-1l.3 .6l.2-.2l.2 .3l.2-.3l.2 .3l.2-.7l.2 1.2l.3-.2h.2h.2l.2-.8l.2 .9l.2-.2l.3-.2l.2-.3l.2 .7l.2-.6l.2 .7l.2-.6l.2 .7l.3-.5l.2 .3l.2-.4l.2-1l.2 1.4l.2-.6l.2-.7l.3 .3l.2 1l.2-.5l.2 .4l.2-1.4l.2 1.2l.3 .4l.2-.1l.2-.2l.2 .2l.2-.3l.2 .2l.2 .3l.3-1.6l.2 1.4l.2 .2h.2h.2h.2l.2-.4l.3 .1l.2-.6l.2 1h.2l.2-1.4l.2 1.4l.3-1l.2 .8l.2-1l.2 1.1l.2-.7l.2 .2l.2-1.1l.3 1.2l.2 .3l.2-1.8l.2 1.9l.2-.3l.2-.6l.3 .3l.2-.3l.2 .8l.2-.1l.2-.4l.2 .4l.2 .2l.3-.5l.2 .3l.2-1l.2-.2l.2 .9l.2-.5l.2 .7l.3-.5l.2 .3l.2-.7l.2 .6l.2-.2l.2 .6l.3 .1l.2 .1l.2-1.1l.2 92.9l.2 .4l.2-.8l.2 .5l.3 .4l.2 .5l.2-.5l.2 .1l.2 .4l.2-.3h.2l.3-.2l.2-.3l.2-1.1l.2 1.6l.2-.1l.2 .5l.3-1l.2-92.4l.2-.1l.2 .6l.2-.3l.2 .1l.2-1.4l.3 1.6l.2-.3l.2-.8l.2 1l.2-.9l.2 .4l.2 .4l.3-1.1l.2 .3l.2 .5l.2 .4h.2l.2 .1l.3-.4l.2-.2l.2 .3l.2-.2h.2l.2-.7l.2 1.2l.3-.5l.2 .5l.2-.1l.2-.1l.2-.6l.2 .9l.2-.3h.3l.2-.3l.2 .1l.2-.6l.2 .9l.2 .2l.3-1.3l.2 .2l.2 .7h.2l.2-.5l.2 .8l.2-1.2l.3 .6l.2 .6l.2 .1l.2-1.2l.2 .7M278 23.6l.2 92.9M278.4 23.3h4.5h-4.5l-.2 93.2M278.4 23.3l.3-.3l.2 .3l.2 .8l.2-.3l.2 .1l.2-.3l.3-.2l.2-1.8l.2 2.2h.2l.2 .3l.2-.2l.2-1.3l.3 1.4l.2-1.2l.2 .9l.2 .2h.2l.2-1.5l.2 1.1l.3-1l.2 1.6l.2-.2l.2-.9l.2-.4l.2 1.3l.3-.8l.2 .6l.2-.5l.2 .9l.2-.2l.2 .1l.2-.4l.3-1.1l.2 1.4l.2-.2l.2-.4l.2-.6l.2 .7l.2 .7l.3-.7l.2-.2h.2l.2-.6l.2 1.1l.2 .3l.3-.5l.2-.4l.2 .9l.2-1.9l.2 1.2l.2-.1l.2 .7l.3-.4l.2-.1l.2-.7l.2 1l.2-.2l.2 .2l.2-.7l.3 .9l.2-.3l.2-.2l.2 .4l.2-.1l.2-.7l.3 .1l.2 .6l.2-.4l.2 .4l.2-.3l.2 .6l.2-.3h.3l.2 .3l.2 .1l.2-.5l.2-.5l.2 .8l.2-.4l.3 .4l.2-.3l.2 .4l.2-1.1l.2 .1h.2l.3 .4l.2-.3l.2 .5l.2-.4l.2 .7l.2-.3l.2-.8l.3 .2l.2 .2l.2 .5l.2-.3l.2 .6l.2-.1l.2-1.1l.3 .2l.2 .7l.2-1.1l.2 .8l.2 .6l.2-.3l.3-.6l.2 .8l.2-.4l.2 .4l.2-.6l.2-.2l.2 .5l.3 .1l.2-.9h.2l.2 1.1l.2-.4l.2-.4l.2 .6l.3 .1l.2-.4h.2l.2 .2l.2-.4l.2 .9l.3-1.2l.2 .6l.2-.7l.2 .7l.2 .5l.2-.1l.2-.3l.3-.4l.2 .8l.2-1.1l.2 1.1l.2-1.4l.2-.2l.2 1.4l.3-.2l.2-.1l.2 .1l.2 .2l.2 .1l.2-.2h.3l.2-.8l.2 1.2l.2-.8l.2 .7h.2l.2-.8l.3 .6l.2-.2l.2-.2h.2l.2 .3l.2-.3l.2-.5l.3 .7l.2 .2l.2-2.1l.2 2.3l.2-.8l.2-.1l.3 .2l.2 .3l.2 .4l.2-.2l.2-1.2l.2 .6l.2 .3l.3-.2l.2 .4l.2 .3h.2l.2-.7h.2l.2 .8h.3l.2-.5h.2l.2-.1l.2 .3l.2 .3h.3l.2-1.3l.2 .9l.2-1.9l.2 2.1l.2 .1l.2-1.3l.3 1.3l.2-.4l.2 .4h.2l.2-.9l.2 1l.2-.9l.3 .4h.2h.2l.2 .2l.2-.5l.2 .7h.3l.2-.3l.2-.3l.2 .6l.2-.1l.2-1l.2 .1l.3-.6l.2 .5l.2 .9l.2-1.4l.2 172.9l.2 1.1l.3-.3l.2-.1l.2 .1l.2-.4l.2-.2l.2-171.6l.2-.4l.3-1.8l.2 2l.2 .3l.2-.2l.2-.6l.2-.1l.2-.9l.3 1.3h.2l.2-.5l.2 .8l.2-.4l.2 .7l.3-.7l.2 .6l.2-1.2l.2 .3l.2 .9l.2-.6l.2-.3l.3-.5l.2 1.2h.2l.2 92.4l.2-.4l.2-.5h.2l.3 .1l.2 .5l.2 .6h.2l.2 .3l.2-.6l.3 .1l.2-2.5l.2 2.6l.2-92.9l.2-.1l.2-.1l.2 .3l.3-1.3l.2 1.4l.2 .4l.2-.4l.2-.7l.2 1l.2-.1l.3-.9l.2 .7l.2-.4l.2 .2l.2 .6l.2-.5l.3-.1l.2 .1l.2 .2l.2-.6l.2 .7l.2-.1l.2-.5l.3 .5l.2-.6l.2-.8l.2 1.1l.2 .4l.2-.4l.2-.1l.3 .1l.2 .4l.2-1.4l.2 .8l.2 .7l.2-.4l.3 .1l.2 .2l.2-1.1l.2 1.1l.2 .2l.2-.8l.2 .6l.3-.9l.2 .4l.2-1.3l.2 1.8l.2 .1l.2-.5h.2l.3-.4l.2-.3l.2 1.1l.2-.2l.2 .1l.2 .2l.3-.9l.2 1l.2-.2l.2-1.1l.2 .2l.2 .9h.2l.3 .2l.2-.7l.2-.3l.2-.3l.2 1.1l.2-1.1l.2 .9l.3 .4l.2-1.5l.2 1.4l.2-.4l.2-.8l.2 .9h.3l.2 .1h.2l.2-.9l.2-.2l.2 1.2l.2-.3l.3-.1l.2 .4l.2-.3l.2-1.1l.2 1.1M353.9 23.6l.2 172.4M354.3 23.9h5h-5l-.2 172.1M354.3 23.9l.3-.9l.2 .8l.2-.1l.2 .2h.2l.2-1.1l.3 1.3l.2-1.4l.2 .8l.2 .6l.2-2.2l.2 .7l.2 .6l.3 .5l.2 .4l.2-1.2l.2 1l.2 .1l.2-.1l.2-1l.3 .7l.2 .2l.2-.9l.2-.1l.2 .3l.2-.5l.3 .4l.2 .6l.2 93.1h.2l.2-.2l.2-.3l.2 .7l.3-1.7l.2 1.3h.2l.2 .2h.2l.2-.4l.2 .1l.3 .1l.2-1.2l.2 1.1l.2-.1l.2-.6l.2 1.1l.3-.6l.2 .6l.2-.1h.2l.2-93.1h.2l.2-.6l.3 .8l.2 .2l.2-.3l.2 .4l.2-1.1l.2 .4l.2 .6l.3-.3l.2-.8l.2 .2l.2 .9l.2-.5l.2 .2l.3 .4l.2-1.5l.2 .1l.2 .9l.2-.4l.2-.2l.2 .9l.3 .2l.2-1.2h.2l.2 1.1l.2-.5l.2 .1l.2 .2l.3-.9l.2 .8h.2l.2-.6l.2 .6l.2-.8h.3l.2-.1l.2-.1l.2 1.1l.2-.5l.2 .5l.2-.5l.3-.4l.2 .3l.2 .9l.2-.6h.2l.2 .2l.2 .2l.3-.2l.2-.1l.2 .5l.2-.2l.2-1.3l.2 .7l.3-1.8l.2 2.6h.2l.2-2.4l.2 2.3l.2-.4l.2-.2l.3 .3l.2-.3l.2 .5l.2-.2h.2l.2-.2M379.9 23.5l.2 92.6M380.4 23.9h4h-4l-.3 92.2M380.4 23.9l.2-.3l.2-.4l.2-1.3l.2 1.8l.2-.9l.3 .6h.2l.2 .1l.2 .1l.2 .1l.2-.8l.2 .3l.3-.7l.2 .7l.2 .3h.2l.2 .3l.2 .3l.2-.4l.3-.6l.2 .9l.2-.3l.2 .3h.2l.2 .1l.3-1l.2 .5l.2-.1l.2-.4l.2-.5l.2 .9l.2 .4l.3-.6l.2 .5l.2-.2l.2-1.5l.2 1.2l.2 .8h.3l.2-.8M389 23.3l.2 92.4M389.4 23.5h4.5h-4.5l-.2 92.2M389.4 23.5l.2 .5l.2-.1l.2-.5h.3l.2 .4l.2-.5l.2-.1l.2-1.5l.2 1l.2 .3l.3 1l.2-.4h.2l.2-.3l.2 .2l.2 .3l.3 .2l.2-.4l.2 .3l.2-1.3l.2 .5h.2l.2 1l.3-.5l.2-.2l.2-2.3l.2 2.7h.2l.2-.3l.2-.4l.3 .2l.2 .6l.2-.7l.2 .1l.2 .5l.2-.4l.3-.6l.2 .2l.2 .3l.2 .1l.2 92.3l.2 1.1l.2-.5l.3 .5l.2-.1l.2-.6l.2 .6l.2-94.2l.2 .9l.2 .5l.3-.2l.2 .3l.2-.8l.2-.3l.2-.8l.2 .5l.3 .3l.2 1l.2-.9l.2 .2l.2 .9l.2-.3l.2-.7h.3l.2 .8l.2-1.4l.2 .9l.2-.8l.2 .4l.2 .1l.3 .7h.2l.2-1l.2-.4l.2 1.3h.2l.3 .2l.2-1.4l.2 .5l.2 .5l.2 .2l.2 .4l.2-.7l.3 .5l.2-.6l.2 .5l.2 .2l.2-.5h.2l.2 .2l.3-.1l.2-.6l.2-.2l.2 1.2l.2-.3l.2 .2l.3-3.9l.2 3.5l.2-.2l.2 .3l.2 .1l.2-.1l.2-.3l.3-.7h.2l.2 1.4l.2-.6l.2-.5l.2 .7l.2 .2l.3-.4l.2 .1l.2-.1l.2-.9l.2 .6l.2 .8l.3-.2l.2-1l.2 .8l.2-.4l.2-.2l.2 .3l.2 .2l.3-.2l.2 .4l.2-.4l.2 .9l.2-.8l.2 .1l.2 .1l.3-.2l.2 .4l.2 .2l.2-.2l.2-.8l.2-.6l.3 1.6l.2-.2l.2 .1l.2-1.2l.2 1.4l.2-.4l.2-.1l.3 .1l.2 .4h.2l.2-1.7l.2 1.7l.2-.5l.2 .4l.3-.1h.2l.2-.4l.2-.7l.2-.7l.2 1.7h.3l.2 .3l.2-.4l.2-1.5l.2 .4l.2-.1l.2 .3l.3-.3l.2 1.5l.2-.1l.2-.8l.2-.3l.2 .5l.2 .8l.3-1.1l.2 .5l.2 .6l.2-.5l.2 .5l.2-.4l.3-.3l.2 .5l.2-1.1l.2 .3l.2 .2l.2 .1l.2 .7h.3l.2-.3h.2l.2-.4l.2 .4l.2-.4l.2 .4l.3 .2l.2-.2h.2l.2-.3l.2-.7l.2 1.2l.3 92.6h.2l.2 .2l.2-.3l.2-1l.2 .9l.2 .4l.3-1l.2-.1l.2 .8l.2-.5l.2 .3l.2-.3l.2 .5l.3-93.5l.2 1.2l.2-.2l.2-4l.2 3.9l.2 .1l.3-.3l.2 .4l.2-.8l.2 .7l.2-1.6l.2-.6l.2 2l.3 .1h.2l.2-.1l.2-.7h.2l.2 .5l.2-.1l.3 .2l.2-2.3l.2 2.6l.2-.9l.2 1.1h.2l.3-.2l.2-.2l.2-.7l.2 .7l.2-.6l.2 .8l.2-.1l.3-.2l.2-1.1l.2 1.2h.2l.2-.2l.2 .6l.2-.9l.3 .6l.2-.4l.2 .3l.2 .2l.2 .1l.2-.5l.3-.1l.2 .3l.2 .4l.2-.6l.2 .3l.2-.1h.2l.3-.4l.2 .6l.2-.2l.2-1.1l.2 1.1l.2 93.1l.2-.7l.3 .6l.2-.2l.2 .3l.2-1.5l.2 1.4l.2-1.1l.3 1.1l.2-.7l.2 .2l.2 .2l.2 .3l.2-.8l.2 .6h.3l.2-.7l.2 .5l.2 .1l.2 .1l.2-.2l.3-.3l.2 .4l.2-.6l.2 .6l.2-.4l.2 .5l.2-.4l.3 .5l.2 .1l.2-.7l.2-.6l.2 1.5l.2-.1l.2-.7l.3-.8l.2 1.3l.2-.6l.2 .1l.2 .3l.2-.2l.3 .4l.2-.6l.2-.4l.2 .9l.2-.2l.2 .3l.2-.3l.3-.1l.2 .5l.2-1.5l.2 1.5l.2-1.4l.2 1.1h.2l.3-.8l.2-.2l.2 .5l.2 .4l.2-1.4l.2 1.6l.3 .1l.2-.3l.2-.2l.2 .4l.2-.4l.2 .1l.2 .2l.3 .3l.2-1.1l.2-1.1l.2 1.8l.2-.4l.2-.8l.2 1.7l.3-.8l.2 .6l.2-.4l.2-1.5l.2 .9l.2 .7l.3-.3l.2-.4l.2 .5l.2 .3l.2-.7l.2 .1l.2 .3l.3 .4l.2 .2l.2-1.2l.2 1.3l.2-1.1l.2 .6l.2 .5l.3 .1l.2-1.8l.2 1.7l.2-1.3l.2 .5l.2-.2l.3 .2l.2 .7l.2-1l.2 .9l.2-93.9l.2 .3l.2 .1l.3-.6l.2 1.3l.2-.2l.2-1l.2 1.2l.2-.2l.2-.9l.3 1.1l.2 .1l.2-.3l.2 .4l.2-1.2l.2 .8l.3-.6l.2 .8l.2 .2l.2-.2l.2 .2l.2-.3l.2-1l.3 .3l.2 .9l.2 .2l.2-.3l.2-.7l.2-.1l.2 .3l.3 .2l.2 .1l.2 .2l.2-.2l.2-1.3l.2 .8l.3 .9h.2l.2-.4l.2-.8l.2 .5l.2 .2h.2l.3-.2l.2 .1l.2 .4l.2-.5l.2 .1l.2-.5l.2 .6l.3-.2l.2-.1l.2-.7l.2 1.5l.2-.7l.2-.5l.3 .6h.2l.2-.6l.2 .7l.2-1.9l.2 1.7h.2l.3 .6h.2l.2-.4l.2 .6l.2-.4l.2-.9l.2 1.2l.3-.5l.2-.6l.2-.1l.2 .9l.2-.2l.2 .3l.3 .3l.2-.4l.2-1.1l.2 .6h.2l.2 .8l.2-.9l.3 .9l.2-.3h.2l.2 .2l.2-.2l.2-.3l.2 .3l.3 .2l.2-.6l.2-.2l.2-1.1l.2 1.5l.2 .4l.3-.1l.2 .1l.2-.2l.2-1l.2 .7l.2 .7l.2-.5l.3 .3l.2-.7l.2 .7l.2-.1l.2-.5l.2 .5l.2-.5l.3 .4l.2 .4l.2-.2l.2-.3l.2-.1l.2 .1l.3-.6l.2 .9l.2-.3l.2 .1l.2 .3l.2-.2l.2 .2l.3 .1l.2-.6l.2 .4l.2-.8l.2 .6l.2-1l.2 .5l.3 .4l.2-.9l.2 1.4h.2l.2-.8l.2-2l.3 2.6l.2-2.1l.2 1.9l.2-.3l.2 .1h.2l.2 .2h.3l.2-.9l.2 .8l.2-1.2l.2 1.1l.2 .6l.2-.2l.3 .1l.2-1.1l.2 .6l.2-.1l.2-.5l.2 .6h.3l.2-.6l.2 .4l.2 .1l.2 .5l.2-.7l.2 .8l.3-1.5l.2 1.5l.2-.7l.2 .7l.2-.4h.2l.2-.1l.3 .3l.2 .1l.2-.4l.2-1.1l.2 .9l.2-.1l.3-.2l.2 .3l.2 .6l.2-.3l.2-.3l.2-.7l.2 1.1l.3-.7l.2-.3l.2 .3l.2 .5l.2 .3l.2-.7l.2 .7l.3 .1l.2-.4h.2l.2 .1l.2 .3l.2-.4l.3-.4l.2 .6l.2-.2h.2l.2-.1l.2 .4l.2-.7l.3 .8l.2-.2l.2-1.2l.2 .7l.2-.5l.2 .1h.2l.3 .1l.2-.1h.2l.2 .9l.2 .2l.2-.1l.3 .1l.2-.6l.2 .3l.2-.1h.2l.2 .1l.2-.5l.3 .4h.2l.2-.7l.2-.4l.2 .9l.2 .1l.3 .3l.2 .2l.2-1.2l.2 1.4l.2-.3l.2-.9l.2 .4l.3 .6l.2-.4l.2 .4l.2 .1l.2-.3l.2 .1l.2-.2l.3-.6l.2 .9l.2 .1l.2-1.2l.2 .8l.2-.5l.3 .5l.2 .3h.2l.2-.7l.2-.1l.2-.5l.2 .2l.3-.2l.2 .5l.2 .7l.2-1.5l.2 .6l.2-3.1l.2 2.6l.3 1.2l.2-.7l.2 .3l.2 .3l.2 .2l.2-.1l.3-.6l.2-.3l.2 1l.2-.1l.2 .2l.2-.3l.2 .2l.3-.4l.2 .5l.2-.9l.2 .6l.2-.1l.2-.2l.2 .6l.3-.2l.2-.4l.2 .6l.2 .2l.2-1l.2 .5l.3 .4l.2-.3l.2-.7l.2 .8l.2-.2l.2 .4l.2-.2l.3-.8l.2 .8l.2-.1l.2 .4l.2-1l.2 1.1l.2-.1l.3-.8l.2 .8l.2-.2l.2-.9l.2 .3l.2-.1l.3 .5l.2 .3l.2-1.1l.2 1.1l.2-1.4l.2 .1l.2 .8l.3 .2l.2-.7l.2 .8l.2-.2l.2 .3l.2-1l.2 .7l.3 .6l.2-.6l.2-.1l.2 .2l.2-.3l.2 .1l.3-.5l.2-.8l.2 .6l.2 1.2l.2-.3l.2-.1l.2 .1l.3 .4l.2-.7l.2 .3l.2-.1l.2 .2l.2 .4l.2-.5l.3-.5l.2 .8l.2-1.2l.2 .5l.2-.3l.2 .8l.3-.6l.2 .7l.2-.5l.2-.2l.2 .9l.2-.4l.2-.2l.3-.1l.2 .7l.2 .1l.2-.9l.2-.2l.2 1.1l.2-1.9l.3 1.3l.2 93.1l.2-.2l.2-1.6l.2-90.7l.2-.1l.3 91.9l.2 .4l.2-.3l.2-92.9l.2-.6l.2 93.6l.2-1.3l.3 1.8l.2-92.5l.2-.5l.2 93.1l.2-.7l.2-.6l.2-92.6l.3 .4l.2 91.7l.2 1l.2 .5l.2 .3l.2-.3l.3-.2l.2-.2l.2 .7l.2-.5l.2-.4l.2 1l.2-.4l.3-.7l.2 .5l.2 .4l.2-1l.2-.1l.2 .5l.2 .2l.3-.4l.2 .4l.2 .3h.2l.2-2.3l.2 2.2l.3 .4l.2-.5l.2 .1l.2-1.7l.2 1.8l.2-1.1l.2 .9h.3h.2h.2l.2-.6l.2 .8l.2 .2l.2-.6l.3-.8l.2 1.2l.2-.1l.2-.2l.2 .1l.2 .4h.3l.2-.1l.2-.7l.2 .6l.2-1.7l.2 1.6l.2-.6l.3 .1l.2 79.5l.2 .6l.2 .4l.2-.5l.2-.2l.2 .7l.3-.4h.2l.2 .1l.2 .3l.2-1.1l.2 .7l.3-.3l.2-.2l.2 .6l.2-.1l.2-79.4l.2-.4l.2 .4l.3-1.3l.2 .9l.2 .4l.2-.2l.2-.9l.2 .9l.2-.7l.3 1.1l.2-.7l.2 .1l.2 .2l.2-1.7l.2 1.9l.3 .1l.2-.7l.2 .5l.2 .3l.2-1.5l.2 1.3l.2-1.4l.3-.6l.2 1.4l.2 .6l.2-.1l.2 .1l.2-1.8l.2 .3l.3 .5l.2 .8l.2 .3l.2 .1l.2 .1l.2-.3l.3-.1l.2 .3l.2-.3l.2-1.1l.2 .4l.2 .9l.2-.2" stroke="#0000ff" stroke-dasharray="12.4 11.3"/>
</g>
<g font-size="23.60" fill="#000">
<g text-anchor="middle">
<text transform="translate(0.00,241.65) scale(1,1.070)">0</text>
<text transform="translate(107.51,241.65) scale(1,1.070)">500</text>
<text transform="translate(215.02,241.65) scale(1,1.070)">1000</text>
<text transform="translate(322.52,241.65) scale(1,1.070)">1500</text>
<text transform="translate(430.03,241.65) scale(1,1.070)">2000</text>
<text transform="translate(537.54,241.65) scale(1,1.070)">2500</text>
<text transform="translate(645.05,241.65) scale(1,1.070)">3000</text>
</g><g text-anchor="end">
<text transform="translate(-8.85,218.95) scale(1,1.070)">0.6</text>
<text transform="translate(-8.85,150.25) scale(1,1.070)">0.7</text>
<text transform="translate(-8.85,81.54) scale(1,1.070)">0.8</text>
<text transform="translate(-8.85,12.84) scale(1,1.070)">0.9</text>
</g></g>
<g font-size="26.10" fill="#000" text-anchor="middle">
<text x="321.82" y="274.35">sample</text>
<text transform="translate(-46.10,106.43) rotate(-90)">ERF</text>
</g>
<rect x="470.40" y="11.70" width="158.00" height="57.66" fill="#fff" stroke="#3c3c3c" stroke-width="1.20"/>
<path d="M476.50 27.30H536.50" stroke="#ff0000" stroke-width="4.20" fill="none"/>
<path d="M476.50 53.66H536.50" stroke="#0000ff" stroke-width="4.20" stroke-dasharray="12.4 11.3" fill="none"/>
<g font-size="21.20" fill="#000">
<text x="541.40" y="35.10">Actual</text>
<text x="541.40" y="61.46">Predicted</text>
</g>
</g>
<g transform="translate(91.00,938.50)">
<clipPath id="c6"><rect x="-2.3" y="-1.1" width="649.6" height="212.7"/></clipPath>
<path d="M0 0H645.05V209.35H0Z" fill="none" stroke="#1a1a1a" stroke-width="1.20"/>
<path d="M0.00 209.35v-7.00M0.00 0v7.00M107.51 209.35v-7.00M107.51 0v7.00M215.02 209.35v-7.00M215.02 0v7.00M322.52 209.35v-7.00M322.52 0v7.00M430.03 209.35v-7.00M430.03 0v7.00M537.54 209.35v-7.00M537.54 0v7.00M645.05 209.35v-7.00M645.05 0v7.00M0 209.35h7.00M645.05 209.35h-7.00M0 139.57h7.00M645.05 139.57h-7.00M0 69.78h7.00M645.05 69.78h-7.00M0 0.00h7.00M645.05 0.00h-7.00" fill="none" stroke="#1a1a1a" stroke-width="1.20"/>
<g clip-path="url(#c6)" fill="none" stroke-width="4.20" stroke-linejoin="round">
<path d="M.2 139.6l.2 34.9l.2-34.9l.3 34.9h.2l.2-104.7l.2 69.8l.2-104.7l.2 104.7l.3-104.7l.2 104.7l.2-104.7l.2 34.9l.2 69.8l.2-34.9l.2-34.9l.3 104.7l.2-69.8l.2-69.8l.2 104.7l.2-104.7l.2 34.9l.2-34.9l.3 104.7l.2 34.9l.2-139.6h.2l.2 104.7l.2 34.9h.3l.2-104.7l.2 69.8l.2-104.7l.2 69.8l.2 69.8l.2-104.7l.3 69.8l.2-104.7h.2l.2 69.8l.2-34.9h.2l.2-34.9h.3l.2 139.6l.2-34.9l.2-34.9l.2 34.9l.2-34.9l.3 69.8l.2-139.6l.2 69.8l.2 69.8l.2-104.7l.2 69.8l.2 34.9l.3-69.8l.2 69.8h.2l.2-139.6l.2 34.9l.2 104.7l.2-139.6l.3 139.6l.2-34.9l.2-104.7l.2 34.9l.2 69.8h.2h.3l.2 34.9l.2-139.6l.2 139.6l.2-34.9l.2-104.7l.2 104.7l.3-104.7l.2 139.6l.2-139.6h.2l.2 34.9l.2-34.9l.2 104.7l.3-104.7h.2l.2 69.8l.2 34.9l.2-69.8l.2 69.8l.3 34.9l.2-139.6l.2 104.7l.2-34.9l.2-69.8l.2 139.6h.2h.3l.2-69.8l.2 34.9l.2 34.9l.2-34.9l.2-104.7l.2 139.6l.3-34.9l.2-104.7l.2 69.8l.2 34.9h.2h.2l.3 34.9l.2-34.9h.2l.2-104.7l.2 104.7l.2-69.8l.2-34.9h.3l.2 104.7l.2-34.9l.2 34.9h.2l.2-34.9l.2-69.8h.3l.2 104.7l.2 34.9l.2-34.9l.2 34.9h.2l.3-139.6l.2 139.6l.2-104.7l.2 69.8l.2-104.7h.2l.2 139.6h.3l.2-139.6l.2 34.9l.2 69.8l.2-104.7h.2l.2 69.8l.3 34.9l.2 34.9l.2-34.9l.2 34.9l.2-104.7l.2 34.9l.3 69.8l.2-104.7l.2 104.7h.2l.2-104.7l.2 69.8l.2-104.7l.3 34.9h.2l.2 104.7l.2-139.6l.2 139.6l.2-104.7l.2-34.9h.3h.2l.2 104.7l.2-69.8l.2-34.9l.2 139.6l.3-139.6h.2l.2 104.7l.2-104.7l.2 104.7h.2l.2-69.8l.3 104.7l.2-139.6h.2l.2 104.7l.2-104.7l.2 139.6l.2-139.6l.3 104.7l.2-104.7l.2 104.7l.2-104.7l.2 139.6h.2l.3-139.6l.2 34.9l.2 34.9l.2 69.8h.2l.2-34.9l.2 34.9l.3-139.6h.2h.2l.2 34.9l.2 69.8l.2 34.9l.2-139.6l.3 139.6l.2-69.8l.2 34.9l.2-34.9l.2 69.8h.2l.3-69.8l.2 69.8l.2-69.8l.2 69.8l.2-34.9l.2 34.9l.2-69.8l.3 34.9l.2 34.9l.2-139.6l.2 69.8l.2-69.8l.2 104.7l.2 34.9l.3-34.9l.2 34.9l.2-69.8l.2-69.8l.2 69.8l.2 69.8l.3-34.9h.2h.2h.2l.2-104.7l.2 69.8l.2-34.9h.3h.2l.2-34.9l.2 104.7l.2-69.8l.2-34.9l.2 139.6l.3-104.7l.2 69.8l.2 34.9h.2l.2-139.6l.2 139.6l.3-104.7l.2 104.7l.2-34.9l.2 34.9l.2-69.8l.2-69.8l.2 139.6l.3-69.8l.2-69.8l.2 104.7h.2l.2-69.8l.2-34.9l.2 139.6l.3-104.7l.2 104.7h.2l.2-139.6l.2 139.6l.2-139.6h.3l.2 34.9h.2h.2l.2 69.8h.2l.2 34.9l.3-139.6h.2h.2l.2 139.6l.2-69.8l.2 69.8l.2-139.6h.3h.2l.2 34.9h.2l.2-34.9l.2 139.6l.3-69.8l.2 69.8l.2-34.9l.2 34.9l.2-139.6l.2 139.6l.2-139.6h.3l.2 104.7l.2-104.7l.2 139.6h.2h.2h.3h.2l.2-139.6l.2 139.6l.2-69.8l.2 34.9l.2 34.9l.3-34.9l.2 34.9l.2-139.6l.2 104.7l.2-34.9h.2l.2-34.9l.3 69.8h.2l.2 34.9l.2-139.6l.2 139.6l.2-34.9l.3-104.7l.2 69.8l.2-69.8h.2l.2 69.8l.2 69.8l.2-69.8l.3 34.9l.2-104.7l.2 69.8l.2-34.9l.2-34.9l.2 104.7l.2-104.7h.3l.2 139.6l.2-139.6h.2h.2l.2 104.7l.3 34.9h.2l.2-34.9l.2-104.7l.2 104.7l.2 34.9l.2-34.9l.3 34.9l.2-104.7l.2-34.9h.2l.2 139.6l.2-34.9l.2 34.9l.3-139.6h.2l.2 69.8l.2-69.8l.2 69.8l.2-69.8l.3 69.8l.2 34.9l.2-104.7h.2l.2 69.8l.2-69.8l.2 34.9l.3-34.9l.2 139.6h.2h.2l.2-69.8l.2-34.9l.2 104.7l.3-69.8l.2 69.8l.2-104.7l.2-34.9l.2 139.6l.2-139.6l.3 34.9l.2 104.7l.2-34.9l.2 34.9l.2-104.7l.2-34.9l.2 139.6h.3l.2-104.7l.2-34.9h.2l.2 104.7l.2 34.9l.2-104.7l.3 69.8l.2-104.7l.2 69.8l.2-69.8h.2l.2 34.9l.3-34.9l.2 104.7l.2 34.9l.2-139.6l.2 139.6l.2-139.6l.2 104.7l.3 34.9l.2-34.9l.2-69.8l.2 69.8l.2-69.8l.2 104.7l.2-139.6l.3 104.7l.2-104.7l.2 139.6l.2-104.7l.2 69.8h.2l.3-104.7l.2 139.6h.2l.2-34.9l.2 34.9h.2l.2-34.9h.3h.2h.2l.2 34.9h.2l.2-34.9l.2 34.9l.3-34.9h.2h.2h.2l.2 34.9h.2h.3l.2-34.9l.2-104.7l.2 139.6l.2-139.6l.2 104.7l.2-104.7l.3 69.8l.2 69.8l.2-34.9h.2h.2l.2-104.7l.2 104.7l.3-69.8l.2 104.7h.2l.2-139.6h.2l.2 69.8l.3 34.9h.2l.2-69.8l.2 69.8l.2-104.7l.2 34.9l.2 104.7l.3-139.6h.2l.2 139.6l.2-139.6l.2 139.6l.2-34.9l.2 34.9l.3-139.6l.2 139.6l.2-104.7l.2 34.9h.2h.2l.3-34.9l.2 69.8l.2-104.7h.2l.2 139.6l.2-139.6l.2 104.7l.3-69.8l.2-34.9l.2 139.6l.2-69.8l.2-69.8h.2l.2 139.6l.3-104.7l.2 104.7l.2-34.9l.2 34.9l.2-104.7l.2 69.8l.3 34.9l.2-104.7l.2 69.8h.2l.2-69.8l.2-34.9l.2 139.6h.3l.2-139.6l.2 104.7l.2 34.9l.2-34.9l.2-104.7h.2h.3l.2 69.8l.2 34.9l.2 34.9l.2-34.9l.2-69.8l.3-34.9l.2 139.6l.2-34.9l.2-104.7l.2 69.8l.2 69.8h.2h.3l.2-104.7l.2-34.9h.2l.2 139.6l.2-139.6h.2l.3 69.8l.2-69.8h.2l.2 104.7l.2-34.9l.2 34.9l.3-104.7l.2 104.7l.2-104.7l.2 69.8l.2 69.8l.2-139.6l.2 104.7l.3-34.9l.2 34.9l.2-104.7l.2 104.7l.2-104.7h.2l.2 69.8l.3 69.8h.2h.2l.2-139.6h.2h.2l.3 139.6l.2-34.9l.2-104.7l.2 34.9l.2-34.9l.2 104.7h.2l.3-34.9h.2h.2l.2 69.8l.2-104.7l.2 104.7l.2-34.9l.3-69.8l.2 104.7l.2-34.9l.2-34.9l.2 34.9h.2l.3-104.7h.2l.2 139.6l.2-34.9l.2-34.9l.2-69.8l.2 139.6h.3l.2-34.9l.2 34.9h.2l.2-139.6h.2l.2 69.8l.3-69.8l.2 139.6h.2l.2-69.8l.2 34.9l.2-34.9l.3 69.8l.2-139.6l.2 139.6l.2-139.6l.2 139.6l.2-139.6l.2 69.8l.3-69.8h.2h.2l.2 104.7l.2-69.8l.2 104.7l.3-34.9h.2l.2-34.9l.2-69.8l.2 139.6l.2-69.8l.2 69.8l.3-139.6h.2l.2 104.7l.2 34.9l.2-34.9h.2l.2-104.7l.3 139.6l.2-34.9l.2 34.9h.2l.2-139.6h.2l.3 104.7l.2 34.9l.2-34.9l.2 34.9l.2-104.7l.2-34.9l.2 34.9l.3-34.9h.2h.2l.2 139.6h.2l.2-34.9l.2-104.7h.3l.2 139.6l.2-34.9l.2-104.7h.2h.2l.3 34.9l.2-34.9l.2 139.6l.2-69.8l.2-69.8l.2 69.8l.2-69.8l.3 104.7l.2 34.9l.2-34.9l.2 34.9h.2h.2h.2h.3l.2-34.9h.2l.2 34.9l.2-34.9l.2 34.9h.3h.2l.2-34.9h.2l.2 34.9h.2l.2-139.6l.3 139.6l.2-34.9l.2-104.7l.2 34.9l.2 69.8l.2-69.8l.2 69.8h.3h.2h.2l.2 34.9l.2-139.6l.2 69.8l.3-34.9l.2 34.9h.2l.2-34.9l.2 104.7h.2l.2-69.8l.3 34.9l.2 34.9h.2l.2-34.9l.2-104.7h.2l.2 139.6l.3-34.9h.2l.2 34.9l.2-34.9l.2-104.7h.2l.3 104.7l.2-104.7l.2 139.6l.2-104.7l.2 104.7l.2-104.7l.2 34.9l.3-69.8l.2 69.8l.2-69.8l.2 139.6l.2-104.7l.2 104.7h.2l.3-139.6l.2 139.6l.2-34.9h.2l.2 34.9l.2-139.6h.3l.2 104.7l.2-34.9l.2-69.8l.2 139.6l.2-104.7l.2-34.9l.3 69.8h.2l.2 69.8h.2h.2l.2-34.9h.2l.3-104.7l.2 139.6h.2l.2-139.6l.2 104.7l.2 34.9l.3-139.6l.2 139.6l.2-34.9h.2l.2-34.9l.2 69.8l.2-139.6l.3 69.8l.2 34.9l.2-69.8l.2 69.8l.2-34.9h.2l.2 69.8l.3-139.6l.2 139.6l.2-139.6l.2 104.7l.2-34.9l.2 69.8l.3-69.8l.2 34.9l.2-34.9l.2-34.9l.2-34.9l.2 139.6h.2l.3-69.8l.2 69.8h.2l.2-34.9l.2 34.9h.2l.2-34.9h.3h.2l.2-34.9l.2 69.8l.2-34.9l.2 34.9l.3-34.9h.2l.2 34.9h.2l.2-139.6h.2l.2 139.6l.3-139.6l.2 34.9l.2-34.9l.2 139.6l.2-139.6l.2 104.7l.2-104.7l.3 174.4l.2-69.7l.2-34.9l.2 34.9l.2-34.9l.2 69.8h.3l.2-104.7l.2 69.8l.2-104.7l.2 104.7h.2h.2l.3-69.8l.2 69.8l.2-104.7l.2 139.6l.2-69.8l.2-69.8l.2 104.7l.3 34.9l.2-69.8l.2-69.8h.2h.2l.2 34.9l.3 104.7l.2-139.6l.2 139.6h.2l.2-69.8l.2 69.8h.2h.3l.2-139.6l.2 104.7l.2-104.7h.2l.2 139.6h.2h.3l.2-104.7h.2l.2 69.8l.2-104.7l.2 139.6h.3l.2-34.9l.2-69.8l.2-34.9h.2h.2h.2l.3 69.8l.2 34.9l.2 34.9l.2-69.8l.2-69.8h.2l.2 104.7l.3-69.8l.2-34.9h.2l.2 34.9l.2 34.9l.2-69.8h.3l.2 139.6l.2-139.6l.2 104.7l.2 34.9l.2-34.9l.2 34.9h.3l.2-139.6l.2 104.7l.2 34.9l.2-104.7l.2 104.7l.2-34.9h.3h.2l.2-104.7l.2 139.6l.2-139.6l.2 104.7h.3h.2l.2-104.7l.2 139.6l.2-34.9l.2 34.9h.2h.3l.2-104.7l.2-34.9l.2 104.7h.2l.2-104.7l.3 139.6l.2-34.9l.2-104.7l.2 139.6h.2l.2-69.8l.2 34.9l.3 34.9h.2l.2-139.6h.2l.2 139.6h.2l.2-69.8h.3l.2-69.8l.2 104.7l.2 34.9l.2-139.6l.2 139.6h.3h.2l.2-139.6h.2l.2 104.7l.2-69.8h.2l.3 69.8l.2-104.7l.2 104.7l.2-104.7l.2 139.6h.2h.2h.3l.2-139.6l.2 139.6l.2-104.7l.2 104.7l.2-139.6h.3l.2 34.9l.2-34.9l.2 139.6l.2-139.6l.2 139.6l.2-139.6l.3 139.6l.2-34.9l.2-34.9l.2 34.9l.2-104.7l.2 139.6l.2-139.6l.3 139.6l.2-139.6h.2l.2 139.6h.2h.2h.3h.2h.2l.2-69.8h.2l.2 69.8l.2-139.6l.3 69.8h.2l.2-69.8l.2 34.9l.2-34.9h.2l.2 104.7l.3-104.7l.2 34.9l.2 104.7l.2-34.9l.2-69.8h.2h.3l.2-34.9l.2 34.9l.2-34.9l.2 139.6l.2-139.6h.2h.3l.2 139.6l.2-69.8l.2-69.8h.2l.2 139.6h.2l.3-69.8l.2 69.8l.2-69.8l.2 69.8h.2l.2 34.8l.3-139.5l.2 104.7l.2-69.8l.2 34.9h.2l.2-104.7h.2l.3 139.6h.2l.2-139.6l.2 139.6l.2-139.6l.2 34.9l.2 34.9l.3-34.9l.2 69.8l.2-104.7h.2l.2 104.7l.2 34.9l.3-34.9h.2l.2-34.9l.2-69.8l.2 104.7l.2-104.7l.2 104.7h.3l.2-104.7l.2 34.9l.2-34.9l.2 34.9l.2 69.8l.2-104.7l.3 139.6h.2l.2-34.9l.2-104.7l.2 139.6l.2-139.6l.3 34.9h.2l.2 34.9l.2 69.8l.2-34.9l.2-104.7h.2l.3 104.7h.2h.2h.2h.2l.2 34.9l.2-139.6l.3 139.6h.2l.2-69.8l.2-69.8l.2 34.9l.2 104.7l.3-69.8l.2-69.8h.2l.2 139.6l.2-139.6h.2l.2 139.6l.3-139.6l.2 139.6h.2l.2-34.9l.2-104.7l.2 34.9l.2 104.7l.3-139.6l.2 104.7l.2-104.7l.2 69.8l.2-34.9l.2 34.9l.3-34.9l.2 34.9l.2-69.8l.2 69.8l.2-69.8l.2 69.8l.2 69.8l.3-69.8l.2-69.8l.2 104.7h.2l.2-69.8l.2 104.7h.2l.3-69.8l.2 69.8l.2-34.9h.2h.2h.2l.3-34.9l.2-69.8h.2l.2 104.7l.2-69.8l.2 69.8l.2 34.9l.3-34.9h.2h.2l.2-69.8l.2 34.9l.2 69.8l.2-69.8l.3-69.8l.2 139.6l.2-104.7l.2 69.8l.2-69.8l.2-34.9h.3h.2l.2 104.7l.2-104.7l.2 139.6l.2-139.6l.2 34.9l.3-34.9l.2 104.7l.2-104.7l.2 104.7l.2 34.9l.2-139.6l.2 139.6l.3-104.7h.2h.2h.2l.2-34.9l.2 34.9l.3 104.7l.2-69.8l.2-69.8h.2l.2 104.7l.2-34.9l.2-69.8h.3l.2 139.6l.2-34.9h.2l.2 34.9l.2-104.7h.2l.3 69.8l.2-34.9l.2-69.8l.2 104.7l.2 34.9l.2-34.9l.3-69.8l.2 104.7l.2-104.7h.2l.2 104.7l.2-69.8l.2 69.8l.3-69.8l.2 69.8h.2l.2-34.9l.2-69.8l.2-34.9h.2l.3 104.7l.2-34.9h.2h.2l.2 69.8h.2l.3-34.9l.2-104.7l.2 34.9l.2 104.7l.2-69.8h.2l.2 69.8l.3-104.7l.2-34.9h.2l.2 69.8l.2-69.8h.2l.3 104.7l.2-34.9l.2 69.8l.2-139.6h.2l.2 34.9l.2 69.8l.3-104.7l.2 104.7l.2 34.9l.2-34.9l.2 34.9l.2-139.6l.2 139.6l.3-139.6l.2 104.7l.2 34.9l.2-139.6l.2 104.7l.2 34.9l.3-104.7l.2 69.8h.2h.2l.2 34.9l.2-139.6l.2 139.6h.3l.2-34.9l.2-69.8l.2 69.8l.2-104.7h.2l.2 69.8l.3-69.8h.2l.2 139.6h.2l.2-139.6l.2 104.7l.3-104.7h.2l.2 34.9h.2h.2l.2-34.9l.2 34.9l.3 104.7h.2h.2l.2-139.6l.2 139.6h.2l.2-34.9h.3l.2-104.7h.2l.2 139.6l.2-34.9l.2-69.8l.3 69.8l.2-104.7h.2l.2 139.6l.2-34.9l.2-104.7h.2l.3 139.6h.2l.2-104.7l.2 69.8l.2 34.9l.2-104.7h.2l.3 104.7l.2-34.9l.2-34.9l.2 34.9l.2 34.9l.2-139.6l.3 139.6h.2l.2-34.9l.2 34.9h.2l.2-34.9l.2-34.9l.3-69.8l.2 139.6h.2l.2-69.8l.2 34.9l.2 34.9h.2l.3-104.7h.2l.2 104.7h.2h.2l.2-34.9l.3-104.7l.2 34.9l.2-34.9h.2l.2 104.7l.2 34.9h.2h.3l.2-139.6l.2 104.7l.2-104.7l.2 104.7l.2 34.9l.2-104.7l.3 104.7l.2-139.6l.2 69.8l.2 34.9h.2l.2-69.8l.3 69.8h.2l.2-104.7l.2 69.8l.2 69.8l.2-139.6l.2 104.7l.3 34.9h.2l.2-139.6l.2 139.6l.2-104.7l.2 104.7l.2-34.9l.3-34.9l.2 69.8h.2l.2-34.9l.2-69.8l.2 104.7l.3-34.9h.2l.2-69.8l.2 104.7h.2l.2-139.6h.2l.3 34.9l.2-34.9l.2 34.9l.2-34.9l.2 104.7l.2 34.9l.2-104.7l.3 104.7h.2h.2l.2-104.7l.2-34.9l.2 139.6l.3-34.9l.2-104.7h.2h.2l.2 139.6l.2-104.7l.2 104.7l.3-34.9h.2l.2 34.9l.2-34.9l.2 34.9l.2-139.6l.2 139.6l.3-34.9l.2 34.9l.2-69.8l.2 34.9l.2-104.7l.2 34.9l.3-34.9l.2 69.8l.2 69.8l.2-139.6l.2 139.6l.2-139.6l.2 34.9l.3 104.7l.2-139.6l.2 34.9l.2 34.9l.2 34.9l.2 34.9h.2h.3h.2h.2l.2-139.6l.2 104.7l.2-104.7l.3 69.8l.2 69.8h.2l.2-139.6l.2 139.6l.2-69.8l.2-34.9l.3 69.8l.2 34.9l.2-69.8l.2 34.9h.2l.2 34.9h.2l.3-34.9l.2 34.9l.2-104.7l.2 34.9l.2 34.9l.2-104.7l.3 34.9l.2-34.9h.2l.2 69.8l.2 34.9h.2l.2-34.9l.3 34.9l.2-104.7l.2 34.9l.2 34.9l.2 69.8l.2-139.6l.2 104.7l.3-69.8l.2-34.9l.2 104.7l.2-34.9l.2-34.9l.2 104.7l.3-104.7l.2 69.8h.2l.2-104.7l.2 139.6h.2l.2-69.8l.3 69.8l.2-139.6l.2 104.7l.2-104.7l.2 104.7l.2-104.7h.2h.3h.2h.2h.2l.2 34.9l.2-34.9l.3 139.6h.2l.2-139.6l.2 69.8l.2-34.9l.2 104.7h.2l.3-139.6l.2 139.6l.2-139.6h.2h.2l.2 139.6l.2-104.7l.3-34.9l.2 139.6l.2-34.9l.2 34.9l.2-139.6l.2 139.6l.3-139.6h.2h.2h.2h.2l.2 139.6l.2-139.6l.3 104.7l.2-104.7l.2 104.7h.2l.2-34.9l.2 34.9l.2-69.8l.3 69.8h.2l.2-34.9l.2-69.8l.2 104.7l.2-104.7l.3 34.9l.2 104.7h.2l.2-69.8l.2 34.9h.2l.2-34.9l.3 34.9h.2l.2-34.9l.2-69.8l.2 34.9l.2-34.9h.3l.2 104.7l.2 34.9l.2-104.7h.2l.2 104.7h.2l.3-139.6l.2 104.7l.2 34.9l.2-139.6h.2l.2 34.9l.2-34.9l.3 104.7h.2l.2-34.9l.2 69.8l.2-34.9l.2-69.8l.3 69.8l.2-69.8l.2-34.9h.2h.2l.2 104.7l.2-34.9l.3 34.9l.2 34.9h.2l.2-34.9l.2-104.7l.2 104.7h.2l.3 34.9h.2l.2-139.6h.2h.2l.2 69.8l.3 69.8l.2-69.8l.2 69.8l.2-34.9h.2l.2-69.8h.2l.3 69.8l.2-104.7h.2l.2 139.6h.2l.2-69.8l.2 69.8l.3-139.6l.2 139.6l.2-104.7l.2 104.7l.2-104.7l.2 69.8l.3 34.9l.2-34.9l.2 34.9l.2-104.7l.2-34.9l.2 104.7h.2l.3-34.9l.2-69.8l.2 139.6h.2h.2l.2-139.6l.2 104.7l.3-104.7h.2h.2l.2 104.7h.2h.2h.3l.2-104.7l.2 104.7l.2-104.7h.2l.2 139.6h.2l.3-104.7l.2 104.7h.2l.2-34.9h.2h.2l.2-34.9l.3-34.9l.2-34.9l.2 34.9l.2-34.9l.2 139.6l.2-104.7l.3 69.8l.2 34.9h.2l.2-139.6l.2 139.6h.2l.2-34.9l.3 34.9l.2-69.8h.2l.2 69.8l.2-69.8l.2-69.8l.2 69.8l.3-69.8h.2l.2 139.6l.2-69.8l.2 69.8h.2h.3l.2-139.6l.2 139.6l.2-139.6l.2 139.6l.2-104.7l.2 69.8l.3 34.9l.2-69.8l.2-34.9l.2 69.8h.2l.2 34.9l.2-104.7l.3 69.8l.2-104.7h.2l.2 34.9l.2-34.9h.2l.3 69.8h.2l.2 69.8l.2-69.8l.2 34.9l.2 34.9l.2-139.6l.3 139.6h.2l.2-34.9l.2-104.7l.2 104.7l.2-104.7l.2 34.9l.3 69.8h.2l.2-34.9l.2-69.8l.2 34.9l.2 104.7l.3-34.9l.2 34.9h.2l.2-104.7l.2 104.7l.2-34.9l.2-104.7l.3 139.6l.2-34.9h.2l.2-34.9l.2-69.8l.2 104.7h.2l.3-104.7l.2 69.8h.2l.2-69.8l.2 139.6l.2-34.9l.3-34.9l.2 34.9l.2 34.9l.2-34.9h.2l.2-69.8l.2-34.9l.3 104.7h.2l.2-34.9l.2-69.8h.2l.2 139.6l.2-139.6l.3 69.8l.2 69.8h.2h.2l.2-34.9h.2l.3-69.8l.2 104.7l.2-69.8h.2l.2-69.8l.2 69.8l.2 34.9l.3-34.9l.2-34.9l.2 104.7l.2-34.9l.2-69.8l.2 104.7h.2h.3l.2-139.6l.2 139.6l.2-34.9l.2-104.7h.2l.3 69.8h.2l.2 69.8l.2-69.8l.2 69.8l.2-139.6l.2 34.9l.3 34.9l.2-69.8l.2 69.8l.2-69.8l.2 104.7l.2-69.8h.2l.3-34.9h.2l.2 139.6h.2l.2-104.7l.2-34.9l.3 139.6l.2-34.9l.2-69.8l.2-34.9l.2 139.6h.2h.2l.3-34.9l.2-34.9l.2-69.8l.2 104.7h.2h.2h.2l.3 34.9h.2l.2-34.9l.2-104.7l.2 139.6l.2-139.6l.3 139.6h.2h.2l.2-139.6l.2 139.6h.2l.2-139.6l.3 139.6l.2-104.7l.2 69.8l.2-104.7l.2 104.7l.2-104.7l.2 69.8l.3 69.8l.2-34.9h.2l.2-34.9l.2-69.8l.2 139.6h.3l.2-69.8l.2 69.8h.2l.2-34.9l.2 34.9l.2-139.6h.3h.2l.2 34.9h.2l.2 104.7l.2-69.8l.3 34.9h.2l.2-69.8l.2 69.8l.2-34.9l.2 69.8h.2h.3h.2l.2-34.9l.2 34.9l.2-139.6l.2 104.7l.2-69.8l.3 104.7l.2-34.9h.2l.2-104.7l.2 104.7l.2 34.9l.3-104.7l.2-34.9l.2 139.6h.2h.2h.2h.2h.3h.2l.2-34.9h.2l.2 34.9l.2-34.9h.2l.3 34.9h.2h.2h.2l.2-34.9h.2h.3h.2l.2 34.9h.2l.2-34.9l.2-104.7l.2 34.9l.3 69.8l.2-104.7l.2 139.6l.2-104.7l.2 104.7l.2-104.7l.2 104.7l.3-34.9l.2-104.7l.2 69.8l.2-69.8l.2 139.6l.2-34.9l.3 34.9l.2-34.9l.2 34.9l.2-104.7l.2 69.8h.2h.2l.3-34.9l.2-69.8l.2 104.7l.2-104.7h.2l.2 104.7l.2-69.8l.3 104.7l.2-34.9h.2l.2-34.9l.2-69.8h.2l.3 34.9l.2 34.9l.2 34.9l.2 34.9h.2l.2-139.6l.2 104.7l.3 34.9h.2h.2h.2l.2-34.9l.2 34.9l.2-34.9l.3 34.9l.2-34.9h.2l.2 34.9l.2-34.9h.2l.3 34.9h.2h.2l.2-34.9l.2 34.9l.2-34.9h.2h.3h.2h.2l.2 34.9h.2h.2h.2h.3h.2l.2-34.9l.2 34.9h.2h.2h.3h.2l.2-34.9h.2l.2 34.9h.2h.2l.3-34.9l.2 34.9l.2-139.6l.2 69.8l.2 34.9l.2-104.7h.2l.3 104.7l.2-34.9l.2-34.9l.2 69.8l.2 34.9h.2l.3-34.9h.2h.2l.2-104.7l.2 139.6h.2h.2h.3l.2-69.8l.2 69.8h.2h.2l.2-104.7h.2l.3-34.9l.2 104.7l.2-34.9l.2-69.8l.2 34.9l.2-34.9h.3l.2 34.9h.2l.2 139.5l.2-69.7l.2-34.9l.2-34.9l.3 104.7h.2l.2-69.8l.2 34.9l.2 34.9l.2-104.7l.2 34.9l.3 34.9l.2-104.7h.2l.2 139.6l.2-139.6h.2l.3 139.6l.2-104.7l.2 104.7h.2l.2-34.9l.2-104.7h.2l.3 139.6l.2-139.6l.2 139.6l.2-34.9l.2-69.8l.2-34.9l.2 104.7l.3 34.9l.2-69.8l.2-69.8h.2l.2 69.8l.2 69.8l.3-34.9l.2 34.9h.2l.2-34.9l.2 34.9l.2-69.8h.2h.3l.2-69.8h.2l.2 69.8l.2 34.9l.2-104.7l.2 34.9l.3 69.8l.2-34.9l.2 69.8l.2-34.9l.2 34.9l.2-69.8l.3-34.9l.2 104.7l.2-69.8l.2 69.8l.2-139.6l.2 34.9l.2-34.9l.3 34.9l.2-34.9l.2 69.8l.2-69.8l.2 139.6l.2-139.6l.2 104.7h.3l.2-34.9h.2l.2 34.9l.2 34.9l.2-34.9l.3 34.9l.2-34.9l.2-104.7l.2 69.8l.2 69.8l.2-69.8l.2 69.8h.3l.2-69.8h.2l.2-34.9l.2 34.9h.2l.2 34.9l.3-69.8l.2 69.8h.2l.2-34.9l.2-69.8l.2 69.8l.3 69.8l.2-139.6l.2 139.6h.2l.2-69.8l.2 34.9l.2-104.7h.3l.2 104.7l.2-104.7l.2 104.7l.2-69.8l.2 104.7l.2-139.6h.3l.2 104.7l.2-34.9h.2l.2-69.8h.2l.3 139.6h.2l.2-139.6l.2 69.8l.2 69.8l.2-69.8l.2 69.8l.3-34.9l.2-34.9l.2-69.8h.2h.2l.2 104.7h.3l.2 34.9l.2-139.6l.2 34.9l.2-34.9l.2 139.6l.2-69.8h.3h.2l.2 69.8l.2-34.9l.2 34.9l.2-104.7l.2 69.8l.3-69.8l.2 34.9l.2-34.9l.2 104.7l.2-139.6l.2 104.7l.3-104.7l.2 69.8l.2-69.8l.2 34.9l.2-34.9h.2l.2 34.9l.3 104.7l.2-139.6l.2 69.8l.2 69.8l.2-34.9l.2 34.9l.2-69.8h.3l.2-69.8h.2l.2 69.8l.2 34.9h.2h.3l.2 34.9l.2-34.9l.2 34.9l.2-139.6l.2 139.6l.2-34.9h.3l.2 34.9l.2-34.9h.2h.2h.2h.2l.3 34.9h.2h.2h.2h.2l.2-34.9l.3 34.9h.2h.2l.2-34.9h.2l.2 34.9l.2-139.6h.3l.2 104.7h.2l.2 34.9h.2h.2l.2-34.9l.3-34.9l.2-69.8l.2 104.7l.2-104.7l.2 34.9l.2 69.8l.3-69.8l.2 69.8h.2l.2-34.9l.2 34.9l.2-69.8l.2-34.9l.3 104.7l.2 34.9l.2-34.9h.2h.2l.2 34.9l.2-34.9l.3-69.8l.2 69.8l.2-69.8l.2 69.8l.2 34.9h.2l.3-139.6l.2 139.6l.2-34.9l.2 34.9l.2-69.8l.2 69.8l.2-139.6l.3 139.6l.2-139.6h.2l.2 139.6h.2h.2l.2-34.9l.3 34.9l.2-34.9l.2 34.9h.2h.2l.2-34.9h.3h.2l.2 34.9l.2-34.9l.2 34.9h.2h.2l.3-34.9l.2 34.9h.2l.2-34.9h.2l.2 34.9h.2l.3-34.9l.2-104.7h.2l.2 34.9l.2 104.7h.2h.3h.2h.2l.2-139.6l.2 139.6l.2-69.8l.2 34.9h.3l.2-69.8l.2 104.7l.2-139.6l.2 104.7l.2 34.9h.2h.3l.2-34.9h.2h.2h.2h.2l.3 34.9l.2-34.9l.2 34.9h.2h.2l.2-34.9h.2l.3 34.9l.2-34.9h.2l.2-104.7l.2 104.7l.2 34.9l.2-139.6l.3 69.8l.2 69.8l.2-69.8l.2 69.8l.2-104.7h.2h.3l.2 104.7l.2-34.9l.2-69.8l.2 34.9l.2 69.8l.2-69.8l.3 34.9h.2l.2-104.7l.2 69.8l.2 69.8l.2-104.7h.2l.3 104.7l.2-34.9l.2 34.9h.2l.2-139.6l.2 139.6l.3-69.8l.2 34.9l.2-104.7l.2 34.9h.2l.2-34.9l.2 139.6l.3-139.6l.2 69.8h.2l.2 34.9l.2 34.9h.2l.2-104.7l.3 69.8h.2l.2-69.8h.2l.2 104.7l.2-69.8l.3-69.8l.2 34.9l.2-34.9l.2 139.6l.2-34.9l.2 34.9h.2h.3l.2-34.9h.2h.2l.2-34.9h.2l.2 69.8l.3-34.9l.2 34.9h.2h.2l.2-69.8l.2 69.8h.3h.2h.2l.2-34.9l.2 34.9h.2l.2-34.9h.3l.2 34.9h.2l.2-69.8l.2 69.8l.2-69.8l.2 34.9h.3l.2 34.9l.2-69.8l.2 69.8l.2-34.9h.2h.3h.2l.2 34.9h.2h.2l.2-139.6l.2 69.8h.3l.2 34.9l.2 34.9l.2-34.9l.2 34.9h.2l.2-69.8l.3-34.9l.2 69.8l.2 34.9l.2-34.9l.2 34.9h.2l.3-69.8l.2-69.8l.2 34.9l.2-34.9l.2 139.6l.2-104.7l.2-34.9l.3 104.7l.2 34.9l.2-104.7l.2-34.9l.2 69.8h.2l.2 34.9h.3l.2 34.9l.2-69.8l.2 69.8l.2-139.6l.2 139.6l.3-69.8l.2-69.8l.2 139.6h.2l.2-104.7l.2 69.8l.2-104.7l.3 69.8l.2-69.8h.2h.2l.2 34.9l.2 69.8h.3h.2l.2-34.9l.2 34.9l.2 34.9l.2-34.9h.2h.3l.2-104.7l.2 139.6h.2h.2l.2-139.6l.2 34.9h.3l.2 34.9l.2 34.9l.2-34.9l.2 69.8l.2-69.8l.3 34.9h.2l.2 34.9l.2-104.7l.2 69.8l.2 34.9h.2l.3-139.6l.2 34.9l.2 69.8l.2 34.9h.2l.2-34.9l.2-104.7l.3 104.7l.2 34.9l.2-69.8l.2 69.8l.2-104.7h.2l.3 104.7l.2-34.9l.2-104.7h.2l.2 139.6l.2-104.7l.2 69.8l.3 34.9h.2l.2-139.6l.2 104.7l.2-34.9l.2 34.9l.2 34.9l.3-69.8h.2l.2-34.9l.2 104.7l.2-34.9l.2 34.9l.3-139.6l.2 69.8l.2-34.9l.2 104.7l.2-69.8h.2l.2 69.8l.3-34.9h.2l.2-69.8l.2 104.7l.2-139.6h.2l.2 139.6l.3-69.8l.2-69.8l.2 104.7l.2 34.9l.2-34.9l.2 34.9l.3-34.9h.2h.2h.2h.2l.2 34.9h.2l.3-34.9h.2l.2 34.9h.2l.2-34.9h.2l.2 34.9h.3h.2l.2-34.9h.2l.2 34.9l.2-34.9h.3l.2 34.9l.2-34.9l.2-104.7l.2 104.7l.2-69.8l.2 69.8h.3l.2-34.9l.2-69.8l.2 104.7h.2l.2-104.7h.2h.3l.2 139.6l.2-34.9h.2l.2 34.9h.2l.3-34.9h.2l.2 34.9h.2l.2-34.9l.2 34.9l.2-34.9h.3h.2l.2 34.9l.2-34.9h.2l.2 34.9l.2-34.9h.3h.2h.2h.2l.2-104.7l.2 104.7l.3 34.9l.2-139.6l.2 139.6h.2l.2-34.9l.2 34.9h.2h.3l.2-139.6l.2 34.9h.2l.2 69.8l.2 34.9h.2l.3-139.6h.2l.2 34.9l.2 34.9l.2 69.8l.2-69.8l.3-69.8l.2 139.6h.2h.2l.2-34.9h.2l.2 34.9h.3h.2l.2-34.9h.2l.2 34.9h.2l.2-34.9h.3l.2 34.9h.2l.2-34.9l.2 34.9l.2-34.9l.3 34.9l.2-34.9h.2l.2 34.9l.2-139.6h.2l.2 69.8l.3 69.8l.2-139.6l.2 34.9l.2-34.9l.2 139.6h.2l.2-34.9h.3h.2h.2l.2 34.9h.2h.2h.3h.2l.2-34.9l.2 34.9l.2-34.9h.2l.2 34.9h.3h.2h.2l.2-34.9l.2 34.9l.2-34.9h.2h.3h.2l.2-104.7h.2h.2l.2 139.6l.3-139.6l.2 139.6l.2-104.7l.2 34.9l.2-69.8l.2 69.8l.2-69.8l.3 104.7l.2-34.9h.2l.2 34.9l.2-104.7l.2 139.6l.2-69.8l.3-34.9l.2 104.7l.2-69.8l.2-69.8l.2 139.6l.2-34.9h.3l.2-34.9l.2 69.8l.2-34.9l.2-104.7l.2 139.6l.2-34.9l.3 34.9l.2-139.6l.2 139.6l.2-69.8l.2-69.8l.2 139.6h.2l.3-34.9l.2 34.9l.2-34.9l.2 34.9h.2h.2h.3h.2h.2l.2-34.9l.2 34.9l.2-34.9l.2 34.9" stroke="#ff0000"/>
<path d="M.2 139.6l.2 34l.2-34l.3 34h.2l.2-103.8l.2 69.8l.2-103.7l.2 103.7l.3-103.7l.2 103.7l.2-103.7l.2 33.9l.2 69.8l.2-34.9l.2-34.9l.3 103.8l.2-68.9l.2-68.8l.2 103.7l.2-103.7l.2 33.9l.2-33.9l.3 103.7l.2 34l.2-137.7h.2l.2 103.7l.2 34h.3l.2-103.8l.2 69.8l.2-103.7l.2 68.8l.2 68.9l.2-103.8l.3 69.8l.2-103.7h.2l.2 68.8l.2-34.9h.2l.2-33.9h.3l.2 137.7l.2-34l.2-34.9l.2 34.9l.2-34.9l.3 68.9l.2-137.7l.2 68.8l.2 68.9l.2-103.8l.2 69.8l.2 34l.3-68.9l.2 68.9h.2l.2-137.7l.2 33.9l.2 103.8l.2-137.7l.3 137.7l.2-34l.2-103.7l.2 33.9l.2 69.8h.2h.3l.2 34l.2-137.7l.2 137.7l.2-34l.2-103.7l.2 103.7l.3-103.7l.2 137.7l.2-137.7h.2l.2 33.9l.2-33.9l.2 103.7l.3-103.7h.2l.2 68.8l.2 34.9l.2-69.8l.2 69.8l.3 34l.2-137.7l.2 103.7l.2-34.9l.2-68.8l.2 137.7h.2h.3l.2-68.9l.2 34.9l.2 34l.2-34l.2-103.7l.2 137.7l.3-34l.2-103.7l.2 68.8l.2 34.9h.2h.2l.3 34l.2-34h.2l.2-103.7l.2 103.7l.2-69.8l.2-33.9h.3l.2 103.7l.2-34.9l.2 34.9h.2l.2-34.9l.2-68.8h.3l.2 103.7l.2 34l.2-34l.2 34h.2l.3-137.7l.2 137.7l.2-103.8l.2 69.8l.2-103.7h.2l.2 137.7h.3l.2-137.7l.2 33.9l.2 69.8l.2-103.7h.2l.2 68.8l.3 34.9l.2 34l.2-34l.2 34l.2-103.8l.2-36.7h.3h.2l.2 140.5h.2l.2-103.8l.2 69.8l.2-103.7l.3 33.9h.2l.2 103.8l.2-137.7l.2 137.7l.2-103.8l.2-33.9h.3h.2l.2 103.7l.2-69.8l.2-33.9l.2 137.7l.3-137.7h.2l.2 103.7l.2-103.7l.2 103.7h.2l.2-69.8l.3 103.8l.2-137.7h.2l.2 103.7l.2-103.7l.2 137.7l.2-137.7l.3 103.7l.2-103.7l.2 103.7l.2-103.7l.2 137.7h.2l.3-137.7l.2 33.9l.2 34.9l.2 68.9h.2l.2-34l.2 34l.3-137.7h.2h.2l.2 33.9l.2 69.8l.2 34l.2-137.7l.3 137.7l.2-68.9l.2 34.9l.2-34.9l.2 68.9h.2l.3-68.9l.2 68.9l.2-68.9l.2 68.9l.2-34l.2 34l.2-68.9l.3 34.9l.2 34l.2-137.7l.2 68.8l.2-68.8l.2 103.7l.2 34l.3-34l.2 34l.2-68.9l.2-68.8l.2 68.8l.2 68.9l.3-34h.2h.2h.2l.2-103.7l.2 68.8l.2-34.9h.3h.2l.2-33.9l.2 103.7l.2-69.8l.2-33.9l.2 137.7l.3-103.8l.2 69.8l.2 34h.2l.2-137.7l.2 137.7l.3-103.8l.2 103.8l.2-34l.2 34l.2-68.9l.2-68.8l.2 137.7l.3-68.9l.2-68.8l.2 103.7h.2l.2-69.8l.2-33.9l.2 137.7l.3-103.8l.2 103.8h.2l.2-137.7l.2 137.7l.2-137.7h.3l.2 33.9h.2h.2l.2 69.8h.2l.2 34l.3-137.7h.2h.2l.2 137.7l.2-68.9l.2 68.9l.2-137.7h.3h.2l.2 33.9h.2l.2-33.9l.2 137.7l.3-68.9l.2 68.9l.2-34l.2 34l.2-137.7l.2 137.7l.2-137.7h.3l.2 103.7l.2-103.7l.2 137.7h.2h.2h.3h.2l.2-137.7l.2 137.7l.2-68.9l.2 34.9l.2 34l.3-34l.2 34l.2-137.7l.2 103.7l.2-34.9h.2l.2-34.9l.3 69.8h.2l.2 34l.2-137.7l.2 137.7l.2-34l.3-103.7l.2 68.8l.2-68.8h.2l.2 68.8l.2 68.9l.2-68.9l.3 34.9l.2-103.7l.2 68.8l.2-34.9l.2-33.9l.2 103.7l.2-103.7h.3l.2 137.7l.2-137.7h.2h.2l.2 103.7l.3 34h.2l.2-34l.2-103.7l.2 103.7l.2 34l.2-34l.3 34l.2-103.8l.2-33.9h.2l.2 137.7l.2-34l.2 34l.3-137.7h.2l.2 68.8l.2-68.8l.2 68.8l.2-68.8l.3 68.8l.2 34.9l.2-103.7h.2l.2 68.8l.2-68.8l.2 33.9l.3-33.9l.2 137.7h.2h.2l.2-68.9l.2-34.9l.2 103.8l.3-68.9l.2 68.9l.2-103.8l.2-33.9l.2 137.7l.2-137.7l.3 33.9l.2 103.8l.2-34l.2 34l.2-103.8l.2-33.9l.2 137.7h.3l.2-103.8l.2-33.9h.2l.2 103.7l.2 34l.2-103.8l.3 69.8l.2-103.7l.2 68.8l.2-68.8h.2l.2 33.9l.3-33.9l.2 103.7l.2 34l.2-137.7l.2 137.7l.2-137.7l.2 103.7l.3 34l.2-34l.2-69.8l.2 69.8l.2-69.8l.2 103.8l.2-137.7l.3 103.7l.2-103.7l.2 137.7l.2-103.8l.2 69.8h.2l.3-103.7l.2 137.7h.2l.2-34l.2 34h.2l.2-34h.3h.2h.2l.2 34h.2l.2-34l.2 34l.3-34h.2h.2h.2l.2 34h.2h.3l.2-34l.2-103.7l.2 137.7l.2-137.7l.2 103.7l.2-103.7l.3 68.8l.2 68.9l.2-34h.2h.2l.2-103.7l.2 103.7l.3-69.8l.2 103.8h.2l.2-137.7h.2l.2 68.8l.3 34.9h.2l.2-69.8l.2 69.8l.2-103.7l.2 33.9l.2 103.8l.3-137.7h.2l.2 137.7l.2-137.7l.2 137.7l.2-34l.2 34l.3-137.7l.2 137.7l.2-103.8l.2 34.9h.2h.2l.3-34.9l.2 69.8l.2-103.7h.2l.2 137.7l.2-137.7l.2 103.7l.3-69.8l.2-33.9l.2 137.7l.2-68.9l.2-68.8h.2l.2 137.7l.3-103.8l.2 103.8l.2-34l.2 34l.2-103.8l.2 69.8l.3 34l.2-103.8l.2 69.8h.2l.2-69.8l.2-33.9l.2 137.7h.3l.2-137.7l.2 103.7l.2 34l.2-34l.2-103.7h.2h.3l.2 68.8l.2 34.9l.2 34l.2-34l.2-69.8l.3-33.9l.2 137.7l.2-34l.2-103.7l.2 68.8l.2 68.9h.2h.3l.2-103.8l.2-33.9h.2l.2 137.7l.2-137.7h.2l.3 68.8l.2-68.8l.2-5.2h.2h.2l.2 108.9l.3-103.7l.2 103.7l.2-103.7l.2 68.8l.2 68.9l.2-137.7l.2 103.7l.3-34.9l.2 34.9l.2-103.7l.2 103.7l.2-103.7h.2l.2 68.8l.3 68.9h.2h.2l.2-137.7h.2h.2l.3 137.7l.2-34l.2-103.7l.2 33.9l.2-33.9l.2 103.7h.2l.3-34.9h.2h.2l.2 68.9l.2-103.8l.2 103.8l.2-153.7h.3h.2l.2 119.7l.2-34.9l.2 34.9h.2l.3-103.7h.2l.2 137.7l.2-34l.2-34.9l.2-68.8l.2 137.7h.3l.2-34l.2 34h.2l.2-137.7h.2l.2 68.8l.3-68.8l.2 137.7h.2l.2-68.9l.2 34.9l.2-34.9l.3 68.9l.2-137.7l.2 137.7l.2-137.7l.2 137.7l.2-137.7l.2 68.8l.3-68.8h.2h.2l.2 103.7l.2-69.8l.2 103.8l.3-34h.2l.2-34.9l.2-68.8l.2 137.7l.2-68.9l.2 68.9l.3-137.7h.2l.2 103.7l.2 34l.2-34h.2l.2-103.7l.3 137.7l.2-34l.2 34h.2l.2-137.7h.2l.3 103.7l.2 34l.2-34l.2 34l.2-103.8l.2-33.9l.2 33.9l.3-33.9h.2h.2l.2 137.7h.2l.2-34l.2-103.7h.3l.2 137.7l.2-34l.2-103.7h.2h.2l.3 33.9l.2-33.9l.2 137.7l.2-68.9l.2-68.8l.2 68.8l.2-68.8l.3 103.7l.2 34l.2-34l.2 34h.2h.2h.2h.3l.2-34h.2l.2 34l.2-34l.2 34h.3h.2l.2-34h.2l.2 34h.2l.2-137.7l.3 137.7l.2-34l.2-103.7l.2 33.9l.2 69.8l.2-69.8l.2 69.8h.3h.2h.2l.2 34l.2-137.7l.2 68.8l.3-34.9l.2 34.9h.2l.2-34.9l.2 103.8h.2l.2-68.9l.3 34.9l.2 34h.2l.2-34l.2-103.7h.2l.2 137.7l.3-34h.2l.2 34l.2-34l.2-103.7h.2l.3 103.7l.2-103.7l.2 137.7l.2-103.8l.2 103.8l.2-103.8l.2 34.9l.3-68.8l.2 68.8l.2-68.8l.2 137.7l.2-103.8l.2 103.8h.2l.3-137.7l.2 137.7l.2-34h.2l.2 34l.2-137.7h.3l.2 103.7l.2-34.9l.2-68.8l.2 137.7l.2-103.8l.2-33.9l.3 68.8h.2l.2 68.9h.2l.2-151.6h.2h.2l.3 13.9l.2 137.7h.2l.2-137.7l.2 103.7l.2 34l.3-137.7l.2 137.7l.2-34h.2l.2-34.9l.2 68.9l.2-137.7l.3 68.8l.2 34.9l.2-69.8l.2 69.8l.2-34.9h.2l.2 68.9l.3-137.7l.2 137.7l.2-137.7l.2 103.7l.2-34.9l.2 68.9l.3-68.9l.2 34.9l.2-34.9l.2-34.9l.2-33.9l.2 137.7h.2l.3-68.9l.2 68.9h.2l.2-34l.2 34h.2l.2-34h.3h.2l.2-34.9l.2 68.9l.2-34l.2 34l.3-34h.2l.2 34h.2l.2-137.7h.2l.2 137.7l.3-137.7l.2 33.9l.2-33.9l.2 137.7l.2-137.7l.2 103.7l.2-103.7l.3 173.4l.2-69.7l.2-34.9l.2 34.9l.2-34.9l.2 68.9h.3l.2-103.8l.2 69.8l.2-103.7l.2 103.7h.2h.2l.3-69.8l.2 69.8l.2-103.7l.2 137.7l.2-68.9l.2-68.8l.2 103.7l.3 34l.2-68.9l.2-68.8h.2h.2l.2 33.9l.3 103.8l.2-137.7l.2 137.7h.2l.2-68.9l.2 68.9h.2h.3l.2-137.7l.2 103.7l.2-103.7h.2l.2 137.7h.2h.3l.2-103.8h.2l.2 69.8l.2-103.7l.2 137.7h.3l.2-34l.2-69.8l.2-33.9h.2h.2h.2l.3 68.8l.2 34.9l.2 34l.2-68.9l.2-68.8h.2l.2 103.7l.3-69.8l.2-33.9h.2l.2 33.9l.2 34.9l.2-75h.3h.2l.2 6.2l.2 103.7l.2 34l.2-34l.2 34h.3l.2-137.7l.2 103.7l.2 34l.2-103.8l.2 103.8l.2-34h.3h.2l.2-103.7l.2 137.7l.2-137.7l.2 103.7h.3h.2l.2-103.7l.2 137.7l.2-34l.2 34h.2h.3l.2-103.8l.2-33.9l.2 103.7h.2l.2-103.7l.3 137.7l.2-34l.2-103.7l.2 137.7h.2l.2-68.9l.2 34.9l.3 34h.2l.2-137.7h.2l.2 137.7h.2l.2-68.9h.3l.2-68.8l.2 103.7l.2 34l.2-137.7l.2 137.7h.3h.2l.2-137.7h.2l.2 103.7l.2-69.8h.2l.3 69.8l.2-103.7l.2 103.7l.2-103.7l.2 137.7h.2h.2h.3l.2-137.7l.2 137.7l.2-103.8l.2 103.8l.2-137.7h.3l.2 33.9l.2-33.9l.2 137.7l.2-137.7l.2 137.7l.2-137.7l.3 137.7l.2-34l.2-34.9l.2 34.9l.2-103.7l.2 137.7l.2-137.7l.3 137.7l.2-137.7h.2l.2 137.7h.2h.2h.3h.2h.2l.2-68.9h.2l.2 68.9l.2-137.7l.3 68.8h.2l.2-68.8l.2 33.9l.2-33.9h.2l.2 103.7l.3-103.7l.2 33.9l.2 103.8l.2-34l.2-69.8h.2h.3l.2-33.9l.2 33.9l.2-33.9l.2 137.7l.2-137.7h.2h.3l.2 137.7l.2-68.9l.2-68.8h.2l.2 137.7h.2l.3-68.9l.2 68.9l.2-68.9l.2 68.9h.2l.2 35.7l.3-139.5l.2 103.8l.2-68.9l.2 34.9h.2l.2-103.7h.2l.3 137.7h.2l.2-137.7l.2 137.7l.2-137.7l.2 33.9l.2 34.9l.3-34.9l.2 69.8l.2-103.7h.2l.2 103.7l.2 34l.3-34h.2l.2-34.9l.2-76.8h.2h.2l.2 111.7h.3l.2-103.7l.2 33.9l.2-33.9l.2 33.9l.2 69.8l.2-103.7l.3 137.7h.2l.2-34l.2-103.7l.2 137.7l.2-137.7l.3 33.9h.2l.2 34.9l.2 68.9l.2-34l.2-103.7h.2l.3 103.7h.2h.2h.2h.2l.2 34l.2-137.7l.3 137.7h.2l.2-68.9l.2-68.8l.2 33.9l.2 103.8l.3-68.9l.2-68.8h.2l.2 137.7l.2-137.7h.2l.2 137.7l.3-137.7l.2 137.7h.2l.2-34l.2-103.7l.2 33.9l.2 103.8l.3-137.7l.2 103.7l.2-103.7l.2 68.8l.2-34.9l.2 34.9l.3-34.9l.2 34.9l.2-68.8l.2 68.8l.2-68.8l.2 68.8l.2 68.9l.3-68.9l.2-68.8l.2 103.7h.2l.2-69.8l.2 103.8h.2l.3-68.9l.2 68.9l.2-34h.2h.2h.2l.3-34.9l.2-68.8h.2l.2 103.7l.2-69.8l.2 69.8l.2 34l.3-34h.2h.2l.2-69.8l.2 34.9l.2 68.9l.2-68.9l.3-68.8l.2 137.7l.2-103.8l.2 69.8l.2-69.8l.2-33.9h.3h.2l.2 103.7l.2-103.7l.2 137.7l.2-137.7l.2 33.9l.3-33.9l.2 103.7l.2-103.7l.2 103.7l.2 34l.2-137.7l.2 137.7l.3-103.8h.2h.2h.2l.2-33.9l.2 33.9l.3 103.8l.2-68.9l.2-68.8h.2l.2 103.7l.2-34.9l.2-68.8h.3l.2 137.7l.2-34h.2l.2 34l.2-103.8h.2l.3 69.8l.2-34.9l.2-68.8l.2 103.7l.2 34l.2-34l.3-69.8l.2 103.8l.2-103.8h.2l.2 103.8l.2-68.9l.2 68.9l.3-68.9l.2 68.9h.2l.2-34l.2-117.6h.2h.2l.3 117.6l.2-34.9h.2h.2l.2 68.9h.2l.3-34l.2-103.7l.2 33.9l.2 103.8l.2-68.9h.2l.2 68.9l.3-103.8l.2-33.9h.2l.2 68.8l.2-68.8h.2l.3 103.7l.2-34.9l.2 68.9l.2-137.7h.2l.2 33.9l.2 69.8l.3-103.7l.2 103.7l.2 34l.2-34l.2 34l.2-137.7l.2 137.7l.3-137.7l.2 103.7l.2 34l.2-137.7l.2 103.7l.2 34l.3-103.8l.2 69.8h.2h.2l.2 34l.2-137.7l.2-4.5h.3h.2l.2 38.4l.2 69.8l.2-103.7h.2l.2 68.8l.3-68.8h.2l.2 137.7h.2l.2-137.7l.2 103.7l.3-103.7h.2l.2 33.9h.2h.2l.2-33.9l.2 33.9l.3 103.8h.2h.2l.2-137.7l.2 137.7h.2l.2-34h.3l.2-103.7h.2l.2 137.7l.2-34l.2-69.8l.3 69.8l.2-103.7h.2l.2 137.7l.2-34l.2-103.7h.2l.3 137.7h.2l.2-103.8l.2 69.8l.2 34l.2-103.8h.2l.3 103.8l.2-34l.2-34.9l.2 34.9l.2 34l.2-137.7l.3 137.7h.2l.2-34l.2 34h.2l.2-34l.2-34.9l.3-68.8l.2 137.7h.2l.2-68.9l.2 34.9l.2 34h.2l.3-103.8h.2l.2 103.8h.2h.2l.2-34l.3-103.7l.2 33.9l.2-33.9h.2l.2 103.7l.2 34h.2h.3l.2-137.7l.2 103.7l.2-103.7l.2 103.7l.2 34l.2-103.8l.3 103.8l.2-137.7l.2 68.8l.2 34.9h.2l.2-69.8l.3 69.8h.2l.2-103.7l.2 68.8l.2 68.9l.2-137.7l.2 103.7l.3 34h.2l.2-137.7l.2 137.7l.2-103.8l.2 103.8l.2-34l.3-34.9l.2 68.9h.2l.2-34l.2-69.8l.2 103.8l.3-34h.2l.2-69.8l.2 103.8h.2l.2-137.7h.2l.3 33.9l.2-33.9l.2 33.9l.2-33.9l.2 103.7l.2 34l.2-103.8l.3 103.8h.2h.2l.2-103.8l.2-33.9l.2 137.7l.3-34l.2-103.7h.2h.2l.2 137.7l.2-103.8l.2 103.8l.3-34h.2l.2 34l.2-34l.2 34l.2-137.7l.2 137.7l.3-34l.2 34l.2-68.9l.2 34.9l.2-103.7l.2 33.9l.3-33.9l.2 68.8l.2 68.9l.2-137.7l.2 137.7l.2-137.7l.2 33.9l.3 103.8l.2-137.7l.2 33.9l.2 34.9l.2 34.9l.2 34h.2h.3h.2h.2l.2-137.7l.2 103.7l.2-103.7l.3 68.8l.2 68.9l.2-140.5h.2h.2l.2 71.6l.2-34.9l.3 69.8l.2 34l.2-68.9l.2 34.9h.2l.2 34h.2l.3-34l.2 34l.2-103.8l.2 34.9l.2 34.9l.2-103.7l.3 33.9l.2-33.9h.2l.2 68.8l.2 34.9h.2l.2-34.9l.3 34.9l.2-103.7l.2 33.9l.2 34.9l.2 68.9l.2-137.7l.2 103.7l.3-69.8l.2-33.9l.2 103.7l.2-34.9l.2-34.9l.2 103.8l.3-103.8l.2 69.8h.2l.2-103.7l.2 137.7h.2l.2-68.9l.3 68.9l.2-137.7l.2 103.7l.2-103.7l.2 103.7l.2-103.7h.2h.3h.2h.2h.2l.2 33.9l.2-33.9l.3 137.7h.2l.2-137.7l.2 68.8l.2-34.9l.2 103.8h.2l.3-137.7l.2 137.7l.2-137.7h.2h.2l.2 137.7l.2-103.8l.3-33.9l.2 137.7l.2-143.9h.2h.2l.2 143.9l.3-137.7h.2h.2h.2h.2l.2 137.7l.2-137.7l.3 103.7l.2-103.7l.2 103.7h.2l.2-34.9l.2 34.9l.2-69.8l.3 69.8h.2l.2-34.9l.2-68.8l.2 103.7l.2-103.7l.3 33.9l.2 103.8h.2l.2-68.9l.2 34.9h.2l.2-34.9l.3 34.9h.2l.2-34.9l.2-68.8l.2 33.9l.2-33.9h.3l.2 103.7l.2 34l.2-103.8h.2l.2 103.8h.2l.3-137.7l.2 103.7l.2 34l.2-137.7h.2l.2 33.9l.2-33.9l.3 103.7h.2l.2-34.9l.2 68.9l.2-34l.2-69.8l.3 69.8l.2-69.8l.2-33.9h.2h.2l.2 103.7l.2-34.9l.3 34.9l.2 34h.2l.2-34l.2-103.7l.2 103.7h.2l.3 34h.2l.2-137.7h.2h.2l.2 68.8l.3 68.9l.2-68.9l.2 68.9l.2-34h.2l.2-69.8h.2l.3 69.8l.2-103.7h.2l.2 137.7h.2l.2-68.9l.2 68.9l.3-137.7l.2 137.7l.2-103.8l.2 103.8l.2-103.8l.2 69.8l.3 34l.2-34l.2 34l.2-103.8l.2-33.9l.2 103.7h.2l.3-34.9l.2-68.8l.2 137.7h.2h.2l.2-137.7l.2 103.7l.3-103.7h.2h.2l.2 103.7h.2h.2h.3l.2-103.7l.2 103.7l.2-103.7h.2l.2 137.7h.2l.3-103.8l.2 103.8h.2l.2-34h.2h.2l.2-34.9l.3-34.9l.2-33.9l.2 33.9l.2-33.9l.2 137.7l.2-103.8l.3 69.8l.2 34h.2l.2-137.7l.2 137.7h.2l.2-34l.3 34l.2-68.9h.2l.2 68.9l.2-68.9l.2-68.8l.2 68.8l.3-68.8h.2l.2 137.7l.2-68.9l.2 68.9h.2h.3l.2-137.7l.2 137.7l.2-137.7l.2 137.7l.2-103.8l.2 69.8l.3 34l.2-68.9l.2-34.9l.2 69.8h.2l.2 34l.2-103.8l.3 69.8l.2-103.7h.2l.2 33.9l.2-33.9h.2l.3 68.8h.2l.2 68.9l.2-68.9l.2 34.9l.2 34l.2-137.7l.3 137.7h.2l.2-34l.2-103.7l.2 103.7l.2-103.7l.2 33.9l.3 69.8h.2l.2-34.9l.2-68.8l.2 33.9l.2 103.8l.3-34l.2 34h.2l.2-103.8l.2 103.8l.2-34l.2-103.7l.3 137.7l.2-34h.2l.2-34.9l.2-68.8l.2 103.7h.2l.3-103.7l.2 68.8h.2l.2-68.8l.2 137.7l.2-34l.3-34.9l.2 34.9l.2 34l.2-34h.2l.2-69.8l.2-33.9l.3 103.7h.2l.2-34.9l.2-68.8h.2l.2 137.7l.2-137.7l.3 68.8l.2 68.9h.2h.2l.2-34h.2l.3-69.8l.2 103.8l.2-68.9h.2l.2-68.8l.2 68.8l.2 34.9l.3-34.9l.2-34.9l.2 103.8l.2-34l.2-69.8l.2 103.8h.2h.3l.2-137.7l.2 137.7l.2-34l.2-103.7h.2l.3 68.8h.2l.2 68.9l.2-68.9l.2 68.9l.2-141.5h.2h.3l.2 3.8l.2 68.8l.2-68.8l.2 103.7l.2-69.8h.2l.3-33.9h.2l.2 137.7h.2l.2-103.8l.2-33.9l.3 137.7l.2-34l.2-69.8l.2-33.9l.2 137.7h.2h.2l.3-34l.2-34.9l.2-68.8l.2 103.7h.2h.2h.2l.3 34h.2l.2-34l.2-103.7l.2 137.7l.2-137.7l.3 137.7h.2h.2l.2-137.7l.2 137.7h.2l.2-137.7l.3 137.7l.2-103.8l.2 69.8l.2-103.7l.2 103.7l.2-103.7l.2 68.8l.3 68.9l.2-34h.2l.2-34.9l.2-68.8l.2 137.7h.3l.2-68.9l.2 68.9h.2l.2-34l.2 34l.2-137.7h.3h.2l.2 33.9h.2l.2 103.8l.2-68.9l.3 34.9h.2l.2-69.8l.2 69.8l.2-34.9l.2 68.9h.2h.3h.2l.2-34l.2 34l.2-137.7l.2 103.7l.2-108.2h.3h.2l.2 108.2l.2-103.7l.2 103.7l.2 34l.3-103.8l.2-33.9l.2 137.7h.2h.2h.2h.2h.3h.2l.2-34h.2l.2 34l.2-34h.2l.3 34h.2h.2h.2l.2-34h.2h.3h.2l.2 34h.2l.2-34l.2-103.7l.2 33.9l.3 69.8l.2-103.7l.2 137.7l.2-103.8l.2 103.8l.2-103.8l.2 103.8l.3-34l.2-103.7l.2 68.8l.2-68.8l.2 137.7l.2-34l.3 34l.2-34l.2 34l.2-103.8l.2 69.8h.2h.2l.3-34.9l.2-68.8l.2 103.7l.2-103.7h.2l.2 103.7l.2-69.8l.3 103.8l.2-34h.2l.2-34.9l.2-68.8h.2l.3 33.9l.2 34.9l.2 34.9l.2 34h.2l.2-137.7l.2 103.7l.3 34h.2h.2h.2l.2-34l.2 34l.2-34l.3 34l.2-34h.2l.2 34l.2-34h.2l.3 34h.2h.2l.2-34l.2 34l.2-34h.2h.3h.2h.2l.2 34h.2h.2h.2h.3h.2l.2-34l.2 34h.2h.2h.3h.2l.2-34h.2l.2 34h.2h.2l.3-34l.2 34l.2-137.7l.2 68.8l.2 34.9l.2-103.7h.2l.3 103.7l.2-34.9l.2-34.9l.2 69.8l.2 34h.2l.3-34h.2h.2l.2-103.7l.2 137.7h.2h.2h.3l.2-68.9l.2 68.9h.2h.2l.2-103.8h.2l.3-33.9l.2 103.7l.2-34.9l.2-68.8l.2 33.9l.2-33.9h.3l.2 33.9h.2l.2 139.5l.2-69.7l.2-34.9l.2-34.9l.3 103.8h.2l.2-68.9l.2 34.9l.2 34l.2-103.8l.2 34.9l.3 34.9l.2-103.7h.2l.2 137.7l.2-137.7h.2l.3 137.7l.2-103.8l.2 103.8h.2l.2-34l.2-103.7h.2l.3 137.7l.2-137.7l.2 137.7l.2-34l.2-69.8l.2-33.9l.2 103.7l.3 34l.2-68.9l.2-68.8h.2l.2 68.8l.2 68.9l.3-34l.2 34h.2l.2-34l.2 34l.2-68.9h.2h.3l.2-68.8h.2l.2 68.8l.2 34.9l.2-103.7l.2 33.9l.3 69.8l.2-34.9l.2 68.9l.2-34l.2 34l.2-68.9l.3-34.9l.2 103.8l.2-68.9l.2 68.9l.2-137.7l.2 33.9l.2-33.9l.3 33.9l.2-33.9l.2 68.8l.2-68.8l.2 137.7l.2-137.7l.2 103.7h.3l.2-34.9h.2l.2 34.9l.2 34l.2-34l.3 34l.2-34l.2-103.7l.2 68.8l.2 68.9l.2-68.9l.2 68.9h.3l.2-68.9h.2l.2-34.9l.2 34.9h.2l.2 34.9l.3-69.8l.2 69.8h.2l.2-34.9l.2-68.8l.2 68.8l.3 68.9l.2-137.7l.2 137.7h.2l.2-68.9l.2 34.9l.2-103.7h.3l.2 103.7l.2-103.7l.2 103.7l.2-69.8l.2 103.8l.2-137.7h.3l.2 103.7l.2-34.9h.2l.2-68.8h.2l.3 137.7h.2l.2-137.7l.2 68.8l.2 68.9l.2-68.9l.2 68.9l.3-34l.2-34.9l.2-68.8h.2h.2l.2 103.7h.3l.2 34l.2-137.7l.2 33.9l.2-33.9l.2 137.7l.2-68.9h.3h.2l.2 68.9l.2-34l.2 34l.2-103.8l.2 69.8l.3-69.8l.2 34.9l.2-34.9l.2 103.8l.2-137.7l.2 103.7l.3-103.7l.2 68.8l.2-68.8l.2 33.9l.2-33.9h.2l.2 33.9l.3 103.8l.2-137.7l.2 68.8l.2 68.9l.2-34l.2 34l.2-68.9h.3l.2-68.8h.2l.2 68.8l.2 34.9h.2h.3l.2 34l.2-34l.2 34l.2-137.7l.2 137.7l.2-34h.3l.2 34l.2-34h.2h.2h.2h.2l.3 34h.2h.2h.2h.2l.2-34l.3 34h.2h.2l.2-34h.2l.2 34l.2-137.7h.3l.2 103.7h.2l.2 34h.2h.2l.2-34l.3-34.9l.2-68.8l.2 103.7l.2-103.7l.2 33.9l.2 69.8l.3-69.8l.2 69.8h.2l.2-34.9l.2 34.9l.2-69.8l.2-33.9l.3 103.7l.2 34l.2-34h.2h.2l.2 34l.2-34l.3-69.8l.2 69.8l.2-69.8l.2 69.8l.2 34h.2l.3-137.7l.2 137.7l.2-34l.2 34l.2-68.9l.2 68.9l.2-137.7l.3 137.7l.2-137.7h.2l.2 137.7h.2h.2l.2-34l.3 34l.2-34l.2 34h.2h.2l.2-34h.3h.2l.2 34l.2-34l.2 34h.2h.2l.3-34l.2 34h.2l.2-34h.2l.2 34h.2l.3-34l.2-103.7h.2l.2 33.9l.2 103.8h.2h.3h.2h.2l.2-137.7l.2 137.7l.2-68.9l.2 34.9h.3l.2-69.8l.2 103.8l.2-137.7l.2 103.7l.2 34h.2h.3l.2-34h.2h.2h.2h.2l.3 34l.2-34l.2 34h.2h.2l.2-34h.2l.3 34l.2-34h.2l.2-103.7l.2 103.7l.2 34l.2-137.7l.3 68.8l.2 68.9l.2-68.9l.2 68.9l.2-103.8h.2h.3l.2 103.8l.2-34l.2-69.8l.2 34.9l.2 68.9l.2-68.9l.3 34.9h.2l.2-103.7l.2 68.8l.2 68.9l.2-103.8h.2l.3 103.8l.2-34l.2 34h.2l.2-137.7l.2 137.7l.3-68.9l.2 34.9l.2-103.7l.2 33.9h.2l.2-33.9l.2 137.7l.3-137.7l.2 68.8h.2l.2 34.9l.2 34h.2l.2-103.8l.3 69.8h.2l.2-69.8h.2l.2 103.8l.2-68.9l.3-68.8l.2 33.9l.2-33.9l.2 137.7l.2-34l.2 34h.2h.3l.2-34h.2h.2l.2-34.9h.2l.2 68.9l.3-34l.2 34h.2h.2l.2-68.9l.2 68.9h.3h.2h.2l.2-34l.2 34h.2l.2-34h.3l.2 34h.2l.2-68.9l.2 68.9l.2-68.9l.2 34.9h.3l.2 34l.2-68.9l.2 68.9l.2-34h.2h.3h.2l.2 34h.2h.2l.2-137.7l.2 68.8h.3l.2 34.9l.2 34l.2-34l.2 34h.2l.2-68.9l.3-34.9l.2 69.8l.2 34l.2-34l.2 34h.2l.3-68.9l.2-68.8l.2 33.9l.2-33.9l.2 137.7l.2-103.8l.2-33.9l.3 103.7l.2 34l.2-103.8l.2-33.9l.2 68.8h.2l.2 34.9h.3l.2 34l.2-68.9l.2 68.9l.2-137.7l.2 137.7l.3-68.9l.2-68.8l.2 137.7h.2l.2-103.8l.2 69.8l.2-103.7l.3 68.8l.2-68.8h.2h.2l.2 33.9l.2 69.8h.3h.2l.2-34.9l.2 34.9l.2 34l.2-34h.2h.3l.2-103.7l.2 137.7h.2h.2l.2-137.7l.2 33.9h.3l.2 34.9l.2 34.9l.2-34.9l.2 68.9l.2-68.9l.3 34.9h.2l.2 34l.2-103.8l.2 69.8l.2 34h.2l.3-137.7l.2 33.9l.2 69.8l.2 34h.2l.2-34l.2-103.7l.3 103.7l.2 34l.2-68.9l.2 68.9l.2-103.8h.2l.3 103.8l.2-34l.2-103.7h.2l.2 137.7l.2-103.8l.2 69.8l.3 34h.2l.2-137.7l.2 103.7l.2-34.9l.2 34.9l.2 34l.3-68.9h.2l.2-34.9l.2 103.8l.2-34l.2 34l.3-137.7l.2 68.8l.2-34.9l.2 103.8l.2-68.9h.2l.2 68.9l.3-34h.2l.2-69.8l.2 103.8l.2-137.7h.2l.2 137.7l.3-68.9l.2-68.8l.2 103.7l.2 34l.2-34l.2 34l.3-34h.2h.2h.2h.2l.2 34h.2l.3-34h.2l.2 34h.2l.2-34h.2l.2 34h.3h.2l.2-34h.2l.2 34l.2-34h.3l.2 34l.2-34l.2-103.7l.2 103.7l.2-69.8l.2 69.8h.3l.2-34.9l.2-68.8l.2 103.7h.2l.2-103.7h.2h.3l.2 137.7l.2-34h.2l.2 34h.2l.3-34h.2l.2 34h.2l.2-34l.2 34l.2-34h.3h.2l.2 34l.2-34h.2l.2 34l.2-34h.3h.2h.2h.2l.2-103.7l.2 103.7l.3 34l.2-137.7l.2 137.7h.2l.2-34l.2 34h.2h.3l.2-137.7l.2 33.9h.2l.2 69.8l.2 34h.2l.3-137.7h.2l.2 33.9l.2 34.9l.2 68.9l.2-68.9l.3-68.8l.2 137.7h.2h.2l.2-34h.2l.2 34h.3h.2l.2-34h.2l.2 34h.2l.2-34h.3l.2 34h.2l.2-34l.2 34l.2-34l.3 34l.2-34h.2l.2 34l.2-137.7h.2l.2 68.8l.3 68.9l.2-137.7l.2 33.9l.2-33.9l.2 137.7h.2l.2-34h.3h.2h.2l.2 34h.2h.2h.3h.2l.2-34l.2 34l.2-34h.2l.2 34h.3h.2h.2l.2-34l.2 34l.2-34h.2h.3h.2l.2-103.7h.2h.2l.2 137.7l.3-137.7l.2 137.7l.2-103.8l.2 34.9l.2-68.8l.2 68.8l.2-68.8l.3 103.7l.2-34.9h.2l.2 34.9l.2-103.7l.2 137.7l.2-68.9l.3-34.9l.2 103.8l.2-68.9l.2-68.8l.2 137.7l.2-34h.3l.2-34.9l.2 68.9l.2-34l.2-103.7l.2 137.7l.2-34l.3 34l.2-137.7l.2 137.7l.2-68.9l.2-68.8l.2 137.7h.2l.3-34l.2 34l.2-34l.2 34h.2h.2h.3h.2h.2l.2-34l.2 34l.2-34l.2 34" stroke="#0000ff" stroke-dasharray="12.4 11.3"/>
</g>
<g font-size="23.60" fill="#000">
<g text-anchor="middle">
<text transform="translate(0.00,240.15) scale(1,1.070)">0</text>
<text transform="translate(107.51,240.15) scale(1,1.070)">500</text>
<text transform="translate(215.02,240.15) scale(1,1.070)">1000</text>
<text transform="translate(322.52,240.15) scale(1,1.070)">1500</text>
<text transform="translate(430.03,240.15) scale(1,1.070)">2000</text>
<text transform="translate(537.54,240.15) scale(1,1.070)">2500</text>
<text transform="translate(645.05,240.15) scale(1,1.070)">3000</text>
</g><g text-anchor="end">
<text transform="translate(-8.85,217.45) scale(1,1.070)">2</text>
<text transform="translate(-8.85,147.67) scale(1,1.070)">4</text>
<text transform="translate(-8.85,77.88) scale(1,1.070)">6</text>
<text transform="translate(-8.85,8.10) scale(1,1.070)">8</text>
</g></g>
<g font-size="26.10" fill="#000" text-anchor="middle">
<text x="321.82" y="272.85">sample</text>
<text transform="translate(-46.10,106.07) rotate(-90)">DC Value</text>
</g>
<rect x="470.50" y="12.00" width="158.00" height="57.66" fill="#fff" stroke="#3c3c3c" stroke-width="1.20"/>
<path d="M476.60 27.60H536.60" stroke="#ff0000" stroke-width="4.20" fill="none"/>
<path d="M476.60 53.96H536.60" stroke="#0000ff" stroke-width="4.20" stroke-dasharray="12.4 11.3" fill="none"/>
<g font-size="21.20" fill="#000">
<text x="541.50" y="35.40">Actual</text>
<text x="541.50" y="61.76">Predicted</text>
</g>
</g>
<g transform="translate(901.00,641.55)">
<clipPath id="c7"><rect x="-2.3" y="-1.1" width="649.7" height="214.3"/></clipPath>
<path d="M0 0H645.10V210.85H0Z" fill="none" stroke="#1a1a1a" stroke-width="1.20"/>
<path d="M0.00 210.85v-7.00M0.00 0v7.00M71.68 210.85v-7.00M71.68 0v7.00M143.36 210.85v-7.00M143.36 0v7.00M215.03 210.85v-7.00M215.03 0v7.00M286.71 210.85v-7.00M286.71 0v7.00M358.39 210.85v-7.00M358.39 0v7.00M430.07 210.85v-7.00M430.07 0v7.00M501.74 210.85v-7.00M501.74 0v7.00M573.42 210.85v-7.00M573.42 0v7.00M645.10 210.85v-7.00M645.10 0v7.00M0 210.85h7.00M645.10 210.85h-7.00M0 140.57h7.00M645.10 140.57h-7.00M0 70.28h7.00M645.10 70.28h-7.00M0 0.00h7.00M645.10 0.00h-7.00" fill="none" stroke="#1a1a1a" stroke-width="1.20"/>
<g clip-path="url(#c7)" fill="none" stroke-width="4.20" stroke-linejoin="round">
<path d="M.7 114.5l.7-.8l.8-.1l.7-.7h.7l.7 1.5h.7l.7-.3l.8 .3l.7-.1l.7-.4l.7 .8h.7l.7-1.6l.8 .1l.7 .9l.7-.4l.7-.6l.7-.5l.7 .9l.8 1l.7-.3l.7-.5l.7 .1l.7-.5l.7 1.1l.8-2.7l.7 .5l.7 1.3l.7 .8h.7l.7-.2l.8 .6l.7-.1l.7-.3l.7-1.1l.7 1.1l.7 .3l.8-1.1l.7-.1l.7 1.1l.7 .1l.7-.2l.7-.3l.8-.4l.7 .9l.7-2.3l.7 1.9l.7 .1l.7-1.1l.8 .3l.7 .6l.7-.3l.7-.7l.7 .3l.7-.1l.8-4.6l.7 3.5l.7 2.2l.7 .3l.7-1.6l.7-.4l.8 .7l.7-3.8l.7 3.4l.7 .4l.7 .6l.7-.7h.8l.7 1l.7-1.2l.7 1.6l.7-.3l.7 .3l.8-.4l.7-1l.7 .4l.7 .7h.7l.7-1l.8 .6l.7-1.2l.7 1.9l.7-.7l.7 .7l.7-.1l.8-.2l.7 .2l.7-.6h.7l.7 .7l.7-.2l.8-.1l.7-4.6l.7 4.5h.7l.7-.6l.7-.1l.8 .3l.7-.8l.7-.2l.7 1.7l.7-.5l.7-.7l.8-1.2l.7 1.8l.7-.2l.7 .7l.7 .3l.7-.8l.8 .5l.7-1l.7 .4l.7 .2h.7h.7l.8-.8l.7 1.4l.7-1.3l.7 1.3h.7l.7-1l.8 .9l.7-.3l.7 .3l.7-.6l.7-.5l.7 .7l.8-.7l.7 .4l.7 .5l.7-.2l.7-.8l.7-1.6l.8 2.8l.7 .1l.7-1.8l.7 1.6l.7-.6l.7-94.4l.8-.3l.7 .4l.7-.2l.7-1.1l.7-.1l.7-.7l.8 1.9l.7 .5l.7-5.8l.7 1.4l.7 3.2l.8 .4l.7 .8l.7-.9l.7 .7l.7-.7l.7 .8l.8-2.5l.7 2.4l.7-3.4l.7 2.6l.7 .6l.7-1.2l.8 .3l.7 1.1l.7-.3l.7 .2l.7-.2l.7 .2l.8-.6l.7-.7h.7l.7 .4l.7 .6l.7 .1l.8-.4l.7 .6l.7-.4l.7-.6l.7 .7l.7-.4l.8 .6l.7-.6l.7 .5l.7 .5l.7-.5l.7-.7h.8l.7 .9l.7-1.4l.7 1.4l.7 .3l.7-1.4l.8-3.2l.7 2.9l.7-1l.7 2.8l.7-.9l.7 .6l.8-1l.7 1.2l.7-.9l.7 .1l.7-.9l.7 .4l.8 .4l.7 .6l.7 .1l.7-.8l.7-.3l.7-.6l.8 1.1l.7 .7l.7-2.1l.7 1.4l.7-.3l.7 .7l.8-.9l.7 .6l.7 .2l.7-.3l.7 .3l.7 .4l.8-.8l.7-.1l.7 1l.7-.4l.7 .4l.7-.3l.8-.3l.7 .2l.7-.3l.7-.5l.7-.6l.7 .8l.8-.1l.7 .1l.7 1l.7-1.7l.7 .6l.7 .8l.8-.3l.7-.3l.7 .7l.7-.2l.7-.8l.7-.3l.8 .3l.7-.2l.7 1.2l.7-2.2l.7 2.1l.7-.9l.8 .4l.7 .8l.7-.2l.7-.3l.7-1l.7 .2l.8-.2l.7 1.2l.7 .2l.7-1.8l.7 .5l.7 1.2l.8-1l.7 1l.7-.6l.7 .2l.7-1.1l.7 .4l.8-3l.7 3.4l.7 .9l.7-1.1l.7 1.1l.7-.4l.8-.8l.7 1.2h.7l.7-1.7l.7 1.1l.7 .7l.8-.2l.7-.7l.7-1.1l.7 1.9l.7-.7l.7-.4l.8-1l.7 .5l.7 1.3l.7 .2l.7-.2l.7-.2l.8 94l.7-94.4l.7-19l.7 19.7l.7-1.1l.8 .9h.7l.7 .1l.7-.9l.7 .1l.7 .2l.8 .6l.7-.4l.7-.5l.7 .7l.7 .4l.7-.3l.8-1.3l.7 1l.7 .4l.7 .1l.7-1.4l.7-.2l.8 1.3l.7-.4l.7 .7l.7 94.5l.7-.1l.7-94.2l.8-.3l.7-2l.7 .4l.7 1.4l.7 .3l.7-.2l.8-.5h.7l.7 .2l.7 .5l.7-.5l.7-.2l.8 .4l.7-.3l.7 .2l.7-2.4l.7 2l.7-11.2l.8 10.7l.7-.8l.7 .9l.7 1.2l.7-.9l.7 .6l.8-.7l.7 .7h.7l.7 .1l.7-.4l.7 .3h.8l.7-4.1l.7 4.6l.7-1l.7 .8l.7 .1h.8l.7 .2l.7-.2h.7l.7-.2h.7l.8 .3h.7l.7-1.1l.7-.2l.7-.1l.7 .6l.8-.2h.7l.7-.2l.7 .9l.7-.5l.7 .6l.8-.2l.7-.4l.7-.3l.7 .7l.7-1.3l.7-.2l.8 .7l.7 .1l.7-.2l.7-.5h.7l.7 .4l.8 1.4l.7-1.4l.7 1.2l.7-2l.7 1.1h.7l.8 1l.7-2l.7 2l.7 .1l.7-.4l.7-.8l.8 1.2l.7-1.6l.7 1l.7 .3l.7-1.2l.7 .5l.8-.4l.7 .6l.7 .3l.7-1.5l.7-.1l.7 .2l.8 95.9l.7-94.9l.7 .1l.7-.4l.7 1l.7-.3l.8-.8l.7 1.3l.7-1.7l.7-.3l.7 .6l.7 .7l.8-.3h.7l.7 .9l.7-.1l.7-.6l.7 .6l.8-1l.7 1l.7-1.9l.7 1.8l.7-1.7l.7 .3l.8 1.1l.7 .6l.7-1.9l.7 1.6l.7-.2l.7 .1l.8-.3l.7 .1l.7 .6l.7-2.5l.7 1l.7-.6l.8 1.2l.7 .5l.7 .1l.7 .2l.7-.4l.8-.4l.7-1.3l.7 1.3l.7-1.3l.7 1.5l.7 .6l.8-.2l.7-.4l.7 .5h.7l.7-1.1l.7 .9l.8-.2l.7-.8l.7 .4l.7-1.4l.7 2.4l.7-.5l.8-.7l.7 .3l.7-.4l.7 .1l.7 1h.7l.8-.2l.7-1.1l.7 1.4l.7-.4l.7 .5l.7-1.8l.8 1.8l.7-.8l.7-1.3l.7 2.1l.7-.8l.7-.4l.8 1.3l.7-.5l.7-.2l.7-.8l.7 1.2l.7-.1l.8-.3l.7-.2l.7 94.6l.7-93.9l.7-.3l.7 .3l.8-.7l.7 .3l.7-.4l.7 .7l.7-.8l.7-.2l.8 .7l.7-.3l.7-.8l.7-.1l.7 .7l.7 .5l.8 .5l.7-.4l.7-.7l.7-.6l.7 .9l.7 .6l.8-.6l.7 .2l.7-.7l.7 .4l.7 .6l.7-1l.8 1.2l.7-1.5l.7 .8l.7 .4l.7-.9l.7 .2l.8 .4l.7-.5l.7-.6l.7-.5l.7 2l.7-.3l.8-.9l.7 1.3l.7-.6l.7-.6l.7-2.3l.7 3.3l.8-.1l.7-1l.7 1.4l.7-.3l.7-.4l.7-1.4l.8 .8l.7-.5l.7 1.6l.7-2.4l.7 97.4l.7-96.6l.8 1.5l.7-.1l.7 .2l.7-.1l.7 .4l.7-.9l.8 .7h.7l.7-1.8l.7 1.3l.7 .5l.7-.3l.8 .2l.7 .1l.7-.6l.7-.1l.7-.2l.7 1l.8-1.1l.7-.4l.7 1.1h.7l.7 .3l.7-.2l.8 .3l.7-.2l.7-.6l.7 .2l.7-.8l.7 1.4l.8-.1l.7 .1l.7-1.3l.7 1l.7-1.8l.7 1.5l.8 .4l.7-1l.7 1.1l.7-.7l.7 .2l.7-.4l.8 1.1l.7-.5l.7 94.4l.7 .9l.7-1.8l.8-93.2l.7 .1l.7-.6l.7-5l.7 4.2l.7 .6l.8 .8l.7-1.7l.7 1.8l.7-.4l.7-1l.7 .6l.8 .4l.7-1h.7l.7-.8l.7 1.7l.7 .3h.8l.7 .2l.7-.2l.7-.9l.7 .1l.7 .7l.8 .2l.7-2.3l.7 .9l.7 .9l.7-.6h.7l.8 .7l.7-.5h.7h.7l.7 1l.7-1.4l.8 .4l.7 .7l.7-1.3l.7-.1l.7 1.2l.7 .5l.8-3.4l.7 2.9l.7-1.1l.7 1.2l.7 .3l.7-1.1l.8-.2l.7 1.3l.7 .1l.7-.4l.7 .2l.7-.2l.8-1.2l.7 .6l.7-.3l.7 95.5l.7-.5l.7-94l.8-.8l.7 95.2l.7 .7l.7-96l.7 .2l.7 95l.8-2.5l.7-91.7l.7-.4l.7 93.6l.7 1.7l.7-.7l.8-94.5h.7l.7 .5l.7-1.3l.7 .5l.7-1.7l.8 2.2l.7-.7l.7 .8l.7 .1h.7l.7-.3l.8-.1l.7 93.6l.7 1.3l.7-1.2l.7 1.7l.7-.2l.8-.5l.7-4.6l.7 4.9l.7 .1l.7 .2l.7-1.4l.8 .7l.7 .3h.7l.7-2.2l.7 1.6l.7 .8h.8l.7-.8l.7 .3l.7-1.1l.7 .3l.7 .6l.8 .9l.7-.2l.7-2.1l.7 2.4l.7-.6l.7-95l.8-.7l.7 1.1l.7-.2l.7-.9l.7 .7l.7-.2l.8 .4l.7-.5l.7 .9l.7-.3l.7 .3l.7-.7l.8-2.6l.7 2.5l.7 .2l.7 .2l.7-.3l.7-.5l.8 1.3l.7-1.1l.7 .5l.7-.5l.7 .4l.7-.1l.8 .7l.7 .1l.7-.1l.7-10l.7 9.3l.7-1l.8-1.2l.7 3l.7-1.5l.7 .6l.7 .7l.8-1h.7l.7 .9l.7-1.2l.7 1.3h.7l.8-.6l.7 .4h.7l.7 .4l.7-.8l.7 .7l.8-.5l.7 .3l.7-1.1l.7 1.1l.7-.6l.7-.4l.8 .2l.7-.6l.7 1.6l.7-10l.7 8.7l.7 .8l.8-.6l.7 .4l.7 .3h.7l.7 .2l.7-1.2l.8-.1l.7-.4l.7-4.2l.7 6.2l.7-10.1l.7 9.4l.8 .7l.7-.8l.7-.5l.7 1l.7-.9l.7 1l.8-.8l.7 .8l.7-1.9l.7 1.1l.7-.6l.7 1.1l.8 .4l.7-.9l.7-.4l.7 1.4l.7-.1l.7-1.2l.8 .2l.7 .1l.7 .6l.7-1.1l.7-.3l.7 .9l.8-1.6l.7 1.6l.7 .4l.7 .2l.7-.7l.7 .1l.8 .9l.7-1.2l.7 .9l.7-.1l.7-.5l.7 .6l.8-.9l.7-.7l.7 1.4l.7-.7l.7 .6l.7-.3l.8-.3l.7 1l.7 .2l.7-.6l.7 .5l.7-.6l.8-.7l.7 .3l.7-1.5l.7 1.9l.7 .2l.7 .4l.8-.2l.7-1.2h.7l.7 1.3l.7 94.2l.7-1.4l.8-93h.7l.7-2.2l.7 2.5l.7-.2l.7-1.1l.8 1l.7 94.7h.7l.7 .5l.7-1.5l.7 .6l.8 .1l.7 .6l.7 .1l.7-.1l.7-.2l.7-.4l.8 77.4l.7 1.7l.7-.3l.7 .8l.7-.7l.7 .5l.8 .3l.7-.6l.7-.3l.7 1.4l.7-80.7l.7 1.1l.8-.6l.7-.6l.7 1.4l.7-1.5l.7-.5l.7 2l.8-.2l.7-.2l.7 .3l.7-2.6l.7 2.1" stroke="#ff0000"/>
<path d="M.7 114.4l.7 .2h.8l.7-.5l.7-.7l.7 1.3l.7-.2l.7-.7l.8 .9l.7-.7l.7 .6l.7-.9l.7 .4h.7l.8 .4l.7-.2l.7 .1l.7 .2l.7-1.8l.7 1.2l.8 .4l.7-.1l.7 .1l.7-1.1l.7 .2l.7 .8l.8 .1l.7-.4h.7l.7-.8l.7 1.4h.7l.8 .2l.7-.2l.7-.3l.7-.6l.7 1l.7-1.4l.8 1.2l.7 .1l.7-.4l.7-.4l.7-.4h.7l.8 1.3l.7-.5h.7l.7 .2l.7-.7l.7 .9l.8-1.3l.7 1.4l.7-1.9l.7 1.6l.7-1l.7-.6l.8 1.8l.7-.1l.7-.2l.7-.6l.7-.2l.7 .4l.8 .9l.7-.2h.7l.7 .1l.7-.1l.7 .1l.8-.3l.7-.4l.7 .3l.7-.5l.7 .7h.7h.8l.7-1l.7 1l.7-.1l.7-.1l.7 .4l.8-.9l.7 .8h.7l.7-.4l.7 .1l.7 .1l.8 .2l.7-.1l.7-.4l.7 .4l.7-.1l.7-.3l.8-.2l.7 .8l.7-.8l.7 .1l.7 .2l.7-.7l.8 .9l.7-.2l.7-.2l.7 .2l.7-.1l.7 .5l.8-.5l.7-.4l.7 .6l.7-.1l.7-.6l.7 .7l.8-.6l.7 .4l.7-.1l.7-.6l.7 .3l.7 .5l.8 .2l.7 .4h.7l.7-.6h.7l.7 .5l.8-1l.7 .6l.7 .4l.7-1l.7 1l.7-.3l.8 .3l.7-.1l.7-.8l.7 .8l.7-.6l.7 .8l.8-.4l.7 .3l.7-1.2l.7 .5l.7 .4l.7-94.5l.8-.2l.7-.4l.7-.4l.7 .7h.7l.7-.2h.8l.7-.6l.7-4.5l.7 1.4l.7 4.2l.8-.3l.7-.7l.7 .6l.7 .2l.7-.4h.7h.8l.7 .6l.7-.1l.7-1.2l.7 1.1l.7-.2l.8 .2l.7-1.5l.7 1.3l.7 .3l.7-.2l.7-.5l.8 .3l.7 .3l.7 .2l.7-1.5l.7 .9l.7-.6l.8 1.1l.7-1.1l.7 1.2l.7-1.6l.7-.4l.7 1.8l.8-2.5l.7 1.1l.7 1l.7 .6l.7-.1l.7-1l.8 .9l.7-.4l.7-.1l.7 .7l.7-1.6l.7 1.4l.8-.3l.7-.8l.7-3.1l.7 3.6l.7-.4l.7 .2h.8l.7 .5l.7 .3l.7 .2h.7l.7-.5l.8-.4h.7l.7 .4l.7-.1l.7 .6l.7-1.9l.8 .6l.7 1l.7-.5l.7 .7l.7-.5l.7 .3l.8-.3l.7-.4l.7-.3l.7 .9l.7 .2l.7-.4l.8 .4l.7 .2h.7l.7-.7l.7 .6h.7l.8 .1l.7-.1l.7 .1l.7-.1l.7-.9l.7-.1l.8-.1l.7 .7l.7-.7l.7 .8l.7-.3h.7h.8l.7 .1l.7-.2l.7 .6l.7-.1l.7-.3l.8 .3l.7-.8l.7 .7h.7l.7 .3l.7-1.2l.8 .6l.7-.2l.7 .5l.7 .2h.7l.7-.1l.8 .3l.7-2.3l.7 1.5l.7 .4l.7 .4l.7 .1l.8-.4l.7-2.2l.7 2.1l.7 .2l.7-1.1l.7 .7l.8 .3l.7-.6l.7 .4l.7 .4h.7l.7-.2l.8-.8l.7 .9l.7 .2l.7-.2l.7-.1l.7-.9l.8 .3l.7 .9l.7-1.5l.7-.3l.7 1.4l.7-.4l.8 .6l.7-.2l.7-.6l.7 .9l.7-.2l.7-.7M211.4 18.9l.8 95.5M212.9 18.5h.5h-.5l-.7 95.9M212.9 18.5l.7 .5l.7 .8l.7-.9l.8 .9l.7-.6l.7-.5l.7 1.1h.7l.7-.8l.8 .7l.7 .3l.7-.1l.7-.8l.7-1l.7 1l.8 .2l.7 .1l.7 .3l.7-.3l.7-.6l.7 .9l.8-.3l.7-.5h.7l.7 95.5l.7-1.1l.7-94l.8 .2l.7-.7l.7 1l.7-.9l.7 .9l.7-.7h.8l.7 .4l.7 .2l.7-.9l.7 .5l.7 .2h.8l.7-.1l.7-.5l.7 .9l.7-1l.7 .5l.8 .6l.7-1l.7 .2l.7 .6l.7 .2l.7-.4l.8 .1h.7l.7-.7l.7-.9l.7 .6l.7 1.2l.8-.3l.7 .2l.7-.4l.7-.2l.7 .6l.7-.2l.8 .4l.7-.3l.7-.4l.7 .3l.7-.7l.7 .7l.8-.4l.7 .3l.7 .2l.7-3l.7 3.2l.7-.4l.8-.3l.7-.8l.7 1.6l.7-1l.7 .4l.7-.2l.8 .3l.7 .5l.7-1.1l.7 .2l.7 .6l.7 .2l.8-.6l.7 .1h.7l.7 .3h.7l.7-.7l.8 .4l.7 .2l.7 .4l.7-.7l.7 .1l.7 .5l.8-.3l.7-1l.7 1.4l.7-.4l.7-1l.7 .6l.8-1.2l.7 2l.7-1.1l.7 1.1l.7-.4l.7-.4h.8l.7 .6l.7-1.2l.7 1.3l.7-.6l.7-.2M296.7 19l.8 95.8M298.2 18.5h.5h-.5l-.7 96.3M298.2 18.5h.7l.7 .3l.7 .9l.7-1l.8 .5l.7-.6l.7 .6h.7l.7 .6l.7-.9l.8 .5l.7 .5l.7-.4l.7 .4l.7-.6l.7-.2l.8-1l.7 1.4l.7-.1l.7 .4l.7-1.2l.7-.2l.8 1.4l.7-.1l.7-.7l.7-.2l.7 1l.7-.4l.8 .1l.7 .4l.7-.1l.7-.2l.7-.9l.7 .2l.8 .8l.7-.1l.7-.6l.7 .2l.7 .2l.8-1l.7 1l.7 .5l.7-1.8l.7 1.5l.7-.3l.8-3.3l.7 3.9l.7-.9l.7-.3l.7 .7l.7-.5l.8 .8l.7-.4l.7-.6l.7 1.1l.7-.3l.7-2.2l.8 2.3l.7-1.1l.7 .6l.7 .6l.7 .2l.7-.3l.8 .3l.7-.1l.7-.2l.7 .2l.7-.2l.7-.5l.8 .4l.7-.1l.7-.6l.7 .5l.7-1l.7 1.3l.8-.5l.7 .8h.7l.7-.4l.7 .3l.7-.4l.8 .1l.7 .3M357.7 19.8l.7 94.2M359.1 19.1h1h-1l-.7 94.9M359.1 19.1l.7 .6l.7-.3l.8-.4l.7-.2l.7 .6l.7-.4l.7 .9l.7-.3l.8-.9l.7 .6l.7 .2l.7 .1l.7-.6l.7 .1h.8l.7-2.4l.7 2.8l.7-.2l.7 .1l.7-.2l.8-.5l.7 1.1l.7-.3l.7-.9l.7 .6l.7 .5l.8-.7l.7 .8l.7-.2l.7 .3l.7-.3l.7 .3l.8-.7l.7-1.2l.7 .9l.7 1l.7-.9l.7-.1l.8 1l.7-1.8l.7 1l.7 .8l.7-.5l.7 .2l.8 .1l.7-.7l.7 .3l.7 .1l.7 .2l.7-.2l.8 .2l.7-.3h.7l.7 .6M397.8 19.9l.7 94.3M399.2 19.8h.5h-.5l-.7 94.4M399.2 19.8l.8-.2l.7 .2h.7l.7-.3l.7 12.1l.7-12.7l.8 .7l.7-.1l.7-.9l.7 1.3l.7-.5l.7 .1l.8 .2l.7-1.1l.7 1.1l.7-1.1l.7 .7l.7 .4l.8-.6l.7 .1l.7 .3l.7-.2l.7 .1l.7 .2l.8 5l.7-5.1l.7 .3l.7-.7l.7-2.9l.7 3.1l.8 .5l.7-.4l.7-.1l.7 .1l.7-.3l.7-.1l.8 .2l.7-.2l.7 .4l.7-.2l.7 .1l.7-.3h.8l.7 .4l.7 95.1l.7 4.3l.7-4.4l.8-95.2l.7 .2l.7 .1l.7 .2l.7-.4l.7 .1l.8 .5l.7-1.3l.7 .9l.7-.1l.7-.9l.7 .3l.8 .5l.7-.4l.7 .6l.7-.6l.7 .5l.7 .1l.8 .3l.7 .1l.7-.7l.7 .7l.7-1.2l.7 .4l.8 .5l.7 .1h.7l.7-.7l.7 .7l.7-1.1l.8 .6h.7l.7 .4l.7-.3l.7 .3l.7 .3l.8-.6l.7 .5l.7-.2l.7 .3l.7-.2l.7-.2l.8-.3l.7-.4l.7 .1l.7 .7l.7-.8l.7 .2l.8 .7l.7-.1l.7-.2l.7 .4l.7-.3l.7-.3l.8 .5l.7 .2l.7-1l.7 94.8l.7-.2l.7-93.7l.8-.5l.7 94.8l.7 .6l.7-94.9l.7-.8l.7 95.8l.8-.7l.7-95.7l.7 1l.7 94l.7 .1l.7 .5l.8-94.6l.7 .1l.7 .4l.7-.3l.7 .1l.7-.3l.8 .4l.7 .1l.7-.2l.7-.3l.7-.7l.7 .2l.8-.1l.7 95.3l.7 .3l.7-1l.7 .2l.7 .9l.8-.2l.7-.4l.7 .9l.7-.3l.7-.1l.7 .1l.8-.1l.7-.9l.7-.9h.7l.7 1l.7-.1l.8 1.1l.7-1.5l.7 .5l.7 .9l.7 .3l.7-.2l.8-.1l.7 .1l.7-.7l.7 .3l.7-.7l.7-93.6l.8-1.1l.7 .6l.7 .3h.7l.7-.2l.7-1l.8-2.2l.7 2.6l.7 .7l.7-1.2l.7 .2l.7 1.3l.8-.2l.7-.4l.7-.4l.7 1.1l.7-.4l.7-.5l.8 .6l.7-.3l.7-.5l.7-1l.7 1.7l.7-.1l.8 .5l.7-1.1l.7 .7l.7 .2l.7-.6l.7 .8l.8-1.4l.7 .6l.7 .6l.7-.6l.7-1l.8 1.6l.7-.3l.7-.1l.7 .3l.7 .1l.7-.2l.8-.1l.7 .4l.7-.7l.7 .3l.7 .4h.7l.8-.1l.7-.4l.7-.6l.7 .1l.7 .8l.7-.4h.8l.7 .4h.7l.7 .1h.7l.7-.5l.8 .3l.7-.8l.7 .3l.7 .5l.7 .2l.7-.2h.8l.7 .3l.7-.8l.7 .2l.7 .3l.7-1.1l.8 .9l.7-.1l.7-.4l.7 1l.7-.5l.7-.1l.8 .2l.7 .3l.7-.3l.7-1.2l.7 1.6l.7-1.4l.8 1.1l.7 .1l.7-.4l.7 .4l.7-.8l.7-.4l.8 .3l.7 1l.7 .1l.7-.4l.7-.8l.7 1.2h.8l.7-.7l.7 .3l.7-1.3l.7 1.6l.7-.1l.8-.2h.7l.7-.6l.7 1l.7-.3l.7-.1l.8-.9l.7 .5l.7 .8l.7-.1l.7-.1l.7-.4l.8 .3l.7-.2l.7 .4l.7-1.4l.7 .5l.7 .8h.8l.7-.9l.7 1l.7-.1l.7-.3l.7-.1l.8-.2l.7 .1l.7-.3l.7 .3l.7 94.4l.7 .5l.8-95.1l.7-.6l.7 1.2l.7-.2l.7-.3l.7 .2l.8-.7l.7 95.5l.7 .1l.7 .5l.7-.8l.7 .7l.8-.7l.7-.3l.7 .8l.7-.1h.7h.7l.8 80.3l.7 8.5l.7-.7l.7-8.3l.7-.7l.7 .8l.8-.4l.7 .7l.7-1.4l.7 .7l.7-79.8l.7 .4l.8-.5l.7 .1l.7 .1l.7 .5l.7-1.2l.7 .9l.8-.2l.7 .3l.7 .1l.7-.1l.7 .2" stroke="#0000ff" stroke-dasharray="12.4 11.3"/>
</g>
<g font-size="23.60" fill="#000">
<g text-anchor="middle">
<text transform="translate(0.00,241.65) scale(1,1.070)">0</text>
<text transform="translate(71.68,241.65) scale(1,1.070)">100</text>
<text transform="translate(143.36,241.65) scale(1,1.070)">200</text>
<text transform="translate(215.03,241.65) scale(1,1.070)">300</text>
<text transform="translate(286.71,241.65) scale(1,1.070)">400</text>
<text transform="translate(358.39,241.65) scale(1,1.070)">500</text>
<text transform="translate(430.07,241.65) scale(1,1.070)">600</text>
<text transform="translate(501.74,241.65) scale(1,1.070)">700</text>
<text transform="translate(573.42,241.65) scale(1,1.070)">800</text>
<text transform="translate(645.10,241.65) scale(1,1.070)">900</text>
</g><g text-anchor="end">
<text transform="translate(-8.85,218.95) scale(1,1.070)">0.6</text>
<text transform="translate(-8.85,148.67) scale(1,1.070)">0.7</text>
<text transform="translate(-8.85,78.38) scale(1,1.070)">0.8</text>
<text transform="translate(-8.85,8.10) scale(1,1.070)">0.9</text>
</g></g>
<g font-size="26.10" fill="#000" text-anchor="middle">
<text x="321.85" y="274.35">Data samples</text>
<text transform="translate(-50.10,106.43) rotate(-90)">ERF</text>
</g>
<rect x="470.60" y="11.70" width="158.00" height="57.66" fill="#fff" stroke="#3c3c3c" stroke-width="1.20"/>
<path d="M476.70 27.30H536.70" stroke="#ff0000" stroke-width="4.20" fill="none"/>
<path d="M476.70 53.66H536.70" stroke="#0000ff" stroke-width="4.20" stroke-dasharray="12.4 11.3" fill="none"/>
<g font-size="21.20" fill="#000">
<text x="541.60" y="35.10">Actual</text>
<text x="541.60" y="61.46">Predicted</text>
</g>
</g>
<g transform="translate(901.00,938.50)">
<clipPath id="c8"><rect x="-2.3" y="-1.1" width="649.7" height="212.7"/></clipPath>
<path d="M0 0H645.10V209.35H0Z" fill="none" stroke="#1a1a1a" stroke-width="1.20"/>
<path d="M0.00 209.35v-7.00M0.00 0v7.00M71.68 209.35v-7.00M71.68 0v7.00M143.36 209.35v-7.00M143.36 0v7.00M215.03 209.35v-7.00M215.03 0v7.00M286.71 209.35v-7.00M286.71 0v7.00M358.39 209.35v-7.00M358.39 0v7.00M430.07 209.35v-7.00M430.07 0v7.00M501.74 209.35v-7.00M501.74 0v7.00M573.42 209.35v-7.00M573.42 0v7.00M645.10 209.35v-7.00M645.10 0v7.00M0 209.35h7.00M645.10 209.35h-7.00M0 139.57h7.00M645.10 139.57h-7.00M0 69.78h7.00M645.10 69.78h-7.00M0 0.00h7.00M645.10 0.00h-7.00" fill="none" stroke="#1a1a1a" stroke-width="1.20"/>
<g clip-path="url(#c8)" fill="none" stroke-width="4.20" stroke-linejoin="round">
<path d="M.7 59.3l.7-13.9l.8 13.9l.7-10.5l.7 10.5h.7l.7-13.9l.7 13.9l.8-7l.7 3.5h.7h.7l.7 3.5l.7-13.9l.8 13.9h.7h.7h.7l.7-3.5l.7-10.4l.8 10.4l.7 3.5h.7l.7-13.9l.7 13.9l.7-7l.8 3.5l.7-7l.7 10.5l.7-10.5l.7 7l.7-3.5l.8 7h.7l.7-3.5l.7 3.5l.7-3.5h.7l.8 3.5l.7-3.5l.7-10.4l.7 13.9l.7-13.9l.7 13.9l.8-10.5h.7l.7-3.4h.7l.7 10.4l.7 3.5h.8l.7-3.5h.7l.7 3.5l.7-13.9l.7 10.4l.8-7l.7 10.5h.7h.7l.7-3.5l.7 3.5l.8-3.5h.7l.7-10.4h.7l.7 13.9l.7-3.5l.8 3.5l.7-10.5l.7-3.4l.7 13.9l.7-13.9l.7 13.9h.8l.7-13.9l.7 10.4l.7 3.5l.7-3.5l.7 3.5l.8-3.5h.7h.7l.7-3.5l.7 7l.7-13.9l.8 13.9h.7l.7-3.5h.7l.7-10.4l.7 10.4l.8-7l.7-3.4l.7 13.9h.7h.7l.7-3.5l.8-3.5l.7-3.5l.7 7l.7-10.4l.7 13.9l.7-13.9l.8 13.9l.7-13.9l.7 13.9l.7-13.9l.7 3.4l.7-3.4l.8 6.9l.7 7l.7-13.9l.7 10.4l.7 3.5l.7-7l.8 3.5h.7l.7 3.5h.7l.7-7l.7 3.5l.8-10.4l.7 10.4l.7-7h.7l.7 7h.7h.8l.7 3.5h.7l.7-3.5l.7-10.4l.7 3.4h.8l.7 3.5l.7 7l.7-3.5h.7l.7 3.5l.8-13.9l.7 3.4l.7 7l.7-7l.7 10.5h.7l.8-3.5l.7 3.5h.7h.7l.7-3.5l.8 3.5h.7l.7-3.5l.7-10.4l.7 10.4l.7-10.4h.8l.7 10.4l.7-3.5l.7-6.9h.7l.7 13.9l.8-13.9l.7 13.9l.7-3.5l.7-10.4h.7l.7 13.9h.8l.7-3.5h.7l.7 3.5l.7-3.5h.7h.8l.7 3.5l.7-3.5l.7-10.4h.7h.7l.8 6.9l.7-6.9h.7l.7 13.9l.7-13.9l.7 13.9l.8-13.9l.7 6.9l.7 7h.7h.7l.7-3.5h.8l.7 3.5l.7-13.9l.7 10.4l.7 3.5l.7-3.5l.8 3.5h.7h.7h.7l.7-7l.7 3.5l.8-10.4h.7l.7 13.9h.7h.7h.7l.8-3.5l.7-7l.7 10.5l.7-7l.7 7l.7-13.9h.8l.7 13.9l.7-13.9h.7l.7 13.9h.7l.8-13.9h.7l.7 13.9h.7h.7l.7-13.9l.8 13.9l.7-10.5l.7 10.5l.7-3.5l.7 3.5l.7-3.5h.8l.7 3.5h.7l.7-3.5l.7 3.5l.7-3.5l.8 3.5l.7-13.9l.7 13.9h.7l.7-13.9l.7 13.9l.8-13.9l.7 13.9h.7l.7-7l.7 7h.7l.8-3.5l.7 3.5l.7-10.5l.7 10.5h.7h.7h.8l.7-3.5l.7 3.5h.7l.7-3.5h.7h.8l.7-10.4l.7 6.9l.7-6.9h.7l.7 3.4l.8-3.4l.7 13.9l.7-3.5l.7-10.4l.7 10.4l.7 3.5l.8-10.5l.7 7l.7 3.5l.7-13.9l.7 10.4h.7h.8h.7l.7 3.5h.7h.7l.7-3.5h.8l.7-7l.7 3.5l.7 7l.7-13.9l.7 13.9h.8l.7-7l.7 7l.7-13.9l.7 10.4l.8-3.5l.7-6.9l.7 13.9l.7-13.9l.7 13.9l.7-3.5h.8l.7 3.5h.7h.7h.7l.7-3.5l.8-3.5l.7-6.9l.7 3.4l.7 7l.7-7h.7h.8l.7-3.4l.7 13.9l.7-7l.7 7l.7-13.9l.8 10.4h.7h.7l.7 3.5h.7h.7h.8l.7-3.5l.7 3.5l.7-13.9l.7 10.4l.7 3.5l.8-3.5h.7l.7-3.5l.7 7l.7-13.9l.7 10.4l.8 3.5l.7-13.9l.7 13.9l.7-10.5h.7l.7 7l.8-3.5l.7 7l.7-3.5l.7-3.5l.7-6.9l.7 10.4l.8 3.5l.7-3.5l.7-7l.7 10.5h.7l.7-3.5l.8-10.4h.7h.7l.7 13.9l.7-3.5l.7-10.4l.8 13.9h.7h.7h.7h.7h.7h.8h.7h.7l.7-13.9l.7 13.9h.7l.8-13.9h.7l.7 3.4l.7 7l.7 3.5l.7-13.9l.8 3.4l.7-3.4l.7 10.4l.7 3.5l.7-3.5l.7 3.5l.8-7l.7-6.9h.7l.7 3.4l.7-3.4l.7 10.4l.8 3.5l.7-3.5l.7-7l.7-3.4l.7 13.9l.7-13.9l.8 13.9h.7h.7l.7-13.9l.7 13.9h.7h.8h.7l.7-13.9l.7 3.4h.7l.7 10.5h.8l.7-13.9h.7h.7h.7l.7 13.9l.8-13.9l.7 13.9l.7-13.9l.7 10.4l.7-10.4h.7l.8 10.4h.7h.7l.7-3.5l.7 3.5l.7 3.5h.8h.7l.7-3.5l.7-10.4h.7l.7 10.4l.8-10.4l.7 10.4l.7-7l.7-3.4l.7 13.9h.7l.8-13.9l.7 13.9h.7l.7-7l.7-3.5h.7l.8 7l.7 3.5h.7l.7-3.5l.7-10.4l.8 13.9l.7-10.5l.7-3.4h.7l.7 10.4l.7 3.5h.8l.7-10.5l.7-3.4h.7l.7 13.9h.7l.8-10.5h.7l.7 10.5l.7-10.5l.7-3.4l.7 13.9h.8h.7l.7-3.5l.7 3.5h.7h.7l.8-13.9l.7 13.9l.7-3.5l.7-7l.7-3.4l.7 6.9l.8-6.9l.7 3.4l.7 10.5l.7-13.9h.7l.7 13.9l.8-13.9l.7 6.9l.7 7l.7-13.9h.7h.7l.8 13.9l.7-13.9l.7 6.9l.7-6.9l.7 10.4l.7-10.4l.8 3.4l.7-3.4l.7 6.9h.7l.7 7h.7h.8h.7l.7-3.5h.7l.7 3.5l.7-13.9l.8 13.9l.7-10.5l.7-3.4h.7l.7 10.4l.7 3.5l.8-3.5l.7-10.4l.7 13.9h.7l.7-13.9h.7l.8 10.4l.7 3.5l.7-13.9l.7 10.4l.7 3.5h.7l.8-13.9l.7 13.9l.7-3.5h.7l.7 3.5l.7-10.5l.8 10.5h.7h.7h.7l.7-13.9l.7 10.4l.8 3.5l.7-3.5h.7l.7 3.5h.7l.7-10.5l.8 10.5l.7-13.9l.7 13.9l.7-13.9l.7 10.4h.7l.8-7l.7 10.5l.7-3.5h.7l.7-10.4l.7 3.4l.8-3.4l.7 10.4l.7 3.5l.7-3.5l.7-10.4l.7 6.9l.8-6.9h.7l.7 3.4l.7 10.5h.7l.7-7l.8-6.9h.7h.7l.7 13.9l.7-3.5l.7-10.4l.8 13.9l.7-13.9l.7 13.9h.7h.7l.7-3.5h.8l.7 3.5l.7-3.5l.7 3.5h.7h.7h.8h.7l.7-3.5h.7l.7 3.5h.7l.8-3.5l.7-10.4l.7 10.4h.7l.7 3.5l.8-13.9l.7 13.9h.7h.7l.7-3.5h.7l.8 3.5h.7l.7-3.5l.7 3.5h.7l.7-3.5l.8 3.5l.7-3.5l.7 3.5l.7-3.5l.7 3.5l.7-3.5l.8-10.4l.7 10.4h.7h.7l.7-10.4l.7 13.9l.8-13.9l.7 6.9l.7 7h.7h.7l.7-13.9l.8 13.9h.7l.7-13.9l.7 13.9l.7-3.5l.7 3.5h.8h.7l.7-3.5h.7h.7l.7-10.4l.8 13.9l.7-13.9l.7 3.4l.7 3.5l.7-3.5l.7 10.5h.8l.7-3.5h.7h.7l.7 3.5l.7-3.5l.8 3.5h.7h.7l.7-3.5h.7l.7 3.5l.8-3.5h.7h.7l.7 3.5l.7-3.5h.7l.8 3.5l.7-3.5l.7-10.4l.7 10.4l.7-10.4h.7l.8 13.9h.7l.7-13.9l.7 13.9h.7l.7-7l.8-3.5l.7-3.4h.7l.7 6.9l.7-3.5l.7 7l.8-10.4l.7 13.9h.7l.7-3.5h.7h.7h.8h.7h.7l.7 3.5l.7-3.5h.7l.8 3.5l.7-3.5h.7h.7l.7 3.5h.7h.8l.7-3.5l.7 3.5h.7h.7l.7-3.5l.8 3.5l.7-3.5h.7h.7l.7 3.5h.7l.8-3.5l.7 3.5l.7-10.5h.7l.7 10.5l.7-13.9l.8 3.4l.7 7h.7l.7-3.5l.7-6.9l.7 13.9h.8h.7l.7-10.5l.7 10.5l.7-13.9l.7 6.9l.8 3.5l.7 3.5l.7-13.9l.7 13.9l.7-7l.7-6.9l.8 6.9l.7 7h.7h.7l.7-10.5l.7 10.5l.8-13.9h.7l.7 6.9l.7-6.9l.7 6.9l.8 7l.7-3.5l.7 3.5l.7-3.5l.7-10.4l.7 10.4l.8-7l.7 7l.7-7l.7 10.5l.7-13.9l.7 10.4l.8 3.5l.7-3.5l.7 3.5h.7l.7-10.5l.7 7h.8l.7 3.5l.7-13.9h.7l.7 10.4l.7 3.5l.8-3.5l.7-10.4l.7 6.9l.7 7h.7l.7-13.9l.8 13.9l.7-7h.7l.7 7l.7-3.5l.7-10.4h.8l.7 13.9h.7h.7h.7l.7-13.9l.8 13.9l.7-3.5l.7-10.4l.7 10.4l.7 3.5h.7h.8h.7l.7-13.9l.7 10.4h.7l.7 3.5l.8-3.5l.7-10.4l.7 13.9l.7-10.5l.7 10.5l.7-3.5l.8-7l.7 7h.7h.7h.7l.7-10.4l.8 10.4h.7l.7 3.5h.7l.7-3.5l.7-7l.8 10.5h.7l.7-3.5l.7-10.4h.7l.7 13.9h.8l.7-7l.7 7l.7-3.5l.7 3.5h.7l.8-7l.7 7l.7-13.9h.7l.7 10.4l.7-10.4l.8 13.9h.7l.7-3.5l.7 3.5l.7-10.5l.7 10.5l.8-10.5l.7 10.5l.7-3.5l.7-10.4l.7 13.9h.7l.8-13.9l.7 13.9l.7-13.9l.7 10.4l.7-10.4l.7 13.9l.8-7l.7-3.5l.7 10.5l.7-7l.7-6.9l.7 10.4l.8 3.5l.7-7l.7-6.9l.7 10.4l.7-10.4l.7 10.4h.8h.7l.7 3.5h.7l.7-7l.7-6.9l.8 13.9l.7-13.9l.7 13.9l.7-3.5l.7 3.5h.7l.8-7l.7-6.9l.7 6.9l.7 7l.7-10.5" stroke="#ff0000"/>
<path d="M.7 58.3l.7-8l.8 6.6l.7-5.7l.7 6.8l.7-.5l.7-9.1l.7 9.1l.8-2.7l.7-.3l.7 2.5l.7-.1l.7 2.1l.7-9.3l.8 7.9l.7 1.5l.7-.1l.7-.8l.7-3.3l.7-4.3l.8 4.2l.7 4l.7-1.8l.7-6.8l.7 6.7l.7-4.5l.8 2.2l.7-3.4l.7 5.6l.7-6l.7 6.4l.7-3.5l.8 4.7h.7l.7-2.5l.7 2.2l.7-1.9l.7 .7l.8 1.4l.7-1.9l.7-8l.7 11l.7-9l.7 7.5l.8-5.2l.7-.5l.7-3.4l.7-.7l.7 8.2l.7 3.1l.8-1.2l.7-1.9l.7 .1l.7 1.3l.7-8l.7 6.6l.8-5.3l.7 7l.7-.1l.7 .6l.7-2.5l.7 1.7l.8-3.1l.7 .5l.7-6.9l.7 .3l.7 10.9l.7-3l.8 2.4l.7-7.1l.7-3l.7 8.8l.7-6.9l.7 8.7l.8-.7l.7-7.9l.7 5l.7 3.2l.7-4.4l.7 3.1l.8-2.4l.7 .9l.7-.1l.7-1.3l.7 3.7l.7-10.3l.8 8.7l.7 .6l.7-2l.7 1.5l.7-8.9l.7 6.8l.8-2.7l.7-3l.7 9.6l.7-1.7l.7 1.7l.7-3.9l.8-2.2l.7-.2l.7 2.8l.7-4.5l.7 7.8l.7-8.3l.8 8.2l.7-9.3l.7 9.8l.7-9.6l.7 2.6l.7-3l.8 4.3l.7 5.6l.7-10.4l.7 8.8l.7-.3l.7-2.8l.8 2.3l.7-1.6l.7 3.7l.7-.3l.7-5l.7 3l.8-7.7l.7 7.9l.7-4.5l.7 .2l.7 4.2l.7 .5l.8-.3l.7 2l.7-1.8l.7-1.5l.7-6.6l.7 1.9l.8 1.9l.7 .4l.7 6.3l.7-2.3l.7 .2l.7 .4l.8-7.9l.7 1.6l.7 5.6l.7-6.5l.7 8l.7 .9l.8-3.6l.7 3.4l.7-1.6l.7 1.7l.7-2.6l.8 1l.7 .2l.7-1.8l.7-5.3l.7 6.3l.7-8.6l.8 1.7l.7 5.9l.7-2.6l.7-3.1l.7-.1l.7 7l.8-8.6l.7 10l.7-2.3l.7-5.3l.7-1.5l.7 8l.8-.6l.7-.5l.7-.8l.7 1.7l.7-2l.7 1.3l.8 .3l.7 .6l.7-1.2l.7-7.4l.7 .1l.7 .8l.8 4.3l.7-3.7l.7-.6l.7 7.7l.7-8.8l.7 10.3l.8-8.8l.7 2.9l.7 4.1l.7 1.7l.7-.2l.7-3.5l.8 1.8l.7 .4l.7-7.7l.7 7.2l.7 1.9l.7-2.2l.8 2l.7 .5l.7-1.4l.7 1.5l.7-3.9l.7 1.5l.8-7l.7-1.4l.7 11.2l.7-2.1l.7 1.3h.7l.8-2.8l.7-5.6l.7 9.2l.7-6.7l.7 6.2l.7-8.1l.8-.9l.7 6.8l.7-7.2l.7-.2l.7 8l.7 1.3l.8-8.8l.7-.2l.7 8.2l.7-.9l.7 .3l.7-7.9l.8 8.2l.7-6.4l.7 7.6l.7-1.6l.7 .6l.7-.5l.8-1.5l.7 3.4l.7-1.1l.7-1.9l.7 .8l.7-.6l.8 2.7l.7-9.6l.7 8.2l.7-.3l.7-7.1l.7 6.9l.8-8.1l.7 10.4l.7-1.3l.7-5.3l.7 5.7l.7 .8l.8-2.6l.7 2.3l.7-7.9l.7 6.7l.7-1l.7 1.6l.8 .8l.7-2.1l.7 .6l.7-.8l.7-.3l.7-1.1l.8 .5l.7-7.7l.7 4.1l.7-3.2l.7-.2l.7 2.7l.8-3.5l.7 11.1l.7-2.3l.7-7.5l.7 5.9l.7 1.6l.8-4.4l.7 2l.7 2.5l.7-8.6l.7 8.1l.7-.1l.8-1.5l.7-.4l.7 2.7l.7 .4l.7-.3l.7-.6l.8-1.8l.7-3.1l.7 1.9l.7 3.9l.7-7.8l.7 7l.8 1.4l.7-4.6l.7 4.3l.7-8.9l.7 6.3l.8-1.3l.7-5.3l.7 10.6l.7-10.1l.7 9.7l.7-3.8l.8 1.2l.7 1.7l.7 .8l.7-1.5l.7 .9l.7-3.6l.8-1.5l.7-3.8l.7 3.4l.7 2.8l.7-4.4l.7 1.3l.8-1.5l.7-1.8l.7 9.2l.7-4l.7 4.6l.7-9.9l.8 7.4l.7 .6l.7-.2l.7 1.9l.7-.5l.7 .3l.8 .3l.7-4.2l.7 2.9l.7-9.1l.7 6.3l.7 2l.8-.5l.7-1.2l.7-.6l.7 2.3l.7-6l.7 4.8l.8 2.1l.7-8.7l.7 7.7l.7-4.7l.7 .4l.7 4.6l.8-1.9l.7 2.7l.7-1.5l.7-3.6l.7-2l.7 5.4l.8 3.2l.7-3.4l.7-3.5l.7 5.2l.7 1.7l.7-3.6l.8-6.5l.7-.1l.7 .7l.7 7.4l.7-2.6l.7-4.3l.8 9.1l.7-1.4l.7 1l.7 .4l.7-.6l.7 .4l.8 .2l.7-2.5l.7 .5l.7-8.8l.7 10.6l.7-2.3l.8-8.1l.7 .3l.7 1.2l.7 6.7l.7-.1l.7-6.5l.8 .6l.7-2.7l.7 6.5l.7 3.1l.7-3.2l.7 2.7l.8-2.5l.7-6.8h.7l.7 3.7l.7-3.3l.7 6.8l.8 2.2l.7-2l.7-5.1l.7-.4l.7 7.5l.7-8.7l.8 10.5l.7-.5l.7-.4l.7-9.9l.7 9.2l.7 1l.8-1.8l.7 2.4l.7-11.2l.7 3.4l.7 .2l.7 7.4l.8-.5l.7-9.4l.7 .2l.7 1.4l.7-2.2l.7 10.8l.8-10l.7 8.6l.7-7.6l.7 5.1l.7-5.3l.7-1.7l.8 6l.7 .6l.7 1.6l.7-2.4l.7 1.7l.7 1.6l.8-.8l.7 1l.7-2.7l.7-6.4l.7 .9l.7 6.5l.8-7.4l.7 7.8l.7-4.8l.7-1.2l.7 8l.7-.7l.8-9.3l.7 10l.7-.3l.7-5.4l.7-2.4l.7 .7l.8 6.1l.7 1.4l.7-1.6l.7-1l.7-7.5l.8 10l.7-6.7l.7-1.4l.7-2.1l.7 7.9l.7 1.7l.8-.9l.7-6.7l.7-1.2l.7 .6l.7 7.6l.7 .4l.8-5.3l.7-2l.7 7.9l.7-6.9l.7-1.5l.7-9.1l.8 16l.7 1.4l.7-1.8l.7 1.5l.7-1.2l.7 .2l.8-8.1l.7 8.2l.7-.9l.7-5.9l.7-.4l.7 3.7l.8-3.9l.7 2.1l.7 5.6l.7-8.8l.7 .6l.7 8.4l.8-6.9l.7 2l.7 5l.7-8.6l.7 .8l.7-1.4l.8 9.5l.7-9.4l.7 6l.7-6l.7 6.5l.7-6.8l.8 2.6l.7-1.7l.7 6l.7-1.4l.7 3l.7 1.4l.8 .3l.7-1.6l.7-.2l.7-1.7l.7 2.1l.7-7.1l.8 9.2l.7-6.2l.7-2.8l.7-1.3l.7 7l.7 3.5l.8-3.7l.7-7l.7 10.1l.7-1.7l.7-8l.7-.4l.8 6.8l.7 3.3l.7-9.9l.7 7.4l.7 2.1h.7l.8-9.3l.7 8l.7-1.6l.7 .5l.7 1.8l.7-6.3l.8 7.4l.7 .7l.7-2.6l.7 1.9l.7-8.9l.7 5l.8 2.2l.7-.3l.7-2.1l.7 3.7l.7 .6l.7-6.4l.8 5.3l.7-8.4l.7 8.4l.7-8.2l.7 5.7l.7 .9l.8-5.6l.7 6.8l.7-.7l.7-1M402.1 55.8l.7 139.6M403.5 52.8h2h-2l-.7 142.6M403.5 52.8l.8-2.2l.7 4.9l.7 1.3h.7l.7-6.7l.7 2.9l.8-3.2l.7-1.4l.7 3.5l.7 6.1l.7-1.2l.7-2.9l.8-5.2l.7 1l.7-1.6l.7 9.2l.7-1l.7-5.8M416.4 50.5l.8 54.2M417.9 49.2h2h-2l-.7 55.5M417.9 49.2l.7 8.2l.7-.7l.7 .5l.7-2.5l.8 .4l.7 3.4l.7-3.8l.7 3.5l.7-.8h.7l.8 1.6l.7 .4l.7-2.8l.7-.1l.7 1.6l.7-.6l.8-.6l.7-8.2l.7 7.4l.7-1.1l.7 3.4l.8-9.2l.7 8.6l.7 1.3l.7-.1l.7-2.2l.7-.7l.8 1.1l.7 .3l.7-.6l.7 .5l.7-.4l.7-.7l.8 1.2l.7-2.4l.7 1.9l.7-.3l.7 .7l.7-2l.8-6.5l.7 7.3l.7 1l.7-2l.7-5.7l.7 9.9l.8-9.2l.7 3l.7 5.2l.7-1.1l.7 .2l.7-8.7l.8 8.9l.7-.1l.7-7l.7 6.4l.7-.9l.7 3l.8-2.4l.7-13.4l.7 11.8l.7-.4l.7 .6l.7-6.3l.8 8.3l.7-7.8l.7 2.1l.7 1.1l.7-.2l.7 4.5l.8 .7l.7-2l.7-1.2l.7 1.8l.7 2.2l.7-2.8l.8 1.1l.7 1.6l.7 .8l.7-4.7l.7 2l.7 1.8l.8-1.8l.7 .6l.7-.6l.7 2.2l.7-1.7l.7 .1l.8 .7l.7-1.1l.7-7.8l.7 7.1l.7-7.8l.7 .2l.8 10.2l.7-.9l.7-7l.7 6.6l.7 1.2l.7-4.7l.8-1.9l.7-2.3l.7 .6l.7 2.5l.7-1.6l.7 5.9l.8-6.7l.7 6.7l.7 .3l.7-2.2l.7 1.5l.7 .1l.8-.3l.7-1.8l.7 .1l.7 3.7l.7-3.1l.7 1.7l.8 1.3l.7-1.3l.7-1.3l.7 .8l.7 2.1l.7-.3l.8 .7l.7-4l.7 4l.7-.7l.7 .4l.7-2.8l.8 3.5l.7-4.2l.7 .5l.7-.2l.7 1.7l.7 .8l.8-3l.7 2.2l.7-6.9l.7 2.2l.7 6l.7-9l.8 1.5l.7 4.4l.7 .5l.7-3.1l.7-4.8l.7 10.8l.8 .7l.7-.9l.7-8.2l.7 8.8l.7-9.9l.7 4.2l.8 2.3l.7 1.7l.7-9.5l.7 8.9l.7-2.7l.7-6l.8 6.2l.7 4.4l.7-2.1l.7 2.6l.7-7.6l.7 5.1l.8-8.7l.7 2.4l.7 3.6l.7-3.8l.7 3.5l.8 3.9l.7-1.6l.7 .8l.7-1.2l.7-5.5l.7 5.9l.8-5.1l.7 4l.7-3.9l.7 7.5l.7-10l.7 6.4l.8 2.6l.7-2.9l.7 3l.7 1.6l.7-6.8l.7 2.3l.8 2.5l.7 1.3l.7-10.5l.7 .9l.7 7l.7 3.1l.8-2.4l.7-7.6l.7 3.5l.7 6.7l.7-.3l.7-8.7l.8 8l.7-4.1l.7 .4l.7 2.6l.7-2.2l.7-5.1l.8 .5l.7 7.2l.7 1.7l.7-.9l.7-1l.7-6.8l.8 6.3h.7l.7-8.4l.7 7.6l.7 1.9l.7-1.3l.8 .4h.7l.7-8.5l.7 8.3l.7-2l.7 2.6l.8-1.1l.7-5.8l.7 8.6l.7-7.9l.7 7.7l.7-3.7l.8-4.1l.7 5.4l.7-.3l.7 .9l.7-2.6l.7-6l.8 7.5l.7-.1l.7 1.4l.7-.6l.7 .1l.7-4.4l.8 5l.7 .1l.7-1.7l.7-6.4l.7 .3l.7 6.9l.8 .5l.7-2.5l.7 3.2l.7-3.3l.7 3.9l.7 .4l.8-4.9l.7 5.2l.7-9.6h.7l.7 5.1l.7-4.8l.8 8.2l.7-.1l.7-2.6l.7 2.3l.7-5.5l.7 7l.8-8.9l.7 7.8l.7-1.8l.7-7.8l.7 10.3l.7-1.5l.8-7.3l.7 8.7l.7-9.9l.7 6.9l.7-5.7l.7 9.1l.8-5.3l.7-1.7l.7 7.1l.7-4.3l.7-6.4l.7 7.1l.8 3l.7-3.9l.7-4.2l.7 5.7l.7-6l.7 6.8l.8 .2l.7-2.1l.7 3.9l.7-1.5l.7-2.9l.7-4.6l.8 7.5l.7-9.2l.7 8.6l.7-1.2l.7 1.3l.7 1.1l.8-4.1l.7-4l.7 5l.7 1.7l.7-4.8" stroke="#0000ff" stroke-dasharray="12.4 11.3"/>
</g>
<g font-size="23.60" fill="#000">
<g text-anchor="middle">
<text transform="translate(0.00,240.15) scale(1,1.070)">0</text>
<text transform="translate(71.68,240.15) scale(1,1.070)">100</text>
<text transform="translate(143.36,240.15) scale(1,1.070)">200</text>
<text transform="translate(215.03,240.15) scale(1,1.070)">300</text>
<text transform="translate(286.71,240.15) scale(1,1.070)">400</text>
<text transform="translate(358.39,240.15) scale(1,1.070)">500</text>
<text transform="translate(430.07,240.15) scale(1,1.070)">600</text>
<text transform="translate(501.74,240.15) scale(1,1.070)">700</text>
<text transform="translate(573.42,240.15) scale(1,1.070)">800</text>
<text transform="translate(645.10,240.15) scale(1,1.070)">900</text>
</g><g text-anchor="end">
<text transform="translate(-8.85,217.45) scale(1,1.070)">-40</text>
<text transform="translate(-8.85,147.67) scale(1,1.070)">-20</text>
<text transform="translate(-8.85,77.88) scale(1,1.070)">0</text>
<text transform="translate(-8.85,8.10) scale(1,1.070)">20</text>
</g></g>
<g font-size="26.10" fill="#000" text-anchor="middle">
<text x="321.85" y="272.85">Data samples</text>
<text transform="translate(-53.00,106.67) rotate(-90)">DC Value</text>
</g>
<rect x="470.70" y="12.00" width="158.00" height="57.66" fill="#fff" stroke="#3c3c3c" stroke-width="1.20"/>
<path d="M476.80 27.60H536.80" stroke="#ff0000" stroke-width="4.20" fill="none"/>
<path d="M476.80 53.96H536.80" stroke="#0000ff" stroke-width="4.20" stroke-dasharray="12.4 11.3" fill="none"/>
<g font-size="21.20" fill="#000">
<text x="541.70" y="35.40">Actual</text>
<text x="541.70" y="61.76">Predicted</text>
</g>
</g>
<g transform="translate(93.96,1263.80)">
<clipPath id="c9"><rect x="-2.1" y="-1.1" width="600.3" height="198.2"/></clipPath>
<path d="M0 0H595.99V195.00H0Z" fill="none" stroke="#1a1a1a" stroke-width="1.20"/>
<path d="M0.00 195.00v-6.72M0.00 0v6.72M74.50 195.00v-6.72M74.50 0v6.72M149.00 195.00v-6.72M149.00 0v6.72M223.50 195.00v-6.72M223.50 0v6.72M298.00 195.00v-6.72M298.00 0v6.72M372.49 195.00v-6.72M372.49 0v6.72M446.99 195.00v-6.72M446.99 0v6.72M521.49 195.00v-6.72M521.49 0v6.72M595.99 195.00v-6.72M595.99 0v6.72M0 183.00h6.72M595.99 183.00h-6.72M0 140.65h6.72M595.99 140.65h-6.72M0 98.30h6.72M595.99 98.30h-6.72M0 55.95h6.72M595.99 55.95h-6.72M0 13.60h6.72M595.99 13.60h-6.72" fill="none" stroke="#1a1a1a" stroke-width="1.20"/>
<g clip-path="url(#c9)" fill="none" stroke-width="3.88" stroke-linejoin="round">
<path d="M.7 4.7l.8-.3l.7-.1l.8 1l.7 .3l.8-1.4l.7 .8l.8 .3h.7l.7 .1l.8-.8l.7 .6l.8 .4l.7-.4l.8-.5l.7 .4l.8-.7l.7 .9l.8-.3l.7-.3l.7 .9l.8-.9l.7 .8l.8-.5l.7-.6l.8-.5l.7 1.5l.8-.1l.7-.3l.7 .2l.8-.7l.7 .8l.8-1.7l.7 195.8l.8-193.9l.7 .1l.8-.3l.7 .1l.8-.1l.7-.3l.7 .2l.8-5.3l.7 4.6l.8-.2l.7 1.1l.8-.9l.7 .4h.8l.7-.6l.7 1l.8 .2l.7-.1l.8 .2l.7-2.9l.8 2.5l.7 .4l.8-.9h.7l.8 .9l.7-.2l.7-.5l.8 .7l.7-.8l.8-1l.7 1.1l.8-.2l.7 .7l.8-.8l.7 .8l.7-.1l.8-.2l.7-.7l.8 1.1l.7-.5l.8-.7l.7 1.2l.8-.2l.7-1.1l.8 .9l.7 .4l.7-1.4l.8 .4l.7-.3h.8l.7 1.4l.8-.2h.7l.8-1.9l.7 1.7l.7-1l.8 1.1l.7-.9l.8 .4l.7 .2l.8-.8l.7-.4l.8 1.4l.7 85.8l.8-85.6l.7-.4l.7-1.1l.8 1.2l.7 .3l.8-.1l.7 .3l.8-.6l.7-.1l.8 .2l.7-.1l.7 .1l.8-1.1l.7-.3l.8 80.1l.7-78.8l.8-1.3l.7 1.2l.8-1.9l.7 2.2l.8-1.2l.7 1.5l.7-.9h.8h.7l.8-1.5l.7 1.3l.8 .8l.7-.2l.8 .3h.7l.7 .3l.8-.1l.7-.3l.8 .4l.7-.5l.8 82.6l.7-82.2l.8-2.9l.7 1.9l.8 1.1l.7-.4l.7-.3l.8 .4l.7-.6l.8 .3l.7 .3l.8 .1l.7 .2l.8-1.4l.7 .9l.7 .5l.8-.1h.7l.8-1.2l.7-.2l.8 1.3l.7-1.2l.8 .7l.7-1.3l.8 2l.7-.2l.7-.3l.8 .3l.7-.9l.8 .1l.7 .4l.8-.4l.7-.7l.8-.2l.7 .7l.7-1.4l.8 2.6l.7-.5l.8-.2l.7 .2h.8l.7 .3l.8 .1h.7l.8-.4l.7 .3l.7-.8l.8 .4l.7-.5l.8 .9l.7 .2l.8-1.2l.7 1l.8-2.3l.7 2l.7 .3l.8-.1l.7-.5l.8 .8l.7-.3l.8 .1h.7l.8-.8l.7 .5l.8-.3l.7-.9l.7 1.6l.8-.6l.7 .1l.8-.3l.7-.2l.8 .4l.7 86.2l.8 .3l.7 .2l.7-86.9l.8-.3l.7 1l.8-.9l.7 .6l.8 .3l.7-.9l.8-.3l.7 1.4l.8-.2l.7-1.2l.7-.2l.8 .2l.7 .2h.8l.7-1.4l.8 1.3l.7 1.2l.8-.2l.7 .3l.7-.1l.8-1.8l.7 1.9l.8-1.7l.7 1.5l.8-.2l.7-.6l.8 .2l.7-.9l.8 1.3l.7-.5l.7 .4l.8-2l.7 2.4l.8-.3l.7 .2l.8-.3l.7 .4l.8-1.1l.7-1.4l.7 1l.8 1l.7 .3h.8l.7 .2l.8-2.6l.7 2.5l.8 .1h.7l.8-1.9l.7 .4l.7 1.6l.8-1.8l.7 .3l.8 1.1l.7-.4l.8-.4l.7 .9l.8-1l.7 1.3l.7-.5l.8-.7l.7-.3l.8 .8l.7-1.1l.8-.9l.7 1.9l.8-.1l.7-.3l.8 .3l.7 .3l.7-1l.8 1.4l.7-.4l.8-.1l.7 .1l.8-.6l.7 1.2l.8-.1l.7-1.9l.7 .6l.8 .9l.7-.2l.8 .2l.7-.9l.8 .7l.7-.8l.8 .7l.7 .1l.8 .2l.7 .2l.7-.6l.8 .4l.7-.7l.8 .7l.7 .5l.8-.2l.7-2.3l.8 1.7l.7-.1l.7 .7l.8-1.5l.7 .8l.8 .9l.7-.4l.8-.7l.7 .8l.8-.4l.7-.2l.8-.6l.7 1.5l.7-.2l.8-1.5l.7 1.6l.8-.9l.7-1.3l.8 1.8l.7-.2h.8l.7-.2l.7 .1l.8-.8l.7-.1l.8 .1l.7 1.2l.8-.2h.7l.8 .4l.7 .1l.8-.4l.7-2.4l.7 2.6l.8-1l.7-.4l.8 .2l.7-.2l.8 .6l.7-.7l.8 1.2l.7-.6l.7 1.1l.8-1.8l.7 1.6l.8 .3h.7l.8-1.2h.7l.8 .9l.7-.4l.8 .6l.7-1l.7 .3l.8-2.5l.7 1.1l.8 2.1l.7-1l.8-.3l.7 .3l.8 .4l.7 .3l.7-1.2l.8 1l.7-.2l.8 .4l.7 .4l.8-.8l.7-.4l.8 .3l.7 .7l.8-.6h.7l.7 .1l.8 .7l.7-.1l.8-1.1l.7 .5l.8 .7l.7-1.5l.8 1.4l.7-.2l.7-.4l.8-.2l.7-.2l.8 1l.7-.5h.8l.7 .3l.8-1.1l.7 1.3l.8-.7l.7 .4l.7 .2l.8-.6l.7 .8l.8-.8l.7-.6l.8 .5l.7-.1l.8 1l.7-1.4l.7 .5l.8-.7l.7 .3l.8-.2l.7 1.5l.8-.3l.7 .2l.8-.1h.7l.7-1l.8-.1l.7-.5l.8 1.1l.7 .5l.8-.1l.7 .2l.8-2.8l.7 1.9l.8 .1l.7 .1l.7 .6l.8-.6l.7 .5l.8-1.6l.7 1.1l.8 .3l.7 .2l.8-1.4l.7 1.4l.7-1.1l.8 1.3l.7-1.2l.8 .3l.7 .6l.8 .2l.7 .2l.8-1.6l.7 .8l.8 .8l.7-.4h.7l.8-.9l.7-.2l.8-1.1l.7 2.4l.8-1l.7 1.2h.8l.7-.2l.7-.1l.8-.1l.7-.2l.8 .5l.7-.8l.8 .7l.7-.8l.8 1l.7-1.7l.8 1.6l.7-1l.7-.8l.8 .5l.7-.1l.8 .6l.7 .9l.8-.2l.7-.3l.8 .5l.7-.2l.7-3l.8 2.2l.7 .7l.8-.9l.7 .4l.8-.2l.7 .2l.8 .1l.7-.6l.8 .8h.7l.7-1.6l.8 1.7l.7 .1l.8 .1l.7-.9l.8 .7l.7-2.3l.8 2.6l.7-.2l.7-.5l.8-.1l.7 .9l.8-.6h.7l.8 .3l.7-2.1l.8 2.3l.7-1l.8-.5l.7 1.4h.7l.8-1.7l.7 .9l.8 .6l.7-.6l.8-.6l.7 1.2l.8 .4l.7-1.2l.7 .1l.8-.1l.7 .3l.8 .9l.7-1.3l.8 .9l.7-.6l.8 .6l.7-1.1l.8 .9l.7-.1l.7-.8l.8-.9l.7 2l.8-1.7l.7 1.2l.8 .7l.7-.5l.8 .7l.7-.1l.7-.8l.8-.4l.7 1.2l.8-.4h.7l.8-.9l.7 .8l.8 .2l.7-.1l.8-1.9l.7 .3l.7 .6l.8 .2l.7 1.2l.8-1.1l.7 1.2l.8-.4l.7 .3l.8-.5l.7 .3l.7-.5l.8 .6l.7 .2l.8-1.3l.7 1.1l.8-.1l.7-.1l.8-1.1l.7-.1l.8 1.2l.7-1l.7 .2l.8 1l.7-2.4l.8 2.1l.7 81.3l.8-80.9l.7-1.9l.8-.4l.7 1.4l.7 .2l.8 .1l.7 .2l.8 .4l.7-1.7l.8 1.3l.7 .5l.8-3.3l.7 1.6l.8 1.1l.7-.1l.7-.1l.8 .7l.7-.4l.8-.3l.7 .7l.8-.6l.7-.8l.8 1.3l.7 .1l.7-1.1l.8-1l.7 .3l.8 1.9l.7-1.2l.8 1.2l.7-1.2l.8 .7l.7-.2l.8-.5l.7 .5l.7 .6l.8-1.9l.7 1.9l.8-.4l.7-.5l.8-1.6l.7 1.9l.8 .2l.7-.7l.7 1.2l.8-1.1l.7 .7l.8 .1l.7-.3l.8 .3h.7l.8-2.6l.7 2l.8-1.1l.7 .6l.7 .8l.8-1l.7-.6l.8 1.4l.7-.4l.8 1l.7 193l.8-193l.7 .2l.7-.6l.8 .2l.7-.2l.8 .4l.7-.2l.8-.3l.7-.6l.8 1.3l.7-1l.8 .7l.7-.9l.7 .9l.8-.2l.7-.3l.8-.4l.7 .3l.8 .2l.7 .7l.8-.4l.7-.4l.7 .8l.8-1.1l.7 .3l.8-.1l.7-.1l.8 .6l.7-.2l.8-2.5l.7 3l.8-.1l.7 .1h.7l.8-.3l.7-.8l.8 .5l.7-.4l.8 .2l.7-.9l.8 1.5l.7 .1l.7-1.6l.8 1.2h.7l.8 .5l.7-.8l.8 .5l.7-.3l.8 .5l.7-1.3l.8 1.5l.7-1.3l.7 .9l.8-.6l.7 .4l.8 .5l.7 .1l.8-.1l.7-.4l.8 .1l.7-.1l.7-.3l.8-.2l.7-.8l.8 1l.7 .5l.8-.8l.7 .9l.8 .2h.7l.8-.5l.7-.9l.7 1.3l.8 .1l.7-.5l.8-.2h.7l.8-.8l.7-1.1l.8 2.3l.7 .3l.7-2.3l.8 1.9l.7-1l.8 1.2l.7-.1l.8 .2l.7-.5l.8 .4l.7-.3l.8 .4l.7-4.1l.7 3.6l.8 .1h.7l.8 .2h.7l.8-.4l.7 .7l.8-1.9l.7 1.6l.7-.2l.8-1.4l.7 .8l.8 .2h.7l.8 .4l.7 .4l.8-.2l.7-.6l.8 .7l.7-.2l.7-1.1l.8 .3l.7 .4l.8-.2l.7 1l.8-1.1l.7 .2l.8 .6l.7-.2l.7 .4" stroke="#ff0000"/>
<path d="M.7 5.5l.8 .1l.7-.3l.8-.4l.7 .4l.8-.3l.7 .3l.8 .2l.7-1.1l.7 1.1h.8l.7-.1l.8 .2h.7l.8-.3l.7 .1l.8-.1l.7-2l.8 .7l.7 1.5l.7-.2l.8-.1l.7 .4l.8-.2l.7-.3l.8 .3l.7-.3l.8-1.3l.7 1.3l.7 .1l.8-1.1l.7 1.5l.8-1.2M24.6 4.4l.7 195.4M26.1 5.4h5h-5l-.8 194.4M26.1 5.4l.7-.5l.8-.5l.7 1.1l.8-.1l.7 .2l.7-.2l.8-.1l.7 .1l.8-.2l.7-.7l.8 .9l.7-.2l.8-.6l.7 .8l.7 .1l.8-.1l.7 .2l.8-.1l.7-.2l.8-.1l.7 .1l.8 .2h.7l.8-.7l.7 .8l.7-.2h.8l.7-1.6l.8 1.2l.7 .3l.8 .3l.7-.5l.8 .2h.7l.7-.7l.8 .4l.7-.1l.8 .6l.7-.3l.8-.2l.7 .6l.8-.3l.7 .3h.8l.7-.6l.7-1.9l.8 2.4l.7-.5l.8 .3l.7-.3l.8 .6l.7-.2l.8-.2l.7-.2l.7 .2l.8-.2l.7 .4l.8-.1l.7 .3l.8-.2l.7-.2l.8-.1M72.3 5.1l.7 86.8M73.8 5.6h4.5h-4.5l-.8 86.3M73.8 5.6l.7-.2l.7-.4l.8 .1l.7-.3l.8 .6l.7-.7l.8 .9l.7-1.2l.8 1.2l.7-.9l.7 .5l.8 .2l.7 .1M83.4 5.5l.8 79.4M84.9 4h5h-5l-.7 80.9M84.9 4l.8 1.6l.7-.4h.8l.7-.8l.8 .4l.7 .3l.7 .3l.8-.8l.7 .9l.8-.2l.7 .2l.8-.8l.7 .9l.8-.3l.7-.4l.7-.3l.8 .3l.7 .7l.8-.2l.7 .2M99.8 5.6l.8 83.3M101.3 5.4h4.5h-4.5l-.7 83.5M101.3 5.4l.8-.2l.7 .1l.8-.1l.7-.3l.7-.7l.8 .5l.7 .5l.8 .3h.7l.8-.7l.7 .4l.8-.2l.7 .3l.7-.5l.8 .3l.7-1.6l.8 2l.7-.6l.8 .4l.7-.9l.8 .6l.7 .2l.8-.5l.7 .4l.7 .2l.8-.1l.7-.4l.8 .7l.7-.5l.8 .1l.7 .5l.8-.2l.7-.3l.7 .5l.8-.2l.7-.7l.8 .9l.7-.2l.8-.6h.7l.8 .7l.7-1l.8 1l.7-.5l.7-.3l.8-.1l.7-1.2l.8 1.5l.7 .1l.8-.4l.7 .7l.8-.3l.7-.1l.7 .6h.8l.7-.2l.8-.1l.7 .4l.8-1.5l.7 1.4l.8-.3l.7 .4l.8-.2l.7-1l.7 1.2l.8-.4l.7-.2l.8 .5l.7-1.1l.8 1l.7 86.1l.8 .4l.7-.4l.7-86.5l.8 .2l.7-1.9l.8 2.1l.7-.3l.8 .4l.7-.9l.8-.4l.7 1.4l.8-.8l.7 .6l.7-.6l.8 .4l.7 .2l.8-.5l.7 .1l.8 .3l.7-.7l.8 1l.7-.1l.7-.1l.8 .1l.7-1l.8 .2l.7-.2l.8 .8l.7-1.2l.8 1.3l.7-1l.8 .7l.7 .1l.7 .2h.8l.7-.5l.8-.7l.7 1.4l.8-.9l.7 .7l.8-.1h.7l.7-.1l.8 .3h.7l.8-.2h.7l.8 .3l.7-.5l.8 .3l.7-.1h.8l.7-.3l.7 .6l.8-.8l.7-.2l.8 .4h.7l.8 .5l.7-.4l.8 .5l.7-.1l.7-.4l.8 .3l.7-.2l.8 .3l.7-.1l.8-.4l.7-.1h.8l.7 .1l.8-.2l.7 .8l.7-1.1l.8 1.1l.7-.3l.8 .2l.7-.6l.8 .2l.7 .4l.8-.6h.7l.7 .7l.8-.9l.7 .1l.8 .7l.7-.8l.8 .8l.7-.9l.8-.2l.7 .7l.8-.9l.7 1.3l.7-.1l.8-.2l.7 .1l.8 .2h.7l.8-1l.7 1l.8-.5l.7 .6l.7-.4h.8l.7-.2l.8 .4l.7-.1h.8l.7 .1l.8-.6h.7l.8 .2l.7-.3l.7 .8l.8-.2l.7-.5l.8 .7l.7-.7l.8 .1l.7 .7l.8-.4l.7-.2l.7 .1l.8 .4l.7-1l.8 .7l.7 .4l.8-.9l.7 .6l.8-.5l.7-.7l.8 1.3l.7-.2l.7-.8l.8 1.2l.7-.3l.8 .2l.7-.2l.8-.7l.7 .6l.8 .3l.7-.2l.7 .3l.8-1l.7 .8l.8-1.2l.7 1.1l.8-.4l.7-.1l.8 .6l.7-.2h.8l.7 .4l.7-.2l.8-1.2l.7 1.4l.8-.2h.7l.8 .1l.7 .1l.8-.6l.7 .2l.7-.1l.8-.1l.7-.3l.8-.5l.7 1.1h.8l.7-.9l.8 .8l.7-.6l.8 .1l.7 .9l.7-.6l.8-.3l.7 .7l.8 .2l.7-.4l.8 .4l.7-.7l.8-.3l.7 .3l.7 .4l.8-1l.7 1.2l.8 .1l.7-.4l.8-.1l.7 .2l.8-.4h.7l.8-.2l.7 .4l.7 .5l.8-.3l.7-.8l.8 .5l.7 .4l.8-.2l.7 .1l.8 .1l.7-.2h.7l.8 .1l.7-.9l.8 1.2l.7-.1h.8l.7-.1l.8-.9l.7 1l.7 .1l.8-.9l.7 .7l.8 .2l.7-.7l.8 .6l.7-.4l.8 .5h.7l.8-.6l.7-.7l.7 1.3h.8h.7l.8-.5l.7 .2l.8-.1l.7 .4l.8-.4l.7-.2l.7 .2h.8l.7 .4l.8-.6l.7 .1h.8h.7l.8 .1l.7-.3l.8 .2l.7 .2h.7l.8 .3l.7-.4l.8 .2l.7 .1l.8-.2l.7 .2l.8-2.9l.7 2.4l.7 .6h.8l.7-.3h.8l.7-.4l.8-.7l.7 .7l.8-.2l.7-.2l.8 .9l.7-.1l.7 .1h.8l.7-.3l.8 .3l.7-.8l.8 1l.7-.7l.8 .2l.7 .4l.7-.2l.8-1l.7 .2l.8 .6l.7 .3l.8-.2l.7 .1h.8h.7l.8-.3l.7 .3l.7-.2l.8-.9l.7 1l.8 .3l.7-.1l.8-.6l.7 .5l.8-.9l.7 .4l.7 .4l.8-.7l.7 .2l.8 .2l.7-.4l.8 1.1l.7-.6l.8-.4l.7 .9l.8-.4l.7-.2l.7 .3l.8-.6l.7 .5h.8l.7 .2l.8-.7l.7 .4l.8 .1l.7 .3l.7-.5h.8l.7 .3l.8-.9h.7l.8 .8l.7 .4l.8-.1l.7-.1l.8 .2l.7-1.7l.7 1.8l.8-1.1l.7 .3l.8 .8l.7-.5l.8-.1l.7 .4l.8-.6l.7 .7l.7-.3l.8-2.1l.7 1.5l.8-.2l.7 .4l.8-.1l.7 .9l.8-.6l.7-.2l.8 .5h.7l.7 .2l.8-.2l.7-1.4l.8 1.3l.7 .3l.8-.1l.7-.2l.8 .3h.7h.7l.8-.2l.7 .1l.8 .1l.7-.3l.8-1.7l.7 2l.8-.4l.7 .2l.8-.3l.7 .2l.7-1.2l.8 .9l.7 .3l.8 .4M426.9 5.6l.7 80.8M428.4 4.3h5h-5l-.8 82.1M428.4 4.3l.7 .6l.8 .1l.7-.1l.7-.7l.8 1.4l.7-.8l.8 .7l.7-.1l.8-.5l.7-.3l.8 .7l.7-.5l.8 .5h.7l.7 .3l.8-.2l.7 .1l.8-.5l.7 .5l.8-.2l.7-.2l.8-1.2l.7 1.4l.7-.6l.8 .6l.7-.6l.8 .2l.7 .7l.8-1.3l.7 .6l.8 .2l.7-.3l.8 .4l.7-.1l.7 .5l.8-.3h.7l.8-.5l.7 .1l.8 .1l.7-.4l.8 .8l.7-.6l.7 .8l.8-.7l.7 .5l.8 .2h.7l.8-.1l.7-.5l.8-.4l.7 .8l.8 .2l.7-.4l.7-.4l.8 .5l.7-.5l.8 .6l.7-.5l.8 .6M473.1 5.5l.7 193.5M474.6 4.5h4.5h-4.5l-.8 194.5M474.6 4.5l.7 1.1l.7-.3l.8 .2l.7 .1l.8-.4l.7-.2l.8 .4l.7-1.2l.8 1.3l.7-.9l.8 .1l.7 .1l.7 .1l.8 .2l.7-.4l.8 .5l.7-2l.8 2.2l.7-.3l.8-.6l.7 .5l.7-.1l.8 .2l.7 .4l.8-2.3l.7 2.1l.8-.3l.7 .3l.8-.5l.7 .1l.8 .2h.7h.7l.8-.3l.7 .6l.8-.7l.7-1.4l.8 1.4l.7-.1l.8 .4l.7 .5l.7-.9l.8 .2l.7 .2l.8 .1l.7 .2h.8l.7 .2l.8-.3l.7-.2l.8-.6l.7 .3l.7 .7l.8-.4l.7 .4l.8-.5l.7 .3l.8 .3h.7l.8-.4l.7-.4l.7 .2h.8l.7 .7l.8-1.2l.7 1.2l.8-.3l.7-.7l.8 .5l.7 .3l.8-.5l.7 .1l.7-.4l.8 .2h.7l.8-.3h.7l.8 .1l.7 .6l.8-1.1l.7 1l.7-.3h.8l.7 .3l.8 .2l.7-.1l.8-.4l.7 .4l.8 .3l.7-1.2h.8l.7 .8l.7 .2l.8-.7l.7 .9l.8-.3l.7 .2l.8 .2l.7-.5l.8 .1l.7 .1l.7-.5l.8 .1l.7 .7l.8-1.8l.7 1.8l.8-1.1l.7 .5l.8-.3l.7 .5h.8l.7 .1l.7 .3l.8-.7l.7 .7l.8-.4l.7-.6l.8 .1l.7 .5l.8 .1l.7-1.3h.7" stroke="#0000ff" stroke-dasharray="11.5 10.4"/>
</g>
<g font-size="21.81" fill="#000">
<g text-anchor="middle">
<text transform="translate(0.00,223.46) scale(1,1.070)">0</text>
<text transform="translate(74.50,223.46) scale(1,1.070)">100</text>
<text transform="translate(149.00,223.46) scale(1,1.070)">200</text>
<text transform="translate(223.50,223.46) scale(1,1.070)">300</text>
<text transform="translate(298.00,223.46) scale(1,1.070)">400</text>
<text transform="translate(372.49,223.46) scale(1,1.070)">500</text>
<text transform="translate(446.99,223.46) scale(1,1.070)">600</text>
<text transform="translate(521.49,223.46) scale(1,1.070)">700</text>
<text transform="translate(595.99,223.46) scale(1,1.070)">800</text>
</g><g text-anchor="end">
<text transform="translate(-8.18,190.48) scale(1,1.070)">0.7</text>
<text transform="translate(-8.18,148.13) scale(1,1.070)">0.75</text>
<text transform="translate(-8.18,105.78) scale(1,1.070)">0.8</text>
<text transform="translate(-8.18,63.44) scale(1,1.070)">0.85</text>
<text transform="translate(-8.18,21.09) scale(1,1.070)">0.9</text>
</g></g>
<g font-size="24.12" fill="#000" text-anchor="middle">
<text x="297.30" y="253.67">Data samples</text>
<text transform="translate(-45.06,97.50) rotate(-90)">ERF</text>
</g>
<rect x="435.02" y="11.20" width="145.99" height="53.28" fill="#fff" stroke="#3c3c3c" stroke-width="1.20"/>
<path d="M440.65 25.61H496.09" stroke="#ff0000" stroke-width="3.88" fill="none"/>
<path d="M440.65 49.97H496.09" stroke="#0000ff" stroke-width="3.88" stroke-dasharray="11.5 10.4" fill="none"/>
<g font-size="19.59" fill="#000">
<text x="500.62" y="32.82">Actual</text>
<text x="500.62" y="57.18">Predicted</text>
</g>
</g>
<g transform="translate(93.96,1538.20)">
<clipPath id="c10"><rect x="-2.1" y="-1.1" width="600.3" height="196.9"/></clipPath>
<path d="M0 0H595.99V193.67H0Z" fill="none" stroke="#1a1a1a" stroke-width="1.20"/>
<path d="M0.00 193.67v-6.72M0.00 0v6.72M74.50 193.67v-6.72M74.50 0v6.72M149.00 193.67v-6.72M149.00 0v6.72M223.50 193.67v-6.72M223.50 0v6.72M298.00 193.67v-6.72M298.00 0v6.72M372.49 193.67v-6.72M372.49 0v6.72M446.99 193.67v-6.72M446.99 0v6.72M521.49 193.67v-6.72M521.49 0v6.72M595.99 193.67v-6.72M595.99 0v6.72M0 193.67h6.72M595.99 193.67h-6.72M0 129.11h6.72M595.99 129.11h-6.72M0 64.56h6.72M595.99 64.56h-6.72M0 0.00h6.72M595.99 0.00h-6.72" fill="none" stroke="#1a1a1a" stroke-width="1.20"/>
<g clip-path="url(#c10)" fill="none" stroke-width="3.88" stroke-linejoin="round">
<path d="M.7 64.6l.8 96.8h.7l.8-96.8h.7l.8 96.8l.7-129.1l.8 129.1l.7-129.1l.7 96.8l.8-96.8l.7 96.8l.8-96.8l.7 129.1l.8-32.3l.7 32.3l.8-129.1l.7 32.3h.8l.7-32.3h.7l.8 32.3l.7-32.3l.8 129.1h.7l.8-129.1h.7l.8 96.8l.7-96.8h.7l.8 129.1l.7-129.1h.8l.7 129.1l.8-129.1h.7l.8 96.8l.7-96.8l.8 96.8h.7l.7-96.8l.8 129.1l.7-129.1l.8 96.8l.7-96.8l.8 96.8l.7-96.8l.8 129.1l.7-129.1h.7l.8 129.1h.7h.8h.7l.8-32.3l.7 32.3h.8h.7h.8h.7h.7h.8h.7l.8-32.3l.7 32.3h.8h.7h.8h.7h.7h.8h.7h.8h.7h.8h.7h.8h.7h.8h.7h.7h.8l.7-129.1l.8 96.8h.7l.8 32.3l.7-32.3h.8h.7l.7-96.8l.8 96.8h.7l.8-96.8l.7 129.1h.8h.7h.8h.7h.8h.7l.7-129.1h.8l.7 96.8l.8 32.3l.7-129.1l.8 129.1l.7-129.1l.8 32.3l.7 96.8l.7-96.8l.8 64.5l.7-64.5l.8 96.8l.7-96.8l.8-32.3l.7 129.1l.8-129.1l.7 129.1l.8-129.1l.7 129.1l.7-129.1l.8 96.8l.7 32.3h.8h.7h.8l.7-129.1l.8 96.8l.7 32.3l.7-32.3l.8-96.8l.7 96.8l.8-96.8l.7 129.1h.8l.7-32.3h.8l.7 32.3h.8l.7-129.1l.7 129.1l.8-129.1l.7 129.1l.8-32.3h.7l.8 32.3l.7-32.3l.8 32.3l.7-129.1l.7 96.8l.8 32.3h.7l.8-32.3h.7l.8 32.3l.7-129.1l.8 96.8l.7-96.8l.8 129.1l.7-32.3l.7 32.3l.8-32.3h.7l.8 32.3l.7-129.1h.8l.7 96.8l.8-96.8h.7l.7 129.1h.8h.7l.8-32.3l.7 32.3l.8-129.1l.7 96.8h.8l.7-96.8l.8 96.8l.7-96.8h.7l.8 129.1h.7h.8l.7-32.3l.8 32.3l.7-32.3h.8h.7h.7l.8 32.3h.7h.8h.7h.8l.7-32.3l.8-96.8l.7 129.1l.8-32.3l.7 32.3h.7l.8-32.3l.7 32.3l.8-32.3l.7 32.3h.8h.7h.8h.7l.7-129.1l.8 129.1l.7-129.1l.8 96.8l.7-96.8l.8 96.8l.7 32.3l.8-129.1l.7 96.8l.8-96.8l.7 96.8l.7-96.8l.8 96.8h.7l.8 32.3h.7h.8l.7-32.3h.8l.7-96.8l.7 96.8l.8-96.8l.7 129.1l.8-129.1l.7 96.8l.8 32.3l.7-129.1l.8 96.8l.7 32.3l.8-32.3h.7l.7 32.3l.8-32.3h.7l.8 32.3l.7-129.1l.8 129.1l.7-32.3l.8 32.3h.7l.7-32.3l.8-64.5h.7l.8 64.5l.7 32.3h.8h.7h.8l.7-32.3l.8-96.8l.7 129.1l.7-129.1l.8 96.8l.7-96.8l.8 129.1l.7-129.1l.8 129.1h.7l.8-32.3l.7 32.3l.7-32.3l.8 32.3h.7h.8h.7h.8h.7h.8l.7-129.1l.8 129.1h.7h.7l.8-32.3l.7-64.5l.8 64.5h.7h.8h.7l.8 32.3h.7l.7-32.3l.8-96.8l.7 96.8l.8-96.8h.7l.8 96.8l.7 32.3l.8-32.3l.7 32.3l.8-96.8h.7l.7 129.1l.8-64.6l.7 32.3l.8-32.3l.7 32.3l.8-32.3l.7 32.3l.8-32.3l.7-64.5l.7 64.5l.8-64.5l.7 96.8l.8-96.8l.7 96.8l.8-129.1l.7 129.1l.8-32.3h.7h.8h.7l.7 32.3l.8-32.3l.7 32.3l.8-32.3l.7 32.3h.8l.7-32.3h.8l.7 32.3h.7l.8-129.1h.7l.8 96.8h.7l.8 32.3l.7-32.3h.8l.7 32.3l.8-32.3l.7-96.8l.7 96.8l.8-96.8l.7 129.1h.8l.7-129.1h.8h.7h.8l.7 129.1l.7-32.3h.8h.7h.8l.7 32.3l.8-129.1l.7 129.1l.8-32.3l.7-96.8l.8 96.8l.7-96.8l.7 96.8h.8h.7h.8h.7h.8l.7-96.8l.8 129.1h.7h.7h.8h.7l.8-32.3l.7 32.3l.8-129.1h.7l.8 129.1l.7-32.3l.8 32.3l.7-32.3l.7 32.3l.8-32.3l.7-96.8l.8 129.1l.7-129.1h.8l.7 129.1l.8-129.1l.7 96.8h.7l.8 32.3l.7-32.3h.8h.7h.8l.7 32.3h.8l.7-32.3l.8-96.8h.7l.7 96.8l.8 32.3l.7-32.3l.8 32.3h.7h.8h.7h.8h.7h.7h.8h.7h.8h.7h.8h.7h.8h.7h.7l.8-32.3l.7 32.3l.8-32.3l.7-96.8l.8 129.1h.7l.8 32.3l.7-32.3l.8-32.3l.7 32.3h.7h.8h.7h.8l.7-32.3l.8 32.3h.7h.8l.7-32.3l.7-96.8l.8 129.1h.7l.8-32.3h.7l.8 32.3h.7l.8-129.1l.7 129.1l.8-32.3l.7 32.3l.7-32.3h.8h.7l.8-96.8l.7 129.1h.8h.7l.8-32.3l.7 32.3l.7-32.3l.8 32.3h.7l.8-32.3l.7 32.3h.8h.7h.8h.7h.8h.7h.7h.8h.7h.8h.7h.8h.7h.8h.7l.7-96.8l.8 64.5l.7 32.3l.8-32.3l.7 32.3l.8-32.3h.7h.8h.7h.8l.7 32.3l.7-32.3l.8 32.3h.7l.8-32.3l.7 32.3h.8h.7h.8h.7l.7-32.3h.8l.7 32.3l.8-32.3h.7h.8h.7h.8l.7-64.5l.8 64.5l.7-64.5l.7 64.5l.8-64.5l.7 64.5h.8h.7h.8l.7-96.8l.8 96.8l.7 32.3l.7-32.3h.8h.7h.8l.7 32.3l.8-32.3l.7 32.3h.8h.7h.8h.7h.7h.8l.7-129.1l.8 129.1h.7l.8-32.3h.7l.8 32.3l.7-96.8l.7 96.8l.8-32.3h.7h.8l.7-96.8l.8 96.8l.7-96.8l.8 129.1h.7h.8l.7-32.3l.7 32.3l.8-32.3l.7 32.3h.8h.7h.8l.7-96.8l.8 96.8h.7l.7-32.3l.8 32.3l.7-32.3h.8h.7h.8l.7 32.3h.8l.7-32.3l.8 32.3h.7l.7-32.3h.8l.7 32.3l.8-32.3l.7 32.3h.8h.7h.8l.7-129.1l.7 129.1h.8l.7-32.3l.8 32.3l.7-96.8l.8 96.8l.7-96.8l.8 129.1l.7-129.1l.8 64.5l.7 32.3h.7l.8-96.8l.7 96.8l.8-96.8h.7l.8 96.8l.7-96.8h.8l.7 64.5l.7-64.5h.8l.7 64.5l.8-64.5h.7l.8 96.8l.7-96.8l.8 64.5l.7 32.3h.8h.7l.7-32.3l.8 32.3l.7-32.3l.8 32.3l.7-32.3h.8l.7-64.5l.8 96.8l.7-96.8h.7h.8l.7 96.8l.8-96.8l.7 64.5l.8-64.5l.7 64.5h.8l.7-64.5h.8h.7l.7 64.5l.8-64.5l.7 96.8l.8-96.8l.7 96.8l.8-32.3l.7-64.5l.8 96.8l.7-96.8l.7 64.5l.8-64.5h.7l.8 64.5l.7 32.3l.8-32.3h.7l.8 32.3l.7-32.3l.8 32.3h.7h.7l.8-32.3l.7 32.3h.8h.7l.8-32.3h.7h.8h.7l.7 32.3h.8h.7h.8l.7-32.3l.8 32.3l.7-32.3h.8l.7 32.3h.8h.7l.7-32.3h.8l.7 32.3l.8-32.3l.7 32.3h.8l.7-96.8l.8 64.5l.7 32.3l.7-96.8l.8 64.5l.7-64.5l.8 64.5l.7-64.5l.8 96.8h.7l.8-32.3h.7l.8-64.5l.7 96.8h.7h.8h.7l.8-96.8l.7 64.5l.8-64.5l.7 96.8l.8-96.8l.7 96.8l.7-32.3l.8-64.5h.7l.8 64.5l.7 32.3h.8h.7l.8-32.3l.7 32.3h.8h.7l.7-32.3h.8h.7h.8l.7 32.3l.8-32.3h.7l.8 32.3l.7-32.3h.7l.8 32.3l.7-96.8l.8 96.8h.7l.8-96.8l.7 96.8h.8l.7-32.3l.8-64.5l.7 96.8l.7-96.8l.8 64.5l.7-64.5l.8 64.5l.7-64.5l.8 64.5l.7-64.5h.8l.7 96.8h.7l.8-96.8l.7 96.8l.8-96.8l.7 96.8l.8-96.8l.7 96.8l.8-96.8l.7 96.8l.8-32.3l.7 32.3l.7-32.3l.8 32.3l.7-32.3h.8l.7 32.3l.8-32.3h.7l.8 32.3l.7-96.8l.7 96.8l.8-96.8" stroke="#ff0000"/>
<path d="M.7 64.6l.8 95.8h.7l.8-95.8h.7l.8 95.8l.7-127.2l.8 127.2l.7-127.2l.7 95.9l.8-95.9l.7 95.9l.8-95.9l.7 127.2l.8-31.3l.7 31.3l.8-127.2l.7 31.4h.8l.7-31.4h.7l.8 31.4l.7-31.4l.8 127.2h.7l.8-127.2h.7l.8 95.9l.7-95.9h.7l.8 127.2l.7-127.2h.8l.7 127.2l.8-127.2h.7l.8 95.9l.7-95.9l.8 95.9h.7l.7-95.9l.8 127.2l.7-127.2l.8 95.9l.7-95.9l.8 95.9l.7-95.9l.8 127.2l.7-127.2h.7l.8 127.2h.7h.8h.7l.8-31.3l.7 31.3h.8h.7h.8h.7h.7h.8h.7l.8-31.3l.7 31.3h.8h.7h.8h.7h.7h.8h.7h.8h.7h.8h.7h.8h.7h.8h.7h.7h.8l.7-127.2l.8 95.9h.7l.8 31.3l.7-31.3h.8h.7l.7-95.9l.8 95.9h.7l.8-95.9l.7 127.2h.8h.7h.8h.7h.8h.7l.7-127.2h.8l.7 95.9l.8 31.3l.7-127.2l.8 127.2l.7-127.2l.8 31.4l.7 95.8l.7-95.8l.8 64.5l.7-64.5l.8 95.8l.7-95.8l.8-31.4l.7 127.2l.8-127.2l.7 127.2l.8-127.2l.7 127.2l.7-127.2l.8 95.9l.7 31.3h.8h.7h.8l.7-127.2l.8 95.9l.7 31.3l.7-31.3l.8-95.9l.7 95.9l.8-95.9l.7 127.2h.8l.7-31.3h.8l.7 31.3h.8l.7-127.2l.7 127.2l.8-127.2l.7 127.2l.8-31.3h.7l.8 31.3l.7-31.3l.8 31.3l.7-127.2l.7 95.9l.8 31.3h.7l.8-31.3h.7l.8 31.3l.7-127.2l.8 95.9l.7-95.9l.8 127.2l.7-31.3l.7 31.3l.8-31.3h.7l.8 31.3l.7-127.2h.8l.7 95.9l.8-95.9h.7l.7 127.2h.8h.7l.8-31.3l.7 31.3l.8-127.2l.7 95.9h.8l.7-95.9l.8 95.9l.7-95.9h.7l.8 127.2h.7h.8l.7-31.3l.8 31.3l.7-31.3h.8h.7h.7l.8 31.3h.7h.8h.7h.8l.7-31.3l.8-95.9l.7 127.2l.8-31.3l.7 31.3h.7l.8-31.3l.7 31.3l.8-31.3l.7 31.3h.8h.7h.8h.7l.7-127.2l.8 127.2l.7-127.2l.8 95.9l.7-95.9l.8 95.9l.7 31.3l.8-127.2l.7 95.9l.8-95.9l.7 95.9l.7-95.9l.8 95.9h.7l.8 31.3h.7h.8l.7-31.3h.8l.7-95.9l.7 95.9l.8-95.9l.7 127.2l.8-127.2l.7 95.9l.8 31.3l.7-127.2l.8 95.9l.7 31.3l.8-31.3h.7l.7 31.3l.8-31.3h.7l.8 31.3l.7-127.2l.8 127.2l.7-31.3l.8 31.3h.7l.7-31.3l.8-64.5h.7l.8 64.5l.7 31.3h.8h.7h.8l.7-31.3l.8-95.9l.7 127.2l.7-127.2l.8 95.9l.7-95.9l.8 127.2l.7-127.2l.8 127.2h.7l.8-31.3l.7 31.3l.7-31.3l.8 31.3h.7h.8h.7h.8h.7h.8l.7-127.2l.8 127.2h.7h.7l.8-31.3l.7-64.5l.8 64.5h.7h.8h.7l.8 31.3h.7l.7-31.3l.8-95.9l.7 95.9l.8-95.9h.7l.8 95.9l.7 31.3l.8-31.3l.7 31.3l.8-95.8h.7l.7 129.1l.8-64.6l.7 31.3l.8-31.3l.7 31.3l.8-31.3l.7 31.3l.8-31.3l.7-64.5l.7 64.5l.8-64.5l.7 95.8l.8-95.8l.7 95.8l.8-127.2l.7 127.2l.8-31.3h.7h.8h.7l.7 31.3l.8-31.3l.7 31.3l.8-31.3l.7 31.3h.8l.7-31.3h.8l.7 31.3h.7l.8-127.2h.7l.8 95.9h.7l.8 31.3l.7-31.3h.8l.7 31.3l.8-31.3l.7-95.9l.7 95.9l.8-95.9l.7 127.2h.8l.7-127.2h.8h.7h.8l.7 127.2l.7-31.3h.8h.7h.8l.7 31.3l.8-127.2l.7 127.2l.8-31.3l.7-95.9l.8 95.9l.7-95.9l.7 95.9h.8h.7h.8h.7h.8l.7-95.9l.8 127.2h.7h.7h.8h.7l.8-31.3l.7 31.3l.8-127.2h.7l.8 127.2l.7-31.3l.8 31.3l.7-31.3l.7 31.3l.8-31.3l.7-95.9l.8 127.2l.7-127.2h.8l.7 127.2l.8-127.2l.7 95.9h.7l.8 31.3l.7-31.3h.8h.7h.8l.7 31.3h.8l.7-31.3l.8-95.9h.7l.7 95.9l.8 31.3l.7-31.3l.8 31.3h.7h.8h.7h.8h.7h.7h.8h.7h.8h.7h.8h.7h.8h.7h.7l.8-31.3l.7 31.3l.8-31.3l.7-95.9l.8 127.2h.7l.8 33.3l.7-33.3l.8-31.3l.7 31.3h.7h.8h.7h.8l.7-31.3l.8 31.3h.7h.8l.7-31.3l.7-95.9l.8 127.2h.7l.8-31.3h.7l.8 31.3h.7l.8-127.2l.7 127.2l.8-31.3l.7 31.3l.7-31.3h.8h.7l.8-95.9l.7 127.2h.8h.7l.8-31.3l.7 31.3l.7-31.3l.8 31.3h.7l.8-31.3l.7 31.3h.8h.7h.8h.7h.8h.7h.7h.8h.7h.8h.7h.8h.7h.8h.7l.7-95.8l.8 64.5l.7 31.3l.8-31.3l.7 31.3l.8-31.3h.7h.8h.7h.8l.7 31.3l.7-31.3l.8 31.3h.7l.8-31.3l.7 31.3h.8h.7h.8h.7l.7-31.3h.8l.7 31.3l.8-31.3h.7h.8h.7h.8l.7-64.5l.8 64.5l.7-64.5l.7 64.5l.8-64.5l.7 64.5h.8h.7h.8l.7-95.9l.8 95.9l.7 31.3l.7-31.3h.8h.7h.8l.7 31.3l.8-31.3l.7 31.3h.8h.7h.8h.7h.7h.8l.7-127.2l.8 127.2h.7l.8-31.3h.7l.8 31.3l.7-95.8l.7 95.8l.8-31.3h.7h.8l.7-95.9l.8 95.9l.7-95.9l.8 127.2h.7h.8l.7-31.3l.7 31.3l.8-31.3l.7 31.3h.8h.7h.8l.7-95.8l.8 95.8h.7l.7-31.3l.8 31.3l.7-31.3h.8h.7h.8l.7 31.3h.8l.7-31.3l.8 31.3h.7l.7-31.3h.8l.7 31.3l.8-31.3l.7 31.3h.8h.7h.8l.7-127.2l.7 127.2h.8l.7-31.3l.8 31.3l.7-95.8l.8 95.8l.7-95.8l.8 129.1l.7-129.1l.8 64.5l.7 31.3h.7l.8-95.8l.7 95.8l.8-95.8h.7l.8 95.8l.7-95.8h.8l.7 64.5l.7-64.5h.8l.7 64.5l.8-64.5h.7l.8 95.8l.7-95.8l.8 64.5l.7 31.3h.8h.7l.7-31.3l.8 31.3l.7-31.3l.8 31.3l.7-31.3h.8l.7-64.5l.8 95.8l.7-95.8h.7h.8l.7 95.8l.8-95.8l.7 64.5l.8-64.5l.7 64.5h.8l.7-64.5h.8h.7l.7 64.5l.8-64.5l.7 95.8l.8-95.8l.7 95.8l.8-31.3l.7-64.5l.8 95.8l.7-95.8l.7 64.5l.8-64.5h.7l.8 64.5l.7 31.3l.8-31.3h.7l.8 31.3l.7-31.3l.8 31.3h.7h.7l.8-31.3l.7 31.3h.8h.7l.8-31.3h.7h.8h.7l.7 31.3h.8h.7h.8l.7-31.3l.8 31.3l.7-31.3h.8l.7 31.3h.8h.7l.7-31.3h.8l.7 31.3l.8-31.3l.7 31.3h.8l.7-95.8l.8 64.5l.7 31.3l.7-95.8l.8 64.5l.7-64.5l.8 64.5l.7-64.5l.8 95.8h.7l.8-31.3h.7l.8-64.5l.7 95.8h.7h.8h.7l.8-95.8l.7 64.5l.8-64.5l.7 95.8l.8-95.8l.7 95.8l.7-31.3l.8-64.5h.7l.8 64.5l.7 31.3h.8h.7l.8-31.3l.7 31.3h.8h.7l.7-31.3h.8h.7h.8l.7 31.3l.8-31.3h.7l.8 31.3l.7-31.3h.7l.8 31.3l.7-95.8l.8 95.8h.7l.8-95.8l.7 95.8h.8l.7-31.3l.8-64.5l.7 95.8l.7-95.8l.8 64.5l.7-64.5l.8 64.5l.7-64.5l.8 64.5l.7-64.5h.8l.7 95.8h.7l.8-95.8l.7 95.8l.8-95.8l.7 95.8l.8-95.8l.7 95.8l.8-95.8l.7 95.8l.8-31.3l.7 31.3l.7-31.3l.8 31.3l.7-31.3h.8l.7 31.3l.8-31.3h.7l.8 31.3l.7-95.8l.7 95.8l.8-95.8" stroke="#0000ff" stroke-dasharray="11.5 10.4"/>
</g>
<g font-size="21.81" fill="#000">
<g text-anchor="middle">
<text transform="translate(0.00,222.13) scale(1,1.070)">0</text>
<text transform="translate(74.50,222.13) scale(1,1.070)">100</text>
<text transform="translate(149.00,222.13) scale(1,1.070)">200</text>
<text transform="translate(223.50,222.13) scale(1,1.070)">300</text>
<text transform="translate(298.00,222.13) scale(1,1.070)">400</text>
<text transform="translate(372.49,222.13) scale(1,1.070)">500</text>
<text transform="translate(446.99,222.13) scale(1,1.070)">600</text>
<text transform="translate(521.49,222.13) scale(1,1.070)">700</text>
<text transform="translate(595.99,222.13) scale(1,1.070)">800</text>
</g><g text-anchor="end">
<text transform="translate(-8.18,201.15) scale(1,1.070)">2</text>
<text transform="translate(-8.18,136.60) scale(1,1.070)">4</text>
<text transform="translate(-8.18,72.04) scale(1,1.070)">6</text>
<text transform="translate(-8.18,7.48) scale(1,1.070)">8</text>
</g></g>
<g font-size="24.12" fill="#000" text-anchor="middle">
<text x="297.30" y="252.34">Data samples</text>
<text transform="translate(-40.96,98.33) rotate(-90)">DC Value</text>
</g>
<rect x="435.02" y="11.15" width="145.99" height="53.28" fill="#fff" stroke="#3c3c3c" stroke-width="1.20"/>
<path d="M440.65 25.56H496.09" stroke="#ff0000" stroke-width="3.88" fill="none"/>
<path d="M440.65 49.92H496.09" stroke="#0000ff" stroke-width="3.88" stroke-dasharray="11.5 10.4" fill="none"/>
<g font-size="19.59" fill="#000">
<text x="500.62" y="32.77">Actual</text>
<text x="500.62" y="57.13">Predicted</text>
</g>
</g>
<g transform="translate(883.57,1267.00)">
<clipPath id="c11"><rect x="-2.3" y="-1.1" width="652.8" height="215.2"/></clipPath>
<path d="M0 0H648.23V211.84H0Z" fill="none" stroke="#1a1a1a" stroke-width="1.20"/>
<path d="M0.00 211.84v-7.00M0.00 0v7.00M108.04 211.84v-7.00M108.04 0v7.00M216.08 211.84v-7.00M216.08 0v7.00M324.11 211.84v-7.00M324.11 0v7.00M432.15 211.84v-7.00M432.15 0v7.00M540.19 211.84v-7.00M540.19 0v7.00M648.23 211.84v-7.00M648.23 0v7.00M0 184.08h7.00M648.23 184.08h-7.00M0 134.06h7.00M648.23 134.06h-7.00M0 84.04h7.00M648.23 84.04h-7.00M0 34.01h7.00M648.23 34.01h-7.00" fill="none" stroke="#1a1a1a" stroke-width="1.20"/>
<g clip-path="url(#c11)" fill="none" stroke-width="4.20" stroke-linejoin="round">
<path d="M2.2 111.5l2.1-55.5l2.2 .1l2.1-.7l2.2 .6l2.2 .5l2.1-.7l2.2 .8h2.1l2.2-.9l2.2-.4l2.1 .5l2.2 .7l2.2-.5l2.1 .5l2.2 .2l2.1-.6l2.2-.1h2.2l2.1 .1l2.2-.8l2.1 .2l2.2 .8h2.2l2.1-.7l2.2-.1l2.1-.2l2.2 1.5l2.2-1.4l2.1-.1l2.2 1.4l2.1-1.1l2.2 1l2.2-1.3l2.1 1.3h2.2l2.1-1l2.2 .3l2.2 .6l2.1 .1h2.2l2.2-.1l2.1-1.2l2.2 1l2.1 .2l2.2-1l2.2 1.1l2.1-.1l2.2-.9l2.1 .7l2.2 .3l2.2-.2l2.1-.2l2.2-.9l2.1 .6l2.2 .6l2.2-1.1l2.1 1l2.2-.7l2.1 .8l2.2-1l2.2 .6l2.1 .6l2.2-.3h2.1l2.2-.5l2.2 .6l2.1 .2l2.2-.8h2.2l2.1-.5l2.2 1.3l2.1-.6l2.2 .4l2.2-.6l2.1 .3l2.2-.9l2.1 .4l2.2 .9l2.2 .1l2.1-1l2.2 1l2.1-.6l2.2 .2l2.2 .4l2.1-1h2.2l2.1-.1l2.2 .6l2.2-.8l2.1 .7l2.2-.6l2.2 .3l2.1 .1l2.2 .8l2.1-1.4l2.2 .4h2.2l2.1 .4l2.2 .5l2.1 .1l2.2-.6l2.2-.4l2.1 .2l2.2 .5l2.1-.1l2.2 .2l2.2-1.1l2.1 .7l2.2 .2l2.1 .2l2.2-.9l2.2-.1l2.1 .4l2.2 .7l2.1-1.1l2.2 .2l2.2 .7l2.1-.3l2.2 .4l2.2-.7l2.1 .5l2.2-1l2.1 1.4l2.2-1.2l2.2 .2l2.1 .6l2.2 .4l2.1-.6l2.2-.6l2.2 1.1l2.1-.8h2.2l2.1-.2l2.2 .1l2.2 .4l2.1 .7l2.2-1.1l2.1 .7l2.2-.7l2.2 .2l2.1 .3l2.2-.8h2.2l2.1 1.2l2.2-.8l2.1 .4l2.2-.7l2.2-.1l2.1 .4l2.2-.1l2.1 .1l2.2 .7l2.2-1.2l2.1 .7l2.2 .3l2.1-.8l2.2 1.1l2.2-.7l2.1 .1l2.2-.4h2.1l2.2 .7l2.2 .3l2.1-.6l2.2-.5l2.1-.1l2.2-.1l2.2 1.1l2.1-.1l2.2-.5l2.2-.3l2.1 .8l2.2-.8l2.1 1l2.2-1.2l2.2 .6l2.1 .1l2.2-.1l2.1-.6l2.2 .9l2.2-.3l2.1-.2l2.2 .3l2.1-.7l2.2 1.1l2.2 .2l2.1-1l2.2 .5l2.1 .4l2.2-1.1l2.2 .2l2.1 .9l2.2-.8l2.1 .5l2.2 .4h2.2l2.1-.2l2.2-.4l2.2 .2l2.1-.2l2.2 .5l2.1-.7l2.2-.3h2.2l2.1 .2l2.2-.3l2.1 .9l2.2 .1l2.2-1l2.1 1h2.2l2.1-.9l2.2 .1l2.2 .6l2.1 .5l2.2-.9l2.1-.5l2.2 .7h2.2l2.1 .5l2.2 .1l2.2-.7h2.1l2.2 .6l2.1-1l2.2-.1l2.2 1.3l2.1-.6l2.2 .2l2.1-.3l2.2-.1l2.2-.2l2.1 .8l2.2-.8l2.1 .8l2.2-.5l2.2-.6l2.1 .3l2.2 .1l2.1 .1l2.2-.6l2.2 1.1l2.1-.7l2.2-.1l2.1-.2l2.2 .3l2.2-.1l2.1 .1l2.2 .6l2.2 .5l2.1-1l2.2 .6" stroke="#ff0000"/>
<path d="M2.2 84l2.1-28h2.2l2.1 .1l2.2-.2l2.2 .1l2.1-.3l2.2 .5l2.1-.5l2.2 .8l2.2-.9l2.1 .3l2.2 .6h2.2l2.1-.2l2.2-.2l2.1-.4l2.2 .2h2.2l2.1 .3l2.2-.7l2.1 .3l2.2 .5l2.2 .2l2.1-.4h2.2l2.1-.4l2.2 .6l2.2-.2h2.1l2.2-.2l2.1 .4l2.2-.1l2.2-.4l2.1 .5l2.2 .2l2.1-.2l2.2-.2l2.2-.3l2.1 .1l2.2 .2l2.2 .2l2.1-.6l2.2-.1l2.1 .5l2.2-.2l2.2-.4l2.1 .8l2.2-.1l2.1 .3l2.2-.6h2.2l2.1 .2l2.2-.1l2.1-.3l2.2 .7l2.2-.7l2.1 .6l2.2-.7h2.1l2.2 .3l2.2 .5l2.1-.8l2.2 .2l2.1-.1l2.2 .5l2.2-.4l2.1 .5l2.2-.6l2.2 .5l2.1 .1h2.2l2.1 .2l2.2-.3l2.2 .2l2.1-.8l2.2 .3h2.1l2.2 .6l2.2-.9h2.1l2.2 .3l2.1-.1l2.2-.3l2.2 .5l2.1-.4l2.2 .2M188 55.8l2.1 190.8M192.3 55.8h2.5h-2.5l-2.2 190.8M192.3 55.8l2.2-.1h2.1l2.2 .3l2.2 .1l2.1-.2h2.2l2.1-.3l2.2 .5l2.2-.2l2.1-.2l2.2 .1l2.1 .1l2.2 .4l2.2-.3l2.1-.4l2.2 .9l2.1-.7l2.2 .6l2.2-.5l2.1-.3l2.2 .3l2.1 .2l2.2-.5l2.2 .5l2.1 .1l2.2-.2l2.1-.3l2.2-.1l2.2 .8l2.1-.2l2.2-.1l2.2-.1l2.1-.3l2.2 .4l2.1 .4h2.2l2.2-.5l2.1-.3l2.2 .7l2.1 .1l2.2-.2l2.2 .2l2.1-.4l2.2-.2l2.1-.3l2.2 .7h2.2l2.1-.2l2.2 .2l2.1-.1l2.2-.2l2.2-.2l2.1-.1l2.2 .7M309 56.4l2.2 27.6M313.3 56.1h2h-2l-2.1 27.9M313.3 56.1l2.2-.5l2.1 .4l2.2-.3l2.2 .4l2.1 .2l2.2-.6l2.1 .1l2.2-.2l2.2-.1l2.1 .2l2.2-.1l2.1 .6l2.2-.1l2.2-.3l2.1 .7h2.2l2.1-.1l2.2-.7l2.2 .7l2.1-.6h2.2l2.1 .2l2.2 .4l2.2-.4l2.1-.2l2.2 .2h2.2l2.1 .1l2.2-.5l2.1 .1M378.1 55.7l2.2 34.6M382.5 56.3h2h-2l-2.2 34M382.5 56.3l2.1-.3l2.2 .5l2.1-.5l2.2-.3l2.2 .3l2.1 .5l2.2-.4l2.1-.5l2.2 .5h2.2l2.1-.5l2.2 .6l2.1-.3l2.2 .5l2.2 .1l2.1-.2M417 56.3l2.2-8.5M421.3 55.9h1.5h-1.5l-2.1-8.1M421.3 55.9l2.2-.1l2.2 .2l2.1 .3l2.2-.2h2.2l2.1 .3l2.2-.5l2.1 .1M438.6 56l2.2-53.2M443 56.3h2.5h-2.5l-2.2-53.5M443 56.3l2.1-.6l2.2 .5l2.1-.6l2.2-.1l2.2 .9l2.1-.6l2.2 .6l2.1-.3l2.2 .3l2.2-.6l2.1 .5l2.2-.7l2.1 .8l2.2-.6h2.2l2.1 .7h2.2l2.2-.5l2.1 .4l2.2-.1l2.1-.8l2.2 .9l2.2-.8l2.1 .2l2.2 .3h2.1l2.2 .4l2.2-.8l2.1 .4h2.2l2.1 .3l2.2 .1l2.2-.8h2.1l2.2 .4l2.1-.1l2.2-.3l2.2-.1l2.1 .1l2.2 .4l2.1-.5l2.2 .2l2.2 .3l2.1 .4l2.2-.4l2.2 .1l2.1-.3l2.2-.3" stroke="#0000ff" stroke-dasharray="12.4 11.3"/>
</g>
<g font-size="23.60" fill="#000">
<g text-anchor="middle">
<text transform="translate(0.00,242.64) scale(1,1.070)">0</text>
<text transform="translate(108.04,242.64) scale(1,1.070)">50</text>
<text transform="translate(216.08,242.64) scale(1,1.070)">100</text>
<text transform="translate(324.11,242.64) scale(1,1.070)">150</text>
<text transform="translate(432.15,242.64) scale(1,1.070)">200</text>
<text transform="translate(540.19,242.64) scale(1,1.070)">250</text>
<text transform="translate(648.23,242.64) scale(1,1.070)">300</text>
</g><g text-anchor="end">
<text transform="translate(-8.85,192.18) scale(1,1.070)">0.4</text>
<text transform="translate(-8.85,142.16) scale(1,1.070)">0.6</text>
<text transform="translate(-8.85,92.14) scale(1,1.070)">0.8</text>
<text transform="translate(-8.85,42.11) scale(1,1.070)">1</text>
</g></g>
<g font-size="26.10" fill="#000" text-anchor="middle">
<text x="323.41" y="275.34">Data samples</text>
<text transform="translate(-50.57,107.12) rotate(-90)">ERF</text>
</g>
<rect x="482.73" y="123.90" width="158.00" height="57.66" fill="#fff" stroke="#3c3c3c" stroke-width="1.20"/>
<path d="M488.83 139.50H548.83" stroke="#ff0000" stroke-width="4.20" fill="none"/>
<path d="M488.83 165.86H548.83" stroke="#0000ff" stroke-width="4.20" stroke-dasharray="12.4 11.3" fill="none"/>
<g font-size="21.20" fill="#000">
<text x="553.73" y="147.30">Actual</text>
<text x="553.73" y="173.66">Predicted</text>
</g>
</g>
<g transform="translate(883.57,1565.57)">
<clipPath id="c12"><rect x="-2.3" y="-1.1" width="652.8" height="213.5"/></clipPath>
<path d="M0 0H648.23V210.13H0Z" fill="none" stroke="#1a1a1a" stroke-width="1.20"/>
<path d="M0.00 210.13v-7.00M0.00 0v7.00M108.04 210.13v-7.00M108.04 0v7.00M216.08 210.13v-7.00M216.08 0v7.00M324.11 210.13v-7.00M324.11 0v7.00M432.15 210.13v-7.00M432.15 0v7.00M540.19 210.13v-7.00M540.19 0v7.00M648.23 210.13v-7.00M648.23 0v7.00M0 210.13h7.00M648.23 210.13h-7.00M0 157.60h7.00M648.23 157.60h-7.00M0 105.07h7.00M648.23 105.07h-7.00M0 52.53h7.00M648.23 52.53h-7.00M0 0.00h7.00M648.23 0.00h-7.00" fill="none" stroke="#1a1a1a" stroke-width="1.20"/>
<g clip-path="url(#c12)" fill="none" stroke-width="4.20" stroke-linejoin="round">
<path d="M2.2 52.5l2.1 21l2.2-42h2.1l2.2 42l2.2-42l2.1 31.5l2.2-10.5l2.1-21l2.2 21l2.2 21h2.1l2.2-10.5l2.2 10.5l2.1-10.5h2.2h2.1h2.2l2.2 10.5h2.1h2.2h2.1h2.2h2.2h2.1l2.2-10.5h2.1l2.2 10.5l2.2-10.5l2.1-10.5l2.2-21l2.1 42h2.2h2.2h2.1l2.2-10.5l2.1 10.5h2.2h2.2h2.1h2.2h2.2l2.1-10.5h2.2h2.1l2.2 10.5l2.2-42l2.1 31.5l2.2 10.5h2.1h2.2l2.2-10.5l2.1 10.5l2.2-10.5l2.1 10.5h2.2l2.2-42l2.1 31.5l2.2 10.5l2.1-10.5h2.2l2.2-31.5l2.1 42l2.2-10.5l2.1 10.5h2.2l2.2-42l2.1 42h2.2h2.2l2.1-10.5h2.2h2.1l2.2 10.5h2.2l2.1-42l2.2 42h2.1h2.2h2.2h2.1h2.2h2.1h2.2h2.2h2.1l2.2-10.5l2.1-10.5l2.2 21l2.2-10.5l2.1-31.5l2.2 31.5l2.2 10.5l2.1-10.5h2.2l2.1 10.5l2.2-10.5l2.2 10.5l2.1-10.5l2.2 10.5l2.1-10.5h2.2l2.2 10.5l2.1-21l2.2-10.5l2.1 10.5l2.2 10.5l2.2 10.5h2.1l2.2-10.5l2.1 10.5h2.2h2.2l2.1-21l2.2-10.5h2.1h2.2l2.2 31.5l2.1-21l2.2-21l2.2 52.6l2.1-52.6l2.2 31.5l2.1 10.5h2.2l2.2-10.5l2.1 10.5h2.2h2.1l2.2-10.5h2.2l2.1 10.5l2.2-10.5l2.1-31.5l2.2 31.5l2.2 10.5h2.1l2.2-10.5h2.1l2.2 10.5l2.2-10.5h2.1h2.2l2.2-10.5l2.1 21l2.2-10.5h2.1l2.2 10.5h2.2l2.1-10.5h2.2l2.1 10.5l2.2-10.5h2.2l2.1-31.5l2.2 42h2.1l2.2-10.5l2.2-10.5l2.1-10.5l2.2 21l2.1 10.5l2.2-10.5l2.2 10.5l2.1-10.5h2.2l2.1 10.5h2.2l2.2-10.5h2.1l2.2 10.5h2.2h2.1l2.2-10.5l2.1-10.5h2.2l2.2 10.5h2.1l2.2 10.5h2.1h2.2h2.2h2.1h2.2h2.1h2.2h2.2l2.1-10.5h2.2h2.1h2.2h2.2h2.1l2.2-31.5l2.1 42h2.2l2.2-21l2.1-10.5h2.2l2.2 31.5l2.1-10.5h2.2l2.1-10.5l2.2-21h2.2l2.1 31.5l2.2 10.5l2.1-10.5l2.2 10.5l2.2-10.5h2.1h2.2l2.1 10.5h2.2h2.2h2.1l2.2-10.5h2.1h2.2l2.2 10.5h2.1l2.2-10.5l2.2 10.5l2.1-10.5l2.2-31.5l2.1 42l2.2-10.5h2.2l2.1 10.5l2.2-21l2.1-21h2.2l2.2 42h2.1h2.2h2.1h2.2h2.2l2.1-10.5l2.2 10.5h2.1h2.2l2.2-10.5h2.1h2.2l2.1-31.5l2.2 31.5l2.2 10.5l2.1-10.5l2.2 10.5h2.2l2.1-21l2.2-21" stroke="#ff0000"/>
<path d="M2.2 52.5l2.1 18.9l2.2-39.9h2.1l2.2 42l2.2-42l2.1 31.5M15.1 63l2.2 84.1M19.4 31.5h2.5h-2.5l-2.1 115.6M19.4 31.5l2.2 21l2.2 21l2.1-10.5l2.2 10.5h2.2h2.1l2.2-10.5l2.1 10.5l2.2-10.5l2.2 10.5h2.1h2.2h2.1h2.2h2.2h2.1l2.2-10.5h2.1l2.2 10.5l2.2-10.5l2.1-10.5l2.2-21l2.1 31.5l2.2 10.5h2.2h2.1l2.2-10.5l2.1 10.5l2.2-10.5l2.2 10.5l2.1-10.5l2.2 10.5h2.2l2.1-10.5h2.2h2.1l2.2 10.5l2.2-42l2.1 31.5l2.2 10.5l2.1-10.5l2.2 10.5l2.2-10.5l2.1 10.5l2.2-10.5l2.1 10.5h2.2l2.2-42l2.1 31.5l2.2 10.5l2.1-10.5h2.2l2.2-31.5l2.1 42l2.2-10.5l2.1 10.5h2.2l2.2-42l2.1 42h2.2h2.2l2.1-10.5h2.2h2.1l2.2 10.5l2.2-10.5l2.1-31.5l2.2 42h2.1h2.2h2.2h2.1h2.2h2.1h2.2h2.2h2.1l2.2-10.5l2.1 5.3l2.2 5.2l2.2-10.5l2.1-31.5l2.2 31.5l2.2 10.5l2.1-10.5h2.2l2.1 10.5l2.2-10.5l2.2 10.5l2.1-10.5l2.2 10.5l2.1-10.5h2.2l2.2 10.5l2.1-21l2.2-10.5l2.1 10.5l2.2 10.5l2.2 10.5h2.1l2.2-10.5l2.1 10.5h2.2h2.2l2.1-21l2.2-10.5h2.1h2.2l2.2 31.5l2.1-21h2.2h2.2l2.1-21l2.2 31.5l2.1 10.5h2.2l2.2-10.5h2.1l2.2 10.5h2.1l2.2-10.5h2.2l2.1 10.5l2.2-10.5l2.1-31.5l2.2 31.5l2.2 10.5h2.1l2.2-10.5h2.1l2.2 10.5l2.2-10.5h2.1h2.2l2.2-31.5l2.1 42l2.2-10.5h2.1l2.2 10.5h2.2l2.1-10.5h2.2l2.1 10.5l2.2-10.5l2.2 10.5l2.1-42l2.2 42h2.1l2.2-10.5l2.2-10.5l2.1-10.5l2.2 21l2.1 10.5l2.2-10.5l2.2 10.5l2.1-10.5h2.2l2.1 10.5h2.2l2.2-10.5h2.1l2.2 10.5h2.2h2.1l2.2-10.5l2.1-10.5l2.2-21l2.2 31.5h2.1l2.2 10.5h2.1h2.2h2.2h2.1h2.2h2.1h2.2h2.2l2.1-10.5h2.2h2.1h2.2h2.2h2.1h2.2l2.1 10.5h2.2l2.2-21l2.1-10.5M427.8 42l2.2 87.2M432.2 73.5h2.5h-2.5l-2.2 55.7M432.2 73.5l2.1-10.5h2.2l2.1-10.5l2.2-21h2.2l2.1 31.5l2.2 10.5l2.1-10.5l2.2 10.5l2.2-10.5h2.1h2.2h2.1l2.2 10.5h2.2h2.1l2.2-10.5h2.1h2.2l2.2 10.5h2.1l2.2-10.5l2.2 10.5l2.1-10.5l2.2-31.5l2.1 42l2.2-10.5h2.2l2.1 10.5l2.2-21l2.1-10.5M499.1 42l2.2 100.9M503.5 73.5h2.5h-2.5l-2.2 69.4M503.5 73.5h2.1h2.2h2.1h2.2h2.2l2.1-10.5l2.2 10.5h2.1h2.2l2.2-10.5h2.1h2.2l2.1-31.5l2.2 31.5l2.2 10.5l2.1-10.5l2.2 10.5h2.2l2.1-21l2.2-21" stroke="#0000ff" stroke-dasharray="12.4 11.3"/>
</g>
<g font-size="23.60" fill="#000">
<g text-anchor="middle">
<text transform="translate(0.00,240.93) scale(1,1.070)">0</text>
<text transform="translate(108.04,240.93) scale(1,1.070)">50</text>
<text transform="translate(216.08,240.93) scale(1,1.070)">100</text>
<text transform="translate(324.11,240.93) scale(1,1.070)">150</text>
<text transform="translate(432.15,240.93) scale(1,1.070)">200</text>
<text transform="translate(540.19,240.93) scale(1,1.070)">250</text>
<text transform="translate(648.23,240.93) scale(1,1.070)">300</text>
</g><g text-anchor="end">
<text transform="translate(-8.85,218.23) scale(1,1.070)">-10</text>
<text transform="translate(-8.85,165.70) scale(1,1.070)">-5</text>
<text transform="translate(-8.85,113.17) scale(1,1.070)">0</text>
<text transform="translate(-8.85,60.63) scale(1,1.070)">5</text>
<text transform="translate(-8.85,8.10) scale(1,1.070)">10</text>
</g></g>
<g font-size="26.10" fill="#000" text-anchor="middle">
<text x="323.41" y="273.63">Data samples</text>
<text transform="translate(-53.37,107.57) rotate(-90)">DC Value</text>
</g>
<rect x="487.23" y="134.03" width="158.00" height="57.66" fill="#fff" stroke="#3c3c3c" stroke-width="1.20"/>
<path d="M493.33 149.63H553.33" stroke="#ff0000" stroke-width="4.20" fill="none"/>
<path d="M493.33 175.99H553.33" stroke="#0000ff" stroke-width="4.20" stroke-dasharray="12.4 11.3" fill="none"/>
<g font-size="21.20" fill="#000">
<text x="558.23" y="157.43">Actual</text>
<text x="558.23" y="183.79">Predicted</text>
</g>
</g>
<g transform="translate(69.75,1902.85)">
<clipPath id="c13"><rect x="-2.3" y="-1.1" width="652.5" height="215.4"/></clipPath>
<path d="M0 0H647.90V211.95H0Z" fill="none" stroke="#1a1a1a" stroke-width="1.20"/>
<path d="M0.00 211.95v-7.00M0.00 0v7.00M92.56 211.95v-7.00M92.56 0v7.00M185.11 211.95v-7.00M185.11 0v7.00M277.67 211.95v-7.00M277.67 0v7.00M370.23 211.95v-7.00M370.23 0v7.00M462.79 211.95v-7.00M462.79 0v7.00M555.34 211.95v-7.00M555.34 0v7.00M647.90 211.95v-7.00M647.90 0v7.00M0 176.63h7.00M647.90 176.63h-7.00M0 88.31h7.00M647.90 88.31h-7.00M0 0.00h7.00M647.90 0.00h-7.00" fill="none" stroke="#1a1a1a" stroke-width="1.20"/>
<g clip-path="url(#c13)" fill="none" stroke-width="4.20" stroke-linejoin="round">
<path d="M4.6 26.5h4.7h4.6h4.6l4.6-3.9l4.7 2.5l4.6 1.4h4.6l4.7-1.4h4.6l4.6 1.4l4.6-1.8l4.7 1.8h4.6h4.6l4.6-2.1h4.7h4.6l4.6 2.1h4.7l4.6-1.8l4.6 1.8l4.6-4.4l4.7 2.6l4.6 .4l4.6 1.4h4.7h4.6l4.6-1.8l4.6 1.8l4.7-3.5l4.6 3.5h4.6l4.6-6.2l4.7 6.2h4.6l4.6-3.5l4.7-.9l4.6-.9l4.6-5.3l4.6 8.8l4.7 1.8l4.6-3.5l4.6 1.7l4.7 1.8l4.6-.9l4.6-1.2l4.6 2.1l4.7-3.5l4.6 3.5l4.6-1.8l4.6-1.4l4.7-1.2l4.6 2.3l4.6 2.1h4.7l4.6-2.1h4.6l4.6 2.1l4.7-.9l4.6 .9l4.6-1.8l4.7-.3h4.6l4.6 2.1l4.6-3.5l4.7 3.5h4.6l4.6-2.7h4.6l4.7-.8l4.6 3.5l4.6-1.8l4.7 1.8l4.6-6.2l4.6 6.2l4.6-3.5l4.7 3.5l4.6-1.8l4.6 1.8l4.7-2.1l4.6 1.2l4.6 .9l4.6-1.8l4.7 1.8h4.6h4.6l4.7-2.7l4.6 2.7h4.6l4.6-6.2l4.7 2.7l4.6 .3l4.6 2.3l4.6 .9l4.7-1.8h4.6l4.6 1.8l4.7-1.8l4.6 .9l4.6-1.2l4.6-1.4l4.7 3.5h4.6l4.6-1.8l4.7 1.8h4.6l4.6-1.8l4.6 1.8h4.7l4.6-2.1l4.6 2.1h4.6l4.7 185.5h4.6h4.6h4.7h4.6h4.6l4.6-6.2l4.7 4.4l4.6 1.8l4.6-1.8l4.7 1.8h4.6h4.6h4.6h4.7l4.6-1.8l4.6 1.8h4.6h4.7h4.6h4.6h4.7l4.6-1.8l4.6 1.8h4.6h4.7h4.6" stroke="#ff0000"/>
<path d="M4.6 26.5h4.7h4.6h4.6l4.6-3.9l4.7 2.5l4.6 1.4h4.6l4.7-1.4h4.6l4.6 1.4l4.6-1.8l4.7 1.8h4.6h4.6l4.6-2.1h4.7h4.6l4.6 2.1h4.7l4.6-1.8l4.6 1.8l4.6-4.4l4.7 2.6l4.6 .4l4.6 1.4h4.7h4.6l4.6-1.8l4.6 1.8l4.7-3.5l4.6 3.5h4.6l4.6-6.2l4.7 6.2h4.6l4.6-3.5l4.7-.9l4.6-.9l4.6-5.3l4.6 8.8l4.7 1.8l4.6-3.5l4.6 1.7l4.7 1.8l4.6-.9l4.6-1.2l4.6 2.1l4.7-3.5l4.6 3.5l4.6-1.8l4.6-1.4l4.7-1.2l4.6 2.3l4.6 2.1h4.7l4.6-2.1h4.6l4.6 2.1l4.7-.9l4.6 .9l4.6-1.8l4.7-.3h4.6l4.6 2.1l4.6-3.5l4.7 3.5h4.6l4.6-2.7h4.6l4.7-.8l4.6 3.5l4.6-1.8l4.7 1.8l4.6-6.2l4.6 6.2l4.6-3.5l4.7 3.5l4.6-1.8l4.6 1.8l4.7-2.1l4.6 1.2l4.6 .9l4.6-1.8l4.7 1.8h4.6h4.6l4.7-2.7l4.6 2.7h4.6l4.6-6.2l4.7 2.7l4.6 .3l4.6 2.3l4.6 .9l4.7-1.8h4.6l4.6 1.8l4.7-1.8l4.6 .9l4.6-1.2l4.6-1.4l4.7 3.5h4.6l4.6-1.8l4.7 1.8h4.6l4.6-1.8l4.6 1.8h4.7l4.6-2.1l4.6 2.1h4.6l4.7 185.5h4.6h4.6h4.7h4.6h4.6l4.6-6.2l4.7 4.4l4.6 1.8l4.6-1.8l4.7 1.8h4.6h4.6h4.6h4.7l4.6-1.8l4.6 1.8h4.6h4.7h4.6h4.6h4.7l4.6-1.8l4.6 1.8h4.6h4.7h4.6" stroke="#0000ff" stroke-dasharray="12.4 11.3"/>
</g>
<g font-size="23.60" fill="#000">
<g text-anchor="middle">
<text transform="translate(0.00,242.75) scale(1,1.070)">0</text>
<text transform="translate(92.56,242.75) scale(1,1.070)">20</text>
<text transform="translate(185.11,242.75) scale(1,1.070)">40</text>
<text transform="translate(277.67,242.75) scale(1,1.070)">60</text>
<text transform="translate(370.23,242.75) scale(1,1.070)">80</text>
<text transform="translate(462.79,242.75) scale(1,1.070)">100</text>
<text transform="translate(555.34,242.75) scale(1,1.070)">120</text>
<text transform="translate(647.90,242.75) scale(1,1.070)">140</text>
</g><g text-anchor="end">
<text transform="translate(-8.85,184.73) scale(1,1.070)">0.6</text>
<text transform="translate(-8.85,96.41) scale(1,1.070)">0.65</text>
<text transform="translate(-8.85,8.10) scale(1,1.070)">0.7</text>
</g></g>
<g font-size="26.10" fill="#000" text-anchor="middle">
<text x="323.25" y="275.45">Data samples</text>
<text transform="translate(-52.55,106.78) rotate(-90)">ERF</text>
</g>
<rect x="473.25" y="12.15" width="158.00" height="57.66" fill="#fff" stroke="#3c3c3c" stroke-width="1.20"/>
<path d="M479.35 27.75H539.35" stroke="#ff0000" stroke-width="4.20" fill="none"/>
<path d="M479.35 54.11H539.35" stroke="#0000ff" stroke-width="4.20" stroke-dasharray="12.4 11.3" fill="none"/>
<g font-size="21.20" fill="#000">
<text x="544.25" y="35.55">Actual</text>
<text x="544.25" y="61.91">Predicted</text>
</g>
</g>
<g transform="translate(69.75,2201.08)">
<clipPath id="c14"><rect x="-2.3" y="-1.1" width="652.5" height="214.1"/></clipPath>
<path d="M0 0H647.90V210.72H0Z" fill="none" stroke="#1a1a1a" stroke-width="1.20"/>
<path d="M0.00 210.72v-7.00M0.00 0v7.00M92.56 210.72v-7.00M92.56 0v7.00M185.11 210.72v-7.00M185.11 0v7.00M277.67 210.72v-7.00M277.67 0v7.00M370.23 210.72v-7.00M370.23 0v7.00M462.79 210.72v-7.00M462.79 0v7.00M555.34 210.72v-7.00M555.34 0v7.00M647.90 210.72v-7.00M647.90 0v7.00M0 210.72h7.00M647.90 210.72h-7.00M0 140.48h7.00M647.90 140.48h-7.00M0 70.24h7.00M647.90 70.24h-7.00M0 0.00h7.00M647.90 0.00h-7.00" fill="none" stroke="#1a1a1a" stroke-width="1.20"/>
<g clip-path="url(#c14)" fill="none" stroke-width="4.20" stroke-linejoin="round">
<path d="M4.6 70.2l4.7 70.3l4.6-70.3l4.6 70.3l4.6-105.4h4.7l4.6 105.4l4.6-105.4h4.7l4.6 17.6l4.6 17.5l4.6-35.1l4.7 35.1h4.6h4.6l4.6-35.1h4.7h4.6l4.6 35.1l4.7-35.1h4.6l4.6 35.1l4.6-35.1h4.7h4.6l4.6 35.1l4.7-35.1l4.6 35.1l4.6-35.1l4.6 140.5l4.7-140.5h4.6l4.6 105.4l4.6-105.4h4.7h4.6h4.6h4.7h4.6l4.6 70.3l4.6-35.2h4.7l4.6-35.1h4.6h4.7h4.6l4.6 140.5l4.6-105.4l4.7-35.1h4.6h4.6h4.6l4.7 140.5l4.6-140.5l4.6 140.5l4.7-140.5l4.6 140.5l4.6-140.5l4.6 140.5l4.7-35.1l4.6-70.3l4.6 105.4l4.7-140.5l4.6 140.5l4.6-140.5h4.6h4.7h4.6h4.6h4.6h4.7l4.6 105.4l4.6-105.4h4.7l4.6 70.3l4.6-35.2l4.6-35.1h4.7l4.6 35.1l4.6-35.1l4.7 35.1l4.6-35.1h4.6h4.6l4.7 140.5l4.6-140.5l4.6 35.1l4.7 105.4l4.6-140.5h4.6h4.6h4.7h4.6l4.6 105.4h4.6l4.7 35.1l4.6-105.4h4.6l4.7-35.1l4.6 140.5l4.6-140.5h4.6l4.7 105.4l4.6-105.4h4.6h4.7h4.6h4.6h4.6h4.7l4.6 35.1h4.6l4.6 70.3l4.7-70.3l4.6 70.3l4.6-70.3h4.7l4.6 140.5l4.6-140.5l4.6 140.5l4.7-140.5h4.6l4.6 140.5l4.7-140.5h4.6h4.6h4.6h4.7h4.6l4.6 140.5l4.6-140.5h4.7h4.6h4.6h4.7l4.6 140.5l4.6-140.5h4.6h4.7h4.6" stroke="#ff0000"/>
<path d="M4.6 70.2l4.7 70.3l4.6-70.3l4.6 70.3l4.6-105.4h4.7l4.6 105.4l4.6-105.4h4.7l4.6 17.6l4.6 17.5l4.6-35.1l4.7 35.1h4.6h4.6l4.6-35.1h4.7h4.6l4.6 35.1l4.7-35.1h4.6l4.6 35.1l4.6-35.1h4.7h4.6l4.6 35.1l4.7-35.1l4.6 35.1l4.6-35.1l4.6 140.5l4.7-140.5h4.6l4.6 105.4l4.6-105.4h4.7h4.6h4.6h4.7h4.6l4.6 70.3l4.6-35.2h4.7l4.6-35.1h4.6h4.7h4.6l4.6 140.5l4.6-105.4l4.7-35.1h4.6h4.6h4.6l4.7 140.5l4.6-140.5l4.6 140.5l4.7-140.5l4.6 140.5l4.6-140.5l4.6 140.5l4.7-35.1l4.6-70.3l4.6 105.4l4.7-140.5l4.6 140.5l4.6-140.5h4.6h4.7h4.6h4.6h4.6h4.7l4.6 105.4l4.6-105.4h4.7l4.6 70.3l4.6-35.2l4.6-35.1h4.7l4.6 35.1l4.6-35.1l4.7 35.1l4.6-35.1h4.6h4.6l4.7 140.5l4.6-140.5l4.6 35.1l4.7 105.4l4.6-140.5h4.6h4.6h4.7h4.6l4.6 105.4h4.6l4.7 35.1l4.6-105.4h4.6l4.7-35.1l4.6 140.5l4.6-140.5h4.6l4.7 105.4l4.6-105.4h4.6h4.7h4.6h4.6h4.6h4.7l4.6 35.1h4.6l4.6 70.3l4.7-70.3l4.6 70.3l4.6-70.3h4.7l4.6 140.5l4.6-140.5l4.6 140.5l4.7-140.5h4.6l4.6 140.5l4.7-140.5h4.6h4.6h4.6h4.7h4.6l4.6 140.5l4.6-140.5h4.7h4.6h4.6h4.7l4.6 140.5l4.6-140.5h4.6h4.7h4.6" stroke="#0000ff" stroke-dasharray="12.4 11.3"/>
</g>
<g font-size="23.60" fill="#000">
<g text-anchor="middle">
<text transform="translate(0.00,241.52) scale(1,1.070)">0</text>
<text transform="translate(92.56,241.52) scale(1,1.070)">20</text>
<text transform="translate(185.11,241.52) scale(1,1.070)">40</text>
<text transform="translate(277.67,241.52) scale(1,1.070)">60</text>
<text transform="translate(370.23,241.52) scale(1,1.070)">80</text>
<text transform="translate(462.79,241.52) scale(1,1.070)">100</text>
<text transform="translate(555.34,241.52) scale(1,1.070)">120</text>
<text transform="translate(647.90,241.52) scale(1,1.070)">140</text>
</g><g text-anchor="end">
<text transform="translate(-8.85,218.82) scale(1,1.070)">2</text>
<text transform="translate(-8.85,148.58) scale(1,1.070)">4</text>
<text transform="translate(-8.85,78.34) scale(1,1.070)">6</text>
<text transform="translate(-8.85,8.10) scale(1,1.070)">8</text>
</g></g>
<g font-size="26.10" fill="#000" text-anchor="middle">
<text x="323.25" y="274.22">Data samples</text>
<text transform="translate(-43.95,107.86) rotate(-90)">DC Value</text>
</g>
<rect x="473.25" y="12.22" width="158.00" height="57.66" fill="#fff" stroke="#3c3c3c" stroke-width="1.20"/>
<path d="M479.35 27.82H539.35" stroke="#ff0000" stroke-width="4.20" fill="none"/>
<path d="M479.35 54.18H539.35" stroke="#0000ff" stroke-width="4.20" stroke-dasharray="12.4 11.3" fill="none"/>
<g font-size="21.20" fill="#000">
<text x="544.25" y="35.62">Actual</text>
<text x="544.25" y="61.98">Predicted</text>
</g>
</g>
<g transform="translate(883.57,1902.85)">
<clipPath id="c15"><rect x="-2.3" y="-1.1" width="652.8" height="215.4"/></clipPath>
<path d="M0 0H648.23V211.95H0Z" fill="none" stroke="#1a1a1a" stroke-width="1.20"/>
<path d="M0.00 211.95v-7.00M0.00 0v7.00M129.65 211.95v-7.00M129.65 0v7.00M259.29 211.95v-7.00M259.29 0v7.00M388.94 211.95v-7.00M388.94 0v7.00M518.58 211.95v-7.00M518.58 0v7.00M648.23 211.95v-7.00M648.23 0v7.00M0 176.63h7.00M648.23 176.63h-7.00M0 88.31h7.00M648.23 88.31h-7.00M0 0.00h7.00M648.23 0.00h-7.00" fill="none" stroke="#1a1a1a" stroke-width="1.20"/>
<g clip-path="url(#c15)" fill="none" stroke-width="4.20" stroke-linejoin="round">
<path d="M13 26.5h12.9l13-.5l13 .5l12.9-1.8l13 1.8l13-2.1h12.9l13 2.1l12.9-3.5l13 3.5l13-1.8l12.9 1.8l13-.9l13 .9h12.9l13-1.8l13 1.8h12.9l13-1.8l13 1.8h12.9l13-5.3l13 5.3h12.9l13-3.5l12.9 2.6l13 .9h13l12.9-3.5l13 3.5l13-1.8l12.9 1.8h13l13-1.8h12.9l13-.9l13 .9l12.9 1.8l13-1.8l12.9 1.8h13l13 185.5h12.9h13h13h12.9" stroke="#ff0000"/>
<path d="M13 26.5h12.9l13-.5l13 .5l12.9-1.8l13 1.8l13-2.1h12.9l13 2.1l12.9-3.5l13 3.5l13-1.8l12.9 1.8l13-.9l13 .9h12.9l13-1.8l13 1.8h12.9l13-1.8l13 1.8h12.9l13-5.3l13 5.3h12.9l13-3.5l12.9 2.6l13 .9h13l12.9-3.5l13 3.5l13-1.8l12.9 1.8h13l13-1.8h12.9l13-.9l13 .9l12.9 1.8l13-1.8l12.9 1.8h13l13 185.5h12.9h13h13h12.9" stroke="#0000ff" stroke-dasharray="12.4 11.3"/>
</g>
<g font-size="23.60" fill="#000">
<g text-anchor="middle">
<text transform="translate(0.00,242.75) scale(1,1.070)">0</text>
<text transform="translate(129.65,242.75) scale(1,1.070)">10</text>
<text transform="translate(259.29,242.75) scale(1,1.070)">20</text>
<text transform="translate(388.94,242.75) scale(1,1.070)">30</text>
<text transform="translate(518.58,242.75) scale(1,1.070)">40</text>
<text transform="translate(648.23,242.75) scale(1,1.070)">50</text>
</g><g text-anchor="end">
<text transform="translate(-8.85,184.73) scale(1,1.070)">0.6</text>
<text transform="translate(-8.85,96.41) scale(1,1.070)">0.65</text>
<text transform="translate(-8.85,8.10) scale(1,1.070)">0.7</text>
</g></g>
<g font-size="26.10" fill="#000" text-anchor="middle">
<text x="323.41" y="275.45">Data samples</text>
<text transform="translate(-53.37,106.78) rotate(-90)">ERF</text>
</g>
<rect x="473.33" y="12.15" width="158.00" height="57.66" fill="#fff" stroke="#3c3c3c" stroke-width="1.20"/>
<path d="M479.43 27.75H539.43" stroke="#ff0000" stroke-width="4.20" fill="none"/>
<path d="M479.43 54.11H539.43" stroke="#0000ff" stroke-width="4.20" stroke-dasharray="12.4 11.3" fill="none"/>
<g font-size="21.20" fill="#000">
<text x="544.33" y="35.55">Actual</text>
<text x="544.33" y="61.91">Predicted</text>
</g>
</g>
<g transform="translate(883.57,2201.08)">
<clipPath id="c16"><rect x="-2.3" y="-1.1" width="652.8" height="214.1"/></clipPath>
<path d="M0 0H648.23V210.72H0Z" fill="none" stroke="#1a1a1a" stroke-width="1.20"/>
<path d="M0.00 210.72v-7.00M0.00 0v7.00M129.65 210.72v-7.00M129.65 0v7.00M259.29 210.72v-7.00M259.29 0v7.00M388.94 210.72v-7.00M388.94 0v7.00M518.58 210.72v-7.00M518.58 0v7.00M648.23 210.72v-7.00M648.23 0v7.00M0 210.72h7.00M648.23 210.72h-7.00M0 118.22h7.00M648.23 118.22h-7.00M0 25.72h7.00M648.23 25.72h-7.00" fill="none" stroke="#1a1a1a" stroke-width="1.20"/>
<g clip-path="url(#c16)" fill="none" stroke-width="4.20" stroke-linejoin="round">
<path d="M13 81.2l12.9 74l13-18.5l13-37l12.9-18.5l13 18.5l13-18.5h12.9l13 18.5l12.9-18.5l13 18.5l13 55.5l12.9-74h13h13h12.9h13h13h12.9h13l13 18.5l12.9 74l13-18.5l13-74l12.9 74l13-74h12.9l13 74l13-74h12.9l13 18.5l13-18.5l12.9 18.5h13l13-18.5h12.9h13l13 74l12.9-74l13 74h12.9l13-74l13 18.5h12.9h13h13h12.9" stroke="#ff0000"/>
<path d="M13 84.9l12.9 74l13-18.5l13-55.5l12.9-3.7l13 31.5l13-31.5h12.9l13 22.2l12.9-22.2l13 18.5l13 24.1l12.9-57.4l13 46.3l13-31.5l12.9 13l13-11.1l13 5.5l12.9-49.9l13 42.5l13 18.5l12.9-18.5l13 114.7l13-111l12.9 75.9l13-64.8l12.9-11.1l13 68.5l13-35.2l12.9-37l13 22.2l13-22.2l12.9 16.7l13 1.8l13-18.5h12.9h13l13-83.2l12.9 98l13 7.4l12.9 48.1l13-85.1l13 33.3l12.9-98l13 98h13h12.9" stroke="#0000ff" stroke-dasharray="12.4 11.3"/>
</g>
<g font-size="23.60" fill="#000">
<g text-anchor="middle">
<text transform="translate(0.00,241.52) scale(1,1.070)">0</text>
<text transform="translate(129.65,241.52) scale(1,1.070)">10</text>
<text transform="translate(259.29,241.52) scale(1,1.070)">20</text>
<text transform="translate(388.94,241.52) scale(1,1.070)">30</text>
<text transform="translate(518.58,241.52) scale(1,1.070)">40</text>
<text transform="translate(648.23,241.52) scale(1,1.070)">50</text>
</g><g text-anchor="end">
<text transform="translate(-8.85,218.82) scale(1,1.070)">0</text>
<text transform="translate(-8.85,126.32) scale(1,1.070)">5</text>
<text transform="translate(-8.85,33.82) scale(1,1.070)">10</text>
</g></g>
<g font-size="26.10" fill="#000" text-anchor="middle">
<text x="323.41" y="274.22">Data samples</text>
<text transform="translate(-50.77,107.86) rotate(-90)">DC Value</text>
</g>
<rect x="473.33" y="12.22" width="158.00" height="57.66" fill="#fff" stroke="#3c3c3c" stroke-width="1.20"/>
<path d="M479.43 27.82H539.43" stroke="#ff0000" stroke-width="4.20" fill="none"/>
<path d="M479.43 54.18H539.43" stroke="#0000ff" stroke-width="4.20" stroke-dasharray="12.4 11.3" fill="none"/>
<g font-size="21.20" fill="#000">
<text x="544.33" y="35.62">Actual</text>
<text x="544.33" y="61.98">Predicted</text>
</g>
</g>
</svg></body></html>
